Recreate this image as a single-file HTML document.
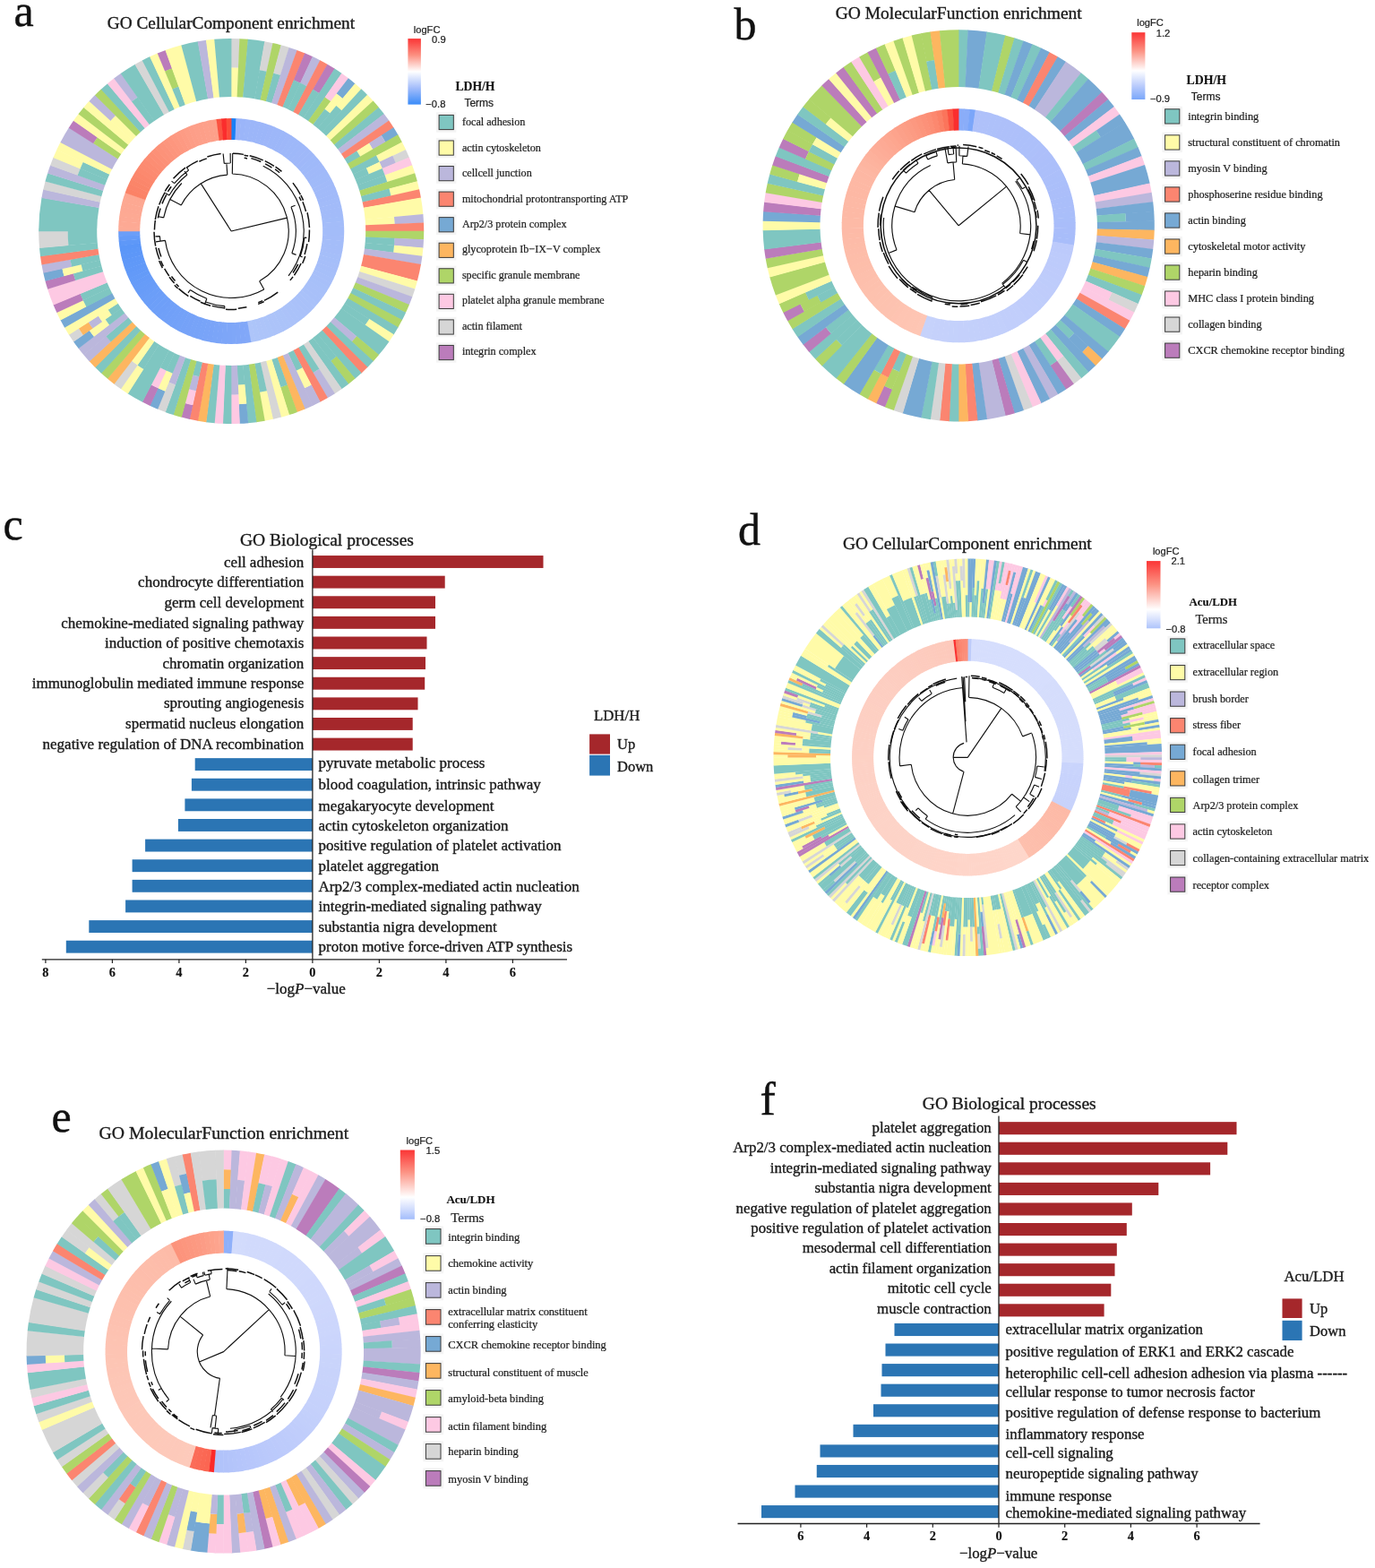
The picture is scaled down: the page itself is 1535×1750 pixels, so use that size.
<!DOCTYPE html>
<html><head><meta charset="utf-8"><title>GO enrichment figure</title>
<style>
html,body{margin:0;padding:0;background:#fff}
body{width:1535px;height:1750px;overflow:hidden}
svg{display:block;filter:blur(0.45px)}
text.s{font-family:"Liberation Serif","DejaVu Serif",serif}
text.n{font-family:"Liberation Sans","DejaVu Sans",sans-serif}
</style></head><body>
<svg width="1535" height="1750" viewBox="0 0 1535 1750">
<rect width="1535" height="1750" fill="#ffffff"/>
<g><path d="M257.97 43.00A215.00 215.00 0 0 1 267.80 43.21L266.34 75.83A182.35 182.35 0 0 0 258.01 75.65Z" fill="#d6d6d6"/><path d="M258.01 75.50A182.50 182.50 0 0 1 266.35 75.68L264.90 108.15A150.00 150.00 0 0 0 258.04 108.00Z" fill="#fffba8"/><path d="M267.35 43.19A215.00 215.00 0 0 1 277.16 43.84L271.43 108.58A150.00 150.00 0 0 0 264.59 108.14Z" fill="#afd568"/><path d="M276.71 43.80A215.00 215.00 0 0 1 295.76 46.31L284.40 110.31A150.00 150.00 0 0 0 271.12 108.56Z" fill="#7fc6c1"/><path d="M295.31 46.23A215.00 215.00 0 0 1 304.95 48.15L297.85 80.01A182.35 182.35 0 0 0 289.68 78.39Z" fill="#d6d6d6"/><path d="M289.70 78.24A182.50 182.50 0 0 1 297.89 79.87L290.82 111.59A150.00 150.00 0 0 0 284.09 110.25Z" fill="#7fc6c1"/><path d="M304.51 48.05A215.00 215.00 0 0 1 314.06 50.38L297.17 113.15A150.00 150.00 0 0 0 290.51 111.52Z" fill="#afd568"/><path d="M313.63 50.27A215.00 215.00 0 0 1 323.07 53.02L313.22 84.15A182.35 182.35 0 0 0 305.21 81.81Z" fill="#d6d6d6"/><path d="M305.25 81.67A182.50 182.50 0 0 1 313.26 84.00L303.46 114.99A150.00 150.00 0 0 0 296.87 113.07Z" fill="#7fc6c1"/><path d="M322.64 52.88A215.00 215.00 0 0 1 331.95 56.04L309.65 117.10A150.00 150.00 0 0 0 303.16 114.90Z" fill="#bbb7dc"/><path d="M331.52 55.89A215.00 215.00 0 0 1 340.68 59.45L315.75 119.48A150.00 150.00 0 0 0 309.36 116.99Z" fill="#fb8570"/><path d="M340.27 59.28A215.00 215.00 0 0 1 349.27 63.24L335.44 92.82A182.35 182.35 0 0 0 327.81 89.46Z" fill="#bb7cbb"/><path d="M327.86 89.32A182.50 182.50 0 0 1 335.50 92.68L321.74 122.12A150.00 150.00 0 0 0 315.46 119.36Z" fill="#7fc6c1"/><path d="M348.86 63.05A215.00 215.00 0 0 1 357.68 67.40L342.57 96.34A182.35 182.35 0 0 0 335.09 92.65Z" fill="#bbb7dc"/><path d="M335.15 92.52A182.50 182.50 0 0 1 342.64 96.21L327.60 125.02A150.00 150.00 0 0 0 321.45 121.99Z" fill="#7fc6c1"/><path d="M357.28 67.19A215.00 215.00 0 0 1 365.89 71.92L333.34 128.17A150.00 150.00 0 0 0 327.32 124.88Z" fill="#fb8570"/><path d="M365.50 71.69A215.00 215.00 0 0 1 373.91 76.79L356.34 104.31A182.35 182.35 0 0 0 349.21 99.98Z" fill="#bb7cbb"/><path d="M349.28 99.85A182.50 182.50 0 0 1 356.42 104.18L338.93 131.58A150.00 150.00 0 0 0 333.06 128.02Z" fill="#7fc6c1"/><path d="M373.53 76.55A215.00 215.00 0 0 1 381.70 82.01L344.37 135.22A150.00 150.00 0 0 0 338.66 131.41Z" fill="#7fc6c1"/><path d="M381.33 81.75A215.00 215.00 0 0 1 389.26 87.57L369.36 113.45A182.35 182.35 0 0 0 362.64 108.52Z" fill="#fdc9e3"/><path d="M362.72 108.40A182.50 182.50 0 0 1 369.45 113.33L349.64 139.09A150.00 150.00 0 0 0 344.11 135.04Z" fill="#afd568"/><path d="M388.91 87.29A215.00 215.00 0 0 1 396.57 93.45L382.53 110.14A193.18 193.18 0 0 0 375.64 104.61Z" fill="#76a9d4"/><path d="M375.73 104.50A193.33 193.33 0 0 1 382.63 110.03L368.59 126.73A171.52 171.52 0 0 0 362.47 121.82Z" fill="#fffba8"/><path d="M362.56 121.70A171.67 171.67 0 0 1 368.68 126.61L354.74 143.19A150.00 150.00 0 0 0 349.39 138.90Z" fill="#7fc6c1"/><path d="M396.23 93.16A215.00 215.00 0 0 1 403.62 99.64L381.53 123.69A182.35 182.35 0 0 0 375.27 118.19Z" fill="#fffba8"/><path d="M375.36 118.07A182.50 182.50 0 0 1 381.64 123.58L359.65 147.51A150.00 150.00 0 0 0 354.50 142.99Z" fill="#7fc6c1"/><path d="M403.29 99.33A215.00 215.00 0 0 1 410.39 106.13L364.38 152.05A150.00 150.00 0 0 0 359.42 147.30Z" fill="#7fc6c1"/><path d="M410.07 105.81A215.00 215.00 0 0 1 416.87 112.91L368.90 156.78A150.00 150.00 0 0 0 364.15 151.82Z" fill="#fffba8"/><path d="M416.56 112.58A215.00 215.00 0 0 1 423.04 119.97L373.21 161.70A150.00 150.00 0 0 0 368.69 156.55Z" fill="#afd568"/><path d="M422.75 119.63A215.00 215.00 0 0 1 428.91 127.29L377.30 166.81A150.00 150.00 0 0 0 373.01 161.46Z" fill="#7fc6c1"/><path d="M428.63 126.94A215.00 215.00 0 0 1 434.45 134.87L381.16 172.09A150.00 150.00 0 0 0 377.11 166.56Z" fill="#bbb7dc"/><path d="M434.19 134.50A215.00 215.00 0 0 1 439.65 142.67L384.79 177.54A150.00 150.00 0 0 0 380.98 171.83Z" fill="#fb8570"/><path d="M439.41 142.29A215.00 215.00 0 0 1 444.51 150.70L430.30 158.88A198.60 198.60 0 0 0 425.59 151.12Z" fill="#76a9d4"/><path d="M425.71 151.04A198.75 198.75 0 0 1 430.43 158.81L416.22 166.99A182.35 182.35 0 0 0 411.89 159.86Z" fill="#bbb7dc"/><path d="M412.02 159.78A182.50 182.50 0 0 1 416.35 166.92L402.13 175.10A166.10 166.10 0 0 0 398.19 168.61Z" fill="#fffba8"/><path d="M398.32 168.53A166.25 166.25 0 0 1 402.26 175.03L388.18 183.14A150.00 150.00 0 0 0 384.62 177.27Z" fill="#7fc6c1"/><path d="M444.28 150.31A215.00 215.00 0 0 1 449.01 158.92L391.32 188.88A150.00 150.00 0 0 0 388.03 182.86Z" fill="#afd568"/><path d="M448.80 158.52A215.00 215.00 0 0 1 453.15 167.34L423.55 181.11A182.35 182.35 0 0 0 419.86 173.63Z" fill="#fffba8"/><path d="M419.99 173.56A182.50 182.50 0 0 1 423.68 181.05L394.21 194.75A150.00 150.00 0 0 0 391.18 188.60Z" fill="#7fc6c1"/><path d="M452.96 166.93A215.00 215.00 0 0 1 456.92 175.93L441.76 182.19A198.60 198.60 0 0 0 438.10 173.88Z" fill="#d6d6d6"/><path d="M438.24 173.82A198.75 198.75 0 0 1 441.90 182.13L426.74 188.39A182.35 182.35 0 0 0 423.38 180.76Z" fill="#bbb7dc"/><path d="M423.52 180.70A182.50 182.50 0 0 1 426.88 188.34L411.72 194.60A166.10 166.10 0 0 0 408.66 187.65Z" fill="#fffba8"/><path d="M408.80 187.58A166.25 166.25 0 0 1 411.86 194.54L396.84 200.74A150.00 150.00 0 0 0 394.08 194.46Z" fill="#7fc6c1"/><path d="M456.75 175.52A215.00 215.00 0 0 1 460.31 184.68L429.62 195.81A182.35 182.35 0 0 0 426.60 188.04Z" fill="#fdc9e3"/><path d="M426.73 187.98A182.50 182.50 0 0 1 429.76 195.76L399.21 206.84A150.00 150.00 0 0 0 396.72 200.45Z" fill="#7fc6c1"/><path d="M460.16 184.25A215.00 215.00 0 0 1 463.32 193.56L432.17 203.35A182.35 182.35 0 0 0 429.49 195.45Z" fill="#fffba8"/><path d="M429.63 195.40A182.50 182.50 0 0 1 432.31 203.30L401.30 213.04A150.00 150.00 0 0 0 399.10 206.55Z" fill="#7fc6c1"/><path d="M463.18 193.13A215.00 215.00 0 0 1 465.93 202.57L403.13 219.33A150.00 150.00 0 0 0 401.21 212.74Z" fill="#afd568"/><path d="M465.82 202.14A215.00 215.00 0 0 1 468.15 211.69L436.27 218.72A182.35 182.35 0 0 0 434.29 210.62Z" fill="#fffba8"/><path d="M434.43 210.58A182.50 182.50 0 0 1 436.42 218.69L404.68 225.69A150.00 150.00 0 0 0 403.05 219.03Z" fill="#7fc6c1"/><path d="M468.05 211.25A215.00 215.00 0 0 1 469.97 220.89L405.95 232.11A150.00 150.00 0 0 0 404.61 225.38Z" fill="#fb8570"/><path d="M469.89 220.44A215.00 215.00 0 0 1 472.40 239.49L407.64 245.08A150.00 150.00 0 0 0 405.89 231.80Z" fill="#fffba8"/><path d="M472.36 239.04A215.00 215.00 0 0 1 473.01 248.85L440.38 250.24A182.35 182.35 0 0 0 439.84 241.92Z" fill="#bbb7dc"/><path d="M439.99 241.90A182.50 182.50 0 0 1 440.53 250.23L408.06 251.61A150.00 150.00 0 0 0 407.62 244.77Z" fill="#fffba8"/><path d="M472.99 248.40A215.00 215.00 0 0 1 473.20 258.23L408.20 258.16A150.00 150.00 0 0 0 408.05 251.30Z" fill="#fb8570"/><path d="M473.20 257.77A215.00 215.00 0 0 1 472.99 267.60L408.05 264.70A150.00 150.00 0 0 0 408.20 257.84Z" fill="#afd568"/><path d="M473.01 267.15A215.00 215.00 0 0 1 472.36 276.96L439.84 274.08A182.35 182.35 0 0 0 440.38 265.76Z" fill="#bbb7dc"/><path d="M440.53 265.77A182.50 182.50 0 0 1 439.99 274.10L407.62 271.23A150.00 150.00 0 0 0 408.06 264.39Z" fill="#7fc6c1"/><path d="M472.40 276.51A215.00 215.00 0 0 1 471.33 286.29L438.96 281.99A182.35 182.35 0 0 0 439.87 273.70Z" fill="#fffba8"/><path d="M440.02 273.72A182.50 182.50 0 0 1 439.11 282.01L406.90 277.73A150.00 150.00 0 0 0 407.64 270.92Z" fill="#7fc6c1"/><path d="M471.39 285.84A215.00 215.00 0 0 1 469.89 295.56L405.89 284.20A150.00 150.00 0 0 0 406.94 277.42Z" fill="#bbb7dc"/><path d="M469.97 295.11A215.00 215.00 0 0 1 465.82 313.86L403.05 296.97A150.00 150.00 0 0 0 405.95 283.89Z" fill="#fb8570"/><path d="M465.93 313.43A215.00 215.00 0 0 1 463.18 322.87L401.21 303.26A150.00 150.00 0 0 0 403.13 296.67Z" fill="#fffba8"/><path d="M463.32 322.44A215.00 215.00 0 0 1 460.16 331.75L399.10 309.45A150.00 150.00 0 0 0 401.30 302.96Z" fill="#d6d6d6"/><path d="M460.31 331.32A215.00 215.00 0 0 1 456.75 340.48L396.72 315.55A150.00 150.00 0 0 0 399.21 309.16Z" fill="#bbb7dc"/><path d="M456.92 340.07A215.00 215.00 0 0 1 452.96 349.07L394.08 321.54A150.00 150.00 0 0 0 396.84 315.26Z" fill="#afd568"/><path d="M453.15 348.66A215.00 215.00 0 0 1 448.80 357.48L391.18 327.40A150.00 150.00 0 0 0 394.21 321.25Z" fill="#7fc6c1"/><path d="M449.01 357.08A215.00 215.00 0 0 1 444.28 365.69L388.03 333.14A150.00 150.00 0 0 0 391.32 327.12Z" fill="#afd568"/><path d="M444.51 365.30A215.00 215.00 0 0 1 439.41 373.71L384.62 338.73A150.00 150.00 0 0 0 388.18 332.86Z" fill="#7fc6c1"/><path d="M439.65 373.33A215.00 215.00 0 0 1 434.19 381.50L407.46 362.75A182.35 182.35 0 0 0 412.09 355.82Z" fill="#fffba8"/><path d="M412.22 355.90A182.50 182.50 0 0 1 407.59 362.83L380.98 344.17A150.00 150.00 0 0 0 384.79 338.46Z" fill="#7fc6c1"/><path d="M434.45 381.13A215.00 215.00 0 0 1 422.75 396.37L373.01 354.54A150.00 150.00 0 0 0 381.16 343.91Z" fill="#7fc6c1"/><path d="M423.04 396.03A215.00 215.00 0 0 1 416.56 403.42L392.51 381.33A182.35 182.35 0 0 0 398.01 375.07Z" fill="#afd568"/><path d="M398.13 375.16A182.50 182.50 0 0 1 392.62 381.44L368.69 359.45A150.00 150.00 0 0 0 373.21 354.30Z" fill="#bbb7dc"/><path d="M416.87 403.09A215.00 215.00 0 0 1 410.07 410.19L364.15 364.18A150.00 150.00 0 0 0 368.90 359.22Z" fill="#7fc6c1"/><path d="M410.39 409.87A215.00 215.00 0 0 1 403.29 416.67L359.42 368.70A150.00 150.00 0 0 0 364.38 363.95Z" fill="#fb8570"/><path d="M403.62 416.36A215.00 215.00 0 0 1 396.23 422.84L354.50 373.01A150.00 150.00 0 0 0 359.65 368.49Z" fill="#7fc6c1"/><path d="M396.57 422.55A215.00 215.00 0 0 1 388.91 428.71L369.06 402.78A182.35 182.35 0 0 0 375.56 397.57Z" fill="#afd568"/><path d="M375.66 397.68A182.50 182.50 0 0 1 369.15 402.90L349.39 377.10A150.00 150.00 0 0 0 354.74 372.81Z" fill="#7fc6c1"/><path d="M389.26 428.43A215.00 215.00 0 0 1 381.33 434.25L344.11 380.96A150.00 150.00 0 0 0 349.64 376.91Z" fill="#7fc6c1"/><path d="M381.70 433.99A215.00 215.00 0 0 1 373.53 439.45L338.66 384.59A150.00 150.00 0 0 0 344.37 380.78Z" fill="#d6d6d6"/><path d="M373.91 439.21A215.00 215.00 0 0 1 365.50 444.31L349.21 416.02A182.35 182.35 0 0 0 356.34 411.69Z" fill="#bbb7dc"/><path d="M356.42 411.82A182.50 182.50 0 0 1 349.28 416.15L333.06 387.98A150.00 150.00 0 0 0 338.93 384.42Z" fill="#7fc6c1"/><path d="M365.89 444.08A215.00 215.00 0 0 1 357.28 448.81L327.32 391.12A150.00 150.00 0 0 0 333.34 387.83Z" fill="#fb8570"/><path d="M357.68 448.60A215.00 215.00 0 0 1 348.86 452.95L339.66 433.17A193.18 193.18 0 0 0 347.58 429.26Z" fill="#bbb7dc"/><path d="M347.65 429.40A193.33 193.33 0 0 1 339.72 433.30L330.52 413.52A171.52 171.52 0 0 0 337.56 410.05Z" fill="#fffba8"/><path d="M337.63 410.19A171.67 171.67 0 0 1 330.59 413.66L321.45 394.01A150.00 150.00 0 0 0 327.60 390.98Z" fill="#7fc6c1"/><path d="M349.27 452.76A215.00 215.00 0 0 1 340.27 456.72L315.46 396.64A150.00 150.00 0 0 0 321.74 393.88Z" fill="#bbb7dc"/><path d="M340.68 456.55A215.00 215.00 0 0 1 331.52 460.11L309.36 399.01A150.00 150.00 0 0 0 315.75 396.52Z" fill="#fdb660"/><path d="M331.95 459.96A215.00 215.00 0 0 1 322.64 463.12L312.85 431.97A182.35 182.35 0 0 0 320.75 429.29Z" fill="#afd568"/><path d="M320.80 429.43A182.50 182.50 0 0 1 312.90 432.11L303.16 401.10A150.00 150.00 0 0 0 309.65 398.90Z" fill="#7fc6c1"/><path d="M323.07 462.98A215.00 215.00 0 0 1 313.63 465.73L296.87 402.93A150.00 150.00 0 0 0 303.46 401.01Z" fill="#fffba8"/><path d="M314.06 465.62A215.00 215.00 0 0 1 304.51 467.95L290.51 404.48A150.00 150.00 0 0 0 297.17 402.85Z" fill="#d6d6d6"/><path d="M304.95 467.85A215.00 215.00 0 0 1 295.31 469.77L289.68 437.61A182.35 182.35 0 0 0 297.85 435.99Z" fill="#fffba8"/><path d="M297.89 436.13A182.50 182.50 0 0 1 289.70 437.76L284.09 405.75A150.00 150.00 0 0 0 290.82 404.41Z" fill="#7fc6c1"/><path d="M295.76 469.69A215.00 215.00 0 0 1 286.04 471.19L277.62 406.74A150.00 150.00 0 0 0 284.40 405.69Z" fill="#afd568"/><path d="M286.49 471.13A215.00 215.00 0 0 1 276.71 472.20L271.12 407.44A150.00 150.00 0 0 0 277.93 406.70Z" fill="#7fc6c1"/><path d="M277.16 472.16A215.00 215.00 0 0 1 267.35 472.81L266.42 451.01A193.18 193.18 0 0 0 275.24 450.43Z" fill="#76a9d4"/><path d="M275.25 450.58A193.33 193.33 0 0 1 266.43 451.16L265.50 429.36A171.52 171.52 0 0 0 273.33 428.85Z" fill="#fffba8"/><path d="M273.34 429.00A171.67 171.67 0 0 1 265.51 429.51L264.59 407.86A150.00 150.00 0 0 0 271.43 407.42Z" fill="#7fc6c1"/><path d="M267.80 472.79A215.00 215.00 0 0 1 257.97 473.00L258.01 440.35A182.35 182.35 0 0 0 266.34 440.17Z" fill="#fdc9e3"/><path d="M266.35 440.32A182.50 182.50 0 0 1 258.01 440.50L258.04 408.00A150.00 150.00 0 0 0 264.90 407.85Z" fill="#bbb7dc"/><path d="M258.43 473.00A215.00 215.00 0 0 1 248.60 472.79L251.50 407.85A150.00 150.00 0 0 0 258.36 408.00Z" fill="#7fc6c1"/><path d="M249.05 472.81A215.00 215.00 0 0 1 239.24 472.16L244.97 407.42A150.00 150.00 0 0 0 251.81 407.86Z" fill="#fdc9e3"/><path d="M239.69 472.20A215.00 215.00 0 0 1 229.91 471.13L238.47 406.70A150.00 150.00 0 0 0 245.28 407.44Z" fill="#7fc6c1"/><path d="M230.36 471.19A215.00 215.00 0 0 1 220.64 469.69L232.00 405.69A150.00 150.00 0 0 0 238.78 406.74Z" fill="#fdb660"/><path d="M221.09 469.77A215.00 215.00 0 0 1 211.45 467.85L225.58 404.41A150.00 150.00 0 0 0 232.31 405.75Z" fill="#fb8570"/><path d="M211.89 467.95A215.00 215.00 0 0 1 202.34 465.62L206.60 449.78A198.60 198.60 0 0 0 215.42 451.94Z" fill="#bb7cbb"/><path d="M215.39 452.08A198.75 198.75 0 0 1 206.56 449.92L210.82 434.09A182.35 182.35 0 0 0 218.92 436.07Z" fill="#fdc9e3"/><path d="M218.89 436.22A182.50 182.50 0 0 1 210.78 434.23L215.04 418.40A166.10 166.10 0 0 0 222.42 420.20Z" fill="#bbb7dc"/><path d="M222.39 420.35A166.25 166.25 0 0 1 215.00 418.54L219.23 402.85A150.00 150.00 0 0 0 225.89 404.48Z" fill="#7fc6c1"/><path d="M202.77 465.73A215.00 215.00 0 0 1 193.33 462.98L212.94 401.01A150.00 150.00 0 0 0 219.53 402.93Z" fill="#afd568"/><path d="M193.76 463.12A215.00 215.00 0 0 1 184.45 459.96L206.75 398.90A150.00 150.00 0 0 0 213.24 401.10Z" fill="#7fc6c1"/><path d="M184.88 460.11A215.00 215.00 0 0 1 175.72 456.55L188.24 426.40A182.35 182.35 0 0 0 196.01 429.42Z" fill="#d6d6d6"/><path d="M195.96 429.56A182.50 182.50 0 0 1 188.18 426.53L200.65 396.52A150.00 150.00 0 0 0 207.04 399.01Z" fill="#bbb7dc"/><path d="M176.13 456.72A215.00 215.00 0 0 1 167.13 452.76L176.37 433.00A193.18 193.18 0 0 0 184.46 436.56Z" fill="#76a9d4"/><path d="M184.40 436.69A193.33 193.33 0 0 1 176.31 433.13L185.55 413.37A171.52 171.52 0 0 0 192.73 416.53Z" fill="#fffba8"/><path d="M192.67 416.67A171.67 171.67 0 0 1 185.49 413.51L194.66 393.88A150.00 150.00 0 0 0 200.94 396.64Z" fill="#7fc6c1"/><path d="M167.54 452.95A215.00 215.00 0 0 1 158.72 448.60L168.82 429.26A193.18 193.18 0 0 0 176.74 433.17Z" fill="#bb7cbb"/><path d="M176.68 433.30A193.33 193.33 0 0 1 168.75 429.40L178.84 410.05A171.52 171.52 0 0 0 185.88 413.52Z" fill="#fdc9e3"/><path d="M185.81 413.66A171.67 171.67 0 0 1 178.77 410.19L188.80 390.98A150.00 150.00 0 0 0 194.95 394.01Z" fill="#7fc6c1"/><path d="M159.12 448.81A215.00 215.00 0 0 1 142.49 439.21L177.47 384.42A150.00 150.00 0 0 0 189.08 391.12Z" fill="#7fc6c1"/><path d="M142.87 439.45A215.00 215.00 0 0 1 134.70 433.99L153.45 407.26A182.35 182.35 0 0 0 160.38 411.89Z" fill="#fffba8"/><path d="M160.30 412.02A182.50 182.50 0 0 1 153.37 407.39L172.03 380.78A150.00 150.00 0 0 0 177.74 384.59Z" fill="#7fc6c1"/><path d="M135.07 434.25A215.00 215.00 0 0 1 127.14 428.43L147.04 402.55A182.35 182.35 0 0 0 153.76 407.48Z" fill="#d6d6d6"/><path d="M153.68 407.60A182.50 182.50 0 0 1 146.95 402.67L166.76 376.91A150.00 150.00 0 0 0 172.29 380.96Z" fill="#fffba8"/><path d="M127.49 428.71A215.00 215.00 0 0 1 119.83 422.55L161.66 372.81A150.00 150.00 0 0 0 167.01 377.10Z" fill="#fdb660"/><path d="M120.17 422.84A215.00 215.00 0 0 1 112.78 416.36L156.75 368.49A150.00 150.00 0 0 0 161.90 373.01Z" fill="#afd568"/><path d="M113.11 416.67A215.00 215.00 0 0 1 106.01 409.87L152.02 363.95A150.00 150.00 0 0 0 156.98 368.70Z" fill="#7fc6c1"/><path d="M106.33 410.19A215.00 215.00 0 0 1 99.53 403.09L147.50 359.22A150.00 150.00 0 0 0 152.25 364.18Z" fill="#fdb660"/><path d="M99.84 403.42A215.00 215.00 0 0 1 93.36 396.03L118.39 375.07A182.35 182.35 0 0 0 123.89 381.33Z" fill="#bbb7dc"/><path d="M123.78 381.44A182.50 182.50 0 0 1 118.27 375.16L143.19 354.30A150.00 150.00 0 0 0 147.71 359.45Z" fill="#7fc6c1"/><path d="M93.65 396.37A215.00 215.00 0 0 1 87.49 388.71L139.10 349.19A150.00 150.00 0 0 0 143.39 354.54Z" fill="#bbb7dc"/><path d="M87.77 389.06A215.00 215.00 0 0 1 81.95 381.13L99.84 368.64A193.18 193.18 0 0 0 105.06 375.76Z" fill="#76a9d4"/><path d="M104.94 375.85A193.33 193.33 0 0 1 99.71 368.73L117.60 356.23A171.52 171.52 0 0 0 122.24 362.56Z" fill="#fffba8"/><path d="M122.12 362.65A171.67 171.67 0 0 1 117.48 356.32L135.24 343.91A150.00 150.00 0 0 0 139.29 349.44Z" fill="#7fc6c1"/><path d="M82.21 381.50A215.00 215.00 0 0 1 76.75 373.33L87.85 366.28A201.85 201.85 0 0 0 92.98 373.95Z" fill="#d6d6d6"/><path d="M92.85 374.04A202.00 202.00 0 0 1 87.72 366.36L98.82 359.30A188.85 188.85 0 0 0 103.62 366.48Z" fill="#fdb660"/><path d="M103.49 366.57A189.00 189.00 0 0 1 98.69 359.38L109.79 352.33A175.85 175.85 0 0 0 114.26 359.01Z" fill="#bbb7dc"/><path d="M114.14 359.10A176.00 176.00 0 0 1 109.66 352.41L120.76 345.36A162.85 162.85 0 0 0 124.90 351.55Z" fill="#fffba8"/><path d="M124.78 351.63A163.00 163.00 0 0 1 120.64 345.44L131.61 338.46A150.00 150.00 0 0 0 135.42 344.17Z" fill="#7fc6c1"/><path d="M76.99 373.71A215.00 215.00 0 0 1 71.89 365.30L128.22 332.86A150.00 150.00 0 0 0 131.78 338.73Z" fill="#fffba8"/><path d="M72.12 365.69A215.00 215.00 0 0 1 67.39 357.08L125.08 327.12A150.00 150.00 0 0 0 128.37 333.14Z" fill="#76a9d4"/><path d="M67.60 357.48A215.00 215.00 0 0 1 63.25 348.66L92.85 334.89A182.35 182.35 0 0 0 96.54 342.37Z" fill="#fffba8"/><path d="M96.41 342.44A182.50 182.50 0 0 1 92.72 334.95L122.19 321.25A150.00 150.00 0 0 0 125.22 327.40Z" fill="#7fc6c1"/><path d="M63.44 349.07A215.00 215.00 0 0 1 59.48 340.07L89.66 327.61A182.35 182.35 0 0 0 93.02 335.24Z" fill="#bb7cbb"/><path d="M92.88 335.30A182.50 182.50 0 0 1 89.52 327.66L119.56 315.26A150.00 150.00 0 0 0 122.32 321.54Z" fill="#7fc6c1"/><path d="M59.65 340.48A215.00 215.00 0 0 1 53.08 322.44L115.10 302.96A150.00 150.00 0 0 0 119.68 315.55Z" fill="#fdc9e3"/><path d="M53.22 322.87A215.00 215.00 0 0 1 50.47 313.43L82.01 305.01A182.35 182.35 0 0 0 84.35 313.02Z" fill="#bb7cbb"/><path d="M84.20 313.06A182.50 182.50 0 0 1 81.87 305.05L113.27 296.67A150.00 150.00 0 0 0 115.19 303.26Z" fill="#7fc6c1"/><path d="M50.58 313.86A215.00 215.00 0 0 1 48.25 304.31L69.55 299.61A193.18 193.18 0 0 0 71.65 308.19Z" fill="#76a9d4"/><path d="M71.51 308.23A193.33 193.33 0 0 1 69.41 299.65L90.71 294.95A171.52 171.52 0 0 0 92.57 302.57Z" fill="#fffba8"/><path d="M92.43 302.60A171.67 171.67 0 0 1 90.56 294.98L111.72 290.31A150.00 150.00 0 0 0 113.35 296.97Z" fill="#7fc6c1"/><path d="M48.35 304.75A215.00 215.00 0 0 1 46.43 295.11L78.59 289.48A182.35 182.35 0 0 0 80.21 297.65Z" fill="#bbb7dc"/><path d="M80.07 297.69A182.50 182.50 0 0 1 78.44 289.50L110.45 283.89A150.00 150.00 0 0 0 111.79 290.62Z" fill="#7fc6c1"/><path d="M46.51 295.56A215.00 215.00 0 0 1 45.01 285.84L109.46 277.42A150.00 150.00 0 0 0 110.51 284.20Z" fill="#fb8570"/><path d="M45.07 286.29A215.00 215.00 0 0 1 44.00 276.51L108.76 270.92A150.00 150.00 0 0 0 109.50 277.73Z" fill="#7fc6c1"/><path d="M44.04 276.96A215.00 215.00 0 0 1 43.20 257.77L75.85 257.81A182.35 182.35 0 0 0 76.56 274.08Z" fill="#d6d6d6"/><path d="M76.41 274.10A182.50 182.50 0 0 1 75.70 257.81L108.20 257.84A150.00 150.00 0 0 0 108.78 271.23Z" fill="#7fc6c1"/><path d="M43.20 258.23A215.00 215.00 0 0 1 46.51 220.44L110.51 231.80A150.00 150.00 0 0 0 108.20 258.16Z" fill="#7fc6c1"/><path d="M46.43 220.89A215.00 215.00 0 0 1 48.35 211.25L111.79 225.38A150.00 150.00 0 0 0 110.45 232.11Z" fill="#bbb7dc"/><path d="M48.25 211.69A215.00 215.00 0 0 1 50.58 202.14L113.35 219.03A150.00 150.00 0 0 0 111.72 225.69Z" fill="#d6d6d6"/><path d="M50.47 202.57A215.00 215.00 0 0 1 53.22 193.13L115.19 212.74A150.00 150.00 0 0 0 113.27 219.33Z" fill="#7fc6c1"/><path d="M53.08 193.56A215.00 215.00 0 0 1 56.24 184.25L117.30 206.55A150.00 150.00 0 0 0 115.10 213.04Z" fill="#bbb7dc"/><path d="M56.09 184.68A215.00 215.00 0 0 1 59.65 175.52L89.80 188.04A182.35 182.35 0 0 0 86.78 195.81Z" fill="#d6d6d6"/><path d="M86.64 195.76A182.50 182.50 0 0 1 89.67 187.98L119.68 200.45A150.00 150.00 0 0 0 117.19 206.84Z" fill="#7fc6c1"/><path d="M59.48 175.93A215.00 215.00 0 0 1 63.44 166.93L93.02 180.76A182.35 182.35 0 0 0 89.66 188.39Z" fill="#fffba8"/><path d="M89.52 188.34A182.50 182.50 0 0 1 92.88 180.70L122.32 194.46A150.00 150.00 0 0 0 119.56 200.74Z" fill="#7fc6c1"/><path d="M63.25 167.34A215.00 215.00 0 0 1 67.60 158.52L125.22 188.60A150.00 150.00 0 0 0 122.19 194.75Z" fill="#fffba8"/><path d="M67.39 158.92A215.00 215.00 0 0 1 76.99 142.29L131.78 177.27A150.00 150.00 0 0 0 125.08 188.88Z" fill="#bbb7dc"/><path d="M76.75 142.67A215.00 215.00 0 0 1 82.21 134.50L108.94 153.25A182.35 182.35 0 0 0 104.31 160.18Z" fill="#bb7cbb"/><path d="M104.18 160.10A182.50 182.50 0 0 1 108.81 153.17L135.42 171.83A150.00 150.00 0 0 0 131.61 177.54Z" fill="#afd568"/><path d="M81.95 134.87A215.00 215.00 0 0 1 87.77 126.94L139.29 166.56A150.00 150.00 0 0 0 135.24 172.09Z" fill="#fffba8"/><path d="M87.49 127.29A215.00 215.00 0 0 1 93.65 119.63L143.39 161.46A150.00 150.00 0 0 0 139.10 166.81Z" fill="#afd568"/><path d="M93.36 119.97A215.00 215.00 0 0 1 99.84 112.58L147.71 156.55A150.00 150.00 0 0 0 143.19 161.70Z" fill="#fffba8"/><path d="M99.53 112.91A215.00 215.00 0 0 1 106.33 105.81L129.39 128.92A182.35 182.35 0 0 0 123.63 134.95Z" fill="#bbb7dc"/><path d="M123.52 134.85A182.50 182.50 0 0 1 129.29 128.82L152.25 151.82A150.00 150.00 0 0 0 147.50 156.78Z" fill="#fffba8"/><path d="M106.01 106.13A215.00 215.00 0 0 1 113.11 99.33L156.98 147.30A150.00 150.00 0 0 0 152.02 152.05Z" fill="#afd568"/><path d="M112.78 99.64A215.00 215.00 0 0 1 120.17 93.16L161.90 142.99A150.00 150.00 0 0 0 156.75 147.51Z" fill="#7fc6c1"/><path d="M119.83 93.45A215.00 215.00 0 0 1 127.49 87.29L167.01 138.90A150.00 150.00 0 0 0 161.66 143.19Z" fill="#fdc9e3"/><path d="M127.14 87.57A215.00 215.00 0 0 1 135.07 81.75L153.76 108.52A182.35 182.35 0 0 0 147.04 113.45Z" fill="#bbb7dc"/><path d="M146.95 113.33A182.50 182.50 0 0 1 153.68 108.40L172.29 135.04A150.00 150.00 0 0 0 166.76 139.09Z" fill="#7fc6c1"/><path d="M134.70 82.01A215.00 215.00 0 0 1 150.90 71.69L183.34 128.02A150.00 150.00 0 0 0 172.03 135.22Z" fill="#7fc6c1"/><path d="M150.51 71.92A215.00 215.00 0 0 1 159.12 67.19L189.08 124.88A150.00 150.00 0 0 0 183.06 128.17Z" fill="#d6d6d6"/><path d="M158.72 67.40A215.00 215.00 0 0 1 167.54 63.05L194.95 121.99A150.00 150.00 0 0 0 188.80 125.02Z" fill="#7fc6c1"/><path d="M167.13 63.24A215.00 215.00 0 0 1 176.13 59.28L200.94 119.36A150.00 150.00 0 0 0 194.66 122.12Z" fill="#fffba8"/><path d="M175.72 59.45A215.00 215.00 0 0 1 184.88 55.89L192.32 76.40A193.18 193.18 0 0 0 184.09 79.60Z" fill="#bb7cbb"/><path d="M184.03 79.46A193.33 193.33 0 0 1 192.27 76.26L199.71 96.77A171.52 171.52 0 0 0 192.40 99.61Z" fill="#afd568"/><path d="M192.34 99.47A171.67 171.67 0 0 1 199.66 96.62L207.04 116.99A150.00 150.00 0 0 0 200.65 119.48Z" fill="#7fc6c1"/><path d="M184.45 56.04A215.00 215.00 0 0 1 202.77 50.27L219.53 113.07A150.00 150.00 0 0 0 206.75 117.10Z" fill="#fffba8"/><path d="M202.34 50.38A215.00 215.00 0 0 1 221.09 46.23L232.31 110.25A150.00 150.00 0 0 0 219.23 113.15Z" fill="#7fc6c1"/><path d="M220.64 46.31A215.00 215.00 0 0 1 230.36 44.81L238.78 109.26A150.00 150.00 0 0 0 232.00 110.31Z" fill="#bbb7dc"/><path d="M229.91 44.87A215.00 215.00 0 0 1 239.69 43.80L245.28 108.56A150.00 150.00 0 0 0 238.47 109.30Z" fill="#fffba8"/><path d="M239.24 43.84A215.00 215.00 0 0 1 258.43 43.00L258.36 108.00A150.00 150.00 0 0 0 244.97 108.58Z" fill="#7fc6c1"/></g>
<g><path d="M257.94 132.00A126.00 126.00 0 0 1 263.96 132.13L262.86 156.11A102.00 102.00 0 0 0 257.99 156.00Z" fill="#1a80f6"/><path d="M263.43 132.11A126.00 126.00 0 0 1 269.44 132.50L267.30 156.41A102.00 102.00 0 0 0 262.44 156.09Z" fill="#9bb5f9"/><path d="M268.92 132.46A126.00 126.00 0 0 1 274.91 133.11L271.73 156.90A102.00 102.00 0 0 0 266.88 156.37Z" fill="#9bb5f9"/><path d="M274.38 133.04A126.00 126.00 0 0 1 280.34 133.96L276.12 157.59A102.00 102.00 0 0 0 271.30 156.84Z" fill="#9cb6f9"/><path d="M279.82 133.87A126.00 126.00 0 0 1 285.73 135.04L280.49 158.46A102.00 102.00 0 0 0 275.70 157.51Z" fill="#9cb6f9"/><path d="M285.21 134.93A126.00 126.00 0 0 1 291.07 136.36L284.81 159.53A102.00 102.00 0 0 0 280.07 158.37Z" fill="#9cb6f9"/><path d="M290.56 136.23A126.00 126.00 0 0 1 296.34 137.91L289.08 160.79A102.00 102.00 0 0 0 284.39 159.42Z" fill="#9cb6f9"/><path d="M295.84 137.75A126.00 126.00 0 0 1 301.54 139.69L293.29 162.22A102.00 102.00 0 0 0 288.67 160.66Z" fill="#9cb6f9"/><path d="M301.05 139.51A126.00 126.00 0 0 1 306.66 141.69L297.43 163.85A102.00 102.00 0 0 0 292.89 162.08Z" fill="#9db6f9"/><path d="M306.17 141.49A126.00 126.00 0 0 1 311.69 143.92L301.50 165.65A102.00 102.00 0 0 0 297.04 163.68Z" fill="#9db7f9"/><path d="M311.21 143.69A126.00 126.00 0 0 1 316.61 146.36L305.49 167.62A102.00 102.00 0 0 0 301.11 165.47Z" fill="#9db7f9"/><path d="M316.15 146.12A126.00 126.00 0 0 1 321.43 149.01L309.38 169.77A102.00 102.00 0 0 0 305.11 167.43Z" fill="#9db7f9"/><path d="M320.97 148.75A126.00 126.00 0 0 1 326.12 151.87L313.18 172.09A102.00 102.00 0 0 0 309.01 169.56Z" fill="#9eb7f9"/><path d="M325.68 151.59A126.00 126.00 0 0 1 330.69 154.94L316.88 174.57A102.00 102.00 0 0 0 312.82 171.86Z" fill="#9eb8f9"/><path d="M330.25 154.64A126.00 126.00 0 0 1 335.11 158.20L320.46 177.21A102.00 102.00 0 0 0 316.53 174.32Z" fill="#9eb8f9"/><path d="M334.69 157.88A126.00 126.00 0 0 1 339.39 161.65L323.93 180.00A102.00 102.00 0 0 0 320.12 176.95Z" fill="#9eb8f9"/><path d="M338.99 161.31A126.00 126.00 0 0 1 343.52 165.28L327.27 182.94A102.00 102.00 0 0 0 323.60 179.73Z" fill="#9fb8f9"/><path d="M343.13 164.92A126.00 126.00 0 0 1 347.48 169.09L330.48 186.03A102.00 102.00 0 0 0 326.95 182.65Z" fill="#9fb8f9"/><path d="M347.11 168.72A126.00 126.00 0 0 1 351.28 173.07L333.55 189.25A102.00 102.00 0 0 0 330.17 185.72Z" fill="#9fb8f9"/><path d="M350.92 172.68A126.00 126.00 0 0 1 354.89 177.21L336.47 192.60A102.00 102.00 0 0 0 333.26 188.93Z" fill="#9fb9f9"/><path d="M354.55 176.81A126.00 126.00 0 0 1 358.32 181.51L339.25 196.08A102.00 102.00 0 0 0 336.20 192.27Z" fill="#9fb9f9"/><path d="M358.00 181.09A126.00 126.00 0 0 1 361.56 185.95L341.88 199.67A102.00 102.00 0 0 0 338.99 195.74Z" fill="#a0b9f9"/><path d="M361.26 185.51A126.00 126.00 0 0 1 364.61 190.52L344.34 203.38A102.00 102.00 0 0 0 341.63 199.32Z" fill="#a0b9f9"/><path d="M364.33 190.08A126.00 126.00 0 0 1 367.45 195.23L346.64 207.19A102.00 102.00 0 0 0 344.11 203.02Z" fill="#a0baf9"/><path d="M367.19 194.77A126.00 126.00 0 0 1 370.08 200.05L348.77 211.09A102.00 102.00 0 0 0 346.43 206.82Z" fill="#a0baf9"/><path d="M369.84 199.59A126.00 126.00 0 0 1 372.51 204.99L350.73 215.09A102.00 102.00 0 0 0 348.58 210.71Z" fill="#a1baf9"/><path d="M372.28 204.51A126.00 126.00 0 0 1 374.71 210.03L352.52 219.16A102.00 102.00 0 0 0 350.55 214.70Z" fill="#a1baf9"/><path d="M374.51 209.54A126.00 126.00 0 0 1 376.69 215.15L354.12 223.31A102.00 102.00 0 0 0 352.35 218.77Z" fill="#a1baf9"/><path d="M376.51 214.66A126.00 126.00 0 0 1 378.45 220.36L355.54 227.53A102.00 102.00 0 0 0 353.98 222.91Z" fill="#a1baf9"/><path d="M378.29 219.86A126.00 126.00 0 0 1 379.97 225.64L356.78 231.81A102.00 102.00 0 0 0 355.41 227.12Z" fill="#a2bbf9"/><path d="M379.84 225.13A126.00 126.00 0 0 1 381.27 230.99L357.83 236.13A102.00 102.00 0 0 0 356.67 231.39Z" fill="#a2bbf9"/><path d="M381.16 230.47A126.00 126.00 0 0 1 382.33 236.38L358.69 240.50A102.00 102.00 0 0 0 357.74 235.71Z" fill="#a2bbf9"/><path d="M382.24 235.86A126.00 126.00 0 0 1 383.16 241.82L359.36 244.90A102.00 102.00 0 0 0 358.61 240.08Z" fill="#a2bbf9"/><path d="M383.09 241.29A126.00 126.00 0 0 1 383.74 247.28L359.83 249.32A102.00 102.00 0 0 0 359.30 244.47Z" fill="#a2bcf9"/><path d="M383.70 246.76A126.00 126.00 0 0 1 384.09 252.77L360.11 253.76A102.00 102.00 0 0 0 359.79 248.90Z" fill="#a3bcf9"/><path d="M384.07 252.24A126.00 126.00 0 0 1 384.20 258.26L360.20 258.21A102.00 102.00 0 0 0 360.09 253.34Z" fill="#a3bcf9"/><path d="M384.20 257.74A126.00 126.00 0 0 1 384.07 263.76L360.09 262.66A102.00 102.00 0 0 0 360.20 257.79Z" fill="#a3bcf9"/><path d="M384.09 263.23A126.00 126.00 0 0 1 383.70 269.24L359.79 267.10A102.00 102.00 0 0 0 360.11 262.24Z" fill="#a4bcf9"/><path d="M383.74 268.72A126.00 126.00 0 0 1 383.09 274.71L359.30 271.53A102.00 102.00 0 0 0 359.83 266.68Z" fill="#a4bdf9"/><path d="M383.16 274.18A126.00 126.00 0 0 1 382.24 280.14L358.61 275.92A102.00 102.00 0 0 0 359.36 271.10Z" fill="#a4bdf9"/><path d="M382.33 279.62A126.00 126.00 0 0 1 381.16 285.53L357.74 280.29A102.00 102.00 0 0 0 358.69 275.50Z" fill="#a5bdf9"/><path d="M381.27 285.01A126.00 126.00 0 0 1 379.84 290.87L356.67 284.61A102.00 102.00 0 0 0 357.83 279.87Z" fill="#a5bef9"/><path d="M379.97 290.36A126.00 126.00 0 0 1 378.29 296.14L355.41 288.88A102.00 102.00 0 0 0 356.78 284.19Z" fill="#a5bef9"/><path d="M378.45 295.64A126.00 126.00 0 0 1 376.51 301.34L353.98 293.09A102.00 102.00 0 0 0 355.54 288.47Z" fill="#a6bef9"/><path d="M376.69 300.85A126.00 126.00 0 0 1 374.51 306.46L352.35 297.23A102.00 102.00 0 0 0 354.12 292.69Z" fill="#a6bef9"/><path d="M374.71 305.97A126.00 126.00 0 0 1 372.28 311.49L350.55 301.30A102.00 102.00 0 0 0 352.52 296.84Z" fill="#a6bff9"/><path d="M372.51 311.01A126.00 126.00 0 0 1 369.84 316.41L348.58 305.29A102.00 102.00 0 0 0 350.73 300.91Z" fill="#a7bff9"/><path d="M370.08 315.95A126.00 126.00 0 0 1 367.19 321.23L346.43 309.18A102.00 102.00 0 0 0 348.77 304.91Z" fill="#a7bff9"/><path d="M367.45 320.77A126.00 126.00 0 0 1 364.33 325.92L344.11 312.98A102.00 102.00 0 0 0 346.64 308.81Z" fill="#a7c0f9"/><path d="M364.61 325.48A126.00 126.00 0 0 1 361.26 330.49L341.63 316.68A102.00 102.00 0 0 0 344.34 312.62Z" fill="#a8c0f9"/><path d="M361.56 330.05A126.00 126.00 0 0 1 358.00 334.91L338.99 320.26A102.00 102.00 0 0 0 341.88 316.33Z" fill="#a8c0f9"/><path d="M358.32 334.49A126.00 126.00 0 0 1 354.55 339.19L336.20 323.73A102.00 102.00 0 0 0 339.25 319.92Z" fill="#a8c0f9"/><path d="M354.89 338.79A126.00 126.00 0 0 1 350.92 343.32L333.26 327.07A102.00 102.00 0 0 0 336.47 323.40Z" fill="#a9c1f9"/><path d="M351.28 342.93A126.00 126.00 0 0 1 347.11 347.28L330.17 330.28A102.00 102.00 0 0 0 333.55 326.75Z" fill="#a9c1f9"/><path d="M347.48 346.91A126.00 126.00 0 0 1 343.13 351.08L326.95 333.35A102.00 102.00 0 0 0 330.48 329.97Z" fill="#a9c1f9"/><path d="M343.52 350.72A126.00 126.00 0 0 1 338.99 354.69L323.60 336.27A102.00 102.00 0 0 0 327.27 333.06Z" fill="#aac1f9"/><path d="M339.39 354.35A126.00 126.00 0 0 1 334.69 358.12L320.12 339.05A102.00 102.00 0 0 0 323.93 336.00Z" fill="#aac2f9"/><path d="M335.11 357.80A126.00 126.00 0 0 1 330.25 361.36L316.53 341.68A102.00 102.00 0 0 0 320.46 338.79Z" fill="#aac2f9"/><path d="M330.69 361.06A126.00 126.00 0 0 1 325.68 364.41L312.82 344.14A102.00 102.00 0 0 0 316.88 341.43Z" fill="#abc2f9"/><path d="M326.12 364.13A126.00 126.00 0 0 1 320.97 367.25L309.01 346.44A102.00 102.00 0 0 0 313.18 343.91Z" fill="#abc3f9"/><path d="M321.43 366.99A126.00 126.00 0 0 1 316.15 369.88L305.11 348.57A102.00 102.00 0 0 0 309.38 346.23Z" fill="#abc3f9"/><path d="M316.61 369.64A126.00 126.00 0 0 1 311.21 372.31L301.11 350.53A102.00 102.00 0 0 0 305.49 348.38Z" fill="#acc3f9"/><path d="M311.69 372.08A126.00 126.00 0 0 1 306.17 374.51L297.04 352.32A102.00 102.00 0 0 0 301.50 350.35Z" fill="#acc3f9"/><path d="M306.66 374.31A126.00 126.00 0 0 1 301.05 376.49L292.89 353.92A102.00 102.00 0 0 0 297.43 352.15Z" fill="#acc4f9"/><path d="M301.54 376.31A126.00 126.00 0 0 1 295.84 378.25L288.67 355.34A102.00 102.00 0 0 0 293.29 353.78Z" fill="#adc4f9"/><path d="M296.34 378.09A126.00 126.00 0 0 1 290.56 379.77L284.39 356.58A102.00 102.00 0 0 0 289.08 355.21Z" fill="#adc4f9"/><path d="M291.07 379.64A126.00 126.00 0 0 1 285.21 381.07L280.07 357.63A102.00 102.00 0 0 0 284.81 356.47Z" fill="#adc5f9"/><path d="M285.73 380.96A126.00 126.00 0 0 1 279.82 382.13L275.70 358.49A102.00 102.00 0 0 0 280.49 357.54Z" fill="#aec5f9"/><path d="M280.34 382.04A126.00 126.00 0 0 1 274.38 382.96L271.30 359.16A102.00 102.00 0 0 0 276.12 358.41Z" fill="#82a8f8"/><path d="M274.91 382.89A126.00 126.00 0 0 1 268.92 383.54L266.88 359.63A102.00 102.00 0 0 0 271.73 359.10Z" fill="#81a7f8"/><path d="M269.44 383.50A126.00 126.00 0 0 1 263.43 383.89L262.44 359.91A102.00 102.00 0 0 0 267.30 359.59Z" fill="#80a7f8"/><path d="M263.96 383.87A126.00 126.00 0 0 1 257.94 384.00L257.99 360.00A102.00 102.00 0 0 0 262.86 359.89Z" fill="#7fa7f8"/><path d="M258.46 384.00A126.00 126.00 0 0 1 252.44 383.87L253.54 359.89A102.00 102.00 0 0 0 258.41 360.00Z" fill="#7ea6f8"/><path d="M252.97 383.89A126.00 126.00 0 0 1 246.96 383.50L249.10 359.59A102.00 102.00 0 0 0 253.96 359.91Z" fill="#7da6f8"/><path d="M247.48 383.54A126.00 126.00 0 0 1 241.49 382.89L244.67 359.10A102.00 102.00 0 0 0 249.52 359.63Z" fill="#7ca5f8"/><path d="M242.02 382.96A126.00 126.00 0 0 1 236.06 382.04L240.28 358.41A102.00 102.00 0 0 0 245.10 359.16Z" fill="#7ba5f8"/><path d="M236.58 382.13A126.00 126.00 0 0 1 230.67 380.96L235.91 357.54A102.00 102.00 0 0 0 240.70 358.49Z" fill="#7aa4f8"/><path d="M231.19 381.07A126.00 126.00 0 0 1 225.33 379.64L231.59 356.47A102.00 102.00 0 0 0 236.33 357.63Z" fill="#79a4f8"/><path d="M225.84 379.77A126.00 126.00 0 0 1 220.06 378.09L227.32 355.21A102.00 102.00 0 0 0 232.01 356.58Z" fill="#78a4f8"/><path d="M220.56 378.25A126.00 126.00 0 0 1 214.86 376.31L223.11 353.78A102.00 102.00 0 0 0 227.73 355.34Z" fill="#77a3f8"/><path d="M215.35 376.49A126.00 126.00 0 0 1 209.74 374.31L218.97 352.15A102.00 102.00 0 0 0 223.51 353.92Z" fill="#77a3f8"/><path d="M210.23 374.51A126.00 126.00 0 0 1 204.71 372.08L214.90 350.35A102.00 102.00 0 0 0 219.36 352.32Z" fill="#76a2f8"/><path d="M205.19 372.31A126.00 126.00 0 0 1 199.79 369.64L210.91 348.38A102.00 102.00 0 0 0 215.29 350.53Z" fill="#75a2f8"/><path d="M200.25 369.88A126.00 126.00 0 0 1 194.97 366.99L207.02 346.23A102.00 102.00 0 0 0 211.29 348.57Z" fill="#74a2f8"/><path d="M195.43 367.25A126.00 126.00 0 0 1 190.28 364.13L203.22 343.91A102.00 102.00 0 0 0 207.39 346.44Z" fill="#73a1f8"/><path d="M190.72 364.41A126.00 126.00 0 0 1 185.71 361.06L199.52 341.43A102.00 102.00 0 0 0 203.58 344.14Z" fill="#72a1f8"/><path d="M186.15 361.36A126.00 126.00 0 0 1 181.29 357.80L195.94 338.79A102.00 102.00 0 0 0 199.87 341.68Z" fill="#71a0f8"/><path d="M181.71 358.12A126.00 126.00 0 0 1 177.01 354.35L192.47 336.00A102.00 102.00 0 0 0 196.28 339.05Z" fill="#70a0f8"/><path d="M177.41 354.69A126.00 126.00 0 0 1 172.88 350.72L189.13 333.06A102.00 102.00 0 0 0 192.80 336.27Z" fill="#6f9ff8"/><path d="M173.27 351.08A126.00 126.00 0 0 1 168.92 346.91L185.92 329.97A102.00 102.00 0 0 0 189.45 333.35Z" fill="#6e9ff8"/><path d="M169.29 347.28A126.00 126.00 0 0 1 165.12 342.93L182.85 326.75A102.00 102.00 0 0 0 186.23 330.28Z" fill="#6d9ff8"/><path d="M165.48 343.32A126.00 126.00 0 0 1 161.51 338.79L179.93 323.40A102.00 102.00 0 0 0 183.14 327.07Z" fill="#6c9ef8"/><path d="M161.85 339.19A126.00 126.00 0 0 1 158.08 334.49L177.15 319.92A102.00 102.00 0 0 0 180.20 323.73Z" fill="#6b9ef8"/><path d="M158.40 334.91A126.00 126.00 0 0 1 154.84 330.05L174.52 316.33A102.00 102.00 0 0 0 177.41 320.26Z" fill="#6a9df8"/><path d="M155.14 330.49A126.00 126.00 0 0 1 151.79 325.48L172.06 312.62A102.00 102.00 0 0 0 174.77 316.68Z" fill="#689cf8"/><path d="M152.07 325.92A126.00 126.00 0 0 1 148.95 320.77L169.76 308.81A102.00 102.00 0 0 0 172.29 312.98Z" fill="#679cf8"/><path d="M149.21 321.23A126.00 126.00 0 0 1 146.32 315.95L167.63 304.91A102.00 102.00 0 0 0 169.97 309.18Z" fill="#669bf8"/><path d="M146.56 316.41A126.00 126.00 0 0 1 143.89 311.01L165.67 300.91A102.00 102.00 0 0 0 167.82 305.29Z" fill="#649bf8"/><path d="M144.12 311.49A126.00 126.00 0 0 1 141.69 305.97L163.88 296.84A102.00 102.00 0 0 0 165.85 301.30Z" fill="#639af8"/><path d="M141.89 306.46A126.00 126.00 0 0 1 139.71 300.85L162.28 292.69A102.00 102.00 0 0 0 164.05 297.23Z" fill="#6199f8"/><path d="M139.89 301.34A126.00 126.00 0 0 1 137.95 295.64L160.86 288.47A102.00 102.00 0 0 0 162.42 293.09Z" fill="#6099f8"/><path d="M138.11 296.14A126.00 126.00 0 0 1 136.43 290.36L159.62 284.19A102.00 102.00 0 0 0 160.99 288.88Z" fill="#5f98f8"/><path d="M136.56 290.87A126.00 126.00 0 0 1 135.13 285.01L158.57 279.87A102.00 102.00 0 0 0 159.73 284.61Z" fill="#5d97f8"/><path d="M135.24 285.53A126.00 126.00 0 0 1 134.07 279.62L157.71 275.50A102.00 102.00 0 0 0 158.66 280.29Z" fill="#5c97f8"/><path d="M134.16 280.14A126.00 126.00 0 0 1 133.24 274.18L157.04 271.10A102.00 102.00 0 0 0 157.79 275.92Z" fill="#5a96f8"/><path d="M133.31 274.71A126.00 126.00 0 0 1 132.66 268.72L156.57 266.68A102.00 102.00 0 0 0 157.10 271.53Z" fill="#5e98f8"/><path d="M132.70 269.24A126.00 126.00 0 0 1 132.31 263.23L156.29 262.24A102.00 102.00 0 0 0 156.61 267.10Z" fill="#659bf8"/><path d="M132.33 263.76A126.00 126.00 0 0 1 132.20 257.74L156.20 257.79A102.00 102.00 0 0 0 156.31 262.66Z" fill="#6b9ef8"/><path d="M132.20 258.26A126.00 126.00 0 0 1 132.33 252.24L156.31 253.34A102.00 102.00 0 0 0 156.20 258.21Z" fill="#fdaa95"/><path d="M132.31 252.77A126.00 126.00 0 0 1 132.70 246.76L156.61 248.90A102.00 102.00 0 0 0 156.29 253.76Z" fill="#fda994"/><path d="M132.66 247.28A126.00 126.00 0 0 1 133.31 241.29L157.10 244.47A102.00 102.00 0 0 0 156.57 249.32Z" fill="#fda994"/><path d="M133.24 241.82A126.00 126.00 0 0 1 134.16 235.86L157.79 240.08A102.00 102.00 0 0 0 157.04 244.90Z" fill="#fda993"/><path d="M134.07 236.38A126.00 126.00 0 0 1 135.24 230.47L158.66 235.71A102.00 102.00 0 0 0 157.71 240.50Z" fill="#fda893"/><path d="M135.13 230.99A126.00 126.00 0 0 1 136.56 225.13L159.73 231.39A102.00 102.00 0 0 0 158.57 236.13Z" fill="#fda892"/><path d="M136.43 225.64A126.00 126.00 0 0 1 138.11 219.86L160.99 227.12A102.00 102.00 0 0 0 159.62 231.81Z" fill="#fda892"/><path d="M137.95 220.36A126.00 126.00 0 0 1 139.89 214.66L162.42 222.91A102.00 102.00 0 0 0 160.86 227.53Z" fill="#fda791"/><path d="M139.71 215.15A126.00 126.00 0 0 1 141.89 209.54L164.05 218.77A102.00 102.00 0 0 0 162.28 223.31Z" fill="#fb8266"/><path d="M141.69 210.03A126.00 126.00 0 0 1 144.12 204.51L165.85 214.70A102.00 102.00 0 0 0 163.88 219.16Z" fill="#fb8368"/><path d="M143.89 204.99A126.00 126.00 0 0 1 146.56 199.59L167.82 210.71A102.00 102.00 0 0 0 165.67 215.09Z" fill="#fb8569"/><path d="M146.32 200.05A126.00 126.00 0 0 1 149.21 194.77L169.97 206.82A102.00 102.00 0 0 0 167.63 211.09Z" fill="#fb866b"/><path d="M148.95 195.23A126.00 126.00 0 0 1 152.07 190.08L172.29 203.02A102.00 102.00 0 0 0 169.76 207.19Z" fill="#fc876c"/><path d="M151.79 190.52A126.00 126.00 0 0 1 155.14 185.51L174.77 199.32A102.00 102.00 0 0 0 172.06 203.38Z" fill="#fc896e"/><path d="M154.84 185.95A126.00 126.00 0 0 1 158.40 181.09L177.41 195.74A102.00 102.00 0 0 0 174.52 199.67Z" fill="#fc8a70"/><path d="M158.08 181.51A126.00 126.00 0 0 1 161.85 176.81L180.20 192.27A102.00 102.00 0 0 0 177.15 196.08Z" fill="#fc8b71"/><path d="M161.51 177.21A126.00 126.00 0 0 1 165.48 172.68L183.14 188.93A102.00 102.00 0 0 0 179.93 192.60Z" fill="#fc8d73"/><path d="M165.12 173.07A126.00 126.00 0 0 1 169.29 168.72L186.23 185.72A102.00 102.00 0 0 0 182.85 189.25Z" fill="#fc8e75"/><path d="M168.92 169.09A126.00 126.00 0 0 1 173.27 164.92L189.45 182.65A102.00 102.00 0 0 0 185.92 186.03Z" fill="#fc9077"/><path d="M172.88 165.28A126.00 126.00 0 0 1 177.41 161.31L192.80 179.73A102.00 102.00 0 0 0 189.13 182.94Z" fill="#fc9279"/><path d="M177.01 161.65A126.00 126.00 0 0 1 181.71 157.88L196.28 176.95A102.00 102.00 0 0 0 192.47 180.00Z" fill="#fc937b"/><path d="M181.29 158.20A126.00 126.00 0 0 1 186.15 154.64L199.87 174.32A102.00 102.00 0 0 0 195.94 177.21Z" fill="#fc957d"/><path d="M185.71 154.94A126.00 126.00 0 0 1 190.72 151.59L203.58 171.86A102.00 102.00 0 0 0 199.52 174.57Z" fill="#fd967e"/><path d="M190.28 151.87A126.00 126.00 0 0 1 195.43 148.75L207.39 169.56A102.00 102.00 0 0 0 203.22 172.09Z" fill="#fd9880"/><path d="M194.97 149.01A126.00 126.00 0 0 1 200.25 146.12L211.29 167.43A102.00 102.00 0 0 0 207.02 169.77Z" fill="#fd9982"/><path d="M199.79 146.36A126.00 126.00 0 0 1 205.19 143.69L215.29 165.47A102.00 102.00 0 0 0 210.91 167.62Z" fill="#fd9b84"/><path d="M204.71 143.92A126.00 126.00 0 0 1 210.23 141.49L219.36 163.68A102.00 102.00 0 0 0 214.90 165.65Z" fill="#fd9d86"/><path d="M209.74 141.69A126.00 126.00 0 0 1 215.35 139.51L223.51 162.08A102.00 102.00 0 0 0 218.97 163.85Z" fill="#fd9e88"/><path d="M214.86 139.69A126.00 126.00 0 0 1 220.56 137.75L227.73 160.66A102.00 102.00 0 0 0 223.11 162.22Z" fill="#fd9f89"/><path d="M220.06 137.91A126.00 126.00 0 0 1 225.84 136.23L232.01 159.42A102.00 102.00 0 0 0 227.32 160.79Z" fill="#fd9f89"/><path d="M225.33 136.36A126.00 126.00 0 0 1 231.19 134.93L236.33 158.37A102.00 102.00 0 0 0 231.59 159.53Z" fill="#fda08a"/><path d="M230.67 135.04A126.00 126.00 0 0 1 236.58 133.87L240.70 157.51A102.00 102.00 0 0 0 235.91 158.46Z" fill="#fda08a"/><path d="M236.06 133.96A126.00 126.00 0 0 1 242.02 133.04L245.10 156.84A102.00 102.00 0 0 0 240.28 157.59Z" fill="#fda08a"/><path d="M241.49 133.11A126.00 126.00 0 0 1 247.48 132.46L249.52 156.37A102.00 102.00 0 0 0 244.67 156.90Z" fill="#fb5341"/><path d="M246.96 132.50A126.00 126.00 0 0 1 252.97 132.11L253.96 156.09A102.00 102.00 0 0 0 249.10 156.41Z" fill="#fb2d2d"/><path d="M252.44 132.13A126.00 126.00 0 0 1 258.46 132.00L258.41 156.00A102.00 102.00 0 0 0 253.54 156.11Z" fill="#fb4c3b"/></g>
<g><path d="M1069.97 33.20A218.60 218.60 0 0 1 1080.99 33.47L1077.84 97.29A154.70 154.70 0 0 0 1070.04 97.10Z" fill="#7fc6c1"/><path d="M1080.53 33.44A218.60 218.60 0 0 1 1102.01 35.53L1092.71 98.75A154.70 154.70 0 0 0 1077.51 97.27Z" fill="#76a9d4"/><path d="M1101.56 35.46A218.60 218.60 0 0 1 1122.74 39.61L1107.38 101.63A154.70 154.70 0 0 0 1092.39 98.70Z" fill="#7fc6c1"/><path d="M1122.29 39.50A218.60 218.60 0 0 1 1132.93 42.39L1114.59 103.61A154.70 154.70 0 0 0 1107.06 101.56Z" fill="#afd568"/><path d="M1132.49 42.26A218.60 218.60 0 0 1 1142.97 45.67L1121.70 105.92A154.70 154.70 0 0 0 1114.28 103.51Z" fill="#7fc6c1"/><path d="M1142.54 45.52A218.60 218.60 0 0 1 1152.84 49.42L1128.69 108.58A154.70 154.70 0 0 0 1121.39 105.82Z" fill="#76a9d4"/><path d="M1152.42 49.25A218.60 218.60 0 0 1 1162.53 53.65L1135.54 111.57A154.70 154.70 0 0 0 1128.39 108.46Z" fill="#7fc6c1"/><path d="M1162.11 53.46A218.60 218.60 0 0 1 1171.99 58.35L1142.24 114.90A154.70 154.70 0 0 0 1135.24 111.44Z" fill="#76a9d4"/><path d="M1171.59 58.13A218.60 218.60 0 0 1 1181.22 63.49L1148.77 118.54A154.70 154.70 0 0 0 1141.95 114.74Z" fill="#fb8570"/><path d="M1180.82 63.26A218.60 218.60 0 0 1 1190.19 69.07L1155.11 122.49A154.70 154.70 0 0 0 1148.49 118.37Z" fill="#76a9d4"/><path d="M1189.80 68.82A218.60 218.60 0 0 1 1207.26 81.51L1167.20 131.29A154.70 154.70 0 0 0 1154.84 122.31Z" fill="#bbb7dc"/><path d="M1206.91 81.22A218.60 218.60 0 0 1 1215.33 88.33L1172.91 136.11A154.70 154.70 0 0 0 1166.94 131.08Z" fill="#7fc6c1"/><path d="M1214.99 88.02A218.60 218.60 0 0 1 1230.43 103.10L1183.59 146.57A154.70 154.70 0 0 0 1172.66 135.90Z" fill="#76a9d4"/><path d="M1230.12 102.76A218.60 218.60 0 0 1 1237.43 111.01L1188.54 152.17A154.70 154.70 0 0 0 1183.37 146.33Z" fill="#bb7cbb"/><path d="M1237.13 110.66A218.60 218.60 0 0 1 1244.03 119.26L1193.22 158.00A154.70 154.70 0 0 0 1188.34 151.92Z" fill="#76a9d4"/><path d="M1243.76 118.89A218.60 218.60 0 0 1 1250.23 127.81L1197.61 164.05A154.70 154.70 0 0 0 1193.02 157.74Z" fill="#fdc9e3"/><path d="M1249.97 127.43A218.60 218.60 0 0 1 1256.01 136.65L1228.73 153.56A186.50 186.50 0 0 0 1223.58 145.70Z" fill="#76a9d4"/><path d="M1223.70 145.61A186.65 186.65 0 0 1 1228.86 153.48L1201.70 170.31A154.70 154.70 0 0 0 1197.42 163.79Z" fill="#7fc6c1"/><path d="M1255.77 136.26A218.60 218.60 0 0 1 1266.26 155.12L1208.95 183.38A154.70 154.70 0 0 0 1201.53 170.04Z" fill="#76a9d4"/><path d="M1266.06 154.71A218.60 218.60 0 0 1 1270.70 164.71L1212.09 190.17A154.70 154.70 0 0 0 1208.81 183.09Z" fill="#7fc6c1"/><path d="M1270.52 164.29A218.60 218.60 0 0 1 1274.68 174.50L1214.90 197.09A154.70 154.70 0 0 0 1211.96 189.87Z" fill="#76a9d4"/><path d="M1274.51 174.07A218.60 218.60 0 0 1 1278.17 184.47L1217.38 204.15A154.70 154.70 0 0 0 1214.79 196.79Z" fill="#fdc9e3"/><path d="M1278.03 184.03A218.60 218.60 0 0 1 1283.70 204.85L1221.29 218.58A154.70 154.70 0 0 0 1217.28 203.84Z" fill="#76a9d4"/><path d="M1283.60 204.41A218.60 218.60 0 0 1 1285.72 215.22L1222.72 225.91A154.70 154.70 0 0 0 1221.22 218.26Z" fill="#fdc9e3"/><path d="M1285.64 214.77A218.60 218.60 0 0 1 1287.23 225.68L1223.79 233.31A154.70 154.70 0 0 0 1222.66 225.60Z" fill="#bbb7dc"/><path d="M1287.18 225.22A218.60 218.60 0 0 1 1288.24 236.19L1224.51 240.76A154.70 154.70 0 0 0 1223.75 232.99Z" fill="#76a9d4"/><path d="M1288.21 235.74A218.60 218.60 0 0 1 1288.74 246.75L1256.65 247.49A186.50 186.50 0 0 0 1256.20 238.10Z" fill="#76a9d4"/><path d="M1256.35 238.09A186.65 186.65 0 0 1 1256.80 247.49L1224.86 248.22A154.70 154.70 0 0 0 1224.48 240.43Z" fill="#7fc6c1"/><path d="M1288.73 246.29A218.60 218.60 0 0 1 1288.73 257.31L1224.85 255.70A154.70 154.70 0 0 0 1224.85 247.90Z" fill="#76a9d4"/><path d="M1288.74 256.85A218.60 218.60 0 0 1 1288.21 267.86L1224.48 263.17A154.70 154.70 0 0 0 1224.86 255.38Z" fill="#fdb660"/><path d="M1288.24 267.41A218.60 218.60 0 0 1 1287.18 278.38L1223.75 270.61A154.70 154.70 0 0 0 1224.51 262.84Z" fill="#bbb7dc"/><path d="M1287.23 277.92A218.60 218.60 0 0 1 1285.64 288.83L1222.66 278.00A154.70 154.70 0 0 0 1223.79 270.29Z" fill="#76a9d4"/><path d="M1285.72 288.38A218.60 218.60 0 0 1 1283.60 299.19L1221.22 285.34A154.70 154.70 0 0 0 1222.72 277.69Z" fill="#7fc6c1"/><path d="M1283.70 298.75A218.60 218.60 0 0 1 1281.06 309.45L1219.42 292.60A154.70 154.70 0 0 0 1221.29 285.02Z" fill="#76a9d4"/><path d="M1281.18 309.01A218.60 218.60 0 0 1 1278.03 319.57L1217.28 299.76A154.70 154.70 0 0 0 1219.51 292.28Z" fill="#fdb660"/><path d="M1278.17 319.13A218.60 218.60 0 0 1 1274.51 329.53L1214.79 306.81A154.70 154.70 0 0 0 1217.38 299.45Z" fill="#afd568"/><path d="M1274.68 329.10A218.60 218.60 0 0 1 1270.52 339.31L1211.96 313.73A154.70 154.70 0 0 0 1214.90 306.51Z" fill="#7fc6c1"/><path d="M1270.70 338.89A218.60 218.60 0 0 1 1266.06 348.89L1237.30 334.63A186.50 186.50 0 0 0 1241.26 326.10Z" fill="#d6d6d6"/><path d="M1241.40 326.16A186.65 186.65 0 0 1 1237.43 334.70L1208.81 320.51A154.70 154.70 0 0 0 1212.09 313.43Z" fill="#fdc9e3"/><path d="M1266.26 348.48A218.60 218.60 0 0 1 1261.14 358.24L1205.32 327.12A154.70 154.70 0 0 0 1208.95 320.22Z" fill="#fdc9e3"/><path d="M1261.36 357.84A218.60 218.60 0 0 1 1255.77 367.34L1201.53 333.56A154.70 154.70 0 0 0 1205.48 326.84Z" fill="#fb8570"/><path d="M1256.01 366.95A218.60 218.60 0 0 1 1249.97 376.17L1197.42 339.81A154.70 154.70 0 0 0 1201.70 333.29Z" fill="#76a9d4"/><path d="M1250.23 375.79A218.60 218.60 0 0 1 1237.13 392.94L1188.34 351.68A154.70 154.70 0 0 0 1197.61 339.55Z" fill="#7fc6c1"/><path d="M1237.43 392.59A218.60 218.60 0 0 1 1230.12 400.84L1183.37 357.27A154.70 154.70 0 0 0 1188.54 351.43Z" fill="#76a9d4"/><path d="M1230.43 400.50A218.60 218.60 0 0 1 1222.73 408.39L1207.76 393.02A197.15 197.15 0 0 0 1214.71 385.91Z" fill="#fdb660"/><path d="M1214.82 386.01A197.30 197.30 0 0 1 1207.87 393.13L1192.90 377.77A175.85 175.85 0 0 0 1199.09 371.42Z" fill="#76a9d4"/><path d="M1199.20 371.52A176.00 176.00 0 0 1 1193.01 377.87L1178.14 362.62A154.70 154.70 0 0 0 1183.59 357.03Z" fill="#7fc6c1"/><path d="M1223.06 408.07A218.60 218.60 0 0 1 1214.99 415.58L1172.66 367.70A154.70 154.70 0 0 0 1178.38 362.39Z" fill="#76a9d4"/><path d="M1215.33 415.27A218.60 218.60 0 0 1 1206.91 422.38L1166.94 372.52A154.70 154.70 0 0 0 1172.91 367.49Z" fill="#7fc6c1"/><path d="M1207.26 422.09A218.60 218.60 0 0 1 1198.50 428.79L1179.66 402.80A186.50 186.50 0 0 0 1187.14 397.09Z" fill="#d6d6d6"/><path d="M1187.23 397.20A186.65 186.65 0 0 1 1179.75 402.92L1161.00 377.05A154.70 154.70 0 0 0 1167.20 372.31Z" fill="#fdc9e3"/><path d="M1198.87 428.52A218.60 218.60 0 0 1 1189.80 434.78L1172.24 407.91A186.50 186.50 0 0 0 1179.98 402.57Z" fill="#bb7cbb"/><path d="M1180.07 402.69A186.65 186.65 0 0 1 1172.32 408.03L1154.84 381.29A154.70 154.70 0 0 0 1161.26 376.86Z" fill="#7fc6c1"/><path d="M1190.19 434.53A218.60 218.60 0 0 1 1180.82 440.34L1148.49 385.23A154.70 154.70 0 0 0 1155.11 381.11Z" fill="#76a9d4"/><path d="M1181.22 440.11A218.60 218.60 0 0 1 1171.59 445.47L1141.95 388.86A154.70 154.70 0 0 0 1148.77 385.06Z" fill="#bbb7dc"/><path d="M1171.99 445.25A218.60 218.60 0 0 1 1162.11 450.14L1135.24 392.16A154.70 154.70 0 0 0 1142.24 388.70Z" fill="#76a9d4"/><path d="M1162.53 449.95A218.60 218.60 0 0 1 1152.42 454.35L1128.39 395.14A154.70 154.70 0 0 0 1135.54 392.03Z" fill="#fdc9e3"/><path d="M1152.84 454.18A218.60 218.60 0 0 1 1142.54 458.08L1121.39 397.78A154.70 154.70 0 0 0 1128.69 395.02Z" fill="#d6d6d6"/><path d="M1142.97 457.93A218.60 218.60 0 0 1 1132.49 461.34L1114.28 400.09A154.70 154.70 0 0 0 1121.70 397.68Z" fill="#76a9d4"/><path d="M1132.93 461.21A218.60 218.60 0 0 1 1122.29 464.10L1107.06 402.04A154.70 154.70 0 0 0 1114.59 399.99Z" fill="#bb7cbb"/><path d="M1122.74 463.99A218.60 218.60 0 0 1 1101.56 468.14L1092.39 404.90A154.70 154.70 0 0 0 1107.38 401.97Z" fill="#bbb7dc"/><path d="M1102.01 468.07A218.60 218.60 0 0 1 1091.07 469.40L1084.97 405.79A154.70 154.70 0 0 0 1092.71 404.85Z" fill="#76a9d4"/><path d="M1091.53 469.36A218.60 218.60 0 0 1 1080.53 470.16L1077.51 406.33A154.70 154.70 0 0 0 1085.29 405.76Z" fill="#fb8570"/><path d="M1080.99 470.13A218.60 218.60 0 0 1 1069.97 470.40L1070.04 406.50A154.70 154.70 0 0 0 1077.84 406.31Z" fill="#fdb660"/><path d="M1070.43 470.40A218.60 218.60 0 0 1 1059.41 470.13L1062.56 406.31A154.70 154.70 0 0 0 1070.36 406.50Z" fill="#7fc6c1"/><path d="M1059.87 470.16A218.60 218.60 0 0 1 1048.87 469.36L1055.11 405.76A154.70 154.70 0 0 0 1062.89 406.33Z" fill="#fb8570"/><path d="M1049.33 469.40A218.60 218.60 0 0 1 1038.39 468.07L1047.69 404.85A154.70 154.70 0 0 0 1055.43 405.79Z" fill="#d6d6d6"/><path d="M1038.84 468.14A218.60 218.60 0 0 1 1027.98 466.28L1040.32 403.59A154.70 154.70 0 0 0 1048.01 404.90Z" fill="#7fc6c1"/><path d="M1028.43 466.37A218.60 218.60 0 0 1 1007.47 461.21L1025.81 399.99A154.70 154.70 0 0 0 1040.64 403.65Z" fill="#76a9d4"/><path d="M1007.91 461.34A218.60 218.60 0 0 1 997.43 457.93L1018.70 397.68A154.70 154.70 0 0 0 1026.12 400.09Z" fill="#d6d6d6"/><path d="M997.86 458.08A218.60 218.60 0 0 1 987.56 454.18L1011.71 395.02A154.70 154.70 0 0 0 1019.01 397.78Z" fill="#afd568"/><path d="M987.98 454.35A218.60 218.60 0 0 1 977.87 449.95L986.93 430.50A197.15 197.15 0 0 0 996.05 434.47Z" fill="#bb7cbb"/><path d="M995.99 434.61A197.30 197.30 0 0 1 986.87 430.64L995.93 411.20A175.85 175.85 0 0 0 1004.06 414.74Z" fill="#afd568"/><path d="M1004.00 414.88A176.00 176.00 0 0 1 995.87 411.33L1004.86 392.03A154.70 154.70 0 0 0 1012.01 395.14Z" fill="#7fc6c1"/><path d="M978.29 450.14A218.60 218.60 0 0 1 968.41 445.25L983.36 416.85A186.50 186.50 0 0 0 991.79 421.01Z" fill="#fdb660"/><path d="M991.72 421.15A186.65 186.65 0 0 1 983.29 416.98L998.16 388.70A154.70 154.70 0 0 0 1005.16 392.16Z" fill="#fb8570"/><path d="M968.81 445.47A218.60 218.60 0 0 1 959.18 440.11L975.48 412.46A186.50 186.50 0 0 0 983.70 417.03Z" fill="#afd568"/><path d="M983.63 417.16A186.65 186.65 0 0 1 975.41 412.59L991.63 385.06A154.70 154.70 0 0 0 998.45 388.86Z" fill="#7fc6c1"/><path d="M959.58 440.34A218.60 218.60 0 0 1 941.53 428.52L979.14 376.86A154.70 154.70 0 0 0 991.91 385.23Z" fill="#76a9d4"/><path d="M941.90 428.79A218.60 218.60 0 0 1 933.14 422.09L973.20 372.31A154.70 154.70 0 0 0 979.40 377.05Z" fill="#afd568"/><path d="M933.49 422.38A218.60 218.60 0 0 1 917.34 408.07L962.02 362.39A154.70 154.70 0 0 0 973.46 372.52Z" fill="#7fc6c1"/><path d="M917.67 408.39A218.60 218.60 0 0 1 909.97 400.50L933.50 378.67A186.50 186.50 0 0 0 940.07 385.40Z" fill="#afd568"/><path d="M939.96 385.50A186.65 186.65 0 0 1 933.39 378.77L956.81 357.03A154.70 154.70 0 0 0 962.26 362.62Z" fill="#7fc6c1"/><path d="M910.28 400.84A218.60 218.60 0 0 1 902.97 392.59L951.86 351.43A154.70 154.70 0 0 0 957.03 357.27Z" fill="#7fc6c1"/><path d="M903.27 392.94A218.60 218.60 0 0 1 896.37 384.34L921.89 364.88A186.50 186.50 0 0 0 927.78 372.21Z" fill="#bb7cbb"/><path d="M927.67 372.31A186.65 186.65 0 0 1 921.77 364.97L947.18 345.60A154.70 154.70 0 0 0 952.06 351.68Z" fill="#7fc6c1"/><path d="M896.64 384.71A218.60 218.60 0 0 1 890.17 375.79L942.79 339.55A154.70 154.70 0 0 0 947.38 345.86Z" fill="#76a9d4"/><path d="M890.43 376.17A218.60 218.60 0 0 1 884.39 366.95L938.70 333.29A154.70 154.70 0 0 0 942.98 339.81Z" fill="#7fc6c1"/><path d="M884.63 367.34A218.60 218.60 0 0 1 879.04 357.84L934.92 326.84A154.70 154.70 0 0 0 938.87 333.56Z" fill="#afd568"/><path d="M879.26 358.24A218.60 218.60 0 0 1 874.14 348.48L893.38 338.99A197.15 197.15 0 0 0 898.00 347.79Z" fill="#bb7cbb"/><path d="M897.87 347.87A197.30 197.30 0 0 1 893.24 339.06L912.48 329.57A175.85 175.85 0 0 0 916.60 337.42Z" fill="#afd568"/><path d="M916.47 337.49A176.00 176.00 0 0 1 912.35 329.64L931.45 320.22A154.70 154.70 0 0 0 935.08 327.12Z" fill="#7fc6c1"/><path d="M874.34 348.89A218.60 218.60 0 0 1 869.70 338.89L899.14 326.10A186.50 186.50 0 0 0 903.10 334.63Z" fill="#afd568"/><path d="M902.97 334.70A186.65 186.65 0 0 1 899.00 326.16L928.31 313.43A154.70 154.70 0 0 0 931.59 320.51Z" fill="#7fc6c1"/><path d="M869.88 339.31A218.60 218.60 0 0 1 865.72 329.10L925.50 306.51A154.70 154.70 0 0 0 928.44 313.73Z" fill="#fffba8"/><path d="M865.89 329.53A218.60 218.60 0 0 1 859.22 309.01L920.89 292.28A154.70 154.70 0 0 0 925.61 306.81Z" fill="#afd568"/><path d="M859.34 309.45A218.60 218.60 0 0 1 856.70 298.75L919.11 285.02A154.70 154.70 0 0 0 920.98 292.60Z" fill="#fffba8"/><path d="M856.80 299.19A218.60 218.60 0 0 1 854.68 288.38L917.68 277.69A154.70 154.70 0 0 0 919.18 285.34Z" fill="#afd568"/><path d="M854.76 288.83A218.60 218.60 0 0 1 853.17 277.92L916.61 270.29A154.70 154.70 0 0 0 917.74 278.00Z" fill="#bb7cbb"/><path d="M853.22 278.38A218.60 218.60 0 0 1 851.66 256.85L915.54 255.38A154.70 154.70 0 0 0 916.65 270.61Z" fill="#7fc6c1"/><path d="M851.67 257.31A218.60 218.60 0 0 1 851.67 246.29L915.55 247.90A154.70 154.70 0 0 0 915.55 255.70Z" fill="#fffba8"/><path d="M851.66 246.75A218.60 218.60 0 0 1 852.19 235.74L915.92 240.43A154.70 154.70 0 0 0 915.54 248.22Z" fill="#76a9d4"/><path d="M852.16 236.19A218.60 218.60 0 0 1 853.22 225.22L916.65 232.99A154.70 154.70 0 0 0 915.89 240.76Z" fill="#bb7cbb"/><path d="M853.17 225.68A218.60 218.60 0 0 1 854.76 214.77L917.74 225.60A154.70 154.70 0 0 0 916.61 233.31Z" fill="#fdc9e3"/><path d="M854.68 215.22A218.60 218.60 0 0 1 856.80 204.41L919.18 218.26A154.70 154.70 0 0 0 917.68 225.91Z" fill="#afd568"/><path d="M856.70 204.85A218.60 218.60 0 0 1 859.34 194.15L920.98 211.00A154.70 154.70 0 0 0 919.11 218.58Z" fill="#7fc6c1"/><path d="M859.22 194.59A218.60 218.60 0 0 1 862.37 184.03L892.89 193.98A186.50 186.50 0 0 0 890.20 202.99Z" fill="#afd568"/><path d="M890.05 202.95A186.65 186.65 0 0 1 892.75 193.94L923.12 203.84A154.70 154.70 0 0 0 920.89 211.32Z" fill="#fffba8"/><path d="M862.23 184.47A218.60 218.60 0 0 1 865.89 174.07L925.61 196.79A154.70 154.70 0 0 0 923.02 204.15Z" fill="#bb7cbb"/><path d="M865.72 174.50A218.60 218.60 0 0 1 869.88 164.29L928.44 189.87A154.70 154.70 0 0 0 925.50 197.09Z" fill="#7fc6c1"/><path d="M869.70 164.71A218.60 218.60 0 0 1 874.34 154.71L903.10 168.97A186.50 186.50 0 0 0 899.14 177.50Z" fill="#bb7cbb"/><path d="M899.00 177.44A186.65 186.65 0 0 1 902.97 168.90L931.59 183.09A154.70 154.70 0 0 0 928.31 190.17Z" fill="#afd568"/><path d="M874.14 155.12A218.60 218.60 0 0 1 879.26 145.36L907.30 160.99A186.50 186.50 0 0 0 902.93 169.32Z" fill="#afd568"/><path d="M902.80 169.25A186.65 186.65 0 0 1 907.17 160.92L935.08 176.48A154.70 154.70 0 0 0 931.45 183.38Z" fill="#7fc6c1"/><path d="M879.04 145.76A218.60 218.60 0 0 1 884.63 136.26L911.88 153.23A186.50 186.50 0 0 0 907.11 161.33Z" fill="#afd568"/><path d="M906.98 161.26A186.65 186.65 0 0 1 911.75 153.15L938.87 170.04A154.70 154.70 0 0 0 934.92 176.76Z" fill="#fffba8"/><path d="M884.39 136.65A218.60 218.60 0 0 1 890.43 127.43L942.98 163.79A154.70 154.70 0 0 0 938.70 170.31Z" fill="#76a9d4"/><path d="M890.17 127.81A218.60 218.60 0 0 1 896.64 118.89L947.38 157.74A154.70 154.70 0 0 0 942.79 164.05Z" fill="#7fc6c1"/><path d="M896.37 119.26A218.60 218.60 0 0 1 903.27 110.66L927.78 131.39A186.50 186.50 0 0 0 921.89 138.72Z" fill="#afd568"/><path d="M921.77 138.63A186.65 186.65 0 0 1 927.67 131.29L952.06 151.92A154.70 154.70 0 0 0 947.18 158.00Z" fill="#fffba8"/><path d="M902.97 111.01A218.60 218.60 0 0 1 917.67 95.21L962.26 140.98A154.70 154.70 0 0 0 951.86 152.17Z" fill="#afd568"/><path d="M917.34 95.53A218.60 218.60 0 0 1 925.41 88.02L967.74 135.90A154.70 154.70 0 0 0 962.02 141.21Z" fill="#bb7cbb"/><path d="M925.07 88.33A218.60 218.60 0 0 1 933.49 81.22L973.46 131.08A154.70 154.70 0 0 0 967.49 136.11Z" fill="#fffba8"/><path d="M933.14 81.51A218.60 218.60 0 0 1 941.90 74.81L979.40 126.55A154.70 154.70 0 0 0 973.20 131.29Z" fill="#bb7cbb"/><path d="M941.53 75.08A218.60 218.60 0 0 1 950.60 68.82L985.56 122.31A154.70 154.70 0 0 0 979.14 126.74Z" fill="#afd568"/><path d="M950.21 69.07A218.60 218.60 0 0 1 959.58 63.26L991.91 118.37A154.70 154.70 0 0 0 985.29 122.49Z" fill="#fdc9e3"/><path d="M959.18 63.49A218.60 218.60 0 0 1 968.81 58.13L983.70 86.57A186.50 186.50 0 0 0 975.48 91.14Z" fill="#afd568"/><path d="M975.41 91.01A186.65 186.65 0 0 1 983.63 86.44L998.45 114.74A154.70 154.70 0 0 0 991.63 118.54Z" fill="#fffba8"/><path d="M968.41 58.35A218.60 218.60 0 0 1 978.29 53.46L1005.16 111.44A154.70 154.70 0 0 0 998.16 114.90Z" fill="#bb7cbb"/><path d="M977.87 53.65A218.60 218.60 0 0 1 987.98 49.25L1000.05 78.99A186.50 186.50 0 0 0 991.43 82.75Z" fill="#afd568"/><path d="M991.37 82.61A186.65 186.65 0 0 1 1000.00 78.86L1012.01 108.46A154.70 154.70 0 0 0 1004.86 111.57Z" fill="#7fc6c1"/><path d="M987.56 49.42A218.60 218.60 0 0 1 997.86 45.52L1019.01 105.82A154.70 154.70 0 0 0 1011.71 108.58Z" fill="#fffba8"/><path d="M997.43 45.67A218.60 218.60 0 0 1 1007.91 42.26L1026.12 103.51A154.70 154.70 0 0 0 1018.70 105.92Z" fill="#afd568"/><path d="M1007.47 42.39A218.60 218.60 0 0 1 1018.11 39.50L1033.34 101.56A154.70 154.70 0 0 0 1025.81 103.61Z" fill="#fffba8"/><path d="M1017.66 39.61A218.60 218.60 0 0 1 1028.43 37.23L1040.64 99.95A154.70 154.70 0 0 0 1033.02 101.63Z" fill="#afd568"/><path d="M1027.98 37.32A218.60 218.60 0 0 1 1038.84 35.46L1043.45 67.23A186.50 186.50 0 0 0 1034.18 68.81Z" fill="#afd568"/><path d="M1034.15 68.66A186.65 186.65 0 0 1 1043.42 67.08L1048.01 98.70A154.70 154.70 0 0 0 1040.32 100.01Z" fill="#7fc6c1"/><path d="M1038.39 35.53A218.60 218.60 0 0 1 1049.33 34.20L1055.43 97.81A154.70 154.70 0 0 0 1047.69 98.75Z" fill="#fdb660"/><path d="M1048.87 34.24A218.60 218.60 0 0 1 1070.43 33.20L1070.36 97.10A154.70 154.70 0 0 0 1055.11 97.84Z" fill="#afd568"/></g>
<g><path d="M1069.93 121.30A130.50 130.50 0 0 1 1076.78 121.47L1075.56 145.64A106.30 106.30 0 0 0 1069.98 145.50Z" fill="#8aadf9"/><path d="M1076.23 121.44A130.50 130.50 0 0 1 1083.07 121.94L1080.68 146.02A106.30 106.30 0 0 0 1075.11 145.61Z" fill="#8aadf9"/><path d="M1082.52 121.88A130.50 130.50 0 0 1 1089.33 122.71L1085.78 146.65A106.30 106.30 0 0 0 1080.24 145.97Z" fill="#7ba6fa"/><path d="M1088.79 122.63A130.50 130.50 0 0 1 1095.54 123.78L1090.84 147.52A106.30 106.30 0 0 0 1085.34 146.58Z" fill="#afc1fa"/><path d="M1095.00 123.68A130.50 130.50 0 0 1 1101.70 125.16L1095.86 148.64A106.30 106.30 0 0 0 1090.40 147.44Z" fill="#afc1fa"/><path d="M1101.17 125.03A130.50 130.50 0 0 1 1107.78 126.83L1100.81 150.00A106.30 106.30 0 0 0 1095.42 148.54Z" fill="#afc1fa"/><path d="M1107.25 126.67A130.50 130.50 0 0 1 1113.77 128.79L1105.69 151.60A106.30 106.30 0 0 0 1100.38 149.88Z" fill="#aec1fa"/><path d="M1113.26 128.61A130.50 130.50 0 0 1 1119.66 131.04L1110.49 153.43A106.30 106.30 0 0 0 1105.27 151.45Z" fill="#aec1fa"/><path d="M1119.16 130.83A130.50 130.50 0 0 1 1125.44 133.57L1115.20 155.49A106.30 106.30 0 0 0 1110.08 153.26Z" fill="#aec0fa"/><path d="M1124.94 133.34A130.50 130.50 0 0 1 1131.09 136.38L1119.80 157.78A106.30 106.30 0 0 0 1114.79 155.31Z" fill="#aec0fa"/><path d="M1130.60 136.12A130.50 130.50 0 0 1 1136.59 139.45L1124.28 160.29A106.30 106.30 0 0 0 1119.40 157.57Z" fill="#aec0fa"/><path d="M1136.12 139.17A130.50 130.50 0 0 1 1141.94 142.79L1128.64 163.01A106.30 106.30 0 0 0 1123.90 160.06Z" fill="#aec0fa"/><path d="M1141.49 142.49A130.50 130.50 0 0 1 1147.13 146.38L1132.86 165.93A106.30 106.30 0 0 0 1128.27 162.76Z" fill="#adc0fa"/><path d="M1146.68 146.06A130.50 130.50 0 0 1 1152.13 150.22L1136.94 169.06A106.30 106.30 0 0 0 1132.50 165.67Z" fill="#adc0fa"/><path d="M1151.70 149.88A130.50 130.50 0 0 1 1156.94 154.30L1140.86 172.38A106.30 106.30 0 0 0 1136.59 168.78Z" fill="#adc0fa"/><path d="M1156.53 153.94A130.50 130.50 0 0 1 1161.55 158.61L1144.61 175.89A106.30 106.30 0 0 0 1140.52 172.09Z" fill="#adc0fa"/><path d="M1161.16 158.22A130.50 130.50 0 0 1 1165.95 163.13L1148.19 179.57A106.30 106.30 0 0 0 1144.29 175.58Z" fill="#adc0fa"/><path d="M1165.57 162.73A130.50 130.50 0 0 1 1170.12 167.86L1151.59 183.42A106.30 106.30 0 0 0 1147.89 179.25Z" fill="#adbffa"/><path d="M1169.77 167.44A130.50 130.50 0 0 1 1174.06 172.78L1154.80 187.44A106.30 106.30 0 0 0 1151.30 183.08Z" fill="#adbffa"/><path d="M1173.73 172.35A130.50 130.50 0 0 1 1177.75 177.89L1157.81 191.60A106.30 106.30 0 0 0 1154.53 187.08Z" fill="#acbffa"/><path d="M1177.44 177.44A130.50 130.50 0 0 1 1181.20 183.18L1160.62 195.90A106.30 106.30 0 0 0 1157.56 191.23Z" fill="#acbffa"/><path d="M1180.91 182.71A130.50 130.50 0 0 1 1184.39 188.62L1163.21 200.33A106.30 106.30 0 0 0 1160.38 195.52Z" fill="#acbffa"/><path d="M1184.12 188.14A130.50 130.50 0 0 1 1187.30 194.21L1165.59 204.89A106.30 106.30 0 0 0 1162.99 199.95Z" fill="#acbffa"/><path d="M1187.06 193.72A130.50 130.50 0 0 1 1189.95 199.93L1167.74 209.55A106.30 106.30 0 0 0 1165.39 204.49Z" fill="#abbffa"/><path d="M1189.73 199.43A130.50 130.50 0 0 1 1192.32 205.78L1169.67 214.31A106.30 106.30 0 0 0 1167.57 209.14Z" fill="#abbffa"/><path d="M1192.12 205.27A130.50 130.50 0 0 1 1194.40 211.73L1171.37 219.16A106.30 106.30 0 0 0 1169.51 213.90Z" fill="#abbefa"/><path d="M1194.23 211.21A130.50 130.50 0 0 1 1196.19 217.78L1172.82 224.09A106.30 106.30 0 0 0 1171.23 218.74Z" fill="#abbefa"/><path d="M1196.04 217.25A130.50 130.50 0 0 1 1197.68 223.91L1174.04 229.08A106.30 106.30 0 0 0 1172.71 223.66Z" fill="#aabefa"/><path d="M1197.57 223.37A130.50 130.50 0 0 1 1198.88 230.10L1175.02 234.12A106.30 106.30 0 0 0 1173.95 228.64Z" fill="#aabefa"/><path d="M1198.79 229.56A130.50 130.50 0 0 1 1199.78 236.34L1175.75 239.21A106.30 106.30 0 0 0 1174.94 233.68Z" fill="#aabefa"/><path d="M1199.72 235.80A130.50 130.50 0 0 1 1200.38 242.62L1176.24 244.32A106.30 106.30 0 0 0 1175.70 238.77Z" fill="#a9befa"/><path d="M1200.34 242.07A130.50 130.50 0 0 1 1200.67 248.92L1176.47 249.45A106.30 106.30 0 0 0 1176.20 243.88Z" fill="#a9befa"/><path d="M1200.66 248.37A130.50 130.50 0 0 1 1200.66 255.23L1176.46 254.59A106.30 106.30 0 0 0 1176.46 249.01Z" fill="#a9bdfa"/><path d="M1200.67 254.68A130.50 130.50 0 0 1 1200.34 261.53L1176.20 259.72A106.30 106.30 0 0 0 1176.47 254.15Z" fill="#a9bdfa"/><path d="M1200.38 260.98A130.50 130.50 0 0 1 1199.72 267.80L1175.70 264.83A106.30 106.30 0 0 0 1176.24 259.28Z" fill="#a8bdfa"/><path d="M1199.78 267.26A130.50 130.50 0 0 1 1198.79 274.04L1174.94 269.92A106.30 106.30 0 0 0 1175.75 264.39Z" fill="#a8bdfa"/><path d="M1198.88 273.50A130.50 130.50 0 0 1 1197.57 280.23L1173.95 274.96A106.30 106.30 0 0 0 1175.02 269.48Z" fill="#bccafb"/><path d="M1197.68 279.69A130.50 130.50 0 0 1 1196.04 286.35L1172.71 279.94A106.30 106.30 0 0 0 1174.04 274.52Z" fill="#bccafb"/><path d="M1196.19 285.82A130.50 130.50 0 0 1 1194.23 292.39L1171.23 284.86A106.30 106.30 0 0 0 1172.82 279.51Z" fill="#bdcbfb"/><path d="M1194.40 291.87A130.50 130.50 0 0 1 1192.12 298.33L1169.51 289.70A106.30 106.30 0 0 0 1171.37 284.44Z" fill="#bdcbfb"/><path d="M1192.32 297.82A130.50 130.50 0 0 1 1189.73 304.17L1167.57 294.46A106.30 106.30 0 0 0 1169.67 289.29Z" fill="#bdcbfb"/><path d="M1189.95 303.67A130.50 130.50 0 0 1 1187.06 309.88L1165.39 299.11A106.30 106.30 0 0 0 1167.74 294.05Z" fill="#becbfb"/><path d="M1187.30 309.39A130.50 130.50 0 0 1 1184.12 315.46L1162.99 303.65A106.30 106.30 0 0 0 1165.59 298.71Z" fill="#becbfb"/><path d="M1184.39 314.98A130.50 130.50 0 0 1 1180.91 320.89L1160.38 308.08A106.30 106.30 0 0 0 1163.21 303.27Z" fill="#beccfb"/><path d="M1181.20 320.42A130.50 130.50 0 0 1 1177.44 326.16L1157.56 312.37A106.30 106.30 0 0 0 1160.62 307.70Z" fill="#beccfb"/><path d="M1177.75 325.71A130.50 130.50 0 0 1 1173.73 331.25L1154.53 316.52A106.30 106.30 0 0 0 1157.81 312.00Z" fill="#bfccfb"/><path d="M1174.06 330.82A130.50 130.50 0 0 1 1169.77 336.16L1151.30 320.52A106.30 106.30 0 0 0 1154.80 316.16Z" fill="#bfccfb"/><path d="M1170.12 335.74A130.50 130.50 0 0 1 1165.57 340.87L1147.89 324.35A106.30 106.30 0 0 0 1151.59 320.18Z" fill="#bfcdfb"/><path d="M1165.95 340.47A130.50 130.50 0 0 1 1161.16 345.38L1144.29 328.02A106.30 106.30 0 0 0 1148.19 324.03Z" fill="#bfcdfb"/><path d="M1161.55 344.99A130.50 130.50 0 0 1 1156.53 349.66L1140.52 331.51A106.30 106.30 0 0 0 1144.61 327.71Z" fill="#c0cdfb"/><path d="M1156.94 349.30A130.50 130.50 0 0 1 1151.70 353.72L1136.59 334.82A106.30 106.30 0 0 0 1140.86 331.22Z" fill="#c0cdfb"/><path d="M1152.13 353.38A130.50 130.50 0 0 1 1146.68 357.54L1132.50 337.93A106.30 106.30 0 0 0 1136.94 334.54Z" fill="#c0cdfb"/><path d="M1147.13 357.22A130.50 130.50 0 0 1 1141.49 361.11L1128.27 340.84A106.30 106.30 0 0 0 1132.86 337.67Z" fill="#c1cefb"/><path d="M1141.94 360.81A130.50 130.50 0 0 1 1136.12 364.43L1123.90 343.54A106.30 106.30 0 0 0 1128.64 340.59Z" fill="#c1cefb"/><path d="M1136.59 364.15A130.50 130.50 0 0 1 1130.60 367.48L1119.40 346.03A106.30 106.30 0 0 0 1124.28 343.31Z" fill="#c1cefb"/><path d="M1131.09 367.22A130.50 130.50 0 0 1 1124.94 370.26L1114.79 348.29A106.30 106.30 0 0 0 1119.80 345.82Z" fill="#c1cefb"/><path d="M1125.44 370.03A130.50 130.50 0 0 1 1119.16 372.77L1110.08 350.34A106.30 106.30 0 0 0 1115.20 348.11Z" fill="#c2cffb"/><path d="M1119.66 372.56A130.50 130.50 0 0 1 1113.26 374.99L1105.27 352.15A106.30 106.30 0 0 0 1110.49 350.17Z" fill="#c2cffb"/><path d="M1113.77 374.81A130.50 130.50 0 0 1 1107.25 376.93L1100.38 353.72A106.30 106.30 0 0 0 1105.69 352.00Z" fill="#c2cffb"/><path d="M1107.78 376.77A130.50 130.50 0 0 1 1101.17 378.57L1095.42 355.06A106.30 106.30 0 0 0 1100.81 353.60Z" fill="#c3cffb"/><path d="M1101.70 378.44A130.50 130.50 0 0 1 1095.00 379.92L1090.40 356.16A106.30 106.30 0 0 0 1095.86 354.96Z" fill="#c3cffb"/><path d="M1095.54 379.82A130.50 130.50 0 0 1 1088.79 380.97L1085.34 357.02A106.30 106.30 0 0 0 1090.84 356.08Z" fill="#c3d0fb"/><path d="M1089.33 380.89A130.50 130.50 0 0 1 1082.52 381.72L1080.24 357.63A106.30 106.30 0 0 0 1085.78 356.95Z" fill="#c3d0fb"/><path d="M1083.07 381.66A130.50 130.50 0 0 1 1076.23 382.16L1075.11 357.99A106.30 106.30 0 0 0 1080.68 357.58Z" fill="#c4d0fb"/><path d="M1076.78 382.13A130.50 130.50 0 0 1 1069.93 382.30L1069.98 358.10A106.30 106.30 0 0 0 1075.56 357.96Z" fill="#c4d0fb"/><path d="M1070.47 382.30A130.50 130.50 0 0 1 1063.62 382.13L1064.84 357.96A106.30 106.30 0 0 0 1070.42 358.10Z" fill="#c4d1fb"/><path d="M1064.17 382.16A130.50 130.50 0 0 1 1057.33 381.66L1059.72 357.58A106.30 106.30 0 0 0 1065.29 357.99Z" fill="#c4d1fb"/><path d="M1057.88 381.72A130.50 130.50 0 0 1 1051.07 380.89L1054.62 356.95A106.30 106.30 0 0 0 1060.16 357.63Z" fill="#c5d1fb"/><path d="M1051.61 380.97A130.50 130.50 0 0 1 1044.86 379.82L1049.56 356.08A106.30 106.30 0 0 0 1055.06 357.02Z" fill="#c5d1fb"/><path d="M1045.40 379.92A130.50 130.50 0 0 1 1038.70 378.44L1044.54 354.96A106.30 106.30 0 0 0 1050.00 356.16Z" fill="#c5d1fb"/><path d="M1039.23 378.57A130.50 130.50 0 0 1 1032.62 376.77L1039.59 353.60A106.30 106.30 0 0 0 1044.98 355.06Z" fill="#c6d2fb"/><path d="M1033.15 376.93A130.50 130.50 0 0 1 1026.63 374.81L1034.71 352.00A106.30 106.30 0 0 0 1040.02 353.72Z" fill="#c6d2fb"/><path d="M1027.14 374.99A130.50 130.50 0 0 1 1020.74 372.56L1029.91 350.17A106.30 106.30 0 0 0 1035.13 352.15Z" fill="#fec6b4"/><path d="M1021.24 372.77A130.50 130.50 0 0 1 1014.96 370.03L1025.20 348.11A106.30 106.30 0 0 0 1030.32 350.34Z" fill="#fec5b3"/><path d="M1015.46 370.26A130.50 130.50 0 0 1 1009.31 367.22L1020.60 345.82A106.30 106.30 0 0 0 1025.61 348.29Z" fill="#fec5b3"/><path d="M1009.80 367.48A130.50 130.50 0 0 1 1003.81 364.15L1016.12 343.31A106.30 106.30 0 0 0 1021.00 346.03Z" fill="#fec4b2"/><path d="M1004.28 364.43A130.50 130.50 0 0 1 998.46 360.81L1011.76 340.59A106.30 106.30 0 0 0 1016.50 343.54Z" fill="#fec4b2"/><path d="M998.91 361.11A130.50 130.50 0 0 1 993.27 357.22L1007.54 337.67A106.30 106.30 0 0 0 1012.13 340.84Z" fill="#fec3b1"/><path d="M993.72 357.54A130.50 130.50 0 0 1 988.27 353.38L1003.46 334.54A106.30 106.30 0 0 0 1007.90 337.93Z" fill="#fdc3b0"/><path d="M988.70 353.72A130.50 130.50 0 0 1 983.46 349.30L999.54 331.22A106.30 106.30 0 0 0 1003.81 334.82Z" fill="#fdc2b0"/><path d="M983.87 349.66A130.50 130.50 0 0 1 978.85 344.99L995.79 327.71A106.30 106.30 0 0 0 999.88 331.51Z" fill="#fdc2af"/><path d="M979.24 345.38A130.50 130.50 0 0 1 974.45 340.47L992.21 324.03A106.30 106.30 0 0 0 996.11 328.02Z" fill="#fdc2af"/><path d="M974.83 340.87A130.50 130.50 0 0 1 970.28 335.74L988.81 320.18A106.30 106.30 0 0 0 992.51 324.35Z" fill="#fdc1ae"/><path d="M970.63 336.16A130.50 130.50 0 0 1 966.34 330.82L985.60 316.16A106.30 106.30 0 0 0 989.10 320.52Z" fill="#fdc1ae"/><path d="M966.67 331.25A130.50 130.50 0 0 1 962.65 325.71L982.59 312.00A106.30 106.30 0 0 0 985.87 316.52Z" fill="#fdc0ad"/><path d="M962.96 326.16A130.50 130.50 0 0 1 959.20 320.42L979.78 307.70A106.30 106.30 0 0 0 982.84 312.37Z" fill="#fdc0ad"/><path d="M959.49 320.89A130.50 130.50 0 0 1 956.01 314.98L977.19 303.27A106.30 106.30 0 0 0 980.02 308.08Z" fill="#fdbfac"/><path d="M956.28 315.46A130.50 130.50 0 0 1 953.10 309.39L974.81 298.71A106.30 106.30 0 0 0 977.41 303.65Z" fill="#fdbfac"/><path d="M953.34 309.88A130.50 130.50 0 0 1 950.45 303.67L972.66 294.05A106.30 106.30 0 0 0 975.01 299.11Z" fill="#fdbeab"/><path d="M950.67 304.17A130.50 130.50 0 0 1 948.08 297.82L970.73 289.29A106.30 106.30 0 0 0 972.83 294.46Z" fill="#fdbeaa"/><path d="M948.28 298.33A130.50 130.50 0 0 1 946.00 291.87L969.03 284.44A106.30 106.30 0 0 0 970.89 289.70Z" fill="#fdbdaa"/><path d="M946.17 292.39A130.50 130.50 0 0 1 944.21 285.82L967.58 279.51A106.30 106.30 0 0 0 969.17 284.86Z" fill="#fdbda9"/><path d="M944.36 286.35A130.50 130.50 0 0 1 942.72 279.69L966.36 274.52A106.30 106.30 0 0 0 967.69 279.94Z" fill="#fdbca9"/><path d="M942.83 280.23A130.50 130.50 0 0 1 941.52 273.50L965.38 269.48A106.30 106.30 0 0 0 966.45 274.96Z" fill="#fdbca8"/><path d="M941.61 274.04A130.50 130.50 0 0 1 940.62 267.26L964.65 264.39A106.30 106.30 0 0 0 965.46 269.92Z" fill="#fdbba8"/><path d="M940.68 267.80A130.50 130.50 0 0 1 940.02 260.98L964.16 259.28A106.30 106.30 0 0 0 964.70 264.83Z" fill="#fdbba7"/><path d="M940.06 261.53A130.50 130.50 0 0 1 939.73 254.68L963.93 254.15A106.30 106.30 0 0 0 964.20 259.72Z" fill="#fdbaa7"/><path d="M939.74 255.23A130.50 130.50 0 0 1 939.74 248.37L963.94 249.01A106.30 106.30 0 0 0 963.94 254.59Z" fill="#fdbaa6"/><path d="M939.73 248.92A130.50 130.50 0 0 1 940.06 242.07L964.20 243.88A106.30 106.30 0 0 0 963.93 249.45Z" fill="#fdbaa6"/><path d="M940.02 242.62A130.50 130.50 0 0 1 940.68 235.80L964.70 238.77A106.30 106.30 0 0 0 964.16 244.32Z" fill="#fdb9a5"/><path d="M940.62 236.34A130.50 130.50 0 0 1 941.61 229.56L965.46 233.68A106.30 106.30 0 0 0 964.65 239.21Z" fill="#fdb9a5"/><path d="M941.52 230.10A130.50 130.50 0 0 1 942.83 223.37L966.45 228.64A106.30 106.30 0 0 0 965.38 234.12Z" fill="#fdb9a5"/><path d="M942.72 223.91A130.50 130.50 0 0 1 944.36 217.25L967.69 223.66A106.30 106.30 0 0 0 966.36 229.08Z" fill="#fdb9a5"/><path d="M944.21 217.78A130.50 130.50 0 0 1 946.17 211.21L969.17 218.74A106.30 106.30 0 0 0 967.58 224.09Z" fill="#fdb8a4"/><path d="M946.00 211.73A130.50 130.50 0 0 1 948.28 205.27L970.89 213.90A106.30 106.30 0 0 0 969.03 219.16Z" fill="#fdb8a4"/><path d="M948.08 205.78A130.50 130.50 0 0 1 950.67 199.43L972.83 209.14A106.30 106.30 0 0 0 970.73 214.31Z" fill="#fdb8a4"/><path d="M950.45 199.93A130.50 130.50 0 0 1 953.34 193.72L975.01 204.49A106.30 106.30 0 0 0 972.66 209.55Z" fill="#fdb8a4"/><path d="M953.10 194.21A130.50 130.50 0 0 1 956.28 188.14L977.41 199.95A106.30 106.30 0 0 0 974.81 204.89Z" fill="#fdb7a3"/><path d="M956.01 188.62A130.50 130.50 0 0 1 959.49 182.71L980.02 195.52A106.30 106.30 0 0 0 977.19 200.33Z" fill="#fdb7a3"/><path d="M959.20 183.18A130.50 130.50 0 0 1 962.96 177.44L982.84 191.23A106.30 106.30 0 0 0 979.78 195.90Z" fill="#fdb5a0"/><path d="M962.65 177.89A130.50 130.50 0 0 1 966.67 172.35L985.87 187.08A106.30 106.30 0 0 0 982.59 191.60Z" fill="#fdb39e"/><path d="M966.34 172.78A130.50 130.50 0 0 1 970.63 167.44L989.10 183.08A106.30 106.30 0 0 0 985.60 187.44Z" fill="#fdb19c"/><path d="M970.28 167.86A130.50 130.50 0 0 1 974.83 162.73L992.51 179.25A106.30 106.30 0 0 0 988.81 183.42Z" fill="#fdae99"/><path d="M974.45 163.13A130.50 130.50 0 0 1 979.24 158.22L996.11 175.58A106.30 106.30 0 0 0 992.21 179.57Z" fill="#fdac97"/><path d="M978.85 158.61A130.50 130.50 0 0 1 983.87 153.94L999.88 172.09A106.30 106.30 0 0 0 995.79 175.89Z" fill="#fdaa95"/><path d="M983.46 154.30A130.50 130.50 0 0 1 988.70 149.88L1003.81 168.78A106.30 106.30 0 0 0 999.54 172.38Z" fill="#fda892"/><path d="M988.27 150.22A130.50 130.50 0 0 1 993.72 146.06L1007.90 165.67A106.30 106.30 0 0 0 1003.46 169.06Z" fill="#fda68f"/><path d="M993.27 146.38A130.50 130.50 0 0 1 998.91 142.49L1012.13 162.76A106.30 106.30 0 0 0 1007.54 165.93Z" fill="#fda38c"/><path d="M998.46 142.79A130.50 130.50 0 0 1 1004.28 139.17L1016.50 160.06A106.30 106.30 0 0 0 1011.76 163.01Z" fill="#fca089"/><path d="M1003.81 139.45A130.50 130.50 0 0 1 1009.80 136.12L1021.00 157.57A106.30 106.30 0 0 0 1016.12 160.29Z" fill="#fc9e86"/><path d="M1009.31 136.38A130.50 130.50 0 0 1 1015.46 133.34L1025.61 155.31A106.30 106.30 0 0 0 1020.60 157.78Z" fill="#fc9b83"/><path d="M1014.96 133.57A130.50 130.50 0 0 1 1021.24 130.83L1030.32 153.26A106.30 106.30 0 0 0 1025.20 155.49Z" fill="#fc9880"/><path d="M1020.74 131.04A130.50 130.50 0 0 1 1027.14 128.61L1035.13 151.45A106.30 106.30 0 0 0 1029.91 153.43Z" fill="#fc957c"/><path d="M1026.63 128.79A130.50 130.50 0 0 1 1033.15 126.67L1040.02 149.88A106.30 106.30 0 0 0 1034.71 151.60Z" fill="#fc9179"/><path d="M1032.62 126.83A130.50 130.50 0 0 1 1039.23 125.03L1044.98 148.54A106.30 106.30 0 0 0 1039.59 150.00Z" fill="#fc8e75"/><path d="M1038.70 125.16A130.50 130.50 0 0 1 1045.40 123.68L1050.00 147.44A106.30 106.30 0 0 0 1044.54 148.64Z" fill="#fc886f"/><path d="M1044.86 123.78A130.50 130.50 0 0 1 1051.61 122.63L1055.06 146.58A106.30 106.30 0 0 0 1049.56 147.52Z" fill="#fb8167"/><path d="M1051.07 122.71A130.50 130.50 0 0 1 1057.88 121.88L1060.16 145.97A106.30 106.30 0 0 0 1054.62 146.65Z" fill="#fb745b"/><path d="M1057.33 121.94A130.50 130.50 0 0 1 1064.17 121.44L1065.29 145.61A106.30 106.30 0 0 0 1059.72 146.02Z" fill="#fb5241"/><path d="M1063.62 121.47A130.50 130.50 0 0 1 1070.47 121.30L1070.42 145.50A106.30 106.30 0 0 0 1064.84 145.64Z" fill="#fb2e2e"/></g>
<g transform="translate(249.60 0) scale(0.9780 1) translate(-249.60 0)"><path d="M249.36 1283.60A225.00 225.00 0 0 1 259.26 1283.81L258.32 1305.60A203.18 203.18 0 0 0 249.39 1305.42Z" fill="#fdc9e3"/><path d="M249.39 1305.27A203.33 203.33 0 0 1 258.33 1305.45L257.39 1327.25A181.52 181.52 0 0 0 249.41 1327.08Z" fill="#fdb660"/><path d="M249.41 1326.93A181.67 181.67 0 0 1 257.40 1327.10L256.47 1348.75A160.00 160.00 0 0 0 249.43 1348.60Z" fill="#7fc6c1"/><path d="M258.79 1283.79A225.00 225.00 0 0 1 268.66 1284.41L263.16 1349.18A160.00 160.00 0 0 0 256.13 1348.73Z" fill="#bbb7dc"/><path d="M268.19 1284.37A225.00 225.00 0 0 1 278.03 1285.40L273.91 1317.79A192.35 192.35 0 0 0 265.49 1316.91Z" fill="#fdc9e3"/><path d="M265.51 1316.76A192.50 192.50 0 0 1 273.93 1317.64L269.82 1349.88A160.00 160.00 0 0 0 262.82 1349.15Z" fill="#bbb7dc"/><path d="M277.57 1285.34A225.00 225.00 0 0 1 287.36 1286.79L276.45 1350.87A160.00 160.00 0 0 0 269.49 1349.84Z" fill="#fdc9e3"/><path d="M286.89 1286.71A225.00 225.00 0 0 1 296.61 1288.57L283.03 1352.13A160.00 160.00 0 0 0 276.12 1350.81Z" fill="#fdb660"/><path d="M296.15 1288.47A225.00 225.00 0 0 1 305.78 1290.73L297.63 1322.34A192.35 192.35 0 0 0 289.39 1320.41Z" fill="#fdc9e3"/><path d="M289.43 1320.26A192.50 192.50 0 0 1 297.67 1322.20L289.55 1353.67A160.00 160.00 0 0 0 282.70 1352.06Z" fill="#7fc6c1"/><path d="M305.33 1290.61A225.00 225.00 0 0 1 314.86 1293.27L305.39 1324.52A192.35 192.35 0 0 0 297.24 1322.24Z" fill="#fdc9e3"/><path d="M297.28 1322.10A192.50 192.50 0 0 1 305.43 1324.37L296.01 1355.48A160.00 160.00 0 0 0 289.23 1353.59Z" fill="#bbb7dc"/><path d="M314.41 1293.14A225.00 225.00 0 0 1 323.82 1296.19L302.38 1357.55A160.00 160.00 0 0 0 295.68 1355.38Z" fill="#fdc9e3"/><path d="M323.37 1296.04A225.00 225.00 0 0 1 332.65 1299.49L308.66 1359.90A160.00 160.00 0 0 0 302.06 1357.44Z" fill="#7fc6c1"/><path d="M332.21 1299.31A225.00 225.00 0 0 1 341.33 1303.15L314.83 1362.50A160.00 160.00 0 0 0 308.34 1359.77Z" fill="#bbb7dc"/><path d="M340.90 1302.96A225.00 225.00 0 0 1 349.85 1307.17L335.31 1336.40A192.35 192.35 0 0 0 327.65 1332.80Z" fill="#fdc9e3"/><path d="M327.71 1332.66A192.50 192.50 0 0 1 335.37 1336.27L320.89 1365.36A160.00 160.00 0 0 0 314.52 1362.36Z" fill="#fdb660"/><path d="M349.43 1306.96A225.00 225.00 0 0 1 358.20 1311.54L326.83 1368.47A160.00 160.00 0 0 0 320.59 1365.21Z" fill="#fdc9e3"/><path d="M357.79 1311.32A225.00 225.00 0 0 1 366.36 1316.27L332.63 1371.83A160.00 160.00 0 0 0 326.53 1368.31Z" fill="#bbb7dc"/><path d="M365.95 1316.02A225.00 225.00 0 0 1 382.04 1326.71L343.78 1379.26A160.00 160.00 0 0 0 332.34 1371.65Z" fill="#bb7cbb"/><path d="M381.66 1326.43A225.00 225.00 0 0 1 389.54 1332.42L349.11 1383.31A160.00 160.00 0 0 0 343.51 1379.06Z" fill="#7fc6c1"/><path d="M389.17 1332.12A225.00 225.00 0 0 1 403.79 1344.74L359.25 1392.08A160.00 160.00 0 0 0 348.85 1383.11Z" fill="#bbb7dc"/><path d="M403.45 1344.42A225.00 225.00 0 0 1 410.52 1351.34L364.03 1396.77A160.00 160.00 0 0 0 359.01 1391.85Z" fill="#7fc6c1"/><path d="M410.19 1351.01A225.00 225.00 0 0 1 416.97 1358.22L392.68 1380.04A192.35 192.35 0 0 0 386.89 1373.88Z" fill="#fdc9e3"/><path d="M386.99 1373.77A192.50 192.50 0 0 1 392.79 1379.94L368.62 1401.66A160.00 160.00 0 0 0 363.80 1396.53Z" fill="#bbb7dc"/><path d="M416.65 1357.87A225.00 225.00 0 0 1 428.96 1372.75L377.15 1412.00A160.00 160.00 0 0 0 368.39 1401.41Z" fill="#bbb7dc"/><path d="M428.68 1372.38A225.00 225.00 0 0 1 434.49 1380.38L407.66 1398.99A192.35 192.35 0 0 0 402.69 1392.14Z" fill="#fdc9e3"/><path d="M402.81 1392.05A192.50 192.50 0 0 1 407.79 1398.90L381.08 1417.42A160.00 160.00 0 0 0 376.94 1411.73Z" fill="#bbb7dc"/><path d="M434.22 1380.00A225.00 225.00 0 0 1 444.57 1396.30L388.25 1428.75A160.00 160.00 0 0 0 380.89 1417.15Z" fill="#7fc6c1"/><path d="M444.34 1395.90A225.00 225.00 0 0 1 449.10 1404.57L420.15 1419.66A192.35 192.35 0 0 0 416.08 1412.25Z" fill="#fdc9e3"/><path d="M416.21 1412.18A192.50 192.50 0 0 1 420.29 1419.59L391.47 1434.62A160.00 160.00 0 0 0 388.08 1428.45Z" fill="#bbb7dc"/><path d="M448.89 1404.15A225.00 225.00 0 0 1 453.29 1413.01L394.44 1440.63A160.00 160.00 0 0 0 391.31 1434.32Z" fill="#bbb7dc"/><path d="M453.09 1412.59A225.00 225.00 0 0 1 457.11 1421.63L397.16 1446.75A160.00 160.00 0 0 0 394.30 1440.32Z" fill="#bb7cbb"/><path d="M456.93 1421.19A225.00 225.00 0 0 1 460.57 1430.39L399.62 1452.99A160.00 160.00 0 0 0 397.03 1446.44Z" fill="#7fc6c1"/><path d="M460.41 1429.95A225.00 225.00 0 0 1 463.66 1439.30L401.82 1459.32A160.00 160.00 0 0 0 399.51 1452.67Z" fill="#fdc9e3"/><path d="M463.51 1438.85A225.00 225.00 0 0 1 466.37 1448.32L434.92 1457.07A192.35 192.35 0 0 0 432.47 1448.97Z" fill="#afd568"/><path d="M432.62 1448.92A192.50 192.50 0 0 1 435.06 1457.03L403.75 1465.73A160.00 160.00 0 0 0 401.72 1459.00Z" fill="#7fc6c1"/><path d="M466.25 1447.87A225.00 225.00 0 0 1 468.71 1457.45L405.41 1472.23A160.00 160.00 0 0 0 403.66 1465.41Z" fill="#afd568"/><path d="M468.60 1456.99A225.00 225.00 0 0 1 470.66 1466.67L406.80 1478.78A160.00 160.00 0 0 0 405.33 1471.90Z" fill="#7fc6c1"/><path d="M470.57 1466.21A225.00 225.00 0 0 1 472.22 1475.96L450.63 1479.13A203.18 203.18 0 0 0 449.14 1470.32Z" fill="#fdc9e3"/><path d="M449.29 1470.29A203.33 203.33 0 0 1 450.78 1479.11L429.20 1482.27A181.52 181.52 0 0 0 427.87 1474.40Z" fill="#bbb7dc"/><path d="M428.01 1474.37A181.67 181.67 0 0 1 429.35 1482.25L407.91 1485.39A160.00 160.00 0 0 0 406.73 1478.45Z" fill="#7fc6c1"/><path d="M472.15 1475.50A225.00 225.00 0 0 1 473.39 1485.32L408.74 1492.04A160.00 160.00 0 0 0 407.86 1485.06Z" fill="#fdc9e3"/><path d="M473.34 1484.85A225.00 225.00 0 0 1 474.17 1494.71L409.29 1498.72A160.00 160.00 0 0 0 408.71 1491.71Z" fill="#bbb7dc"/><path d="M474.14 1494.24A225.00 225.00 0 0 1 474.56 1504.12L441.91 1504.77A192.35 192.35 0 0 0 441.56 1496.32Z" fill="#bbb7dc"/><path d="M441.71 1496.31A192.50 192.50 0 0 1 442.06 1504.77L409.57 1505.42A160.00 160.00 0 0 0 409.27 1498.39Z" fill="#7fc6c1"/><path d="M474.55 1503.65A225.00 225.00 0 0 1 474.14 1522.96L409.27 1518.81A160.00 160.00 0 0 0 409.56 1505.08Z" fill="#bbb7dc"/><path d="M474.17 1522.49A225.00 225.00 0 0 1 473.34 1532.35L408.71 1525.49A160.00 160.00 0 0 0 409.29 1518.48Z" fill="#7fc6c1"/><path d="M473.39 1531.88A225.00 225.00 0 0 1 472.15 1541.70L407.86 1532.14A160.00 160.00 0 0 0 408.74 1525.16Z" fill="#bb7cbb"/><path d="M472.22 1541.24A225.00 225.00 0 0 1 470.57 1550.99L406.73 1538.75A160.00 160.00 0 0 0 407.91 1531.81Z" fill="#bbb7dc"/><path d="M470.66 1550.53A225.00 225.00 0 0 1 468.60 1560.21L405.33 1545.30A160.00 160.00 0 0 0 406.80 1538.42Z" fill="#fdc9e3"/><path d="M468.71 1559.75A225.00 225.00 0 0 1 466.25 1569.33L403.66 1551.79A160.00 160.00 0 0 0 405.41 1544.97Z" fill="#fdb660"/><path d="M466.37 1568.88A225.00 225.00 0 0 1 460.41 1587.25L399.51 1564.53A160.00 160.00 0 0 0 403.75 1551.47Z" fill="#bbb7dc"/><path d="M460.57 1586.81A225.00 225.00 0 0 1 456.93 1596.01L426.84 1583.32A192.35 192.35 0 0 0 429.96 1575.46Z" fill="#fdc9e3"/><path d="M430.10 1575.51A192.50 192.50 0 0 1 426.98 1583.38L397.03 1570.76A160.00 160.00 0 0 0 399.62 1564.21Z" fill="#bbb7dc"/><path d="M457.11 1595.57A225.00 225.00 0 0 1 448.89 1613.05L391.31 1582.88A160.00 160.00 0 0 0 397.16 1570.45Z" fill="#bbb7dc"/><path d="M449.10 1612.63A225.00 225.00 0 0 1 444.34 1621.30L388.08 1588.75A160.00 160.00 0 0 0 391.47 1582.58Z" fill="#7fc6c1"/><path d="M444.57 1620.90A225.00 225.00 0 0 1 439.45 1629.36L384.60 1594.47A160.00 160.00 0 0 0 388.25 1588.45Z" fill="#bbb7dc"/><path d="M439.70 1628.96A225.00 225.00 0 0 1 434.22 1637.20L380.89 1600.05A160.00 160.00 0 0 0 384.78 1594.19Z" fill="#afd568"/><path d="M434.49 1636.82A225.00 225.00 0 0 1 422.82 1652.20L372.78 1610.72A160.00 160.00 0 0 0 381.08 1599.78Z" fill="#7fc6c1"/><path d="M423.12 1651.84A225.00 225.00 0 0 1 416.65 1659.33L368.39 1615.79A160.00 160.00 0 0 0 372.99 1610.46Z" fill="#fdc9e3"/><path d="M416.97 1658.98A225.00 225.00 0 0 1 410.19 1666.19L363.80 1620.67A160.00 160.00 0 0 0 368.62 1615.54Z" fill="#bb7cbb"/><path d="M410.52 1665.86A225.00 225.00 0 0 1 403.45 1672.78L359.01 1625.35A160.00 160.00 0 0 0 364.03 1620.43Z" fill="#bbb7dc"/><path d="M403.79 1672.46A225.00 225.00 0 0 1 396.44 1679.08L354.02 1629.83A160.00 160.00 0 0 0 359.25 1625.12Z" fill="#d6d6d6"/><path d="M396.80 1678.77A225.00 225.00 0 0 1 389.17 1685.08L348.85 1634.09A160.00 160.00 0 0 0 354.27 1629.61Z" fill="#7fc6c1"/><path d="M389.54 1684.78A225.00 225.00 0 0 1 381.66 1690.77L343.51 1638.14A160.00 160.00 0 0 0 349.11 1633.89Z" fill="#bbb7dc"/><path d="M382.04 1690.49A225.00 225.00 0 0 1 373.92 1696.14L338.00 1641.96A160.00 160.00 0 0 0 343.78 1637.94Z" fill="#d6d6d6"/><path d="M374.31 1695.88A225.00 225.00 0 0 1 365.95 1701.18L332.34 1645.55A160.00 160.00 0 0 0 338.28 1641.77Z" fill="#bbb7dc"/><path d="M366.36 1700.93A225.00 225.00 0 0 1 357.79 1705.88L326.53 1648.89A160.00 160.00 0 0 0 332.63 1645.37Z" fill="#fdb660"/><path d="M358.20 1705.66A225.00 225.00 0 0 1 349.43 1710.24L334.95 1680.98A192.35 192.35 0 0 0 342.44 1677.06Z" fill="#fdc9e3"/><path d="M342.51 1677.19A192.50 192.50 0 0 1 335.01 1681.11L320.59 1651.99A160.00 160.00 0 0 0 326.83 1648.73Z" fill="#fdb660"/><path d="M349.85 1710.03A225.00 225.00 0 0 1 340.90 1714.24L314.52 1654.84A160.00 160.00 0 0 0 320.89 1651.84Z" fill="#fdc9e3"/><path d="M341.33 1714.05A225.00 225.00 0 0 1 332.21 1717.89L320.22 1687.52A192.35 192.35 0 0 0 328.02 1684.24Z" fill="#fdc9e3"/><path d="M328.08 1684.38A192.50 192.50 0 0 1 320.28 1687.66L308.34 1657.43A160.00 160.00 0 0 0 314.83 1654.70Z" fill="#7fc6c1"/><path d="M332.65 1717.71A225.00 225.00 0 0 1 323.37 1721.16L302.06 1659.76A160.00 160.00 0 0 0 308.66 1657.30Z" fill="#bbb7dc"/><path d="M323.82 1721.01A225.00 225.00 0 0 1 314.41 1724.06L295.68 1661.82A160.00 160.00 0 0 0 302.38 1659.65Z" fill="#fdb660"/><path d="M314.86 1723.93A225.00 225.00 0 0 1 305.33 1726.59L297.24 1694.96A192.35 192.35 0 0 0 305.39 1692.68Z" fill="#fdc9e3"/><path d="M305.43 1692.83A192.50 192.50 0 0 1 297.28 1695.10L289.23 1663.61A160.00 160.00 0 0 0 296.01 1661.72Z" fill="#fdb660"/><path d="M305.78 1726.47A225.00 225.00 0 0 1 296.15 1728.73L282.70 1665.14A160.00 160.00 0 0 0 289.55 1663.53Z" fill="#bb7cbb"/><path d="M296.61 1728.63A225.00 225.00 0 0 1 286.89 1730.49L276.12 1666.39A160.00 160.00 0 0 0 283.03 1665.07Z" fill="#bbb7dc"/><path d="M287.36 1730.41A225.00 225.00 0 0 1 277.57 1731.86L274.85 1710.21A203.18 203.18 0 0 0 283.69 1708.90Z" fill="#fdc9e3"/><path d="M283.72 1709.05A203.33 203.33 0 0 1 274.87 1710.36L272.16 1688.71A181.52 181.52 0 0 0 280.06 1687.54Z" fill="#bbb7dc"/><path d="M280.08 1687.69A181.67 181.67 0 0 1 272.18 1688.86L269.49 1667.36A160.00 160.00 0 0 0 276.45 1666.33Z" fill="#7fc6c1"/><path d="M278.03 1731.80A225.00 225.00 0 0 1 268.19 1732.83L266.39 1711.09A203.18 203.18 0 0 0 275.28 1710.15Z" fill="#fdc9e3"/><path d="M275.30 1710.30A203.33 203.33 0 0 1 266.40 1711.24L264.60 1689.50A181.52 181.52 0 0 0 272.54 1688.66Z" fill="#fdb660"/><path d="M272.56 1688.81A181.67 181.67 0 0 1 264.61 1689.65L262.82 1668.05A160.00 160.00 0 0 0 269.82 1667.32Z" fill="#bbb7dc"/><path d="M268.66 1732.79A225.00 225.00 0 0 1 258.79 1733.41L256.13 1668.47A160.00 160.00 0 0 0 263.16 1668.02Z" fill="#bbb7dc"/><path d="M259.26 1733.39A225.00 225.00 0 0 1 249.36 1733.60L249.43 1668.60A160.00 160.00 0 0 0 256.47 1668.45Z" fill="#fdc9e3"/><path d="M249.84 1733.60A225.00 225.00 0 0 1 239.94 1733.39L241.34 1700.77A192.35 192.35 0 0 0 249.80 1700.95Z" fill="#fdc9e3"/><path d="M249.80 1701.10A192.50 192.50 0 0 1 241.34 1700.92L242.73 1668.45A160.00 160.00 0 0 0 249.77 1668.60Z" fill="#7fc6c1"/><path d="M240.41 1733.41A225.00 225.00 0 0 1 230.54 1732.79L232.39 1711.05A203.18 203.18 0 0 0 241.30 1711.61Z" fill="#fdc9e3"/><path d="M241.30 1711.76A203.33 203.33 0 0 1 232.37 1711.20L234.22 1689.46A181.52 181.52 0 0 0 242.19 1689.97Z" fill="#fdb660"/><path d="M242.18 1690.12A181.67 181.67 0 0 1 234.21 1689.61L236.04 1668.02A160.00 160.00 0 0 0 243.07 1668.47Z" fill="#bbb7dc"/><path d="M231.01 1732.83A225.00 225.00 0 0 1 211.84 1730.41L217.32 1698.22A192.35 192.35 0 0 0 233.71 1700.29Z" fill="#76a9d4"/><path d="M233.69 1700.44A192.50 192.50 0 0 1 217.30 1698.37L222.75 1666.33A160.00 160.00 0 0 0 236.38 1668.05Z" fill="#fffba8"/><path d="M212.31 1730.49A225.00 225.00 0 0 1 202.59 1728.63L207.15 1707.30A203.18 203.18 0 0 0 215.93 1708.97Z" fill="#d6d6d6"/><path d="M215.90 1709.12A203.33 203.33 0 0 1 207.12 1707.45L211.67 1686.11A181.52 181.52 0 0 0 219.52 1687.61Z" fill="#76a9d4"/><path d="M219.49 1687.75A181.67 181.67 0 0 1 211.64 1686.26L216.17 1665.07A160.00 160.00 0 0 0 223.08 1666.39Z" fill="#fffba8"/><path d="M203.05 1728.73A225.00 225.00 0 0 1 193.42 1726.47L209.65 1663.53A160.00 160.00 0 0 0 216.50 1665.14Z" fill="#fffba8"/><path d="M193.87 1726.59A225.00 225.00 0 0 1 184.34 1723.93L203.19 1661.72A160.00 160.00 0 0 0 209.97 1663.61Z" fill="#bbb7dc"/><path d="M184.79 1724.06A225.00 225.00 0 0 1 175.38 1721.01L186.15 1690.18A192.35 192.35 0 0 0 194.20 1692.80Z" fill="#fdc9e3"/><path d="M194.15 1692.94A192.50 192.50 0 0 1 186.10 1690.33L196.82 1659.65A160.00 160.00 0 0 0 203.52 1661.82Z" fill="#bbb7dc"/><path d="M175.83 1721.16A225.00 225.00 0 0 1 166.55 1717.71L190.54 1657.30A160.00 160.00 0 0 0 197.14 1659.76Z" fill="#afd568"/><path d="M166.99 1717.89A225.00 225.00 0 0 1 157.87 1714.05L184.37 1654.70A160.00 160.00 0 0 0 190.86 1657.43Z" fill="#bbb7dc"/><path d="M158.30 1714.24A225.00 225.00 0 0 1 149.35 1710.03L178.31 1651.84A160.00 160.00 0 0 0 184.68 1654.84Z" fill="#fb8570"/><path d="M149.77 1710.24A225.00 225.00 0 0 1 141.00 1705.66L156.76 1677.06A192.35 192.35 0 0 0 164.25 1680.98Z" fill="#fdc9e3"/><path d="M164.19 1681.11A192.50 192.50 0 0 1 156.69 1677.19L172.37 1648.73A160.00 160.00 0 0 0 178.61 1651.99Z" fill="#bbb7dc"/><path d="M141.41 1705.88A225.00 225.00 0 0 1 132.84 1700.93L166.57 1645.37A160.00 160.00 0 0 0 172.67 1648.89Z" fill="#bbb7dc"/><path d="M133.25 1701.18A225.00 225.00 0 0 1 124.89 1695.88L160.92 1641.77A160.00 160.00 0 0 0 166.86 1645.55Z" fill="#afd568"/><path d="M125.28 1696.14A225.00 225.00 0 0 1 117.16 1690.49L130.00 1672.85A203.18 203.18 0 0 0 137.34 1677.95Z" fill="#d6d6d6"/><path d="M137.25 1678.08A203.33 203.33 0 0 1 129.91 1672.97L142.75 1655.34A181.52 181.52 0 0 0 149.31 1659.89Z" fill="#fb8570"/><path d="M149.23 1660.02A181.67 181.67 0 0 1 142.67 1655.46L155.42 1637.94A160.00 160.00 0 0 0 161.20 1641.96Z" fill="#7fc6c1"/><path d="M117.54 1690.77A225.00 225.00 0 0 1 109.66 1684.78L150.09 1633.89A160.00 160.00 0 0 0 155.69 1638.14Z" fill="#bbb7dc"/><path d="M110.03 1685.08A225.00 225.00 0 0 1 102.40 1678.77L144.93 1629.61A160.00 160.00 0 0 0 150.35 1634.09Z" fill="#7fc6c1"/><path d="M102.76 1679.08A225.00 225.00 0 0 1 95.41 1672.46L139.95 1625.12A160.00 160.00 0 0 0 145.18 1629.83Z" fill="#afd568"/><path d="M95.75 1672.78A225.00 225.00 0 0 1 88.68 1665.86L112.03 1643.04A192.35 192.35 0 0 0 118.07 1648.95Z" fill="#d6d6d6"/><path d="M117.97 1649.06A192.50 192.50 0 0 1 111.92 1643.14L135.17 1620.43A160.00 160.00 0 0 0 140.19 1625.35Z" fill="#7fc6c1"/><path d="M89.01 1666.19A225.00 225.00 0 0 1 82.23 1658.98L130.58 1615.54A160.00 160.00 0 0 0 135.40 1620.67Z" fill="#bbb7dc"/><path d="M82.55 1659.33A225.00 225.00 0 0 1 76.08 1651.84L126.21 1610.46A160.00 160.00 0 0 0 130.81 1615.79Z" fill="#d6d6d6"/><path d="M76.38 1652.20A225.00 225.00 0 0 1 70.24 1644.45L122.05 1605.20A160.00 160.00 0 0 0 126.42 1610.72Z" fill="#fb8570"/><path d="M70.52 1644.82A225.00 225.00 0 0 1 64.71 1636.82L118.12 1599.78A160.00 160.00 0 0 0 122.26 1605.47Z" fill="#afd568"/><path d="M64.98 1637.20A225.00 225.00 0 0 1 59.50 1628.96L114.42 1594.19A160.00 160.00 0 0 0 118.31 1600.05Z" fill="#d6d6d6"/><path d="M59.75 1629.36A225.00 225.00 0 0 1 54.63 1620.90L110.95 1588.45A160.00 160.00 0 0 0 114.60 1594.47Z" fill="#7fc6c1"/><path d="M54.86 1621.30A225.00 225.00 0 0 1 42.09 1595.57L102.04 1570.45A160.00 160.00 0 0 0 111.12 1588.75Z" fill="#d6d6d6"/><path d="M42.27 1596.01A225.00 225.00 0 0 1 38.63 1586.81L99.58 1564.21A160.00 160.00 0 0 0 102.17 1570.76Z" fill="#fffba8"/><path d="M38.79 1587.25A225.00 225.00 0 0 1 35.54 1577.90L97.38 1557.88A160.00 160.00 0 0 0 99.69 1564.53Z" fill="#d6d6d6"/><path d="M35.69 1578.35A225.00 225.00 0 0 1 32.83 1568.88L95.45 1551.47A160.00 160.00 0 0 0 97.48 1558.20Z" fill="#7fc6c1"/><path d="M32.95 1569.33A225.00 225.00 0 0 1 30.49 1559.75L93.79 1544.97A160.00 160.00 0 0 0 95.54 1551.79Z" fill="#fdc9e3"/><path d="M30.60 1560.21A225.00 225.00 0 0 1 28.54 1550.53L92.40 1538.42A160.00 160.00 0 0 0 93.87 1545.30Z" fill="#d6d6d6"/><path d="M28.63 1550.99A225.00 225.00 0 0 1 25.81 1531.88L90.46 1525.16A160.00 160.00 0 0 0 92.47 1538.75Z" fill="#7fc6c1"/><path d="M25.86 1532.35A225.00 225.00 0 0 1 25.03 1522.49L89.91 1518.48A160.00 160.00 0 0 0 90.49 1525.49Z" fill="#fdc9e3"/><path d="M25.06 1522.96A225.00 225.00 0 0 1 24.64 1513.08L46.46 1512.64A203.18 203.18 0 0 0 46.83 1521.57Z" fill="#76a9d4"/><path d="M46.68 1521.58A203.33 203.33 0 0 1 46.31 1512.65L68.12 1512.21A181.52 181.52 0 0 0 68.45 1520.19Z" fill="#fffba8"/><path d="M68.30 1520.20A181.67 181.67 0 0 1 67.97 1512.21L89.63 1511.78A160.00 160.00 0 0 0 89.93 1518.81Z" fill="#7fc6c1"/><path d="M24.65 1513.55A225.00 225.00 0 0 1 25.86 1484.85L90.49 1491.71A160.00 160.00 0 0 0 89.64 1512.12Z" fill="#d6d6d6"/><path d="M25.81 1485.32A225.00 225.00 0 0 1 27.05 1475.50L91.34 1485.06A160.00 160.00 0 0 0 90.46 1492.04Z" fill="#7fc6c1"/><path d="M26.98 1475.96A225.00 225.00 0 0 1 32.95 1447.87L95.54 1465.41A160.00 160.00 0 0 0 91.29 1485.39Z" fill="#d6d6d6"/><path d="M32.83 1448.32A225.00 225.00 0 0 1 35.69 1438.85L97.48 1459.00A160.00 160.00 0 0 0 95.45 1465.73Z" fill="#7fc6c1"/><path d="M35.54 1439.30A225.00 225.00 0 0 1 38.79 1429.95L99.69 1452.67A160.00 160.00 0 0 0 97.38 1459.32Z" fill="#d6d6d6"/><path d="M38.63 1430.39A225.00 225.00 0 0 1 42.27 1421.19L102.17 1446.44A160.00 160.00 0 0 0 99.58 1452.99Z" fill="#7fc6c1"/><path d="M42.09 1421.63A225.00 225.00 0 0 1 46.11 1412.59L104.90 1440.32A160.00 160.00 0 0 0 102.04 1446.75Z" fill="#d6d6d6"/><path d="M45.91 1413.01A225.00 225.00 0 0 1 50.31 1404.15L107.89 1434.32A160.00 160.00 0 0 0 104.76 1440.63Z" fill="#fdc9e3"/><path d="M50.10 1404.57A225.00 225.00 0 0 1 54.86 1395.90L111.12 1428.45A160.00 160.00 0 0 0 107.73 1434.62Z" fill="#bbb7dc"/><path d="M54.63 1396.30A225.00 225.00 0 0 1 59.75 1387.84L114.60 1422.73A160.00 160.00 0 0 0 110.95 1428.75Z" fill="#fb8570"/><path d="M59.50 1388.24A225.00 225.00 0 0 1 64.98 1380.00L118.31 1417.15A160.00 160.00 0 0 0 114.42 1423.01Z" fill="#7fc6c1"/><path d="M64.71 1380.38A225.00 225.00 0 0 1 70.52 1372.38L96.51 1392.14A192.35 192.35 0 0 0 91.54 1398.99Z" fill="#d6d6d6"/><path d="M91.41 1398.90A192.50 192.50 0 0 1 96.39 1392.05L122.26 1411.73A160.00 160.00 0 0 0 118.12 1417.42Z" fill="#fffba8"/><path d="M70.24 1372.75A225.00 225.00 0 0 1 76.38 1365.00L126.42 1406.48A160.00 160.00 0 0 0 122.05 1412.00Z" fill="#d6d6d6"/><path d="M76.08 1365.36A225.00 225.00 0 0 1 82.55 1357.87L106.79 1379.74A192.35 192.35 0 0 0 101.26 1386.15Z" fill="#afd568"/><path d="M101.15 1386.05A192.50 192.50 0 0 1 106.68 1379.64L130.81 1401.41A160.00 160.00 0 0 0 126.21 1406.74Z" fill="#7fc6c1"/><path d="M82.23 1358.22A225.00 225.00 0 0 1 89.01 1351.01L135.40 1396.53A160.00 160.00 0 0 0 130.58 1401.66Z" fill="#afd568"/><path d="M88.68 1351.34A225.00 225.00 0 0 1 95.75 1344.42L140.19 1391.85A160.00 160.00 0 0 0 135.17 1396.77Z" fill="#fffba8"/><path d="M95.41 1344.74A225.00 225.00 0 0 1 102.76 1338.12L145.18 1387.37A160.00 160.00 0 0 0 139.95 1392.08Z" fill="#bbb7dc"/><path d="M102.40 1338.43A225.00 225.00 0 0 1 110.03 1332.12L130.28 1357.73A192.35 192.35 0 0 0 123.76 1363.12Z" fill="#d6d6d6"/><path d="M123.66 1363.01A192.50 192.50 0 0 1 130.19 1357.61L150.35 1383.11A160.00 160.00 0 0 0 144.93 1387.59Z" fill="#7fc6c1"/><path d="M109.66 1332.42A225.00 225.00 0 0 1 117.54 1326.43L136.70 1352.87A192.35 192.35 0 0 0 129.96 1357.98Z" fill="#afd568"/><path d="M129.87 1357.86A192.50 192.50 0 0 1 136.61 1352.75L155.69 1379.06A160.00 160.00 0 0 0 150.09 1383.31Z" fill="#7fc6c1"/><path d="M117.16 1326.71A225.00 225.00 0 0 1 133.25 1316.02L166.86 1371.65A160.00 160.00 0 0 0 155.42 1379.26Z" fill="#d6d6d6"/><path d="M132.84 1316.27A225.00 225.00 0 0 1 149.77 1306.96L178.61 1365.21A160.00 160.00 0 0 0 166.57 1371.83Z" fill="#afd568"/><path d="M149.35 1307.17A225.00 225.00 0 0 1 158.30 1302.96L184.68 1362.36A160.00 160.00 0 0 0 178.31 1365.36Z" fill="#fffba8"/><path d="M157.87 1303.15A225.00 225.00 0 0 1 166.99 1299.31L190.86 1359.77A160.00 160.00 0 0 0 184.37 1362.50Z" fill="#afd568"/><path d="M166.55 1299.49A225.00 225.00 0 0 1 175.83 1296.04L186.53 1326.88A192.35 192.35 0 0 0 178.60 1329.83Z" fill="#76a9d4"/><path d="M178.55 1329.69A192.50 192.50 0 0 1 186.48 1326.74L197.14 1357.44A160.00 160.00 0 0 0 190.54 1359.90Z" fill="#fffba8"/><path d="M175.38 1296.19A225.00 225.00 0 0 1 184.79 1293.14L203.52 1355.38A160.00 160.00 0 0 0 196.82 1357.55Z" fill="#fffba8"/><path d="M184.34 1293.27A225.00 225.00 0 0 1 193.87 1290.61L201.96 1322.24A192.35 192.35 0 0 0 193.81 1324.52Z" fill="#d6d6d6"/><path d="M193.77 1324.37A192.50 192.50 0 0 1 201.92 1322.10L209.97 1353.59A160.00 160.00 0 0 0 203.19 1355.48Z" fill="#7fc6c1"/><path d="M193.42 1290.73A225.00 225.00 0 0 1 203.05 1288.47L207.56 1309.81A203.18 203.18 0 0 0 198.86 1311.85Z" fill="#d6d6d6"/><path d="M198.83 1311.71A203.33 203.33 0 0 1 207.53 1309.67L212.05 1331.01A181.52 181.52 0 0 0 204.27 1332.83Z" fill="#76a9d4"/><path d="M204.24 1332.69A181.67 181.67 0 0 1 212.02 1330.86L216.50 1352.06A160.00 160.00 0 0 0 209.65 1353.67Z" fill="#fffba8"/><path d="M202.59 1288.57A225.00 225.00 0 0 1 212.31 1286.71L223.08 1350.81A160.00 160.00 0 0 0 216.17 1352.13Z" fill="#fb8570"/><path d="M211.84 1286.79A225.00 225.00 0 0 1 221.63 1285.34L229.71 1349.84A160.00 160.00 0 0 0 222.75 1350.87Z" fill="#d6d6d6"/><path d="M221.17 1285.40A225.00 225.00 0 0 1 240.41 1283.79L241.75 1316.41A192.35 192.35 0 0 0 225.29 1317.79Z" fill="#d6d6d6"/><path d="M225.27 1317.64A192.50 192.50 0 0 1 241.74 1316.26L243.07 1348.73A160.00 160.00 0 0 0 229.38 1349.88Z" fill="#7fc6c1"/><path d="M239.94 1283.81A225.00 225.00 0 0 1 249.84 1283.60L249.77 1348.60A160.00 160.00 0 0 0 242.73 1348.75Z" fill="#d6d6d6"/></g>
<g transform="translate(249.60 0) scale(0.9780 1) translate(-249.60 0)"><path d="M249.32 1373.60A135.00 135.00 0 0 1 255.54 1373.73L254.44 1398.71A110.00 110.00 0 0 0 249.37 1398.60Z" fill="#8fb0fa"/><path d="M254.97 1373.71A135.00 135.00 0 0 1 261.18 1374.10L259.03 1399.01A110.00 110.00 0 0 0 253.98 1398.69Z" fill="#8fb0fa"/><path d="M260.61 1374.05A135.00 135.00 0 0 1 266.80 1374.70L263.62 1399.50A110.00 110.00 0 0 0 258.57 1398.97Z" fill="#d2dbfc"/><path d="M266.24 1374.63A135.00 135.00 0 0 1 272.39 1375.54L268.17 1400.18A110.00 110.00 0 0 0 263.16 1399.44Z" fill="#d2dbfc"/><path d="M271.83 1375.44A135.00 135.00 0 0 1 277.94 1376.61L272.70 1401.05A110.00 110.00 0 0 0 267.72 1400.10Z" fill="#d2dbfc"/><path d="M277.39 1376.49A135.00 135.00 0 0 1 283.45 1377.91L277.18 1402.11A110.00 110.00 0 0 0 272.24 1400.96Z" fill="#d1dafc"/><path d="M282.90 1377.77A135.00 135.00 0 0 1 288.89 1379.44L281.61 1403.36A110.00 110.00 0 0 0 276.73 1402.00Z" fill="#d1dafc"/><path d="M288.35 1379.28A135.00 135.00 0 0 1 294.26 1381.20L285.99 1404.79A110.00 110.00 0 0 0 281.17 1403.23Z" fill="#d1dafc"/><path d="M293.73 1381.02A135.00 135.00 0 0 1 299.56 1383.18L290.31 1406.41A110.00 110.00 0 0 0 285.56 1404.64Z" fill="#d1dafc"/><path d="M299.03 1382.98A135.00 135.00 0 0 1 304.77 1385.39L294.55 1408.20A110.00 110.00 0 0 0 289.88 1406.24Z" fill="#d1dafc"/><path d="M304.25 1385.16A135.00 135.00 0 0 1 309.88 1387.80L298.72 1410.17A110.00 110.00 0 0 0 294.13 1408.02Z" fill="#d1dafc"/><path d="M309.37 1387.55A135.00 135.00 0 0 1 314.88 1390.44L302.79 1412.32A110.00 110.00 0 0 0 298.30 1409.97Z" fill="#d1dafc"/><path d="M314.39 1390.16A135.00 135.00 0 0 1 319.78 1393.27L306.78 1414.63A110.00 110.00 0 0 0 302.39 1412.10Z" fill="#d1dafc"/><path d="M319.29 1392.98A135.00 135.00 0 0 1 324.54 1396.31L310.66 1417.11A110.00 110.00 0 0 0 306.39 1414.39Z" fill="#d0d9fc"/><path d="M324.07 1396.00A135.00 135.00 0 0 1 329.18 1399.55L314.44 1419.74A110.00 110.00 0 0 0 310.28 1416.85Z" fill="#d0d9fc"/><path d="M328.72 1399.22A135.00 135.00 0 0 1 333.68 1402.98L318.11 1422.54A110.00 110.00 0 0 0 314.07 1419.47Z" fill="#d0d9fc"/><path d="M333.23 1402.63A135.00 135.00 0 0 1 338.03 1406.59L321.65 1425.48A110.00 110.00 0 0 0 317.75 1422.25Z" fill="#d0d9fc"/><path d="M337.60 1406.22A135.00 135.00 0 0 1 342.22 1410.38L325.07 1428.57A110.00 110.00 0 0 0 321.30 1425.18Z" fill="#d0d9fc"/><path d="M341.81 1410.00A135.00 135.00 0 0 1 346.25 1414.35L328.35 1431.80A110.00 110.00 0 0 0 324.73 1428.26Z" fill="#d0d9fc"/><path d="M345.86 1413.94A135.00 135.00 0 0 1 350.11 1418.48L331.50 1435.17A110.00 110.00 0 0 0 328.03 1431.47Z" fill="#d0d9fc"/><path d="M349.74 1418.06A135.00 135.00 0 0 1 353.80 1422.77L334.50 1438.66A110.00 110.00 0 0 0 331.19 1434.82Z" fill="#d0d9fc"/><path d="M353.44 1422.33A135.00 135.00 0 0 1 357.30 1427.20L337.36 1442.28A110.00 110.00 0 0 0 334.21 1438.31Z" fill="#cfd8fc"/><path d="M356.96 1426.75A135.00 135.00 0 0 1 360.62 1431.79L340.06 1446.01A110.00 110.00 0 0 0 337.08 1441.91Z" fill="#cfd8fc"/><path d="M360.29 1431.32A135.00 135.00 0 0 1 363.74 1436.50L342.60 1449.85A110.00 110.00 0 0 0 339.79 1445.63Z" fill="#cfd8fc"/><path d="M363.43 1436.02A135.00 135.00 0 0 1 366.65 1441.35L344.98 1453.80A110.00 110.00 0 0 0 342.35 1449.46Z" fill="#cfd8fc"/><path d="M366.37 1440.86A135.00 135.00 0 0 1 369.37 1446.31L347.19 1457.84A110.00 110.00 0 0 0 344.75 1453.40Z" fill="#cfd8fc"/><path d="M369.11 1445.80A135.00 135.00 0 0 1 371.87 1451.38L349.23 1461.97A110.00 110.00 0 0 0 346.98 1457.43Z" fill="#ced8fc"/><path d="M371.63 1450.86A135.00 135.00 0 0 1 374.16 1456.55L351.09 1466.19A110.00 110.00 0 0 0 349.03 1461.56Z" fill="#ced7fc"/><path d="M373.94 1456.02A135.00 135.00 0 0 1 376.23 1461.81L352.78 1470.47A110.00 110.00 0 0 0 350.92 1465.76Z" fill="#ced7fc"/><path d="M376.03 1461.28A135.00 135.00 0 0 1 378.08 1467.15L354.29 1474.83A110.00 110.00 0 0 0 352.62 1470.04Z" fill="#cdd7fc"/><path d="M377.90 1466.61A135.00 135.00 0 0 1 379.70 1472.57L355.61 1479.24A110.00 110.00 0 0 0 354.14 1474.39Z" fill="#cdd6fc"/><path d="M379.55 1472.02A135.00 135.00 0 0 1 381.10 1478.05L356.75 1483.71A110.00 110.00 0 0 0 355.49 1478.80Z" fill="#ccd6fc"/><path d="M380.97 1477.50A135.00 135.00 0 0 1 382.26 1483.58L357.69 1488.21A110.00 110.00 0 0 0 356.64 1483.26Z" fill="#ccd6fc"/><path d="M382.16 1483.03A135.00 135.00 0 0 1 383.19 1489.16L358.45 1492.76A110.00 110.00 0 0 0 357.61 1487.76Z" fill="#ccd6fc"/><path d="M383.11 1488.60A135.00 135.00 0 0 1 383.89 1494.77L359.02 1497.33A110.00 110.00 0 0 0 358.39 1492.30Z" fill="#cbd5fc"/><path d="M383.83 1494.21A135.00 135.00 0 0 1 384.35 1500.41L359.40 1501.92A110.00 110.00 0 0 0 358.97 1496.87Z" fill="#cbd5fc"/><path d="M384.32 1499.84A135.00 135.00 0 0 1 384.58 1506.06L359.58 1506.53A110.00 110.00 0 0 0 359.37 1501.46Z" fill="#cad5fc"/><path d="M384.56 1505.49A135.00 135.00 0 0 1 384.56 1511.71L359.57 1511.13A110.00 110.00 0 0 0 359.57 1506.07Z" fill="#cad4fc"/><path d="M384.58 1511.14A135.00 135.00 0 0 1 384.32 1517.36L359.37 1515.74A110.00 110.00 0 0 0 359.58 1510.67Z" fill="#cad4fb"/><path d="M384.35 1516.79A135.00 135.00 0 0 1 383.83 1522.99L358.97 1520.33A110.00 110.00 0 0 0 359.40 1515.28Z" fill="#c9d4fb"/><path d="M383.89 1522.43A135.00 135.00 0 0 1 383.11 1528.60L358.39 1524.90A110.00 110.00 0 0 0 359.02 1519.87Z" fill="#c9d4fb"/><path d="M383.19 1528.04A135.00 135.00 0 0 1 382.16 1534.17L357.61 1529.44A110.00 110.00 0 0 0 358.45 1524.44Z" fill="#c8d3fb"/><path d="M382.26 1533.62A135.00 135.00 0 0 1 380.97 1539.70L356.64 1533.94A110.00 110.00 0 0 0 357.69 1528.99Z" fill="#c8d3fb"/><path d="M381.10 1539.15A135.00 135.00 0 0 1 379.55 1545.18L355.49 1538.40A110.00 110.00 0 0 0 356.75 1533.49Z" fill="#c8d3fb"/><path d="M379.70 1544.63A135.00 135.00 0 0 1 377.90 1550.59L354.14 1542.81A110.00 110.00 0 0 0 355.61 1537.96Z" fill="#c7d3fb"/><path d="M378.08 1550.05A135.00 135.00 0 0 1 376.03 1555.92L352.62 1547.16A110.00 110.00 0 0 0 354.29 1542.37Z" fill="#c7d2fb"/><path d="M376.23 1555.39A135.00 135.00 0 0 1 373.94 1561.18L350.92 1551.44A110.00 110.00 0 0 0 352.78 1546.73Z" fill="#c6d2fb"/><path d="M374.16 1560.65A135.00 135.00 0 0 1 371.63 1566.34L349.03 1555.64A110.00 110.00 0 0 0 351.09 1551.01Z" fill="#c6d2fb"/><path d="M371.87 1565.82A135.00 135.00 0 0 1 369.11 1571.40L346.98 1559.77A110.00 110.00 0 0 0 349.23 1555.23Z" fill="#c6d1fb"/><path d="M369.37 1570.89A135.00 135.00 0 0 1 366.37 1576.34L344.75 1563.80A110.00 110.00 0 0 0 347.19 1559.36Z" fill="#c5d1fb"/><path d="M366.65 1575.85A135.00 135.00 0 0 1 363.43 1581.18L342.35 1567.74A110.00 110.00 0 0 0 344.98 1563.40Z" fill="#c5d1fb"/><path d="M363.74 1580.70A135.00 135.00 0 0 1 360.29 1585.88L339.79 1571.57A110.00 110.00 0 0 0 342.60 1567.35Z" fill="#c4d0fb"/><path d="M360.62 1585.41A135.00 135.00 0 0 1 356.96 1590.45L337.08 1575.29A110.00 110.00 0 0 0 340.06 1571.19Z" fill="#c3d0fb"/><path d="M357.30 1590.00A135.00 135.00 0 0 1 353.44 1594.87L334.21 1578.89A110.00 110.00 0 0 0 337.36 1574.92Z" fill="#c2cffb"/><path d="M353.80 1594.43A135.00 135.00 0 0 1 349.74 1599.14L331.19 1582.38A110.00 110.00 0 0 0 334.50 1578.54Z" fill="#c2cffb"/><path d="M350.11 1598.72A135.00 135.00 0 0 1 345.86 1603.26L328.03 1585.73A110.00 110.00 0 0 0 331.50 1582.03Z" fill="#c1cefb"/><path d="M346.25 1602.85A135.00 135.00 0 0 1 341.81 1607.20L324.73 1588.94A110.00 110.00 0 0 0 328.35 1585.40Z" fill="#c0cdfb"/><path d="M342.22 1606.82A135.00 135.00 0 0 1 337.60 1610.98L321.30 1592.02A110.00 110.00 0 0 0 325.07 1588.63Z" fill="#c0cdfb"/><path d="M338.03 1610.61A135.00 135.00 0 0 1 333.23 1614.57L317.75 1594.95A110.00 110.00 0 0 0 321.65 1591.72Z" fill="#bfccfb"/><path d="M333.68 1614.22A135.00 135.00 0 0 1 328.72 1617.98L314.07 1597.73A110.00 110.00 0 0 0 318.11 1594.66Z" fill="#beccfb"/><path d="M329.18 1617.65A135.00 135.00 0 0 1 324.07 1621.20L310.28 1600.35A110.00 110.00 0 0 0 314.44 1597.46Z" fill="#bdcbfb"/><path d="M324.54 1620.89A135.00 135.00 0 0 1 319.29 1624.22L306.39 1602.81A110.00 110.00 0 0 0 310.66 1600.09Z" fill="#bdcbfb"/><path d="M319.78 1623.93A135.00 135.00 0 0 1 314.39 1627.04L302.39 1605.10A110.00 110.00 0 0 0 306.78 1602.57Z" fill="#bccafb"/><path d="M314.88 1626.76A135.00 135.00 0 0 1 309.37 1629.65L298.30 1607.23A110.00 110.00 0 0 0 302.79 1604.88Z" fill="#bbcafb"/><path d="M309.88 1629.40A135.00 135.00 0 0 1 304.25 1632.04L294.13 1609.18A110.00 110.00 0 0 0 298.72 1607.03Z" fill="#bbc9fb"/><path d="M304.77 1631.81A135.00 135.00 0 0 1 299.03 1634.22L289.88 1610.96A110.00 110.00 0 0 0 294.55 1609.00Z" fill="#bac9fb"/><path d="M299.56 1634.02A135.00 135.00 0 0 1 293.73 1636.18L285.56 1612.56A110.00 110.00 0 0 0 290.31 1610.79Z" fill="#b9c8fb"/><path d="M294.26 1636.00A135.00 135.00 0 0 1 288.35 1637.92L281.17 1613.97A110.00 110.00 0 0 0 285.99 1612.41Z" fill="#b8c8fb"/><path d="M288.89 1637.76A135.00 135.00 0 0 1 282.90 1639.43L276.73 1615.20A110.00 110.00 0 0 0 281.61 1613.84Z" fill="#b7c7fb"/><path d="M283.45 1639.29A135.00 135.00 0 0 1 277.39 1640.71L272.24 1616.24A110.00 110.00 0 0 0 277.18 1615.09Z" fill="#b7c6fb"/><path d="M277.94 1640.59A135.00 135.00 0 0 1 271.83 1641.76L267.72 1617.10A110.00 110.00 0 0 0 272.70 1616.15Z" fill="#b6c6fb"/><path d="M272.39 1641.66A135.00 135.00 0 0 1 266.24 1642.57L263.16 1617.76A110.00 110.00 0 0 0 268.17 1617.02Z" fill="#b5c5fb"/><path d="M266.80 1642.50A135.00 135.00 0 0 1 260.61 1643.15L258.57 1618.23A110.00 110.00 0 0 0 263.62 1617.70Z" fill="#b4c5fa"/><path d="M261.18 1643.10A135.00 135.00 0 0 1 254.97 1643.49L253.98 1618.51A110.00 110.00 0 0 0 259.03 1618.19Z" fill="#b3c4fa"/><path d="M255.54 1643.47A135.00 135.00 0 0 1 249.32 1643.60L249.37 1618.60A110.00 110.00 0 0 0 254.44 1618.49Z" fill="#b2c3fa"/><path d="M249.88 1643.60A135.00 135.00 0 0 1 243.66 1643.47L244.76 1618.49A110.00 110.00 0 0 0 249.83 1618.60Z" fill="#b1c3fa"/><path d="M244.23 1643.49A135.00 135.00 0 0 1 238.02 1643.10L240.17 1618.19A110.00 110.00 0 0 0 245.22 1618.51Z" fill="#b0c2fa"/><path d="M238.59 1643.15A135.00 135.00 0 0 1 232.40 1642.50L235.58 1617.70A110.00 110.00 0 0 0 240.63 1618.23Z" fill="#fb2a2a"/><path d="M232.96 1642.57A135.00 135.00 0 0 1 226.81 1641.66L231.03 1617.02A110.00 110.00 0 0 0 236.04 1617.76Z" fill="#fb6652"/><path d="M227.37 1641.76A135.00 135.00 0 0 1 221.26 1640.59L226.50 1616.15A110.00 110.00 0 0 0 231.48 1617.10Z" fill="#fb6854"/><path d="M221.81 1640.71A135.00 135.00 0 0 1 215.75 1639.29L222.02 1615.09A110.00 110.00 0 0 0 226.96 1616.24Z" fill="#fb6a56"/><path d="M216.30 1639.43A135.00 135.00 0 0 1 210.31 1637.76L217.59 1613.84A110.00 110.00 0 0 0 222.47 1615.20Z" fill="#fb6c58"/><path d="M210.85 1637.92A135.00 135.00 0 0 1 204.94 1636.00L213.21 1612.41A110.00 110.00 0 0 0 218.03 1613.97Z" fill="#fdcabb"/><path d="M205.47 1636.18A135.00 135.00 0 0 1 199.64 1634.02L208.89 1610.79A110.00 110.00 0 0 0 213.64 1612.56Z" fill="#fdcabb"/><path d="M200.17 1634.22A135.00 135.00 0 0 1 194.43 1631.81L204.65 1609.00A110.00 110.00 0 0 0 209.32 1610.96Z" fill="#fdcaba"/><path d="M194.95 1632.04A135.00 135.00 0 0 1 189.32 1629.40L200.48 1607.03A110.00 110.00 0 0 0 205.07 1609.18Z" fill="#fdc9ba"/><path d="M189.83 1629.65A135.00 135.00 0 0 1 184.32 1626.76L196.41 1604.88A110.00 110.00 0 0 0 200.90 1607.23Z" fill="#fdc9ba"/><path d="M184.81 1627.04A135.00 135.00 0 0 1 179.42 1623.93L192.42 1602.57A110.00 110.00 0 0 0 196.81 1605.10Z" fill="#fdc9ba"/><path d="M179.91 1624.22A135.00 135.00 0 0 1 174.66 1620.89L188.54 1600.09A110.00 110.00 0 0 0 192.81 1602.81Z" fill="#fdc9ba"/><path d="M175.13 1621.20A135.00 135.00 0 0 1 170.02 1617.65L184.76 1597.46A110.00 110.00 0 0 0 188.92 1600.35Z" fill="#fdc9ba"/><path d="M170.48 1617.98A135.00 135.00 0 0 1 165.52 1614.22L181.09 1594.66A110.00 110.00 0 0 0 185.13 1597.73Z" fill="#fdc9b9"/><path d="M165.97 1614.57A135.00 135.00 0 0 1 161.17 1610.61L177.55 1591.72A110.00 110.00 0 0 0 181.45 1594.95Z" fill="#fdc9b9"/><path d="M161.60 1610.98A135.00 135.00 0 0 1 156.98 1606.82L174.13 1588.63A110.00 110.00 0 0 0 177.90 1592.02Z" fill="#fdc9b9"/><path d="M157.39 1607.20A135.00 135.00 0 0 1 152.95 1602.85L170.85 1585.40A110.00 110.00 0 0 0 174.47 1588.94Z" fill="#fdc8b9"/><path d="M153.34 1603.26A135.00 135.00 0 0 1 149.09 1598.72L167.70 1582.03A110.00 110.00 0 0 0 171.17 1585.73Z" fill="#fdc8b9"/><path d="M149.46 1599.14A135.00 135.00 0 0 1 145.40 1594.43L164.70 1578.54A110.00 110.00 0 0 0 168.01 1582.38Z" fill="#fdc8b9"/><path d="M145.76 1594.87A135.00 135.00 0 0 1 141.90 1590.00L161.84 1574.92A110.00 110.00 0 0 0 164.99 1578.89Z" fill="#fdc8b8"/><path d="M142.24 1590.45A135.00 135.00 0 0 1 138.58 1585.41L159.14 1571.19A110.00 110.00 0 0 0 162.12 1575.29Z" fill="#fdc8b8"/><path d="M138.91 1585.88A135.00 135.00 0 0 1 135.46 1580.70L156.60 1567.35A110.00 110.00 0 0 0 159.41 1571.57Z" fill="#fdc8b8"/><path d="M135.77 1581.18A135.00 135.00 0 0 1 132.55 1575.85L154.22 1563.40A110.00 110.00 0 0 0 156.85 1567.74Z" fill="#fdc8b8"/><path d="M132.83 1576.34A135.00 135.00 0 0 1 129.83 1570.89L152.01 1559.36A110.00 110.00 0 0 0 154.45 1563.80Z" fill="#fdc7b8"/><path d="M130.09 1571.40A135.00 135.00 0 0 1 127.33 1565.82L149.97 1555.23A110.00 110.00 0 0 0 152.22 1559.77Z" fill="#fdc7b7"/><path d="M127.57 1566.34A135.00 135.00 0 0 1 125.04 1560.65L148.11 1551.01A110.00 110.00 0 0 0 150.17 1555.64Z" fill="#fdc7b7"/><path d="M125.26 1561.18A135.00 135.00 0 0 1 122.97 1555.39L146.42 1546.73A110.00 110.00 0 0 0 148.28 1551.44Z" fill="#fdc7b7"/><path d="M123.17 1555.92A135.00 135.00 0 0 1 121.12 1550.05L144.91 1542.37A110.00 110.00 0 0 0 146.58 1547.16Z" fill="#fdc7b7"/><path d="M121.30 1550.59A135.00 135.00 0 0 1 119.50 1544.63L143.59 1537.96A110.00 110.00 0 0 0 145.06 1542.81Z" fill="#fdc6b6"/><path d="M119.65 1545.18A135.00 135.00 0 0 1 118.10 1539.15L142.45 1533.49A110.00 110.00 0 0 0 143.71 1538.40Z" fill="#fdc6b6"/><path d="M118.23 1539.70A135.00 135.00 0 0 1 116.94 1533.62L141.51 1528.99A110.00 110.00 0 0 0 142.56 1533.94Z" fill="#fdc6b5"/><path d="M117.04 1534.17A135.00 135.00 0 0 1 116.01 1528.04L140.75 1524.44A110.00 110.00 0 0 0 141.59 1529.44Z" fill="#fdc5b5"/><path d="M116.09 1528.60A135.00 135.00 0 0 1 115.31 1522.43L140.18 1519.87A110.00 110.00 0 0 0 140.81 1524.90Z" fill="#fdc5b4"/><path d="M115.37 1522.99A135.00 135.00 0 0 1 114.85 1516.79L139.80 1515.28A110.00 110.00 0 0 0 140.23 1520.33Z" fill="#fdc5b4"/><path d="M114.88 1517.36A135.00 135.00 0 0 1 114.62 1511.14L139.62 1510.67A110.00 110.00 0 0 0 139.83 1515.74Z" fill="#fdc4b3"/><path d="M114.64 1511.71A135.00 135.00 0 0 1 114.64 1505.49L139.63 1506.07A110.00 110.00 0 0 0 139.63 1511.13Z" fill="#fdc4b3"/><path d="M114.62 1506.06A135.00 135.00 0 0 1 114.88 1499.84L139.83 1501.46A110.00 110.00 0 0 0 139.62 1506.53Z" fill="#fdc3b3"/><path d="M114.85 1500.41A135.00 135.00 0 0 1 115.37 1494.21L140.23 1496.87A110.00 110.00 0 0 0 139.80 1501.92Z" fill="#fdc3b2"/><path d="M115.31 1494.77A135.00 135.00 0 0 1 116.09 1488.60L140.81 1492.30A110.00 110.00 0 0 0 140.18 1497.33Z" fill="#fdc3b2"/><path d="M116.01 1489.16A135.00 135.00 0 0 1 117.04 1483.03L141.59 1487.76A110.00 110.00 0 0 0 140.75 1492.76Z" fill="#fdc2b1"/><path d="M116.94 1483.58A135.00 135.00 0 0 1 118.23 1477.50L142.56 1483.26A110.00 110.00 0 0 0 141.51 1488.21Z" fill="#fdc2b1"/><path d="M118.10 1478.05A135.00 135.00 0 0 1 119.65 1472.02L143.71 1478.80A110.00 110.00 0 0 0 142.45 1483.71Z" fill="#fdc1b0"/><path d="M119.50 1472.57A135.00 135.00 0 0 1 121.30 1466.61L145.06 1474.39A110.00 110.00 0 0 0 143.59 1479.24Z" fill="#fdc1b0"/><path d="M121.12 1467.15A135.00 135.00 0 0 1 123.17 1461.28L146.58 1470.04A110.00 110.00 0 0 0 144.91 1474.83Z" fill="#fdc1af"/><path d="M122.97 1461.81A135.00 135.00 0 0 1 125.26 1456.02L148.28 1465.76A110.00 110.00 0 0 0 146.42 1470.47Z" fill="#fdc0af"/><path d="M125.04 1456.55A135.00 135.00 0 0 1 127.57 1450.86L150.17 1461.56A110.00 110.00 0 0 0 148.11 1466.19Z" fill="#fdc0ae"/><path d="M127.33 1451.38A135.00 135.00 0 0 1 130.09 1445.80L152.22 1457.43A110.00 110.00 0 0 0 149.97 1461.97Z" fill="#fdc0ae"/><path d="M129.83 1446.31A135.00 135.00 0 0 1 132.83 1440.86L154.45 1453.40A110.00 110.00 0 0 0 152.01 1457.84Z" fill="#fdbfad"/><path d="M132.55 1441.35A135.00 135.00 0 0 1 135.77 1436.02L156.85 1449.46A110.00 110.00 0 0 0 154.22 1453.80Z" fill="#fdbfad"/><path d="M135.46 1436.50A135.00 135.00 0 0 1 138.91 1431.32L159.41 1445.63A110.00 110.00 0 0 0 156.60 1449.85Z" fill="#fdbfac"/><path d="M138.58 1431.79A135.00 135.00 0 0 1 142.24 1426.75L162.12 1441.91A110.00 110.00 0 0 0 159.14 1446.01Z" fill="#fdbeac"/><path d="M141.90 1427.20A135.00 135.00 0 0 1 145.76 1422.33L164.99 1438.31A110.00 110.00 0 0 0 161.84 1442.28Z" fill="#fdbeac"/><path d="M145.40 1422.77A135.00 135.00 0 0 1 149.46 1418.06L168.01 1434.82A110.00 110.00 0 0 0 164.70 1438.66Z" fill="#fdbeab"/><path d="M149.09 1418.48A135.00 135.00 0 0 1 153.34 1413.94L171.17 1431.47A110.00 110.00 0 0 0 167.70 1435.17Z" fill="#fdbdab"/><path d="M152.95 1414.35A135.00 135.00 0 0 1 157.39 1410.00L174.47 1428.26A110.00 110.00 0 0 0 170.85 1431.80Z" fill="#fdbdab"/><path d="M156.98 1410.38A135.00 135.00 0 0 1 161.60 1406.22L177.90 1425.18A110.00 110.00 0 0 0 174.13 1428.57Z" fill="#fdbdaa"/><path d="M161.17 1406.59A135.00 135.00 0 0 1 165.97 1402.63L181.45 1422.25A110.00 110.00 0 0 0 177.55 1425.48Z" fill="#fdbdaa"/><path d="M165.52 1402.98A135.00 135.00 0 0 1 170.48 1399.22L185.13 1419.47A110.00 110.00 0 0 0 181.09 1422.54Z" fill="#fdbcaa"/><path d="M170.02 1399.55A135.00 135.00 0 0 1 175.13 1396.00L188.92 1416.85A110.00 110.00 0 0 0 184.76 1419.74Z" fill="#fdbca9"/><path d="M174.66 1396.31A135.00 135.00 0 0 1 179.91 1392.98L192.81 1414.39A110.00 110.00 0 0 0 188.54 1417.11Z" fill="#fdbca9"/><path d="M179.42 1393.27A135.00 135.00 0 0 1 184.81 1390.16L196.81 1412.10A110.00 110.00 0 0 0 192.42 1414.63Z" fill="#fdbba8"/><path d="M184.32 1390.44A135.00 135.00 0 0 1 189.83 1387.55L200.90 1409.97A110.00 110.00 0 0 0 196.41 1412.32Z" fill="#fdbba8"/><path d="M189.32 1387.80A135.00 135.00 0 0 1 194.95 1385.16L205.07 1408.02A110.00 110.00 0 0 0 200.48 1410.17Z" fill="#fc937b"/><path d="M194.43 1385.39A135.00 135.00 0 0 1 200.17 1382.98L209.32 1406.24A110.00 110.00 0 0 0 204.65 1408.20Z" fill="#fc947d"/><path d="M199.64 1383.18A135.00 135.00 0 0 1 205.47 1381.02L213.64 1404.64A110.00 110.00 0 0 0 208.89 1406.41Z" fill="#fc967e"/><path d="M204.94 1381.20A135.00 135.00 0 0 1 210.85 1379.28L218.03 1403.23A110.00 110.00 0 0 0 213.21 1404.79Z" fill="#fc9780"/><path d="M210.31 1379.44A135.00 135.00 0 0 1 216.30 1377.77L222.47 1402.00A110.00 110.00 0 0 0 217.59 1403.36Z" fill="#fc9981"/><path d="M215.75 1377.91A135.00 135.00 0 0 1 221.81 1376.49L226.96 1400.96A110.00 110.00 0 0 0 222.02 1402.11Z" fill="#fc9a83"/><path d="M221.26 1376.61A135.00 135.00 0 0 1 227.37 1375.44L231.48 1400.10A110.00 110.00 0 0 0 226.50 1401.05Z" fill="#fc9c86"/><path d="M226.81 1375.54A135.00 135.00 0 0 1 232.96 1374.63L236.04 1399.44A110.00 110.00 0 0 0 231.03 1400.18Z" fill="#fc9f88"/><path d="M232.40 1374.70A135.00 135.00 0 0 1 238.59 1374.05L240.63 1398.97A110.00 110.00 0 0 0 235.58 1399.50Z" fill="#fda28b"/><path d="M238.02 1374.10A135.00 135.00 0 0 1 244.23 1373.71L245.22 1398.69A110.00 110.00 0 0 0 240.17 1399.01Z" fill="#fda48e"/><path d="M243.66 1373.73A135.00 135.00 0 0 1 249.88 1373.60L249.83 1398.60A110.00 110.00 0 0 0 244.76 1398.71Z" fill="#fda791"/></g>
<text class="s" x="15.5" y="28.6" font-size="50.00" fill="#111" stroke="#111" stroke-width="0.42">a</text>
<text class="s" x="819.5" y="43.8" font-size="50.00" fill="#111" stroke="#111" stroke-width="0.42">b</text>
<text class="s" x="3.5" y="602.0" font-size="50.00" fill="#111" stroke="#111" stroke-width="0.42">c</text>
<text class="s" x="824.0" y="607.9" font-size="50.00" fill="#111" stroke="#111" stroke-width="0.42">d</text>
<text class="s" x="57.5" y="1263.0" font-size="50.00" fill="#111" stroke="#111" stroke-width="0.42">e</text>
<text class="s" x="848.5" y="1243.7" font-size="52.00" fill="#111" stroke="#111" stroke-width="0.42">f</text>
<text class="s" x="119.8" y="31.5" font-size="19.30" fill="#1a1a1a" stroke="#1a1a1a" stroke-width="0.36">GO CellularComponent enrichment</text>
<text class="s" x="932.7" y="20.5" font-size="19.50" fill="#1a1a1a" stroke="#1a1a1a" stroke-width="0.36">GO MolecularFunction enrichment</text>
<text class="s" x="940.9" y="612.5" font-size="19.40" fill="#1a1a1a" stroke="#1a1a1a" stroke-width="0.36">GO CellularComponent enrichment</text>
<text class="s" x="110.6" y="1271.4" font-size="19.75" fill="#1a1a1a" stroke="#1a1a1a" stroke-width="0.36">GO MolecularFunction enrichment</text>
<text class="n" x="461.8" y="36.7" font-size="11.10" fill="#222" stroke="#222" stroke-width="0.24">logFC</text>
<defs><linearGradient id="cba" x1="0" y1="0" x2="0" y2="1"><stop offset="0.000" stop-color="#fb3535"/><stop offset="0.250" stop-color="#fc8f80"/><stop offset="0.500" stop-color="#ffffff"/><stop offset="0.750" stop-color="#a3bdfb"/><stop offset="1.000" stop-color="#3a8bf8"/></linearGradient></defs>
<rect x="455.40" y="43.10" width="14.50" height="73.50" fill="url(#cba)"/>
<text class="n" x="482.1" y="47.8" font-size="11.20" fill="#222" stroke="#222" stroke-width="0.24">0.9</text>
<text class="n" x="475.3" y="120.0" font-size="11.20" fill="#222" stroke="#222" stroke-width="0.24">−0.8</text>
<text class="s" x="508.4" y="100.8" font-size="13.70" fill="#111" font-weight="bold" stroke="#111" stroke-width="0.14">LDH/H</text>
<text class="n" x="518.4" y="118.9" font-size="12.00" fill="#222" stroke="#222" stroke-width="0.24">Terms</text>
<rect x="487.00" y="125.30" width="22.40" height="22.40" fill="#f4f4f4"/>
<rect x="490.10" y="128.40" width="16.20" height="16.20" fill="#7fc6c1" stroke="#3a3a3a" stroke-width="1"/>
<rect x="487.00" y="153.86" width="22.40" height="22.40" fill="#f4f4f4"/>
<rect x="490.10" y="156.96" width="16.20" height="16.20" fill="#fffba8" stroke="#3a3a3a" stroke-width="1"/>
<rect x="487.00" y="182.42" width="22.40" height="22.40" fill="#f4f4f4"/>
<rect x="490.10" y="185.52" width="16.20" height="16.20" fill="#bbb7dc" stroke="#3a3a3a" stroke-width="1"/>
<rect x="487.00" y="210.98" width="22.40" height="22.40" fill="#f4f4f4"/>
<rect x="490.10" y="214.08" width="16.20" height="16.20" fill="#fb8570" stroke="#3a3a3a" stroke-width="1"/>
<rect x="487.00" y="239.54" width="22.40" height="22.40" fill="#f4f4f4"/>
<rect x="490.10" y="242.64" width="16.20" height="16.20" fill="#76a9d4" stroke="#3a3a3a" stroke-width="1"/>
<rect x="487.00" y="268.10" width="22.40" height="22.40" fill="#f4f4f4"/>
<rect x="490.10" y="271.20" width="16.20" height="16.20" fill="#fdb660" stroke="#3a3a3a" stroke-width="1"/>
<rect x="487.00" y="296.66" width="22.40" height="22.40" fill="#f4f4f4"/>
<rect x="490.10" y="299.76" width="16.20" height="16.20" fill="#afd568" stroke="#3a3a3a" stroke-width="1"/>
<rect x="487.00" y="325.22" width="22.40" height="22.40" fill="#f4f4f4"/>
<rect x="490.10" y="328.32" width="16.20" height="16.20" fill="#fdc9e3" stroke="#3a3a3a" stroke-width="1"/>
<rect x="487.00" y="353.78" width="22.40" height="22.40" fill="#f4f4f4"/>
<rect x="490.10" y="356.88" width="16.20" height="16.20" fill="#d6d6d6" stroke="#3a3a3a" stroke-width="1"/>
<rect x="487.00" y="382.34" width="22.40" height="22.40" fill="#f4f4f4"/>
<rect x="490.10" y="385.44" width="16.20" height="16.20" fill="#bb7cbb" stroke="#3a3a3a" stroke-width="1"/>
<text class="s" x="515.9" y="140.3" font-size="12.15" fill="#222" stroke="#222" stroke-width="0.24">focal adhesion</text>
<text class="s" x="515.9" y="168.7" font-size="12.15" fill="#222" stroke="#222" stroke-width="0.24">actin cytoskeleton</text>
<text class="s" x="515.9" y="197.1" font-size="12.15" fill="#222" stroke="#222" stroke-width="0.24">cellcell junction</text>
<text class="s" x="515.9" y="225.6" font-size="12.15" fill="#222" stroke="#222" stroke-width="0.24">mitochondrial protontransporting ATP</text>
<text class="s" x="515.9" y="254.0" font-size="12.15" fill="#222" stroke="#222" stroke-width="0.24">Arp2/3 protein complex</text>
<text class="s" x="515.9" y="282.4" font-size="12.15" fill="#222" stroke="#222" stroke-width="0.24">glycoprotein Ib−IX−V complex</text>
<text class="s" x="515.9" y="310.8" font-size="12.15" fill="#222" stroke="#222" stroke-width="0.24">specific granule membrane</text>
<text class="s" x="515.9" y="339.2" font-size="12.15" fill="#222" stroke="#222" stroke-width="0.24">platelet alpha granule membrane</text>
<text class="s" x="515.9" y="367.7" font-size="12.15" fill="#222" stroke="#222" stroke-width="0.24">actin filament</text>
<text class="s" x="515.9" y="396.1" font-size="12.15" fill="#222" stroke="#222" stroke-width="0.24">integrin complex</text>
<text class="n" x="1269.2" y="29.3" font-size="11.10" fill="#222" stroke="#222" stroke-width="0.24">logFC</text>
<defs><linearGradient id="cbb" x1="0" y1="0" x2="0" y2="1"><stop offset="0.000" stop-color="#fb3535"/><stop offset="0.280" stop-color="#fc9384"/><stop offset="0.570" stop-color="#ffffff"/><stop offset="0.800" stop-color="#b9cbfc"/><stop offset="1.000" stop-color="#7aa7fa"/></linearGradient></defs>
<rect x="1263.30" y="36.20" width="15.10" height="74.80" fill="url(#cbb)"/>
<text class="n" x="1290.7" y="40.5" font-size="11.20" fill="#222" stroke="#222" stroke-width="0.24">1.2</text>
<text class="n" x="1283.9" y="114.3" font-size="11.20" fill="#222" stroke="#222" stroke-width="0.24">−0.9</text>
<text class="s" x="1324.5" y="94.2" font-size="13.80" fill="#111" font-weight="bold" stroke="#111" stroke-width="0.14">LDH/H</text>
<text class="n" x="1329.8" y="111.8" font-size="12.00" fill="#222" stroke="#222" stroke-width="0.24">Terms</text>
<rect x="1297.50" y="118.70" width="22.40" height="22.40" fill="#f4f4f4"/>
<rect x="1300.60" y="121.80" width="16.20" height="16.20" fill="#7fc6c1" stroke="#3a3a3a" stroke-width="1"/>
<rect x="1297.50" y="147.73" width="22.40" height="22.40" fill="#f4f4f4"/>
<rect x="1300.60" y="150.83" width="16.20" height="16.20" fill="#fffba8" stroke="#3a3a3a" stroke-width="1"/>
<rect x="1297.50" y="176.76" width="22.40" height="22.40" fill="#f4f4f4"/>
<rect x="1300.60" y="179.86" width="16.20" height="16.20" fill="#bbb7dc" stroke="#3a3a3a" stroke-width="1"/>
<rect x="1297.50" y="205.79" width="22.40" height="22.40" fill="#f4f4f4"/>
<rect x="1300.60" y="208.89" width="16.20" height="16.20" fill="#fb8570" stroke="#3a3a3a" stroke-width="1"/>
<rect x="1297.50" y="234.82" width="22.40" height="22.40" fill="#f4f4f4"/>
<rect x="1300.60" y="237.92" width="16.20" height="16.20" fill="#76a9d4" stroke="#3a3a3a" stroke-width="1"/>
<rect x="1297.50" y="263.85" width="22.40" height="22.40" fill="#f4f4f4"/>
<rect x="1300.60" y="266.95" width="16.20" height="16.20" fill="#fdb660" stroke="#3a3a3a" stroke-width="1"/>
<rect x="1297.50" y="292.88" width="22.40" height="22.40" fill="#f4f4f4"/>
<rect x="1300.60" y="295.98" width="16.20" height="16.20" fill="#afd568" stroke="#3a3a3a" stroke-width="1"/>
<rect x="1297.50" y="321.91" width="22.40" height="22.40" fill="#f4f4f4"/>
<rect x="1300.60" y="325.01" width="16.20" height="16.20" fill="#fdc9e3" stroke="#3a3a3a" stroke-width="1"/>
<rect x="1297.50" y="350.94" width="22.40" height="22.40" fill="#f4f4f4"/>
<rect x="1300.60" y="354.04" width="16.20" height="16.20" fill="#d6d6d6" stroke="#3a3a3a" stroke-width="1"/>
<rect x="1297.50" y="379.97" width="22.40" height="22.40" fill="#f4f4f4"/>
<rect x="1300.60" y="383.07" width="16.20" height="16.20" fill="#bb7cbb" stroke="#3a3a3a" stroke-width="1"/>
<text class="s" x="1326.3" y="134.3" font-size="12.30" fill="#222" stroke="#222" stroke-width="0.24">integrin binding</text>
<text class="s" x="1326.3" y="163.2" font-size="12.30" fill="#222" stroke="#222" stroke-width="0.24">structural constituent of chromatin</text>
<text class="s" x="1326.3" y="192.1" font-size="12.30" fill="#222" stroke="#222" stroke-width="0.24">myosin V binding</text>
<text class="s" x="1326.3" y="221.1" font-size="12.30" fill="#222" stroke="#222" stroke-width="0.24">phosphoserine residue binding</text>
<text class="s" x="1326.3" y="250.0" font-size="12.30" fill="#222" stroke="#222" stroke-width="0.24">actin binding</text>
<text class="s" x="1326.3" y="278.9" font-size="12.30" fill="#222" stroke="#222" stroke-width="0.24">cytoskeletal motor activity</text>
<text class="s" x="1326.3" y="307.8" font-size="12.30" fill="#222" stroke="#222" stroke-width="0.24">heparin binding</text>
<text class="s" x="1326.3" y="336.7" font-size="12.30" fill="#222" stroke="#222" stroke-width="0.24">MHC class I protein binding</text>
<text class="s" x="1326.3" y="365.7" font-size="12.30" fill="#222" stroke="#222" stroke-width="0.24">collagen binding</text>
<text class="s" x="1326.3" y="394.6" font-size="12.30" fill="#222" stroke="#222" stroke-width="0.24">CXCR chemokine receptor binding</text>
<text class="n" x="1286.9" y="618.8" font-size="11.10" fill="#222" stroke="#222" stroke-width="0.24">logFC</text>
<defs><linearGradient id="cbd" x1="0" y1="0" x2="0" y2="1"><stop offset="0.000" stop-color="#fb3535"/><stop offset="0.350" stop-color="#fc9384"/><stop offset="0.720" stop-color="#ffffff"/><stop offset="0.880" stop-color="#d3defd"/><stop offset="1.000" stop-color="#aec4fb"/></linearGradient></defs>
<rect x="1280.00" y="626.10" width="15.50" height="75.20" fill="url(#cbd)"/>
<text class="n" x="1307.5" y="630.1" font-size="11.20" fill="#222" stroke="#222" stroke-width="0.24">2.1</text>
<text class="n" x="1301.5" y="706.2" font-size="11.20" fill="#222" stroke="#222" stroke-width="0.24">−0.8</text>
<text class="s" x="1327.6" y="675.7" font-size="12.80" fill="#111" font-weight="bold" stroke="#111" stroke-width="0.14">Acu/LDH</text>
<text class="s" x="1334.4" y="696.3" font-size="14.50" fill="#222" stroke="#222" stroke-width="0.24">Terms</text>
<rect x="1303.50" y="709.80" width="22.40" height="22.40" fill="#f4f4f4"/>
<rect x="1306.60" y="712.90" width="16.20" height="16.20" fill="#7fc6c1" stroke="#3a3a3a" stroke-width="1"/>
<rect x="1303.50" y="739.37" width="22.40" height="22.40" fill="#f4f4f4"/>
<rect x="1306.60" y="742.47" width="16.20" height="16.20" fill="#fffba8" stroke="#3a3a3a" stroke-width="1"/>
<rect x="1303.50" y="768.94" width="22.40" height="22.40" fill="#f4f4f4"/>
<rect x="1306.60" y="772.04" width="16.20" height="16.20" fill="#bbb7dc" stroke="#3a3a3a" stroke-width="1"/>
<rect x="1303.50" y="798.51" width="22.40" height="22.40" fill="#f4f4f4"/>
<rect x="1306.60" y="801.61" width="16.20" height="16.20" fill="#fb8570" stroke="#3a3a3a" stroke-width="1"/>
<rect x="1303.50" y="828.08" width="22.40" height="22.40" fill="#f4f4f4"/>
<rect x="1306.60" y="831.18" width="16.20" height="16.20" fill="#76a9d4" stroke="#3a3a3a" stroke-width="1"/>
<rect x="1303.50" y="857.65" width="22.40" height="22.40" fill="#f4f4f4"/>
<rect x="1306.60" y="860.75" width="16.20" height="16.20" fill="#fdb660" stroke="#3a3a3a" stroke-width="1"/>
<rect x="1303.50" y="887.22" width="22.40" height="22.40" fill="#f4f4f4"/>
<rect x="1306.60" y="890.32" width="16.20" height="16.20" fill="#afd568" stroke="#3a3a3a" stroke-width="1"/>
<rect x="1303.50" y="916.79" width="22.40" height="22.40" fill="#f4f4f4"/>
<rect x="1306.60" y="919.89" width="16.20" height="16.20" fill="#fdc9e3" stroke="#3a3a3a" stroke-width="1"/>
<rect x="1303.50" y="946.36" width="22.40" height="22.40" fill="#f4f4f4"/>
<rect x="1306.60" y="949.46" width="16.20" height="16.20" fill="#d6d6d6" stroke="#3a3a3a" stroke-width="1"/>
<rect x="1303.50" y="975.93" width="22.40" height="22.40" fill="#f4f4f4"/>
<rect x="1306.60" y="979.03" width="16.20" height="16.20" fill="#bb7cbb" stroke="#3a3a3a" stroke-width="1"/>
<text class="s" x="1331.6" y="723.8" font-size="12.25" fill="#222" stroke="#222" stroke-width="0.24">extracellular space</text>
<text class="s" x="1331.6" y="754.0" font-size="12.25" fill="#222" stroke="#222" stroke-width="0.24">extracellular region</text>
<text class="s" x="1331.6" y="783.6" font-size="12.25" fill="#222" stroke="#222" stroke-width="0.24">brush border</text>
<text class="s" x="1331.6" y="812.9" font-size="12.25" fill="#222" stroke="#222" stroke-width="0.24">stress fiber</text>
<text class="s" x="1331.6" y="842.7" font-size="12.25" fill="#222" stroke="#222" stroke-width="0.24">focal adhesion</text>
<text class="s" x="1331.6" y="873.8" font-size="12.25" fill="#222" stroke="#222" stroke-width="0.24">collagen trimer</text>
<text class="s" x="1331.6" y="903.1" font-size="12.25" fill="#222" stroke="#222" stroke-width="0.24">Arp2/3 protein complex</text>
<text class="s" x="1331.6" y="932.3" font-size="12.25" fill="#222" stroke="#222" stroke-width="0.24">actin cytoskeleton</text>
<text class="s" x="1331.6" y="961.6" font-size="12.25" fill="#222" stroke="#222" stroke-width="0.24">collagen-containing extracellular matrix</text>
<text class="s" x="1331.6" y="991.8" font-size="12.25" fill="#222" stroke="#222" stroke-width="0.24">receptor complex</text>
<text class="n" x="453.5" y="1276.8" font-size="11.10" fill="#222" stroke="#222" stroke-width="0.24">logFC</text>
<defs><linearGradient id="cbe" x1="0" y1="0" x2="0" y2="1"><stop offset="0.000" stop-color="#fb3535"/><stop offset="0.320" stop-color="#fc9384"/><stop offset="0.680" stop-color="#ffffff"/><stop offset="0.860" stop-color="#cfdbfd"/><stop offset="1.000" stop-color="#a3bdfb"/></linearGradient></defs>
<rect x="446.80" y="1283.50" width="16.10" height="77.30" fill="url(#cbe)"/>
<text class="n" x="475.6" y="1288.3" font-size="11.20" fill="#222" stroke="#222" stroke-width="0.24">1.5</text>
<text class="n" x="469.1" y="1364.4" font-size="11.20" fill="#222" stroke="#222" stroke-width="0.24">−0.8</text>
<text class="s" x="498.4" y="1342.8" font-size="13.00" fill="#111" font-weight="bold" stroke="#111" stroke-width="0.14">Acu/LDH</text>
<text class="s" x="503.2" y="1363.9" font-size="15.00" fill="#222" stroke="#222" stroke-width="0.24">Terms</text>
<rect x="472.30" y="1368.50" width="22.80" height="22.80" fill="#f4f4f4"/>
<rect x="475.40" y="1371.60" width="16.60" height="16.60" fill="#7fc6c1" stroke="#3a3a3a" stroke-width="1"/>
<rect x="472.30" y="1398.50" width="22.80" height="22.80" fill="#f4f4f4"/>
<rect x="475.40" y="1401.60" width="16.60" height="16.60" fill="#fffba8" stroke="#3a3a3a" stroke-width="1"/>
<rect x="472.30" y="1428.50" width="22.80" height="22.80" fill="#f4f4f4"/>
<rect x="475.40" y="1431.60" width="16.60" height="16.60" fill="#bbb7dc" stroke="#3a3a3a" stroke-width="1"/>
<rect x="472.30" y="1458.50" width="22.80" height="22.80" fill="#f4f4f4"/>
<rect x="475.40" y="1461.60" width="16.60" height="16.60" fill="#fb8570" stroke="#3a3a3a" stroke-width="1"/>
<rect x="472.30" y="1488.50" width="22.80" height="22.80" fill="#f4f4f4"/>
<rect x="475.40" y="1491.60" width="16.60" height="16.60" fill="#76a9d4" stroke="#3a3a3a" stroke-width="1"/>
<rect x="472.30" y="1518.50" width="22.80" height="22.80" fill="#f4f4f4"/>
<rect x="475.40" y="1521.60" width="16.60" height="16.60" fill="#fdb660" stroke="#3a3a3a" stroke-width="1"/>
<rect x="472.30" y="1548.50" width="22.80" height="22.80" fill="#f4f4f4"/>
<rect x="475.40" y="1551.60" width="16.60" height="16.60" fill="#afd568" stroke="#3a3a3a" stroke-width="1"/>
<rect x="472.30" y="1578.50" width="22.80" height="22.80" fill="#f4f4f4"/>
<rect x="475.40" y="1581.60" width="16.60" height="16.60" fill="#fdc9e3" stroke="#3a3a3a" stroke-width="1"/>
<rect x="472.30" y="1608.50" width="22.80" height="22.80" fill="#f4f4f4"/>
<rect x="475.40" y="1611.60" width="16.60" height="16.60" fill="#d6d6d6" stroke="#3a3a3a" stroke-width="1"/>
<rect x="472.30" y="1638.50" width="22.80" height="22.80" fill="#f4f4f4"/>
<rect x="475.40" y="1641.60" width="16.60" height="16.60" fill="#bb7cbb" stroke="#3a3a3a" stroke-width="1"/>
<text class="s" x="500.3" y="1384.8" font-size="12.45" fill="#222" stroke="#222" stroke-width="0.24">integrin binding</text>
<text class="s" x="500.3" y="1414.3" font-size="12.45" fill="#222" stroke="#222" stroke-width="0.24">chemokine activity</text>
<text class="s" x="500.3" y="1444.3" font-size="12.45" fill="#222" stroke="#222" stroke-width="0.24">actin binding</text>
<text class="s" x="500.3" y="1468.3" font-size="12.45" fill="#222" stroke="#222" stroke-width="0.24">extracellular matrix constituent</text>
<text class="s" x="500.3" y="1482.0" font-size="12.45" fill="#222" stroke="#222" stroke-width="0.24">conferring elasticity</text>
<text class="s" x="500.3" y="1504.8" font-size="12.45" fill="#222" stroke="#222" stroke-width="0.24">CXCR chemokine receptor binding</text>
<text class="s" x="500.3" y="1535.5" font-size="12.45" fill="#222" stroke="#222" stroke-width="0.24">structural constituent of muscle</text>
<text class="s" x="500.3" y="1564.8" font-size="12.45" fill="#222" stroke="#222" stroke-width="0.24">amyloid-beta binding</text>
<text class="s" x="500.3" y="1596.0" font-size="12.45" fill="#222" stroke="#222" stroke-width="0.24">actin filament binding</text>
<text class="s" x="500.3" y="1624.3" font-size="12.45" fill="#222" stroke="#222" stroke-width="0.24">heparin binding</text>
<text class="s" x="500.3" y="1654.8" font-size="12.45" fill="#222" stroke="#222" stroke-width="0.24">myosin V binding</text>
<rect x="348.90" y="620.05" width="257.60" height="13.90" fill="#a5272b"/>
<rect x="348.90" y="642.67" width="147.80" height="13.90" fill="#a5272b"/>
<rect x="348.90" y="665.29" width="137.10" height="13.90" fill="#a5272b"/>
<rect x="348.90" y="687.91" width="137.10" height="13.90" fill="#a5272b"/>
<rect x="348.90" y="710.53" width="127.60" height="13.90" fill="#a5272b"/>
<rect x="348.90" y="733.15" width="126.10" height="13.90" fill="#a5272b"/>
<rect x="348.90" y="755.77" width="125.30" height="13.90" fill="#a5272b"/>
<rect x="348.90" y="778.39" width="117.60" height="13.90" fill="#a5272b"/>
<rect x="348.90" y="801.01" width="111.80" height="13.90" fill="#a5272b"/>
<rect x="348.90" y="823.63" width="111.80" height="13.90" fill="#a5272b"/>
<rect x="217.70" y="846.15" width="131.20" height="13.90" fill="#2b75b4"/>
<rect x="213.90" y="868.77" width="135.00" height="13.90" fill="#2b75b4"/>
<rect x="206.40" y="891.39" width="142.50" height="13.90" fill="#2b75b4"/>
<rect x="198.90" y="914.01" width="150.00" height="13.90" fill="#2b75b4"/>
<rect x="162.10" y="936.63" width="186.80" height="13.90" fill="#2b75b4"/>
<rect x="147.60" y="959.25" width="201.30" height="13.90" fill="#2b75b4"/>
<rect x="147.60" y="981.87" width="201.30" height="13.90" fill="#2b75b4"/>
<rect x="140.10" y="1004.49" width="208.80" height="13.90" fill="#2b75b4"/>
<rect x="99.30" y="1027.11" width="249.60" height="13.90" fill="#2b75b4"/>
<rect x="73.80" y="1049.73" width="275.10" height="13.90" fill="#2b75b4"/>
<line x1="348.90" y1="613.50" x2="348.90" y2="1070.80" stroke="#222" stroke-width="1.30"/>
<line x1="46.80" y1="1070.80" x2="633.00" y2="1070.80" stroke="#222" stroke-width="1.30"/>
<line x1="50.90" y1="1070.80" x2="50.90" y2="1075.00" stroke="#222" stroke-width="1.20"/>
<text class="s" x="50.9" y="1089.5" font-size="14.40" fill="#111" text-anchor="middle" font-weight="bold" stroke="#111" stroke-width="0.14">8</text>
<line x1="125.40" y1="1070.80" x2="125.40" y2="1075.00" stroke="#222" stroke-width="1.20"/>
<text class="s" x="125.4" y="1089.5" font-size="14.40" fill="#111" text-anchor="middle" font-weight="bold" stroke="#111" stroke-width="0.14">6</text>
<line x1="199.90" y1="1070.80" x2="199.90" y2="1075.00" stroke="#222" stroke-width="1.20"/>
<text class="s" x="199.9" y="1089.5" font-size="14.40" fill="#111" text-anchor="middle" font-weight="bold" stroke="#111" stroke-width="0.14">4</text>
<line x1="274.40" y1="1070.80" x2="274.40" y2="1075.00" stroke="#222" stroke-width="1.20"/>
<text class="s" x="274.4" y="1089.5" font-size="14.40" fill="#111" text-anchor="middle" font-weight="bold" stroke="#111" stroke-width="0.14">2</text>
<line x1="348.90" y1="1070.80" x2="348.90" y2="1075.00" stroke="#222" stroke-width="1.20"/>
<text class="s" x="348.9" y="1089.5" font-size="14.40" fill="#111" text-anchor="middle" font-weight="bold" stroke="#111" stroke-width="0.14">0</text>
<line x1="423.40" y1="1070.80" x2="423.40" y2="1075.00" stroke="#222" stroke-width="1.20"/>
<text class="s" x="423.4" y="1089.5" font-size="14.40" fill="#111" text-anchor="middle" font-weight="bold" stroke="#111" stroke-width="0.14">2</text>
<line x1="497.90" y1="1070.80" x2="497.90" y2="1075.00" stroke="#222" stroke-width="1.20"/>
<text class="s" x="497.9" y="1089.5" font-size="14.40" fill="#111" text-anchor="middle" font-weight="bold" stroke="#111" stroke-width="0.14">4</text>
<line x1="572.40" y1="1070.80" x2="572.40" y2="1075.00" stroke="#222" stroke-width="1.20"/>
<text class="s" x="572.4" y="1089.5" font-size="14.40" fill="#111" text-anchor="middle" font-weight="bold" stroke="#111" stroke-width="0.14">6</text>
<text class="s" x="339.3" y="632.5" font-size="17.00" fill="#1a1a1a" text-anchor="end" stroke="#1a1a1a" stroke-width="0.36">cell adhesion</text>
<text class="s" x="339.3" y="655.1" font-size="17.00" fill="#1a1a1a" text-anchor="end" stroke="#1a1a1a" stroke-width="0.36">chondrocyte differentiation</text>
<text class="s" x="339.3" y="677.7" font-size="17.00" fill="#1a1a1a" text-anchor="end" stroke="#1a1a1a" stroke-width="0.36">germ cell development</text>
<text class="s" x="339.3" y="700.5" font-size="17.00" fill="#1a1a1a" text-anchor="end" stroke="#1a1a1a" stroke-width="0.36">chemokine-mediated signaling pathway</text>
<text class="s" x="339.3" y="722.7" font-size="17.00" fill="#1a1a1a" text-anchor="end" stroke="#1a1a1a" stroke-width="0.36">induction of positive chemotaxis</text>
<text class="s" x="339.3" y="745.7" font-size="17.00" fill="#1a1a1a" text-anchor="end" stroke="#1a1a1a" stroke-width="0.36">chromatin organization</text>
<text class="s" x="339.3" y="768.0" font-size="17.00" fill="#1a1a1a" text-anchor="end" stroke="#1a1a1a" stroke-width="0.36">immunoglobulin mediated immune response</text>
<text class="s" x="339.3" y="790.2" font-size="17.00" fill="#1a1a1a" text-anchor="end" stroke="#1a1a1a" stroke-width="0.36">sprouting angiogenesis</text>
<text class="s" x="339.3" y="813.2" font-size="17.00" fill="#1a1a1a" text-anchor="end" stroke="#1a1a1a" stroke-width="0.36">spermatid nucleus elongation</text>
<text class="s" x="339.3" y="835.7" font-size="17.00" fill="#1a1a1a" text-anchor="end" stroke="#1a1a1a" stroke-width="0.36">negative regulation of DNA recombination</text>
<text class="s" x="355.5" y="856.5" font-size="17.00" fill="#1a1a1a" stroke="#1a1a1a" stroke-width="0.36">pyruvate metabolic process</text>
<text class="s" x="355.5" y="880.5" font-size="17.00" fill="#1a1a1a" stroke="#1a1a1a" stroke-width="0.36">blood coagulation, intrinsic pathway</text>
<text class="s" x="355.5" y="904.7" font-size="17.00" fill="#1a1a1a" stroke="#1a1a1a" stroke-width="0.36">megakaryocyte development</text>
<text class="s" x="355.5" y="927.0" font-size="17.00" fill="#1a1a1a" stroke="#1a1a1a" stroke-width="0.36">actin cytoskeleton organization</text>
<text class="s" x="355.5" y="949.2" font-size="17.00" fill="#1a1a1a" stroke="#1a1a1a" stroke-width="0.36">positive regulation of platelet activation</text>
<text class="s" x="355.5" y="972.0" font-size="17.00" fill="#1a1a1a" stroke="#1a1a1a" stroke-width="0.36">platelet aggregation</text>
<text class="s" x="355.5" y="994.9" font-size="17.00" fill="#1a1a1a" stroke="#1a1a1a" stroke-width="0.36">Arp2/3 complex-mediated actin nucleation</text>
<text class="s" x="355.5" y="1016.8" font-size="17.00" fill="#1a1a1a" stroke="#1a1a1a" stroke-width="0.36">integrin-mediated signaling pathway</text>
<text class="s" x="355.5" y="1039.7" font-size="17.00" fill="#1a1a1a" stroke="#1a1a1a" stroke-width="0.36">substantia nigra development</text>
<text class="s" x="355.5" y="1061.9" font-size="17.00" fill="#1a1a1a" stroke="#1a1a1a" stroke-width="0.36">proton motive force-driven ATP synthesis</text>
<text class="s" x="297.7" y="1109.0" font-size="17.00" fill="#1a1a1a" stroke="#1a1a1a" stroke-width="0.36">−log<tspan font-style="italic">P</tspan>−value</text>
<text class="s" x="268.0" y="608.5" font-size="19.50" fill="#1a1a1a" stroke="#1a1a1a" stroke-width="0.36">GO Biological processes</text>
<text class="s" x="663.0" y="803.7" font-size="16.80" fill="#1a1a1a" stroke="#1a1a1a" stroke-width="0.36">LDH/H</text>
<rect x="658.10" y="819.40" width="22.90" height="22.20" fill="#a5272b"/>
<rect x="658.10" y="842.80" width="22.90" height="22.80" fill="#2b75b4"/>
<text class="s" x="689.0" y="835.7" font-size="16.50" fill="#1a1a1a" stroke="#1a1a1a" stroke-width="0.36">Up</text>
<text class="s" x="689.0" y="860.5" font-size="16.50" fill="#1a1a1a" stroke="#1a1a1a" stroke-width="0.36">Down</text>
<rect x="1115.00" y="1252.15" width="265.50" height="14.10" fill="#a5272b"/>
<rect x="1115.00" y="1274.72" width="255.30" height="14.10" fill="#a5272b"/>
<rect x="1115.00" y="1297.29" width="236.10" height="14.10" fill="#a5272b"/>
<rect x="1115.00" y="1319.86" width="178.30" height="14.10" fill="#a5272b"/>
<rect x="1115.00" y="1342.43" width="148.80" height="14.10" fill="#a5272b"/>
<rect x="1115.00" y="1365.00" width="142.80" height="14.10" fill="#a5272b"/>
<rect x="1115.00" y="1387.57" width="131.80" height="14.10" fill="#a5272b"/>
<rect x="1115.00" y="1410.14" width="129.50" height="14.10" fill="#a5272b"/>
<rect x="1115.00" y="1432.71" width="125.30" height="14.10" fill="#a5272b"/>
<rect x="1115.00" y="1455.28" width="117.60" height="14.10" fill="#a5272b"/>
<rect x="998.50" y="1476.95" width="116.50" height="14.10" fill="#2b75b4"/>
<rect x="988.50" y="1499.52" width="126.50" height="14.10" fill="#2b75b4"/>
<rect x="984.50" y="1522.09" width="130.50" height="14.10" fill="#2b75b4"/>
<rect x="983.50" y="1544.66" width="131.50" height="14.10" fill="#2b75b4"/>
<rect x="975.00" y="1567.23" width="140.00" height="14.10" fill="#2b75b4"/>
<rect x="952.50" y="1589.80" width="162.50" height="14.10" fill="#2b75b4"/>
<rect x="915.50" y="1612.37" width="199.50" height="14.10" fill="#2b75b4"/>
<rect x="911.75" y="1634.94" width="203.25" height="14.10" fill="#2b75b4"/>
<rect x="887.50" y="1657.51" width="227.50" height="14.10" fill="#2b75b4"/>
<rect x="850.00" y="1680.08" width="265.00" height="14.10" fill="#2b75b4"/>
<line x1="1115.00" y1="1245.50" x2="1115.00" y2="1700.50" stroke="#222" stroke-width="1.30"/>
<line x1="823.50" y1="1700.50" x2="1406.60" y2="1700.50" stroke="#222" stroke-width="1.30"/>
<line x1="893.90" y1="1700.50" x2="893.90" y2="1704.70" stroke="#222" stroke-width="1.20"/>
<text class="s" x="893.9" y="1719.2" font-size="14.40" fill="#111" text-anchor="middle" font-weight="bold" stroke="#111" stroke-width="0.14">6</text>
<line x1="967.60" y1="1700.50" x2="967.60" y2="1704.70" stroke="#222" stroke-width="1.20"/>
<text class="s" x="967.6" y="1719.2" font-size="14.40" fill="#111" text-anchor="middle" font-weight="bold" stroke="#111" stroke-width="0.14">4</text>
<line x1="1041.30" y1="1700.50" x2="1041.30" y2="1704.70" stroke="#222" stroke-width="1.20"/>
<text class="s" x="1041.3" y="1719.2" font-size="14.40" fill="#111" text-anchor="middle" font-weight="bold" stroke="#111" stroke-width="0.14">2</text>
<line x1="1115.00" y1="1700.50" x2="1115.00" y2="1704.70" stroke="#222" stroke-width="1.20"/>
<text class="s" x="1115.0" y="1719.2" font-size="14.40" fill="#111" text-anchor="middle" font-weight="bold" stroke="#111" stroke-width="0.14">0</text>
<line x1="1188.70" y1="1700.50" x2="1188.70" y2="1704.70" stroke="#222" stroke-width="1.20"/>
<text class="s" x="1188.7" y="1719.2" font-size="14.40" fill="#111" text-anchor="middle" font-weight="bold" stroke="#111" stroke-width="0.14">2</text>
<line x1="1262.40" y1="1700.50" x2="1262.40" y2="1704.70" stroke="#222" stroke-width="1.20"/>
<text class="s" x="1262.4" y="1719.2" font-size="14.40" fill="#111" text-anchor="middle" font-weight="bold" stroke="#111" stroke-width="0.14">4</text>
<line x1="1336.10" y1="1700.50" x2="1336.10" y2="1704.70" stroke="#222" stroke-width="1.20"/>
<text class="s" x="1336.1" y="1719.2" font-size="14.40" fill="#111" text-anchor="middle" font-weight="bold" stroke="#111" stroke-width="0.14">6</text>
<text class="s" x="1106.8" y="1263.8" font-size="16.85" fill="#1a1a1a" text-anchor="end" stroke="#1a1a1a" stroke-width="0.36">platelet aggregation</text>
<text class="s" x="1106.8" y="1286.2" font-size="16.85" fill="#1a1a1a" text-anchor="end" stroke="#1a1a1a" stroke-width="0.36">Arp2/3 complex-mediated actin nucleation</text>
<text class="s" x="1106.8" y="1308.6" font-size="16.85" fill="#1a1a1a" text-anchor="end" stroke="#1a1a1a" stroke-width="0.36">integrin-mediated signaling pathway</text>
<text class="s" x="1106.8" y="1331.1" font-size="16.85" fill="#1a1a1a" text-anchor="end" stroke="#1a1a1a" stroke-width="0.36">substantia nigra development</text>
<text class="s" x="1106.8" y="1353.5" font-size="16.85" fill="#1a1a1a" text-anchor="end" stroke="#1a1a1a" stroke-width="0.36">negative regulation of platelet aggregation</text>
<text class="s" x="1106.8" y="1376.0" font-size="16.85" fill="#1a1a1a" text-anchor="end" stroke="#1a1a1a" stroke-width="0.36">positive regulation of platelet activation</text>
<text class="s" x="1106.8" y="1398.4" font-size="16.85" fill="#1a1a1a" text-anchor="end" stroke="#1a1a1a" stroke-width="0.36">mesodermal cell differentiation</text>
<text class="s" x="1106.8" y="1420.8" font-size="16.85" fill="#1a1a1a" text-anchor="end" stroke="#1a1a1a" stroke-width="0.36">actin filament organization</text>
<text class="s" x="1106.8" y="1443.3" font-size="16.85" fill="#1a1a1a" text-anchor="end" stroke="#1a1a1a" stroke-width="0.36">mitotic cell cycle</text>
<text class="s" x="1106.8" y="1465.7" font-size="16.85" fill="#1a1a1a" text-anchor="end" stroke="#1a1a1a" stroke-width="0.36">muscle contraction</text>
<text class="s" x="1122.6" y="1488.9" font-size="16.85" fill="#1a1a1a" stroke="#1a1a1a" stroke-width="0.36">extracellular matrix organization</text>
<text class="s" x="1122.6" y="1513.5" font-size="16.85" fill="#1a1a1a" stroke="#1a1a1a" stroke-width="0.36">positive regulation of ERK1 and ERK2 cascade</text>
<text class="s" x="1122.6" y="1537.6" font-size="16.85" fill="#1a1a1a" stroke="#1a1a1a" stroke-width="0.36">heterophilic cell-cell adhesion adhesion via plasma ------</text>
<text class="s" x="1122.6" y="1559.4" font-size="16.85" fill="#1a1a1a" stroke="#1a1a1a" stroke-width="0.36">cellular response to tumor necrosis factor</text>
<text class="s" x="1122.6" y="1582.1" font-size="16.85" fill="#1a1a1a" stroke="#1a1a1a" stroke-width="0.36">positive regulation of defense response to bacterium</text>
<text class="s" x="1122.6" y="1605.6" font-size="16.85" fill="#1a1a1a" stroke="#1a1a1a" stroke-width="0.36">inflammatory response</text>
<text class="s" x="1122.6" y="1626.9" font-size="16.85" fill="#1a1a1a" stroke="#1a1a1a" stroke-width="0.36">cell-cell signaling</text>
<text class="s" x="1122.6" y="1650.1" font-size="16.85" fill="#1a1a1a" stroke="#1a1a1a" stroke-width="0.36">neuropeptide signaling pathway</text>
<text class="s" x="1122.6" y="1674.5" font-size="16.85" fill="#1a1a1a" stroke="#1a1a1a" stroke-width="0.36">immune response</text>
<text class="s" x="1122.6" y="1694.3" font-size="16.85" fill="#1a1a1a" stroke="#1a1a1a" stroke-width="0.36">chemokine-mediated signaling pathway</text>
<text class="s" x="1071.0" y="1738.8" font-size="16.85" fill="#1a1a1a" stroke="#1a1a1a" stroke-width="0.36">−log<tspan font-style="italic">P</tspan>−value</text>
<text class="s" x="1029.8" y="1237.5" font-size="19.50" fill="#1a1a1a" stroke="#1a1a1a" stroke-width="0.36">GO Biological processes</text>
<text class="s" x="1433.5" y="1429.8" font-size="16.80" fill="#1a1a1a" stroke="#1a1a1a" stroke-width="0.36">Acu/LDH</text>
<rect x="1431.50" y="1449.40" width="22.10" height="21.60" fill="#a5272b"/>
<rect x="1431.50" y="1473.80" width="22.10" height="22.20" fill="#2b75b4"/>
<text class="s" x="1462.1" y="1466.0" font-size="16.50" fill="#1a1a1a" stroke="#1a1a1a" stroke-width="0.36">Up</text>
<text class="s" x="1462.1" y="1490.8" font-size="16.50" fill="#1a1a1a" stroke="#1a1a1a" stroke-width="0.36">Down</text>
<g transform="translate(1080.30 0) scale(0.9775 1) translate(-1080.30 0)"><path d="M1080.18 623.50A221.80 221.80 0 0 1 1083.47 623.52L1082.77 672.42A172.90 172.90 0 0 0 1080.21 672.40Z" fill="#76a9d4"/><path d="M1080.21 672.25A173.05 173.05 0 0 1 1082.77 672.27L1082.54 688.52A156.80 156.80 0 0 0 1080.22 688.50Z" fill="#7fc6c1"/><path d="M1083.24 623.52A221.80 221.80 0 0 1 1086.53 623.59L1085.15 672.47A172.90 172.90 0 0 0 1082.59 672.42Z" fill="#76a9d4"/><path d="M1082.59 672.27A173.05 173.05 0 0 1 1085.16 672.32L1084.70 688.56A156.80 156.80 0 0 0 1082.38 688.51Z" fill="#fffba8"/><path d="M1086.30 623.58A221.80 221.80 0 0 1 1089.58 623.69L1088.22 656.32A189.15 189.15 0 0 0 1085.41 656.22Z" fill="#76a9d4"/><path d="M1085.42 656.07A189.30 189.30 0 0 1 1088.22 656.17L1086.86 688.64A156.80 156.80 0 0 0 1084.54 688.56Z" fill="#7fc6c1"/><path d="M1089.35 623.68A221.80 221.80 0 0 1 1092.63 623.84L1090.37 664.56A181.03 181.03 0 0 0 1087.69 664.43Z" fill="#fffba8"/><path d="M1087.69 664.28A181.18 181.18 0 0 1 1090.38 664.41L1089.02 688.74A156.80 156.80 0 0 0 1086.70 688.63Z" fill="#7fc6c1"/><path d="M1092.40 623.83A221.80 221.80 0 0 1 1095.68 624.03L1093.98 648.50A197.28 197.28 0 0 0 1091.06 648.32Z" fill="#fffba8"/><path d="M1091.07 648.17A197.43 197.43 0 0 1 1093.99 648.35L1091.18 688.88A156.80 156.80 0 0 0 1088.86 688.73Z" fill="#7fc6c1"/><path d="M1095.45 624.02A221.80 221.80 0 0 1 1098.73 624.27L1093.33 689.04A156.80 156.80 0 0 0 1091.01 688.87Z" fill="#fffba8"/><path d="M1098.50 624.25A221.80 221.80 0 0 1 1101.78 624.54L1098.61 657.04A189.15 189.15 0 0 0 1095.82 656.79Z" fill="#fffba8"/><path d="M1095.83 656.64A189.30 189.30 0 0 1 1098.63 656.89L1095.48 689.24A156.80 156.80 0 0 0 1093.17 689.03Z" fill="#7fc6c1"/><path d="M1101.54 624.52A221.80 221.80 0 0 1 1104.82 624.86L1099.41 673.46A172.90 172.90 0 0 0 1096.86 673.19Z" fill="#76a9d4"/><path d="M1096.88 673.05A173.05 173.05 0 0 1 1099.43 673.31L1097.63 689.46A156.80 156.80 0 0 0 1095.32 689.22Z" fill="#7fc6c1"/><path d="M1104.58 624.83A221.80 221.80 0 0 1 1107.85 625.22L1103.79 657.61A189.15 189.15 0 0 0 1101.01 657.29Z" fill="#fdc9e3"/><path d="M1101.03 657.14A189.30 189.30 0 0 1 1103.81 657.47L1099.78 689.71A156.80 156.80 0 0 0 1097.47 689.44Z" fill="#7fc6c1"/><path d="M1107.62 625.19A221.80 221.80 0 0 1 1110.88 625.62L1106.38 657.96A189.15 189.15 0 0 0 1103.60 657.59Z" fill="#fdc9e3"/><path d="M1103.62 657.44A189.30 189.30 0 0 1 1106.40 657.81L1101.92 690.00A156.80 156.80 0 0 0 1099.61 689.69Z" fill="#fffba8"/><path d="M1110.65 625.59A221.80 221.80 0 0 1 1113.90 626.06L1104.06 690.31A156.80 156.80 0 0 0 1101.76 689.97Z" fill="#76a9d4"/><path d="M1113.67 626.03A221.80 221.80 0 0 1 1116.92 626.54L1106.19 690.65A156.80 156.80 0 0 0 1103.89 690.29Z" fill="#7fc6c1"/><path d="M1116.69 626.51A221.80 221.80 0 0 1 1119.93 627.07L1114.10 659.19A189.15 189.15 0 0 0 1111.34 658.71Z" fill="#fdc9e3"/><path d="M1111.36 658.57A189.30 189.30 0 0 1 1114.13 659.05L1108.32 691.02A156.80 156.80 0 0 0 1106.03 690.63Z" fill="#fffba8"/><path d="M1119.70 627.03A221.80 221.80 0 0 1 1122.94 627.64L1118.22 651.70A197.28 197.28 0 0 0 1115.35 651.16Z" fill="#7fc6c1"/><path d="M1115.37 651.02A197.43 197.43 0 0 1 1118.25 651.56L1116.66 659.68A189.15 189.15 0 0 0 1113.90 659.16Z" fill="#fdc9e3"/><path d="M1113.93 659.01A189.30 189.30 0 0 1 1116.69 659.53L1110.44 691.42A156.80 156.80 0 0 0 1108.16 690.99Z" fill="#fffba8"/><path d="M1122.71 627.59A221.80 221.80 0 0 1 1125.93 628.24L1119.21 660.20A189.15 189.15 0 0 0 1116.46 659.64Z" fill="#fdc9e3"/><path d="M1116.49 659.49A189.30 189.30 0 0 1 1119.24 660.05L1112.56 691.85A156.80 156.80 0 0 0 1110.28 691.39Z" fill="#fffba8"/><path d="M1125.70 628.20A221.80 221.80 0 0 1 1128.92 628.89L1119.98 668.68A181.03 181.03 0 0 0 1117.36 668.11Z" fill="#fdc9e3"/><path d="M1117.39 667.96A181.18 181.18 0 0 1 1120.01 668.53L1114.67 692.31A156.80 156.80 0 0 0 1112.40 691.82Z" fill="#fffba8"/><path d="M1128.69 628.84A221.80 221.80 0 0 1 1131.89 629.58L1129.97 637.63A213.53 213.53 0 0 0 1126.88 636.92Z" fill="#fdc9e3"/><path d="M1126.92 636.77A213.68 213.68 0 0 1 1130.00 637.49L1126.19 653.44A197.28 197.28 0 0 0 1123.34 652.78Z" fill="#fb8570"/><path d="M1123.37 652.63A197.43 197.43 0 0 1 1126.22 653.29L1122.41 669.24A181.03 181.03 0 0 0 1119.79 668.64Z" fill="#fdc9e3"/><path d="M1119.83 668.49A181.18 181.18 0 0 1 1122.44 669.09L1116.77 692.80A156.80 156.80 0 0 0 1114.51 692.28Z" fill="#fffba8"/><path d="M1131.67 629.53A221.80 221.80 0 0 1 1134.86 630.32L1124.83 669.84A181.03 181.03 0 0 0 1122.22 669.20Z" fill="#fdc9e3"/><path d="M1122.26 669.05A181.18 181.18 0 0 1 1124.87 669.69L1118.87 693.32A156.80 156.80 0 0 0 1116.61 692.76Z" fill="#fffba8"/><path d="M1134.64 630.26A221.80 221.80 0 0 1 1137.82 631.09L1135.67 639.08A213.53 213.53 0 0 0 1132.61 638.28Z" fill="#fdc9e3"/><path d="M1132.65 638.14A213.68 213.68 0 0 1 1135.71 638.93L1120.96 693.86A156.80 156.80 0 0 0 1118.71 693.28Z" fill="#76a9d4"/><path d="M1137.59 631.03A221.80 221.80 0 0 1 1140.76 631.90L1131.86 663.31A189.15 189.15 0 0 0 1129.16 662.57Z" fill="#fdc9e3"/><path d="M1129.20 662.42A189.30 189.30 0 0 1 1131.90 663.17L1123.04 694.44A156.80 156.80 0 0 0 1120.80 693.82Z" fill="#76a9d4"/><path d="M1140.54 631.84A221.80 221.80 0 0 1 1143.70 632.75L1125.12 695.04A156.80 156.80 0 0 0 1122.89 694.39Z" fill="#fdc9e3"/><path d="M1143.48 632.69A221.80 221.80 0 0 1 1149.53 634.58L1129.24 696.33A156.80 156.80 0 0 0 1124.96 695.00Z" fill="#76a9d4"/><path d="M1149.31 634.51A221.80 221.80 0 0 1 1152.43 635.56L1131.29 697.02A156.80 156.80 0 0 0 1129.09 696.28Z" fill="#fffba8"/><path d="M1152.21 635.48A221.80 221.80 0 0 1 1155.31 636.57L1144.27 667.30A189.15 189.15 0 0 0 1141.62 666.37Z" fill="#7fc6c1"/><path d="M1141.67 666.22A189.30 189.30 0 0 1 1144.32 667.15L1133.33 697.74A156.80 156.80 0 0 0 1131.14 696.97Z" fill="#76a9d4"/><path d="M1155.09 636.49A221.80 221.80 0 0 1 1158.18 637.62L1146.72 668.19A189.15 189.15 0 0 0 1144.08 667.23Z" fill="#fffba8"/><path d="M1144.13 667.09A189.30 189.30 0 0 1 1146.77 668.05L1135.36 698.48A156.80 156.80 0 0 0 1133.17 697.68Z" fill="#76a9d4"/><path d="M1157.96 637.54A221.80 221.80 0 0 1 1163.87 639.85L1139.38 700.06A156.80 156.80 0 0 0 1135.20 698.43Z" fill="#76a9d4"/><path d="M1163.66 639.76A221.80 221.80 0 0 1 1169.50 642.23L1143.36 701.74A156.80 156.80 0 0 0 1139.23 699.99Z" fill="#fffba8"/><path d="M1169.29 642.13A221.80 221.80 0 0 1 1172.29 643.48L1158.75 673.19A189.15 189.15 0 0 0 1156.19 672.04Z" fill="#fdc9e3"/><path d="M1156.25 671.90A189.30 189.30 0 0 1 1158.81 673.05L1145.33 702.62A156.80 156.80 0 0 0 1143.21 701.67Z" fill="#fffba8"/><path d="M1172.08 643.38A221.80 221.80 0 0 1 1175.06 644.76L1147.29 703.53A156.80 156.80 0 0 0 1145.18 702.55Z" fill="#76a9d4"/><path d="M1174.85 644.66A221.80 221.80 0 0 1 1177.82 646.09L1149.24 704.47A156.80 156.80 0 0 0 1147.14 703.46Z" fill="#fffba8"/><path d="M1177.61 645.99A221.80 221.80 0 0 1 1180.55 647.45L1165.80 676.57A189.15 189.15 0 0 0 1163.29 675.33Z" fill="#fffba8"/><path d="M1163.35 675.19A189.30 189.30 0 0 1 1165.86 676.44L1151.17 705.43A156.80 156.80 0 0 0 1149.09 704.40Z" fill="#76a9d4"/><path d="M1180.35 647.35A221.80 221.80 0 0 1 1183.27 648.85L1171.88 670.57A197.28 197.28 0 0 0 1169.28 669.23Z" fill="#7fc6c1"/><path d="M1169.35 669.10A197.43 197.43 0 0 1 1171.95 670.44L1168.11 677.77A189.15 189.15 0 0 0 1165.62 676.49Z" fill="#fdc9e3"/><path d="M1165.69 676.35A189.30 189.30 0 0 1 1168.18 677.64L1153.09 706.42A156.80 156.80 0 0 0 1151.03 705.36Z" fill="#7fc6c1"/><path d="M1183.06 648.74A221.80 221.80 0 0 1 1185.97 650.29L1155.00 707.44A156.80 156.80 0 0 0 1152.95 706.35Z" fill="#afd568"/><path d="M1185.76 650.18A221.80 221.80 0 0 1 1188.64 651.76L1156.89 708.48A156.80 156.80 0 0 0 1154.86 707.36Z" fill="#7fc6c1"/><path d="M1188.44 651.65A221.80 221.80 0 0 1 1191.30 653.27L1174.96 681.54A189.15 189.15 0 0 0 1172.52 680.16Z" fill="#76a9d4"/><path d="M1172.60 680.02A189.30 189.30 0 0 1 1175.04 681.41L1158.77 709.55A156.80 156.80 0 0 0 1156.75 708.40Z" fill="#fffba8"/><path d="M1191.10 653.16A221.80 221.80 0 0 1 1193.94 654.82L1177.21 682.86A189.15 189.15 0 0 0 1174.79 681.44Z" fill="#76a9d4"/><path d="M1174.86 681.31A189.30 189.30 0 0 1 1177.28 682.73L1160.63 710.64A156.80 156.80 0 0 0 1158.63 709.47Z" fill="#7fc6c1"/><path d="M1193.74 654.70A221.80 221.80 0 0 1 1196.55 656.41L1183.70 677.29A197.28 197.28 0 0 0 1181.19 675.78Z" fill="#fdc9e3"/><path d="M1181.27 675.65A197.43 197.43 0 0 1 1183.77 677.16L1162.48 711.76A156.80 156.80 0 0 0 1160.49 710.56Z" fill="#fffba8"/><path d="M1196.35 656.28A221.80 221.80 0 0 1 1199.14 658.02L1164.31 712.91A156.80 156.80 0 0 0 1162.34 711.68Z" fill="#bbb7dc"/><path d="M1198.95 657.90A221.80 221.80 0 0 1 1201.71 659.68L1197.18 666.61A213.53 213.53 0 0 0 1194.52 664.89Z" fill="#7fc6c1"/><path d="M1194.60 664.77A213.68 213.68 0 0 1 1197.26 666.48L1179.39 693.80A181.03 181.03 0 0 0 1177.13 692.35Z" fill="#bb7cbb"/><path d="M1177.21 692.22A181.18 181.18 0 0 1 1179.47 693.68L1166.13 714.08A156.80 156.80 0 0 0 1164.18 712.82Z" fill="#7fc6c1"/><path d="M1201.52 659.55A221.80 221.80 0 0 1 1204.26 661.37L1195.09 674.97A205.40 205.40 0 0 0 1192.55 673.29Z" fill="#bbb7dc"/><path d="M1192.64 673.16A205.55 205.55 0 0 1 1195.17 674.85L1190.55 681.71A197.28 197.28 0 0 0 1188.11 680.09Z" fill="#76a9d4"/><path d="M1188.19 679.97A197.43 197.43 0 0 1 1190.63 681.58L1167.93 715.27A156.80 156.80 0 0 0 1165.99 713.99Z" fill="#7fc6c1"/><path d="M1204.06 661.24A221.80 221.80 0 0 1 1206.78 663.10L1192.79 683.24A197.28 197.28 0 0 0 1190.38 681.59Z" fill="#76a9d4"/><path d="M1190.46 681.47A197.43 197.43 0 0 1 1192.88 683.12L1169.71 716.49A156.80 156.80 0 0 0 1167.79 715.18Z" fill="#7fc6c1"/><path d="M1206.59 662.96A221.80 221.80 0 0 1 1209.28 664.86L1199.74 678.20A205.40 205.40 0 0 0 1197.25 676.45Z" fill="#7fc6c1"/><path d="M1197.34 676.32A205.55 205.55 0 0 1 1199.83 678.08L1190.29 691.42A189.15 189.15 0 0 0 1188.00 689.80Z" fill="#fdc9e3"/><path d="M1188.08 689.68A189.30 189.30 0 0 1 1190.38 691.30L1180.84 704.64A172.90 172.90 0 0 0 1178.75 703.16Z" fill="#7fc6c1"/><path d="M1178.83 703.04A173.05 173.05 0 0 1 1180.93 704.52L1171.48 717.74A156.80 156.80 0 0 0 1169.58 716.40Z" fill="#fffba8"/><path d="M1209.09 664.72A221.80 221.80 0 0 1 1211.75 666.65L1197.22 686.40A197.28 197.28 0 0 0 1194.85 684.69Z" fill="#bb7cbb"/><path d="M1194.93 684.57A197.43 197.43 0 0 1 1197.31 686.28L1187.59 699.49A181.03 181.03 0 0 0 1185.41 697.92Z" fill="#76a9d4"/><path d="M1185.50 697.80A181.18 181.18 0 0 1 1187.67 699.37L1173.23 719.00A156.80 156.80 0 0 0 1171.35 717.64Z" fill="#fffba8"/><path d="M1211.56 666.51A221.80 221.80 0 0 1 1214.20 668.48L1199.39 688.03A197.28 197.28 0 0 0 1197.05 686.28Z" fill="#afd568"/><path d="M1197.14 686.16A197.43 197.43 0 0 1 1199.49 687.91L1189.58 700.98A181.03 181.03 0 0 0 1187.43 699.38Z" fill="#fffba8"/><path d="M1187.52 699.26A181.18 181.18 0 0 1 1189.68 700.87L1174.96 720.30A156.80 156.80 0 0 0 1173.10 718.91Z" fill="#76a9d4"/><path d="M1214.02 668.34A221.80 221.80 0 0 1 1216.62 670.34L1211.54 676.87A213.53 213.53 0 0 0 1209.03 674.94Z" fill="#fdc9e3"/><path d="M1209.12 674.82A213.68 213.68 0 0 1 1211.63 676.75L1196.56 696.09A189.15 189.15 0 0 0 1194.33 694.39Z" fill="#fb8570"/><path d="M1194.42 694.27A189.30 189.30 0 0 1 1196.65 695.98L1186.57 708.91A172.90 172.90 0 0 0 1184.54 707.35Z" fill="#fdc9e3"/><path d="M1184.63 707.23A173.05 173.05 0 0 1 1186.66 708.79L1176.67 721.61A156.80 156.80 0 0 0 1174.83 720.20Z" fill="#7fc6c1"/><path d="M1216.44 670.20A221.80 221.80 0 0 1 1219.02 672.23L1208.76 685.03A205.40 205.40 0 0 0 1206.37 683.14Z" fill="#fdc9e3"/><path d="M1206.47 683.03A205.55 205.55 0 0 1 1208.86 684.91L1193.52 704.05A181.03 181.03 0 0 0 1191.41 702.39Z" fill="#d6d6d6"/><path d="M1191.51 702.27A181.18 181.18 0 0 1 1193.61 703.93L1183.36 716.73A164.78 164.78 0 0 0 1181.44 715.22Z" fill="#bbb7dc"/><path d="M1181.53 715.10A164.93 164.93 0 0 1 1183.45 716.61L1178.37 722.95A156.80 156.80 0 0 0 1176.54 721.51Z" fill="#fffba8"/><path d="M1218.84 672.09A221.80 221.80 0 0 1 1221.39 674.16L1205.79 693.09A197.28 197.28 0 0 0 1203.52 691.24Z" fill="#fdc9e3"/><path d="M1203.62 691.12A197.43 197.43 0 0 1 1205.89 692.97L1180.04 724.32A156.80 156.80 0 0 0 1178.24 722.85Z" fill="#76a9d4"/><path d="M1221.21 674.02A221.80 221.80 0 0 1 1223.74 676.12L1213.13 688.63A205.40 205.40 0 0 0 1210.79 686.68Z" fill="#afd568"/><path d="M1210.89 686.56A205.55 205.55 0 0 1 1213.23 688.52L1197.37 707.22A181.03 181.03 0 0 0 1195.31 705.50Z" fill="#fdc9e3"/><path d="M1195.40 705.39A181.18 181.18 0 0 1 1197.47 707.11L1181.70 725.70A156.80 156.80 0 0 0 1179.92 724.21Z" fill="#76a9d4"/><path d="M1223.56 675.97A221.80 221.80 0 0 1 1226.06 678.12L1183.34 727.11A156.80 156.80 0 0 0 1181.58 725.60Z" fill="#76a9d4"/><path d="M1225.88 677.96A221.80 221.80 0 0 1 1228.34 680.14L1222.82 686.30A213.53 213.53 0 0 0 1220.45 684.21Z" fill="#76a9d4"/><path d="M1220.55 684.09A213.68 213.68 0 0 1 1222.92 686.19L1211.98 698.40A197.28 197.28 0 0 0 1209.78 696.47Z" fill="#afd568"/><path d="M1209.88 696.35A197.43 197.43 0 0 1 1212.08 698.29L1184.96 728.54A156.80 156.80 0 0 0 1183.22 727.00Z" fill="#76a9d4"/><path d="M1228.17 679.98A221.80 221.80 0 0 1 1230.61 682.20L1219.49 694.26A205.40 205.40 0 0 0 1217.24 692.21Z" fill="#76a9d4"/><path d="M1217.34 692.10A205.55 205.55 0 0 1 1219.59 694.14L1197.47 718.15A172.90 172.90 0 0 0 1195.57 716.43Z" fill="#bbb7dc"/><path d="M1195.67 716.32A173.05 173.05 0 0 1 1197.57 718.04L1186.56 729.99A156.80 156.80 0 0 0 1184.84 728.43Z" fill="#76a9d4"/><path d="M1230.44 682.04A221.80 221.80 0 0 1 1232.84 684.28L1188.14 731.47A156.80 156.80 0 0 0 1186.44 729.88Z" fill="#fffba8"/><path d="M1232.67 684.12A221.80 221.80 0 0 1 1235.04 686.40L1212.26 709.79A189.15 189.15 0 0 0 1210.24 707.85Z" fill="#76a9d4"/><path d="M1210.34 707.74A189.30 189.30 0 0 1 1212.37 709.68L1189.69 732.97A156.80 156.80 0 0 0 1188.02 731.36Z" fill="#7fc6c1"/><path d="M1234.88 686.24A221.80 221.80 0 0 1 1237.22 688.55L1225.62 700.14A205.40 205.40 0 0 0 1223.45 698.00Z" fill="#d6d6d6"/><path d="M1223.55 697.89A205.55 205.55 0 0 1 1225.72 700.03L1214.12 711.62A189.15 189.15 0 0 0 1212.12 709.65Z" fill="#fdc9e3"/><path d="M1212.23 709.54A189.30 189.30 0 0 1 1214.23 711.51L1191.23 734.48A156.80 156.80 0 0 0 1189.58 732.85Z" fill="#76a9d4"/><path d="M1237.05 688.38A221.80 221.80 0 0 1 1239.36 690.72L1221.78 707.81A197.28 197.28 0 0 0 1219.72 705.73Z" fill="#afd568"/><path d="M1219.83 705.63A197.43 197.43 0 0 1 1221.88 707.71L1192.75 736.02A156.80 156.80 0 0 0 1191.12 734.37Z" fill="#fffba8"/><path d="M1239.20 690.56A221.80 221.80 0 0 1 1241.48 692.93L1194.24 737.58A156.80 156.80 0 0 0 1192.63 735.91Z" fill="#76a9d4"/><path d="M1241.32 692.76A221.80 221.80 0 0 1 1243.56 695.16L1237.47 700.77A213.53 213.53 0 0 0 1235.31 698.45Z" fill="#76a9d4"/><path d="M1235.42 698.35A213.68 213.68 0 0 1 1237.58 700.66L1213.55 722.76A181.03 181.03 0 0 0 1211.72 720.80Z" fill="#bbb7dc"/><path d="M1211.83 720.70A181.18 181.18 0 0 1 1213.66 722.66L1195.72 739.16A156.80 156.80 0 0 0 1194.13 737.46Z" fill="#76a9d4"/><path d="M1243.40 694.99A221.80 221.80 0 0 1 1245.62 697.43L1221.28 719.20A189.15 189.15 0 0 0 1219.40 717.12Z" fill="#d6d6d6"/><path d="M1219.51 717.02A189.30 189.30 0 0 1 1221.39 719.10L1197.17 740.76A156.80 156.80 0 0 0 1195.61 739.04Z" fill="#7fc6c1"/><path d="M1245.46 697.26A221.80 221.80 0 0 1 1247.64 699.72L1216.87 726.48A181.03 181.03 0 0 0 1215.10 724.47Z" fill="#fffba8"/><path d="M1215.21 724.37A181.18 181.18 0 0 1 1216.99 726.38L1198.60 742.38A156.80 156.80 0 0 0 1197.06 740.64Z" fill="#7fc6c1"/><path d="M1247.48 699.54A221.80 221.80 0 0 1 1249.63 702.04L1224.70 723.13A189.15 189.15 0 0 0 1222.87 721.00Z" fill="#fffba8"/><path d="M1222.99 720.90A189.30 189.30 0 0 1 1224.82 723.03L1200.00 744.02A156.80 156.80 0 0 0 1198.49 742.26Z" fill="#7fc6c1"/><path d="M1249.48 701.86A221.80 221.80 0 0 1 1251.58 704.39L1238.92 714.81A205.40 205.40 0 0 0 1236.97 712.47Z" fill="#fffba8"/><path d="M1237.08 712.37A205.55 205.55 0 0 1 1239.04 714.71L1226.37 725.13A189.15 189.15 0 0 0 1224.57 722.98Z" fill="#d6d6d6"/><path d="M1224.69 722.88A189.30 189.30 0 0 1 1226.49 725.03L1201.39 745.68A156.80 156.80 0 0 0 1199.90 743.90Z" fill="#7fc6c1"/><path d="M1251.44 704.21A221.80 221.80 0 0 1 1253.51 706.76L1240.70 717.00A205.40 205.40 0 0 0 1238.78 714.64Z" fill="#76a9d4"/><path d="M1238.90 714.54A205.55 205.55 0 0 1 1240.82 716.91L1228.01 727.15A189.15 189.15 0 0 0 1226.25 724.98Z" fill="#d6d6d6"/><path d="M1226.36 724.88A189.30 189.30 0 0 1 1228.13 727.06L1202.75 747.36A156.80 156.80 0 0 0 1201.28 745.56Z" fill="#76a9d4"/><path d="M1253.37 706.58A221.80 221.80 0 0 1 1255.40 709.16L1248.87 714.24A213.53 213.53 0 0 0 1246.91 711.75Z" fill="#fdc9e3"/><path d="M1247.03 711.66A213.68 213.68 0 0 1 1248.99 714.15L1229.63 729.20A189.15 189.15 0 0 0 1227.89 727.00Z" fill="#bb7cbb"/><path d="M1228.01 726.90A189.30 189.30 0 0 1 1229.75 729.11L1204.09 749.06A156.80 156.80 0 0 0 1202.65 747.23Z" fill="#76a9d4"/><path d="M1255.26 708.98A221.80 221.80 0 0 1 1257.26 711.58L1237.69 726.37A197.28 197.28 0 0 0 1235.91 724.05Z" fill="#bb7cbb"/><path d="M1236.03 723.96A197.43 197.43 0 0 1 1237.81 726.28L1231.21 731.27A189.15 189.15 0 0 0 1229.51 729.04Z" fill="#fdc9e3"/><path d="M1229.62 728.95A189.30 189.30 0 0 1 1231.33 731.18L1205.40 750.77A156.80 156.80 0 0 0 1203.99 748.93Z" fill="#76a9d4"/><path d="M1257.12 711.40A221.80 221.80 0 0 1 1259.09 714.04L1239.32 728.55A197.28 197.28 0 0 0 1237.57 726.21Z" fill="#76a9d4"/><path d="M1237.69 726.11A197.43 197.43 0 0 1 1239.44 728.46L1206.69 752.50A156.80 156.80 0 0 0 1205.30 750.64Z" fill="#7fc6c1"/><path d="M1258.95 713.85A221.80 221.80 0 0 1 1260.88 716.51L1247.53 726.03A205.40 205.40 0 0 0 1245.74 723.57Z" fill="#76a9d4"/><path d="M1245.86 723.48A205.55 205.55 0 0 1 1247.65 725.95L1221.07 744.91A172.90 172.90 0 0 0 1219.56 742.83Z" fill="#d6d6d6"/><path d="M1219.68 742.74A173.05 173.05 0 0 1 1221.19 744.82L1207.96 754.25A156.80 156.80 0 0 0 1206.60 752.37Z" fill="#bb7cbb"/><path d="M1260.74 716.32A221.80 221.80 0 0 1 1262.64 719.01L1209.20 756.02A156.80 156.80 0 0 0 1207.86 754.12Z" fill="#76a9d4"/><path d="M1262.50 718.82A221.80 221.80 0 0 1 1264.36 721.54L1250.75 730.69A205.40 205.40 0 0 0 1249.03 728.17Z" fill="#fffba8"/><path d="M1249.16 728.09A205.55 205.55 0 0 1 1250.87 730.60L1223.78 748.82A172.90 172.90 0 0 0 1222.33 746.71Z" fill="#fdc9e3"/><path d="M1222.46 746.62A173.05 173.05 0 0 1 1223.90 748.74L1210.42 757.81A156.80 156.80 0 0 0 1209.11 755.89Z" fill="#fffba8"/><path d="M1264.23 721.34A221.80 221.80 0 0 1 1266.05 724.08L1231.90 746.37A181.03 181.03 0 0 0 1230.42 744.13Z" fill="#76a9d4"/><path d="M1230.54 744.05A181.18 181.18 0 0 1 1232.03 746.29L1211.61 759.61A156.80 156.80 0 0 0 1210.33 757.67Z" fill="#7fc6c1"/><path d="M1265.92 723.89A221.80 221.80 0 0 1 1267.70 726.65L1240.11 744.12A189.15 189.15 0 0 0 1238.60 741.76Z" fill="#76a9d4"/><path d="M1238.72 741.68A189.30 189.30 0 0 1 1240.24 744.04L1212.78 761.42A156.80 156.80 0 0 0 1211.52 759.47Z" fill="#fffba8"/><path d="M1267.58 726.46A221.80 221.80 0 0 1 1269.32 729.25L1213.92 763.26A156.80 156.80 0 0 0 1212.69 761.29Z" fill="#7fc6c1"/><path d="M1269.19 729.05A221.80 221.80 0 0 1 1270.90 731.86L1215.04 765.11A156.80 156.80 0 0 0 1213.84 763.12Z" fill="#fffba8"/><path d="M1270.78 731.66A221.80 221.80 0 0 1 1272.44 734.50L1216.13 766.97A156.80 156.80 0 0 0 1214.96 764.97Z" fill="#76a9d4"/><path d="M1272.33 734.30A221.80 221.80 0 0 1 1273.95 737.16L1238.35 757.04A181.03 181.03 0 0 0 1237.02 754.71Z" fill="#76a9d4"/><path d="M1237.15 754.63A181.18 181.18 0 0 1 1238.48 756.97L1217.20 768.85A156.80 156.80 0 0 0 1216.05 766.83Z" fill="#7fc6c1"/><path d="M1273.84 736.96A221.80 221.80 0 0 1 1275.42 739.84L1261.00 747.64A205.40 205.40 0 0 0 1259.53 744.97Z" fill="#afd568"/><path d="M1259.66 744.89A205.55 205.55 0 0 1 1261.13 747.56L1239.55 759.22A181.03 181.03 0 0 0 1238.26 756.87Z" fill="#76a9d4"/><path d="M1238.39 756.80A181.18 181.18 0 0 1 1239.68 759.15L1218.24 770.74A156.80 156.80 0 0 0 1217.12 768.71Z" fill="#7fc6c1"/><path d="M1275.31 739.63A221.80 221.80 0 0 1 1276.86 742.54L1240.72 761.43A181.03 181.03 0 0 0 1239.46 759.06Z" fill="#76a9d4"/><path d="M1239.59 758.99A181.18 181.18 0 0 1 1240.86 761.36L1219.25 772.65A156.80 156.80 0 0 0 1218.16 770.60Z" fill="#7fc6c1"/><path d="M1276.75 742.33A221.80 221.80 0 0 1 1278.25 745.25L1220.24 774.57A156.80 156.80 0 0 0 1219.18 772.51Z" fill="#bb7cbb"/><path d="M1278.15 745.05A221.80 221.80 0 0 1 1280.94 750.75L1251.40 764.66A189.15 189.15 0 0 0 1249.03 759.80Z" fill="#fdc9e3"/><path d="M1249.16 759.74A189.30 189.30 0 0 1 1251.54 764.60L1222.14 778.46A156.80 156.80 0 0 0 1220.17 774.43Z" fill="#fffba8"/><path d="M1280.84 750.54A221.80 221.80 0 0 1 1282.22 753.52L1223.05 780.42A156.80 156.80 0 0 0 1222.07 778.31Z" fill="#fffba8"/><path d="M1282.12 753.31A221.80 221.80 0 0 1 1283.47 756.31L1223.93 782.39A156.80 156.80 0 0 0 1222.98 780.27Z" fill="#7fc6c1"/><path d="M1283.37 756.10A221.80 221.80 0 0 1 1284.67 759.12L1269.56 765.49A205.40 205.40 0 0 0 1268.36 762.69Z" fill="#fdc9e3"/><path d="M1268.49 762.63A205.55 205.55 0 0 1 1269.70 765.43L1247.10 774.96A181.03 181.03 0 0 0 1246.04 772.50Z" fill="#76a9d4"/><path d="M1246.18 772.44A181.18 181.18 0 0 1 1247.24 774.90L1224.78 784.37A156.80 156.80 0 0 0 1223.86 782.24Z" fill="#7fc6c1"/><path d="M1284.58 758.90A221.80 221.80 0 0 1 1285.84 761.94L1248.05 777.27A181.03 181.03 0 0 0 1247.03 774.79Z" fill="#76a9d4"/><path d="M1247.17 774.73A181.18 181.18 0 0 1 1248.19 777.21L1225.61 786.37A156.80 156.80 0 0 0 1224.72 784.22Z" fill="#7fc6c1"/><path d="M1285.75 761.73A221.80 221.80 0 0 1 1288.06 767.64L1249.87 781.91A181.03 181.03 0 0 0 1247.98 777.09Z" fill="#7fc6c1"/><path d="M1248.12 777.03A181.18 181.18 0 0 1 1250.01 781.86L1227.17 790.40A156.80 156.80 0 0 0 1225.54 786.22Z" fill="#fffba8"/><path d="M1287.98 767.42A221.80 221.80 0 0 1 1289.11 770.51L1258.37 781.52A189.15 189.15 0 0 0 1257.41 778.88Z" fill="#fffba8"/><path d="M1257.55 778.83A189.30 189.30 0 0 1 1258.51 781.47L1227.92 792.43A156.80 156.80 0 0 0 1227.12 790.24Z" fill="#76a9d4"/><path d="M1289.03 770.29A221.80 221.80 0 0 1 1290.12 773.39L1228.63 794.46A156.80 156.80 0 0 0 1227.86 792.27Z" fill="#fffba8"/><path d="M1290.04 773.17A221.80 221.80 0 0 1 1291.09 776.29L1275.50 781.39A205.40 205.40 0 0 0 1274.54 778.51Z" fill="#fffba8"/><path d="M1274.68 778.46A205.55 205.55 0 0 1 1275.65 781.35L1229.32 796.51A156.80 156.80 0 0 0 1228.58 794.31Z" fill="#76a9d4"/><path d="M1291.02 776.07A221.80 221.80 0 0 1 1292.02 779.20L1229.98 798.57A156.80 156.80 0 0 0 1229.27 796.36Z" fill="#76a9d4"/><path d="M1291.95 778.98A221.80 221.80 0 0 1 1292.91 782.12L1253.83 793.74A181.03 181.03 0 0 0 1253.04 791.17Z" fill="#fdc9e3"/><path d="M1253.19 791.13A181.18 181.18 0 0 1 1253.97 793.70L1230.60 800.64A156.80 156.80 0 0 0 1229.93 798.41Z" fill="#76a9d4"/><path d="M1292.85 781.90A221.80 221.80 0 0 1 1293.76 785.06L1270.16 791.72A197.28 197.28 0 0 0 1269.34 788.91Z" fill="#afd568"/><path d="M1269.49 788.87A197.43 197.43 0 0 1 1270.30 791.68L1231.21 802.71A156.80 156.80 0 0 0 1230.56 800.48Z" fill="#76a9d4"/><path d="M1293.70 784.84A221.80 221.80 0 0 1 1294.57 788.01L1263.03 796.44A189.15 189.15 0 0 0 1262.29 793.74Z" fill="#fdc9e3"/><path d="M1262.43 793.70A189.30 189.30 0 0 1 1263.18 796.40L1231.78 804.80A156.80 156.80 0 0 0 1231.16 802.56Z" fill="#76a9d4"/><path d="M1294.51 787.78A221.80 221.80 0 0 1 1295.34 790.96L1255.81 800.95A181.03 181.03 0 0 0 1255.13 798.36Z" fill="#fdc9e3"/><path d="M1255.28 798.32A181.18 181.18 0 0 1 1255.95 800.92L1232.32 806.89A156.80 156.80 0 0 0 1231.74 804.64Z" fill="#76a9d4"/><path d="M1295.28 790.74A221.80 221.80 0 0 1 1296.07 793.93L1280.12 797.73A205.40 205.40 0 0 0 1279.39 794.77Z" fill="#fdc9e3"/><path d="M1279.53 794.74A205.55 205.55 0 0 1 1280.26 797.70L1256.40 803.38A181.03 181.03 0 0 0 1255.76 800.77Z" fill="#afd568"/><path d="M1255.91 800.73A181.18 181.18 0 0 1 1256.55 803.34L1232.84 808.99A156.80 156.80 0 0 0 1232.28 806.73Z" fill="#76a9d4"/><path d="M1296.02 793.71A221.80 221.80 0 0 1 1296.76 796.91L1264.89 804.03A189.15 189.15 0 0 0 1264.26 801.30Z" fill="#fffba8"/><path d="M1264.41 801.27A189.30 189.30 0 0 1 1265.04 804.00L1233.32 811.09A156.80 156.80 0 0 0 1232.80 808.83Z" fill="#7fc6c1"/><path d="M1296.71 796.68A221.80 221.80 0 0 1 1297.40 799.90L1281.35 803.25A205.40 205.40 0 0 0 1280.71 800.28Z" fill="#fffba8"/><path d="M1280.85 800.25A205.55 205.55 0 0 1 1281.50 803.22L1257.49 808.24A181.03 181.03 0 0 0 1256.92 805.62Z" fill="#fdc9e3"/><path d="M1257.07 805.59A181.18 181.18 0 0 1 1257.64 808.21L1233.78 813.20A156.80 156.80 0 0 0 1233.29 810.93Z" fill="#7fc6c1"/><path d="M1297.36 799.67A221.80 221.80 0 0 1 1298.01 802.89L1265.96 809.14A189.15 189.15 0 0 0 1265.40 806.39Z" fill="#fffba8"/><path d="M1265.55 806.36A189.30 189.30 0 0 1 1266.11 809.11L1234.21 815.32A156.80 156.80 0 0 0 1233.75 813.04Z" fill="#7fc6c1"/><path d="M1297.96 802.66A221.80 221.80 0 0 1 1298.57 805.90L1282.43 808.81A205.40 205.40 0 0 0 1281.87 805.82Z" fill="#76a9d4"/><path d="M1282.02 805.79A205.55 205.55 0 0 1 1282.58 808.78L1258.45 813.14A181.03 181.03 0 0 0 1257.95 810.50Z" fill="#afd568"/><path d="M1258.10 810.47A181.18 181.18 0 0 1 1258.59 813.11L1234.61 817.44A156.80 156.80 0 0 0 1234.18 815.16Z" fill="#76a9d4"/><path d="M1298.53 805.67A221.80 221.80 0 0 1 1299.09 808.91L1266.89 814.26A189.15 189.15 0 0 0 1266.41 811.50Z" fill="#fffba8"/><path d="M1266.55 811.47A189.30 189.30 0 0 1 1267.03 814.24L1234.97 819.57A156.80 156.80 0 0 0 1234.58 817.28Z" fill="#76a9d4"/><path d="M1299.06 808.68A221.80 221.80 0 0 1 1299.57 811.93L1275.33 815.62A197.28 197.28 0 0 0 1274.87 812.73Z" fill="#76a9d4"/><path d="M1275.02 812.70A197.43 197.43 0 0 1 1275.48 815.59L1235.31 821.71A156.80 156.80 0 0 0 1234.95 819.41Z" fill="#fffba8"/><path d="M1299.54 811.70A221.80 221.80 0 0 1 1300.01 814.95L1235.63 823.84A156.80 156.80 0 0 0 1235.29 821.54Z" fill="#fffba8"/><path d="M1299.98 814.72A221.80 221.80 0 0 1 1300.41 817.98L1235.91 825.99A156.80 156.80 0 0 0 1235.60 823.68Z" fill="#fdc9e3"/><path d="M1300.38 817.75A221.80 221.80 0 0 1 1301.08 824.06L1268.58 827.18A189.15 189.15 0 0 0 1267.99 821.81Z" fill="#fdc9e3"/><path d="M1268.13 821.79A189.30 189.30 0 0 1 1268.73 827.17L1236.38 830.28A156.80 156.80 0 0 0 1235.89 825.82Z" fill="#76a9d4"/><path d="M1301.06 823.82A221.80 221.80 0 0 1 1301.35 827.10L1236.57 832.43A156.80 156.80 0 0 0 1236.36 830.12Z" fill="#fffba8"/><path d="M1301.33 826.87A221.80 221.80 0 0 1 1301.58 830.15L1285.22 831.27A205.40 205.40 0 0 0 1284.99 828.23Z" fill="#fffba8"/><path d="M1285.14 828.22A205.55 205.55 0 0 1 1285.37 831.26L1236.73 834.59A156.80 156.80 0 0 0 1236.56 832.27Z" fill="#76a9d4"/><path d="M1301.57 829.92A221.80 221.80 0 0 1 1302.02 839.30L1237.04 841.06A156.80 156.80 0 0 0 1236.72 834.42Z" fill="#76a9d4"/><path d="M1302.01 839.07A221.80 221.80 0 0 1 1302.08 842.36L1237.09 843.22A156.80 156.80 0 0 0 1237.04 840.90Z" fill="#fdc9e3"/><path d="M1302.08 842.13A221.80 221.80 0 0 1 1302.10 845.42L1237.10 845.38A156.80 156.80 0 0 0 1237.08 843.06Z" fill="#d6d6d6"/><path d="M1302.10 845.18A221.80 221.80 0 0 1 1302.08 848.47L1277.55 848.12A197.28 197.28 0 0 0 1277.57 845.20Z" fill="#bbb7dc"/><path d="M1277.72 845.20A197.43 197.43 0 0 1 1277.70 848.12L1261.31 847.89A181.03 181.03 0 0 0 1261.32 845.21Z" fill="#fdc9e3"/><path d="M1261.47 845.21A181.18 181.18 0 0 1 1261.46 847.89L1237.08 847.54A156.80 156.80 0 0 0 1237.10 845.22Z" fill="#7fc6c1"/><path d="M1302.08 848.24A221.80 221.80 0 0 1 1302.01 851.53L1261.25 850.38A181.03 181.03 0 0 0 1261.31 847.70Z" fill="#fdc9e3"/><path d="M1261.46 847.70A181.18 181.18 0 0 1 1261.40 850.39L1237.04 849.70A156.80 156.80 0 0 0 1237.09 847.38Z" fill="#7fc6c1"/><path d="M1302.02 851.30A221.80 221.80 0 0 1 1301.91 854.58L1277.40 853.56A197.28 197.28 0 0 0 1277.50 850.63Z" fill="#fb8570"/><path d="M1277.65 850.64A197.43 197.43 0 0 1 1277.55 853.56L1269.28 853.22A189.15 189.15 0 0 0 1269.38 850.41Z" fill="#76a9d4"/><path d="M1269.53 850.42A189.30 189.30 0 0 1 1269.43 853.22L1236.96 851.86A156.80 156.80 0 0 0 1237.04 849.54Z" fill="#fffba8"/><path d="M1301.92 854.35A221.80 221.80 0 0 1 1301.76 857.63L1293.49 857.17A213.53 213.53 0 0 0 1293.65 854.01Z" fill="#7fc6c1"/><path d="M1293.80 854.02A213.68 213.68 0 0 1 1293.64 857.18L1277.27 856.27A197.28 197.28 0 0 0 1277.41 853.35Z" fill="#bbb7dc"/><path d="M1277.56 853.36A197.43 197.43 0 0 1 1277.42 856.28L1269.16 855.82A189.15 189.15 0 0 0 1269.29 853.02Z" fill="#7fc6c1"/><path d="M1269.44 853.02A189.30 189.30 0 0 1 1269.31 855.83L1236.86 854.02A156.80 156.80 0 0 0 1236.97 851.70Z" fill="#76a9d4"/><path d="M1301.77 857.40A221.80 221.80 0 0 1 1301.57 860.68L1236.72 856.18A156.80 156.80 0 0 0 1236.87 853.86Z" fill="#76a9d4"/><path d="M1301.58 860.45A221.80 221.80 0 0 1 1301.33 863.73L1236.56 858.33A156.80 156.80 0 0 0 1236.73 856.01Z" fill="#fdc9e3"/><path d="M1301.35 863.50A221.80 221.80 0 0 1 1301.06 866.78L1276.65 864.40A197.28 197.28 0 0 0 1276.91 861.49Z" fill="#d6d6d6"/><path d="M1277.06 861.50A197.43 197.43 0 0 1 1276.80 864.42L1236.36 860.48A156.80 156.80 0 0 0 1236.57 858.17Z" fill="#76a9d4"/><path d="M1301.08 866.54A221.80 221.80 0 0 1 1300.74 869.82L1236.14 862.63A156.80 156.80 0 0 0 1236.38 860.32Z" fill="#76a9d4"/><path d="M1300.77 869.58A221.80 221.80 0 0 1 1300.38 872.85L1292.17 871.82A213.53 213.53 0 0 0 1292.54 868.68Z" fill="#fdc9e3"/><path d="M1292.69 868.69A213.68 213.68 0 0 1 1292.32 871.84L1267.99 868.79A189.15 189.15 0 0 0 1268.31 866.01Z" fill="#fffba8"/><path d="M1268.46 866.03A189.30 189.30 0 0 1 1268.13 868.81L1259.92 867.79A181.03 181.03 0 0 0 1260.24 865.12Z" fill="#fdc9e3"/><path d="M1260.39 865.14A181.18 181.18 0 0 1 1260.07 867.80L1235.89 864.78A156.80 156.80 0 0 0 1236.16 862.47Z" fill="#fffba8"/><path d="M1300.41 872.62A221.80 221.80 0 0 1 1299.98 875.88L1235.60 866.92A156.80 156.80 0 0 0 1235.91 864.61Z" fill="#76a9d4"/><path d="M1300.01 875.65A221.80 221.80 0 0 1 1299.54 878.90L1267.27 873.96A189.15 189.15 0 0 0 1267.67 871.18Z" fill="#7fc6c1"/><path d="M1267.82 871.20A189.30 189.30 0 0 1 1267.41 873.98L1235.29 869.06A156.80 156.80 0 0 0 1235.63 866.76Z" fill="#76a9d4"/><path d="M1299.57 878.67A221.80 221.80 0 0 1 1299.06 881.92L1258.84 875.19A181.03 181.03 0 0 0 1259.26 872.54Z" fill="#fffba8"/><path d="M1259.41 872.56A181.18 181.18 0 0 1 1258.99 875.21L1234.95 871.19A156.80 156.80 0 0 0 1235.31 868.89Z" fill="#76a9d4"/><path d="M1299.09 881.69A221.80 221.80 0 0 1 1298.53 884.93L1234.58 873.32A156.80 156.80 0 0 0 1234.97 871.03Z" fill="#fffba8"/><path d="M1298.57 884.70A221.80 221.80 0 0 1 1297.96 887.94L1289.84 886.34A213.53 213.53 0 0 0 1290.43 883.23Z" fill="#fffba8"/><path d="M1290.58 883.26A213.68 213.68 0 0 1 1289.99 886.37L1257.95 880.10A181.03 181.03 0 0 0 1258.45 877.46Z" fill="#fb8570"/><path d="M1258.59 877.49A181.18 181.18 0 0 1 1258.10 880.13L1234.18 875.44A156.80 156.80 0 0 0 1234.61 873.16Z" fill="#7fc6c1"/><path d="M1298.01 887.71A221.80 221.80 0 0 1 1296.02 896.89L1264.26 889.30A189.15 189.15 0 0 0 1265.96 881.46Z" fill="#76a9d4"/><path d="M1266.11 881.49A189.30 189.30 0 0 1 1264.41 889.33L1232.80 881.77A156.80 156.80 0 0 0 1234.21 875.28Z" fill="#fb8570"/><path d="M1296.07 896.67A221.80 221.80 0 0 1 1295.28 899.86L1255.76 889.83A181.03 181.03 0 0 0 1256.40 887.22Z" fill="#76a9d4"/><path d="M1256.55 887.26A181.18 181.18 0 0 1 1255.91 889.87L1232.28 883.87A156.80 156.80 0 0 0 1232.84 881.61Z" fill="#7fc6c1"/><path d="M1295.34 899.64A221.80 221.80 0 0 1 1294.51 902.82L1278.67 898.57A205.40 205.40 0 0 0 1279.44 895.62Z" fill="#76a9d4"/><path d="M1279.59 895.66A205.55 205.55 0 0 1 1278.82 898.60L1262.98 894.35A189.15 189.15 0 0 0 1263.69 891.64Z" fill="#fb8570"/><path d="M1263.83 891.67A189.30 189.30 0 0 1 1263.12 894.39L1231.74 885.96A156.80 156.80 0 0 0 1232.32 883.71Z" fill="#fffba8"/><path d="M1294.57 902.59A221.80 221.80 0 0 1 1293.70 905.76L1270.10 899.08A197.28 197.28 0 0 0 1270.88 896.26Z" fill="#7fc6c1"/><path d="M1271.02 896.30A197.43 197.43 0 0 1 1270.25 899.12L1231.16 888.04A156.80 156.80 0 0 0 1231.78 885.80Z" fill="#76a9d4"/><path d="M1293.76 905.54A221.80 221.80 0 0 1 1292.85 908.70L1284.92 906.33A213.53 213.53 0 0 0 1285.80 903.29Z" fill="#fffba8"/><path d="M1285.94 903.33A213.68 213.68 0 0 1 1285.06 906.38L1230.56 890.12A156.80 156.80 0 0 0 1231.21 887.89Z" fill="#bbb7dc"/><path d="M1292.91 908.48A221.80 221.80 0 0 1 1291.95 911.62L1229.93 892.19A156.80 156.80 0 0 0 1230.60 889.96Z" fill="#76a9d4"/><path d="M1292.02 911.40A221.80 221.80 0 0 1 1290.04 917.43L1251.49 904.17A181.03 181.03 0 0 0 1253.10 899.25Z" fill="#fdc9e3"/><path d="M1253.24 899.29A181.18 181.18 0 0 1 1251.63 904.22L1228.58 896.29A156.80 156.80 0 0 0 1229.98 892.03Z" fill="#7fc6c1"/><path d="M1290.12 917.21A221.80 221.80 0 0 1 1289.03 920.31L1265.95 912.02A197.28 197.28 0 0 0 1266.92 909.26Z" fill="#fdc9e3"/><path d="M1267.06 909.31A197.43 197.43 0 0 1 1266.09 912.07L1227.86 898.33A156.80 156.80 0 0 0 1228.63 896.14Z" fill="#7fc6c1"/><path d="M1289.11 920.09A221.80 221.80 0 0 1 1287.98 923.18L1227.12 900.36A156.80 156.80 0 0 0 1227.92 898.17Z" fill="#fb8570"/><path d="M1288.06 922.96A221.80 221.80 0 0 1 1286.88 926.03L1241.34 908.23A172.90 172.90 0 0 0 1242.25 905.84Z" fill="#fdc9e3"/><path d="M1242.40 905.89A173.05 173.05 0 0 1 1241.48 908.29L1226.34 902.37A156.80 156.80 0 0 0 1227.17 900.20Z" fill="#7fc6c1"/><path d="M1286.97 925.82A221.80 221.80 0 0 1 1285.75 928.87L1240.46 910.45A172.90 172.90 0 0 0 1241.40 908.07Z" fill="#fdc9e3"/><path d="M1241.54 908.12A173.05 173.05 0 0 1 1240.60 910.50L1225.54 904.38A156.80 156.80 0 0 0 1226.40 902.22Z" fill="#bbb7dc"/><path d="M1285.84 928.66A221.80 221.80 0 0 1 1284.58 931.70L1254.51 918.98A189.15 189.15 0 0 0 1255.58 916.39Z" fill="#fdc9e3"/><path d="M1255.72 916.44A189.30 189.30 0 0 1 1254.65 919.04L1224.72 906.38A156.80 156.80 0 0 0 1225.61 904.23Z" fill="#fb8570"/><path d="M1284.67 931.48A221.80 221.80 0 0 1 1282.12 937.29L1245.02 920.38A181.03 181.03 0 0 0 1247.10 915.64Z" fill="#fdc9e3"/><path d="M1247.24 915.70A181.18 181.18 0 0 1 1245.16 920.44L1222.98 910.33A156.80 156.80 0 0 0 1224.78 906.23Z" fill="#7fc6c1"/><path d="M1282.22 937.08A221.80 221.80 0 0 1 1280.84 940.06L1236.62 919.17A172.90 172.90 0 0 0 1237.70 916.85Z" fill="#fffba8"/><path d="M1237.84 916.91A173.05 173.05 0 0 1 1236.76 919.24L1222.07 912.29A156.80 156.80 0 0 0 1223.05 910.18Z" fill="#fb8570"/><path d="M1280.94 939.85A221.80 221.80 0 0 1 1279.51 942.82L1250.19 928.46A189.15 189.15 0 0 0 1251.40 925.94Z" fill="#fdc9e3"/><path d="M1251.54 926.00A189.30 189.30 0 0 1 1250.32 928.53L1221.13 914.24A156.80 156.80 0 0 0 1222.14 912.14Z" fill="#76a9d4"/><path d="M1279.61 942.61A221.80 221.80 0 0 1 1278.15 945.55L1220.17 916.17A156.80 156.80 0 0 0 1221.20 914.09Z" fill="#fffba8"/><path d="M1278.25 945.35A221.80 221.80 0 0 1 1276.75 948.27L1247.83 933.11A189.15 189.15 0 0 0 1249.11 930.62Z" fill="#fffba8"/><path d="M1249.25 930.69A189.30 189.30 0 0 1 1247.96 933.18L1219.18 918.09A156.80 156.80 0 0 0 1220.24 916.03Z" fill="#76a9d4"/><path d="M1276.86 948.06A221.80 221.80 0 0 1 1275.31 950.97L1260.89 943.15A205.40 205.40 0 0 0 1262.32 940.47Z" fill="#fb8570"/><path d="M1262.46 940.54A205.55 205.55 0 0 1 1261.02 943.23L1246.61 935.41A189.15 189.15 0 0 0 1247.92 932.94Z" fill="#d6d6d6"/><path d="M1248.06 933.01A189.30 189.30 0 0 1 1246.74 935.48L1218.16 920.00A156.80 156.80 0 0 0 1219.25 917.95Z" fill="#76a9d4"/><path d="M1275.42 950.76A221.80 221.80 0 0 1 1273.84 953.64L1217.12 921.89A156.80 156.80 0 0 0 1218.24 919.86Z" fill="#76a9d4"/><path d="M1273.95 953.44A221.80 221.80 0 0 1 1272.33 956.30L1265.16 952.16A213.53 213.53 0 0 0 1266.73 949.41Z" fill="#fffba8"/><path d="M1266.86 949.48A213.68 213.68 0 0 1 1265.29 952.23L1251.09 944.03A197.28 197.28 0 0 0 1252.54 941.48Z" fill="#fb8570"/><path d="M1252.67 941.56A197.43 197.43 0 0 1 1251.22 944.10L1237.02 935.89A181.03 181.03 0 0 0 1238.35 933.56Z" fill="#76a9d4"/><path d="M1238.48 933.63A181.18 181.18 0 0 1 1237.15 935.97L1216.05 923.77A156.80 156.80 0 0 0 1217.20 921.75Z" fill="#7fc6c1"/><path d="M1272.44 956.10A221.80 221.80 0 0 1 1270.78 958.94L1242.74 942.21A189.15 189.15 0 0 0 1244.16 939.79Z" fill="#76a9d4"/><path d="M1244.29 939.86A189.30 189.30 0 0 1 1242.87 942.28L1214.96 925.63A156.80 156.80 0 0 0 1216.13 923.63Z" fill="#fffba8"/><path d="M1270.90 958.74A221.80 221.80 0 0 1 1269.19 961.55L1213.84 927.48A156.80 156.80 0 0 0 1215.04 925.49Z" fill="#fb8570"/><path d="M1269.32 961.35A221.80 221.80 0 0 1 1267.58 964.14L1212.69 929.31A156.80 156.80 0 0 0 1213.92 927.34Z" fill="#fdc9e3"/><path d="M1267.70 963.95A221.80 221.80 0 0 1 1265.92 966.71L1225.00 939.94A172.90 172.90 0 0 0 1226.38 937.79Z" fill="#fffba8"/><path d="M1226.51 937.87A173.05 173.05 0 0 1 1225.12 940.03L1211.52 931.13A156.80 156.80 0 0 0 1212.78 929.18Z" fill="#76a9d4"/><path d="M1266.05 966.52A221.80 221.80 0 0 1 1264.23 969.26L1210.33 932.93A156.80 156.80 0 0 0 1211.61 930.99Z" fill="#76a9d4"/><path d="M1264.36 969.06A221.80 221.80 0 0 1 1262.50 971.78L1249.03 962.43A205.40 205.40 0 0 0 1250.75 959.91Z" fill="#d6d6d6"/><path d="M1250.87 960.00A205.55 205.55 0 0 1 1249.16 962.51L1235.68 953.16A189.15 189.15 0 0 0 1237.26 950.85Z" fill="#fffba8"/><path d="M1237.39 950.93A189.30 189.30 0 0 1 1235.81 953.25L1209.11 934.71A156.80 156.80 0 0 0 1210.42 932.79Z" fill="#7fc6c1"/><path d="M1262.64 971.59A221.80 221.80 0 0 1 1260.74 974.28L1234.18 955.29A189.15 189.15 0 0 0 1235.80 953.00Z" fill="#fffba8"/><path d="M1235.92 953.08A189.30 189.30 0 0 1 1234.30 955.38L1207.86 936.48A156.80 156.80 0 0 0 1209.20 934.58Z" fill="#7fc6c1"/><path d="M1260.88 974.09A221.80 221.80 0 0 1 1258.95 976.75L1232.65 957.40A189.15 189.15 0 0 0 1234.30 955.13Z" fill="#d6d6d6"/><path d="M1234.42 955.22A189.30 189.30 0 0 1 1232.77 957.49L1206.60 938.23A156.80 156.80 0 0 0 1207.96 936.35Z" fill="#7fc6c1"/><path d="M1259.09 976.56A221.80 221.80 0 0 1 1257.12 979.20L1237.57 964.39A197.28 197.28 0 0 0 1239.32 962.05Z" fill="#d6d6d6"/><path d="M1239.44 962.14A197.43 197.43 0 0 1 1237.69 964.49L1205.30 939.96A156.80 156.80 0 0 0 1206.69 938.10Z" fill="#7fc6c1"/><path d="M1257.26 979.02A221.80 221.80 0 0 1 1255.26 981.62L1203.99 941.67A156.80 156.80 0 0 0 1205.40 939.83Z" fill="#7fc6c1"/><path d="M1255.40 981.44A221.80 221.80 0 0 1 1253.37 984.02L1221.55 958.52A181.03 181.03 0 0 0 1223.21 956.41Z" fill="#fffba8"/><path d="M1223.33 956.51A181.18 181.18 0 0 1 1221.67 958.61L1202.65 943.37A156.80 156.80 0 0 0 1204.09 941.54Z" fill="#7fc6c1"/><path d="M1253.51 983.84A221.80 221.80 0 0 1 1251.44 986.39L1226.25 965.62A189.15 189.15 0 0 0 1228.01 963.45Z" fill="#fffba8"/><path d="M1228.13 963.54A189.30 189.30 0 0 1 1226.36 965.72L1201.28 945.04A156.80 156.80 0 0 0 1202.75 943.24Z" fill="#7fc6c1"/><path d="M1251.58 986.21A221.80 221.80 0 0 1 1241.32 997.84L1211.72 969.80A181.03 181.03 0 0 0 1220.10 960.31Z" fill="#fffba8"/><path d="M1220.21 960.40A181.18 181.18 0 0 1 1211.83 969.90L1194.13 953.14A156.80 156.80 0 0 0 1201.39 944.92Z" fill="#7fc6c1"/><path d="M1241.48 997.67A221.80 221.80 0 0 1 1239.20 1000.04L1192.63 954.69A156.80 156.80 0 0 0 1194.24 953.02Z" fill="#fffba8"/><path d="M1239.36 999.88A221.80 221.80 0 0 1 1237.05 1002.22L1219.72 984.87A197.28 197.28 0 0 0 1221.78 982.79Z" fill="#76a9d4"/><path d="M1221.88 982.89A197.43 197.43 0 0 1 1219.83 984.97L1213.98 979.12A189.15 189.15 0 0 0 1215.95 977.12Z" fill="#fffba8"/><path d="M1216.06 977.23A189.30 189.30 0 0 1 1214.09 979.23L1191.12 956.23A156.80 156.80 0 0 0 1192.75 954.58Z" fill="#7fc6c1"/><path d="M1237.22 1002.05A221.80 221.80 0 0 1 1225.88 1012.64L1204.45 988.00A189.15 189.15 0 0 0 1214.12 978.98Z" fill="#fffba8"/><path d="M1214.23 979.09A189.30 189.30 0 0 1 1204.55 988.12L1183.22 963.60A156.80 156.80 0 0 0 1191.23 956.12Z" fill="#7fc6c1"/><path d="M1226.06 1012.48A221.80 221.80 0 0 1 1223.56 1014.63L1218.22 1008.31A213.53 213.53 0 0 0 1220.62 1006.25Z" fill="#fffba8"/><path d="M1220.72 1006.36A213.68 213.68 0 0 1 1218.31 1008.42L1207.72 995.90A197.28 197.28 0 0 0 1209.94 994.00Z" fill="#76a9d4"/><path d="M1210.04 994.11A197.43 197.43 0 0 1 1207.82 996.02L1197.22 983.50A181.03 181.03 0 0 0 1199.26 981.75Z" fill="#d6d6d6"/><path d="M1199.36 981.86A181.18 181.18 0 0 1 1197.32 983.61L1181.58 965.00A156.80 156.80 0 0 0 1183.34 963.49Z" fill="#7fc6c1"/><path d="M1223.74 1014.48A221.80 221.80 0 0 1 1221.21 1016.58L1179.92 966.39A156.80 156.80 0 0 0 1181.70 964.90Z" fill="#7fc6c1"/><path d="M1221.39 1016.44A221.80 221.80 0 0 1 1218.84 1018.51L1208.60 1005.70A205.40 205.40 0 0 0 1210.96 1003.78Z" fill="#d6d6d6"/><path d="M1211.06 1003.90A205.55 205.55 0 0 1 1208.69 1005.82L1178.24 967.75A156.80 156.80 0 0 0 1180.04 966.28Z" fill="#7fc6c1"/><path d="M1219.02 1018.37A221.80 221.80 0 0 1 1214.02 1022.26L1174.83 970.40A156.80 156.80 0 0 0 1178.37 967.65Z" fill="#7fc6c1"/><path d="M1214.20 1022.12A221.80 221.80 0 0 1 1211.56 1024.09L1182.62 984.67A172.90 172.90 0 0 0 1184.68 983.14Z" fill="#fffba8"/><path d="M1184.77 983.26A173.05 173.05 0 0 1 1182.71 984.79L1173.10 971.69A156.80 156.80 0 0 0 1174.96 970.30Z" fill="#7fc6c1"/><path d="M1211.75 1023.95A221.80 221.80 0 0 1 1209.09 1025.88L1185.41 992.68A181.03 181.03 0 0 0 1187.59 991.11Z" fill="#fffba8"/><path d="M1187.67 991.23A181.18 181.18 0 0 1 1185.50 992.80L1171.35 972.96A156.80 156.80 0 0 0 1173.23 971.60Z" fill="#7fc6c1"/><path d="M1209.28 1025.74A221.80 221.80 0 0 1 1206.59 1027.64L1183.37 994.12A181.03 181.03 0 0 0 1185.57 992.57Z" fill="#7fc6c1"/><path d="M1185.65 992.69A181.18 181.18 0 0 1 1183.46 994.24L1169.58 974.20A156.80 156.80 0 0 0 1171.48 972.86Z" fill="#fffba8"/><path d="M1206.78 1027.50A221.80 221.80 0 0 1 1204.06 1029.36L1167.79 975.42A156.80 156.80 0 0 0 1169.71 974.11Z" fill="#fffba8"/><path d="M1204.26 1029.23A221.80 221.80 0 0 1 1201.52 1031.05L1196.99 1024.12A213.53 213.53 0 0 0 1199.63 1022.37Z" fill="#fffba8"/><path d="M1199.72 1022.49A213.68 213.68 0 0 1 1197.08 1024.24L1179.23 996.90A181.03 181.03 0 0 0 1181.47 995.42Z" fill="#d6d6d6"/><path d="M1181.55 995.54A181.18 181.18 0 0 1 1179.31 997.03L1165.99 976.61A156.80 156.80 0 0 0 1167.93 975.33Z" fill="#7fc6c1"/><path d="M1201.71 1030.92A221.80 221.80 0 0 1 1198.95 1032.70L1190.17 1018.84A205.40 205.40 0 0 0 1192.73 1017.20Z" fill="#fffba8"/><path d="M1192.82 1017.32A205.55 205.55 0 0 1 1190.25 1018.97L1164.18 977.78A156.80 156.80 0 0 0 1166.13 976.52Z" fill="#7fc6c1"/><path d="M1199.14 1032.58A221.80 221.80 0 0 1 1196.35 1034.32L1179.27 1006.49A189.15 189.15 0 0 0 1181.65 1005.01Z" fill="#fffba8"/><path d="M1181.73 1005.13A189.30 189.30 0 0 1 1179.35 1006.62L1162.34 978.92A156.80 156.80 0 0 0 1164.31 977.69Z" fill="#7fc6c1"/><path d="M1196.55 1034.19A221.80 221.80 0 0 1 1193.74 1035.90L1172.88 1000.86A181.03 181.03 0 0 0 1175.18 999.47Z" fill="#7fc6c1"/><path d="M1175.26 999.60A181.18 181.18 0 0 1 1172.96 1000.99L1160.49 980.04A156.80 156.80 0 0 0 1162.48 978.84Z" fill="#fffba8"/><path d="M1193.94 1035.78A221.80 221.80 0 0 1 1191.10 1037.44L1170.73 1002.12A181.03 181.03 0 0 0 1173.05 1000.76Z" fill="#fffba8"/><path d="M1173.12 1000.89A181.18 181.18 0 0 1 1170.81 1002.25L1158.63 981.13A156.80 156.80 0 0 0 1160.63 979.96Z" fill="#7fc6c1"/><path d="M1191.30 1037.33A221.80 221.80 0 0 1 1188.44 1038.95L1156.75 982.20A156.80 156.80 0 0 0 1158.77 981.05Z" fill="#fffba8"/><path d="M1188.64 1038.84A221.80 221.80 0 0 1 1185.76 1040.42L1154.86 983.24A156.80 156.80 0 0 0 1156.89 982.12Z" fill="#d6d6d6"/><path d="M1185.97 1040.31A221.80 221.80 0 0 1 1183.06 1041.86L1167.94 1012.92A189.15 189.15 0 0 0 1170.41 1011.61Z" fill="#fffba8"/><path d="M1170.48 1011.74A189.30 189.30 0 0 1 1168.01 1013.06L1152.95 984.25A156.80 156.80 0 0 0 1155.00 983.16Z" fill="#7fc6c1"/><path d="M1183.27 1041.75A221.80 221.80 0 0 1 1180.35 1043.25L1169.28 1021.37A197.28 197.28 0 0 0 1171.88 1020.03Z" fill="#76a9d4"/><path d="M1171.95 1020.16A197.43 197.43 0 0 1 1169.35 1021.50L1151.03 985.24A156.80 156.80 0 0 0 1153.09 984.18Z" fill="#7fc6c1"/><path d="M1180.55 1043.15A221.80 221.80 0 0 1 1174.85 1045.94L1157.47 1009.05A181.03 181.03 0 0 0 1162.12 1006.78Z" fill="#fffba8"/><path d="M1162.19 1006.91A181.18 181.18 0 0 1 1157.54 1009.19L1147.14 987.14A156.80 156.80 0 0 0 1151.17 985.17Z" fill="#7fc6c1"/><path d="M1175.06 1045.84A221.80 221.80 0 0 1 1172.08 1047.22L1165.29 1032.29A205.40 205.40 0 0 0 1168.06 1031.01Z" fill="#7fc6c1"/><path d="M1168.12 1031.14A205.55 205.55 0 0 1 1165.36 1032.43L1158.57 1017.50A189.15 189.15 0 0 0 1161.11 1016.32Z" fill="#fffba8"/><path d="M1161.18 1016.45A189.30 189.30 0 0 1 1158.63 1017.63L1145.18 988.05A156.80 156.80 0 0 0 1147.29 987.07Z" fill="#7fc6c1"/><path d="M1172.29 1047.12A221.80 221.80 0 0 1 1166.48 1049.67L1141.23 989.78A156.80 156.80 0 0 0 1145.33 987.98Z" fill="#7fc6c1"/><path d="M1166.70 1049.58A221.80 221.80 0 0 1 1155.09 1054.11L1144.08 1023.37A189.15 189.15 0 0 0 1153.98 1019.51Z" fill="#fffba8"/><path d="M1154.04 1019.65A189.30 189.30 0 0 1 1144.13 1023.51L1133.17 992.92A156.80 156.80 0 0 0 1141.38 989.72Z" fill="#7fc6c1"/><path d="M1155.31 1054.03A221.80 221.80 0 0 1 1152.21 1055.12L1146.89 1039.61A205.40 205.40 0 0 0 1149.76 1038.60Z" fill="#7fc6c1"/><path d="M1149.82 1038.74A205.55 205.55 0 0 1 1146.94 1039.75L1141.62 1024.23A189.15 189.15 0 0 0 1144.27 1023.30Z" fill="#fdb660"/><path d="M1144.32 1023.45A189.30 189.30 0 0 1 1141.67 1024.38L1131.14 993.63A156.80 156.80 0 0 0 1133.33 992.86Z" fill="#7fc6c1"/><path d="M1152.43 1055.04A221.80 221.80 0 0 1 1146.40 1057.02L1127.03 994.98A156.80 156.80 0 0 0 1131.29 993.58Z" fill="#fffba8"/><path d="M1146.62 1056.95A221.80 221.80 0 0 1 1143.48 1057.91L1134.18 1026.61A189.15 189.15 0 0 0 1136.86 1025.80Z" fill="#bb7cbb"/><path d="M1136.90 1025.94A189.30 189.30 0 0 1 1134.22 1026.76L1124.96 995.60A156.80 156.80 0 0 0 1127.19 994.93Z" fill="#fffba8"/><path d="M1143.70 1057.85A221.80 221.80 0 0 1 1140.54 1058.76L1136.09 1042.98A205.40 205.40 0 0 0 1139.01 1042.13Z" fill="#76a9d4"/><path d="M1139.05 1042.27A205.55 205.55 0 0 1 1136.13 1043.12L1122.89 996.21A156.80 156.80 0 0 0 1125.12 995.56Z" fill="#fffba8"/><path d="M1140.76 1058.70A221.80 221.80 0 0 1 1137.59 1059.57L1120.80 996.78A156.80 156.80 0 0 0 1123.04 996.16Z" fill="#fffba8"/><path d="M1137.82 1059.51A221.80 221.80 0 0 1 1134.64 1060.34L1118.71 997.32A156.80 156.80 0 0 0 1120.96 996.74Z" fill="#d6d6d6"/><path d="M1134.86 1060.28A221.80 221.80 0 0 1 1131.67 1061.07L1116.61 997.84A156.80 156.80 0 0 0 1118.87 997.28Z" fill="#7fc6c1"/><path d="M1131.89 1061.02A221.80 221.80 0 0 1 1128.69 1061.76L1114.51 998.32A156.80 156.80 0 0 0 1116.77 997.80Z" fill="#fffba8"/><path d="M1128.92 1061.71A221.80 221.80 0 0 1 1122.71 1063.01L1113.36 1015.01A172.90 172.90 0 0 0 1118.20 1014.00Z" fill="#fffba8"/><path d="M1118.23 1014.14A173.05 173.05 0 0 1 1113.39 1015.16L1110.28 999.21A156.80 156.80 0 0 0 1114.67 998.29Z" fill="#7fc6c1"/><path d="M1122.94 1062.96A221.80 221.80 0 0 1 1119.70 1063.57L1116.79 1047.43A205.40 205.40 0 0 0 1119.78 1046.87Z" fill="#fffba8"/><path d="M1119.81 1047.02A205.55 205.55 0 0 1 1116.82 1047.58L1113.90 1031.44A189.15 189.15 0 0 0 1116.66 1030.92Z" fill="#d6d6d6"/><path d="M1116.69 1031.07A189.30 189.30 0 0 1 1113.93 1031.59L1111.02 1015.45A172.90 172.90 0 0 0 1113.54 1014.98Z" fill="#fffba8"/><path d="M1113.56 1015.12A173.05 173.05 0 0 1 1111.04 1015.60L1108.16 999.61A156.80 156.80 0 0 0 1110.44 999.18Z" fill="#7fc6c1"/><path d="M1119.93 1063.53A221.80 221.80 0 0 1 1116.69 1064.09L1108.67 1015.86A172.90 172.90 0 0 0 1111.19 1015.42Z" fill="#fffba8"/><path d="M1111.22 1015.56A173.05 173.05 0 0 1 1108.69 1016.00L1106.03 999.97A156.80 156.80 0 0 0 1108.32 999.58Z" fill="#7fc6c1"/><path d="M1116.92 1064.06A221.80 221.80 0 0 1 1104.58 1065.77L1097.47 1001.16A156.80 156.80 0 0 0 1106.19 999.95Z" fill="#fffba8"/><path d="M1104.82 1065.74A221.80 221.80 0 0 1 1101.54 1066.08L1100.75 1057.84A213.53 213.53 0 0 0 1103.90 1057.52Z" fill="#fffba8"/><path d="M1103.92 1057.67A213.68 213.68 0 0 1 1100.77 1057.99L1096.08 1009.32A164.78 164.78 0 0 0 1098.51 1009.07Z" fill="#d6d6d6"/><path d="M1098.53 1009.21A164.93 164.93 0 0 1 1096.10 1009.47L1095.32 1001.38A156.80 156.80 0 0 0 1097.63 1001.14Z" fill="#7fc6c1"/><path d="M1101.78 1066.06A221.80 221.80 0 0 1 1098.50 1066.35L1095.82 1033.81A189.15 189.15 0 0 0 1098.61 1033.56Z" fill="#bb7cbb"/><path d="M1098.63 1033.71A189.30 189.30 0 0 1 1095.83 1033.96L1094.49 1017.62A172.90 172.90 0 0 0 1097.04 1017.39Z" fill="#76a9d4"/><path d="M1097.06 1017.54A173.05 173.05 0 0 1 1094.50 1017.77L1093.17 1001.57A156.80 156.80 0 0 0 1095.48 1001.36Z" fill="#fffba8"/><path d="M1098.73 1066.33A221.80 221.80 0 0 1 1095.45 1066.58L1091.01 1001.73A156.80 156.80 0 0 0 1093.33 1001.56Z" fill="#7fc6c1"/><path d="M1095.68 1066.57A221.80 221.80 0 0 1 1092.40 1066.77L1091.95 1058.51A213.53 213.53 0 0 0 1095.11 1058.31Z" fill="#7fc6c1"/><path d="M1095.12 1058.46A213.68 213.68 0 0 1 1091.96 1058.66L1091.06 1042.28A197.28 197.28 0 0 0 1093.98 1042.10Z" fill="#d6d6d6"/><path d="M1093.99 1042.25A197.43 197.43 0 0 1 1091.07 1042.43L1090.62 1034.17A189.15 189.15 0 0 0 1093.42 1033.99Z" fill="#7fc6c1"/><path d="M1093.43 1034.14A189.30 189.30 0 0 1 1090.63 1034.32L1088.86 1001.87A156.80 156.80 0 0 0 1091.18 1001.72Z" fill="#fffba8"/><path d="M1092.63 1066.76A221.80 221.80 0 0 1 1089.35 1066.92L1086.70 1001.97A156.80 156.80 0 0 0 1089.02 1001.86Z" fill="#fdb660"/><path d="M1089.58 1066.91A221.80 221.80 0 0 1 1086.30 1067.02L1085.41 1034.38A189.15 189.15 0 0 0 1088.22 1034.28Z" fill="#fffba8"/><path d="M1088.22 1034.43A189.30 189.30 0 0 1 1085.42 1034.53L1084.54 1002.04A156.80 156.80 0 0 0 1086.86 1001.96Z" fill="#7fc6c1"/><path d="M1086.53 1067.01A221.80 221.80 0 0 1 1083.24 1067.08L1083.02 1050.68A205.40 205.40 0 0 0 1086.07 1050.62Z" fill="#fffba8"/><path d="M1086.07 1050.77A205.55 205.55 0 0 1 1083.02 1050.83L1082.81 1034.43A189.15 189.15 0 0 0 1085.61 1034.38Z" fill="#d6d6d6"/><path d="M1085.62 1034.53A189.30 189.30 0 0 1 1082.81 1034.58L1082.38 1002.09A156.80 156.80 0 0 0 1084.70 1002.04Z" fill="#7fc6c1"/><path d="M1083.47 1067.08A221.80 221.80 0 0 1 1080.18 1067.10L1080.21 1026.32A181.03 181.03 0 0 0 1082.89 1026.31Z" fill="#fffba8"/><path d="M1082.89 1026.46A181.18 181.18 0 0 1 1080.21 1026.47L1080.22 1002.10A156.80 156.80 0 0 0 1082.54 1002.08Z" fill="#7fc6c1"/><path d="M1080.42 1067.10A221.80 221.80 0 0 1 1077.13 1067.08L1077.59 1034.43A189.15 189.15 0 0 0 1080.40 1034.45Z" fill="#fffba8"/><path d="M1080.40 1034.60A189.30 189.30 0 0 1 1077.59 1034.58L1078.06 1002.08A156.80 156.80 0 0 0 1080.38 1002.10Z" fill="#7fc6c1"/><path d="M1077.36 1067.08A221.80 221.80 0 0 1 1074.07 1067.01L1074.76 1042.50A197.28 197.28 0 0 0 1077.69 1042.56Z" fill="#d6d6d6"/><path d="M1077.68 1042.71A197.43 197.43 0 0 1 1074.76 1042.65L1074.99 1034.38A189.15 189.15 0 0 0 1077.79 1034.43Z" fill="#fffba8"/><path d="M1077.79 1034.58A189.30 189.30 0 0 1 1074.98 1034.53L1075.90 1002.04A156.80 156.80 0 0 0 1078.22 1002.09Z" fill="#7fc6c1"/><path d="M1074.30 1067.02A221.80 221.80 0 0 1 1071.02 1066.91L1073.74 1001.96A156.80 156.80 0 0 0 1076.06 1002.04Z" fill="#fffba8"/><path d="M1071.25 1066.92A221.80 221.80 0 0 1 1067.97 1066.76L1069.33 1042.27A197.28 197.28 0 0 0 1072.25 1042.41Z" fill="#76a9d4"/><path d="M1072.24 1042.56A197.43 197.43 0 0 1 1069.32 1042.42L1071.58 1001.86A156.80 156.80 0 0 0 1073.90 1001.97Z" fill="#7fc6c1"/><path d="M1068.20 1066.77A221.80 221.80 0 0 1 1064.92 1066.57L1069.42 1001.72A156.80 156.80 0 0 0 1071.74 1001.87Z" fill="#7fc6c1"/><path d="M1065.15 1066.58A221.80 221.80 0 0 1 1061.87 1066.33L1065.26 1025.70A181.03 181.03 0 0 0 1067.93 1025.90Z" fill="#fffba8"/><path d="M1067.92 1026.05A181.18 181.18 0 0 1 1065.24 1025.85L1067.27 1001.56A156.80 156.80 0 0 0 1069.59 1001.73Z" fill="#7fc6c1"/><path d="M1062.10 1066.35A221.80 221.80 0 0 1 1055.78 1065.74L1059.39 1033.29A189.15 189.15 0 0 0 1064.78 1033.81Z" fill="#fffba8"/><path d="M1064.77 1033.96A189.30 189.30 0 0 1 1059.38 1033.44L1062.97 1001.14A156.80 156.80 0 0 0 1067.43 1001.57Z" fill="#7fc6c1"/><path d="M1056.02 1065.77A221.80 221.80 0 0 1 1052.75 1065.38L1054.79 1049.11A205.40 205.40 0 0 0 1057.81 1049.47Z" fill="#fffba8"/><path d="M1057.79 1049.61A205.55 205.55 0 0 1 1054.77 1049.26L1057.81 1024.92A181.03 181.03 0 0 0 1060.48 1025.24Z" fill="#fb8570"/><path d="M1060.46 1025.39A181.18 181.18 0 0 1 1057.80 1025.07L1060.82 1000.89A156.80 156.80 0 0 0 1063.13 1001.16Z" fill="#7fc6c1"/><path d="M1052.98 1065.41A221.80 221.80 0 0 1 1049.72 1064.98L1056.46 1016.55A172.90 172.90 0 0 0 1059.00 1016.88Z" fill="#fffba8"/><path d="M1058.98 1017.03A173.05 173.05 0 0 1 1056.44 1016.70L1058.68 1000.60A156.80 156.80 0 0 0 1060.99 1000.91Z" fill="#7fc6c1"/><path d="M1049.95 1065.01A221.80 221.80 0 0 1 1046.70 1064.54L1047.95 1056.36A213.53 213.53 0 0 0 1051.08 1056.82Z" fill="#fffba8"/><path d="M1051.06 1056.97A213.68 213.68 0 0 1 1047.93 1056.51L1051.64 1032.27A189.15 189.15 0 0 0 1054.42 1032.67Z" fill="#d6d6d6"/><path d="M1054.40 1032.82A189.30 189.30 0 0 1 1051.62 1032.41L1054.10 1016.20A172.90 172.90 0 0 0 1056.64 1016.57Z" fill="#fb8570"/><path d="M1056.62 1016.72A173.05 173.05 0 0 1 1054.08 1016.35L1056.54 1000.29A156.80 156.80 0 0 0 1058.84 1000.63Z" fill="#7fc6c1"/><path d="M1046.93 1064.57A221.80 221.80 0 0 1 1043.68 1064.06L1046.39 1047.88A205.40 205.40 0 0 0 1049.39 1048.36Z" fill="#fffba8"/><path d="M1049.37 1048.51A205.55 205.55 0 0 1 1046.36 1048.03L1050.41 1023.84A181.03 181.03 0 0 0 1053.06 1024.26Z" fill="#bb7cbb"/><path d="M1053.04 1024.41A181.18 181.18 0 0 1 1050.39 1023.99L1053.09 1007.81A164.78 164.78 0 0 0 1055.51 1008.20Z" fill="#fdb660"/><path d="M1055.48 1008.35A164.93 164.93 0 0 1 1053.07 1007.96L1054.41 999.95A156.80 156.80 0 0 0 1056.71 1000.31Z" fill="#7fc6c1"/><path d="M1043.91 1064.09A221.80 221.80 0 0 1 1040.67 1063.53L1046.50 1031.41A189.15 189.15 0 0 0 1049.26 1031.89Z" fill="#fffba8"/><path d="M1049.24 1032.03A189.30 189.30 0 0 1 1046.47 1031.55L1052.28 999.58A156.80 156.80 0 0 0 1054.57 999.97Z" fill="#7fc6c1"/><path d="M1040.90 1063.57A221.80 221.80 0 0 1 1037.66 1062.96L1039.26 1054.84A213.53 213.53 0 0 0 1042.37 1055.43Z" fill="#fffba8"/><path d="M1042.34 1055.58A213.68 213.68 0 0 1 1039.23 1054.99L1042.38 1038.90A197.28 197.28 0 0 0 1045.25 1039.44Z" fill="#fdc9e3"/><path d="M1045.23 1039.58A197.43 197.43 0 0 1 1042.35 1039.04L1045.50 1022.95A181.03 181.03 0 0 0 1048.14 1023.45Z" fill="#fb8570"/><path d="M1048.11 1023.59A181.18 181.18 0 0 1 1045.47 1023.10L1050.16 999.18A156.80 156.80 0 0 0 1052.44 999.61Z" fill="#fffba8"/><path d="M1037.89 1063.01A221.80 221.80 0 0 1 1034.67 1062.36L1036.37 1054.26A213.53 213.53 0 0 0 1039.47 1054.89Z" fill="#7fc6c1"/><path d="M1039.45 1055.03A213.68 213.68 0 0 1 1036.34 1054.40L1039.72 1038.36A197.28 197.28 0 0 0 1042.58 1038.94Z" fill="#76a9d4"/><path d="M1042.55 1039.08A197.43 197.43 0 0 1 1039.68 1038.50L1048.04 998.75A156.80 156.80 0 0 0 1050.32 999.21Z" fill="#7fc6c1"/><path d="M1034.90 1062.40A221.80 221.80 0 0 1 1028.71 1061.02L1038.19 1021.36A181.03 181.03 0 0 0 1043.24 1022.49Z" fill="#fffba8"/><path d="M1043.21 1022.64A181.18 181.18 0 0 1 1038.16 1021.51L1043.83 997.80A156.80 156.80 0 0 0 1048.20 998.78Z" fill="#7fc6c1"/><path d="M1028.93 1061.07A221.80 221.80 0 0 1 1025.74 1060.28L1027.77 1052.26A213.53 213.53 0 0 0 1030.85 1053.02Z" fill="#fffba8"/><path d="M1030.81 1053.17A213.68 213.68 0 0 1 1027.74 1052.41L1035.77 1020.76A181.03 181.03 0 0 0 1038.38 1021.40Z" fill="#fb8570"/><path d="M1038.34 1021.55A181.18 181.18 0 0 1 1035.73 1020.91L1041.73 997.28A156.80 156.80 0 0 0 1043.99 997.84Z" fill="#7fc6c1"/><path d="M1025.96 1060.34A221.80 221.80 0 0 1 1022.78 1059.51L1039.64 996.74A156.80 156.80 0 0 0 1041.89 997.32Z" fill="#d6d6d6"/><path d="M1023.01 1059.57A221.80 221.80 0 0 1 1019.84 1058.70L1028.74 1027.29A189.15 189.15 0 0 0 1031.44 1028.03Z" fill="#fffba8"/><path d="M1031.40 1028.18A189.30 189.30 0 0 1 1028.70 1027.43L1037.56 996.16A156.80 156.80 0 0 0 1039.80 996.78Z" fill="#7fc6c1"/><path d="M1020.06 1058.76A221.80 221.80 0 0 1 1016.90 1057.85L1035.48 995.56A156.80 156.80 0 0 0 1037.71 996.21Z" fill="#fffba8"/><path d="M1017.12 1057.91A221.80 221.80 0 0 1 1013.98 1056.95L1026.17 1018.04A181.03 181.03 0 0 0 1028.74 1018.83Z" fill="#fffba8"/><path d="M1028.70 1018.97A181.18 181.18 0 0 1 1026.13 1018.19L1033.41 994.93A156.80 156.80 0 0 0 1035.64 995.60Z" fill="#7fc6c1"/><path d="M1014.20 1057.02A221.80 221.80 0 0 1 1011.07 1056.02L1031.36 994.27A156.80 156.80 0 0 0 1033.57 994.98Z" fill="#bb7cbb"/><path d="M1011.29 1056.09A221.80 221.80 0 0 1 1005.29 1054.03L1027.27 992.86A156.80 156.80 0 0 0 1031.51 994.32Z" fill="#7fc6c1"/><path d="M1005.51 1054.11A221.80 221.80 0 0 1 999.57 1051.88L1011.45 1021.47A189.15 189.15 0 0 0 1016.52 1023.37Z" fill="#fffba8"/><path d="M1016.47 1023.51A189.30 189.30 0 0 1 1011.40 1021.61L1023.23 991.34A156.80 156.80 0 0 0 1027.43 992.92Z" fill="#7fc6c1"/><path d="M999.78 1051.97A221.80 221.80 0 0 1 996.73 1050.75L1005.97 1028.04A197.28 197.28 0 0 0 1008.69 1029.12Z" fill="#7fc6c1"/><path d="M1008.63 1029.26A197.43 197.43 0 0 1 1005.91 1028.17L1021.22 990.54A156.80 156.80 0 0 0 1023.38 991.40Z" fill="#fffba8"/><path d="M996.94 1050.84A221.80 221.80 0 0 1 993.90 1049.58L1009.79 1012.03A181.03 181.03 0 0 0 1012.27 1013.05Z" fill="#fffba8"/><path d="M1012.21 1013.19A181.18 181.18 0 0 1 1009.73 1012.17L1019.22 989.72A156.80 156.80 0 0 0 1021.37 990.61Z" fill="#7fc6c1"/><path d="M994.12 1049.67A221.80 221.80 0 0 1 991.10 1048.37L1017.24 988.86A156.80 156.80 0 0 0 1019.37 989.78Z" fill="#7fc6c1"/><path d="M991.31 1048.47A221.80 221.80 0 0 1 988.31 1047.12L1005.22 1010.02A181.03 181.03 0 0 0 1007.67 1011.12Z" fill="#fffba8"/><path d="M1007.61 1011.25A181.18 181.18 0 0 1 1005.16 1010.16L1015.27 987.98A156.80 156.80 0 0 0 1017.39 988.93Z" fill="#7fc6c1"/><path d="M988.52 1047.22A221.80 221.80 0 0 1 985.54 1045.84L992.54 1031.01A205.40 205.40 0 0 0 995.31 1032.29Z" fill="#fffba8"/><path d="M995.24 1032.43A205.55 205.55 0 0 1 992.48 1031.14L1002.96 1008.97A181.03 181.03 0 0 0 1005.39 1010.10Z" fill="#d6d6d6"/><path d="M1005.33 1010.24A181.18 181.18 0 0 1 1002.89 1009.11L1013.31 987.07A156.80 156.80 0 0 0 1015.42 988.05Z" fill="#7fc6c1"/><path d="M985.75 1045.94A221.80 221.80 0 0 1 980.05 1043.15L998.48 1006.78A181.03 181.03 0 0 0 1003.13 1009.05Z" fill="#fffba8"/><path d="M1003.06 1009.19A181.18 181.18 0 0 1 998.41 1006.91L1009.43 985.17A156.80 156.80 0 0 0 1013.46 987.14Z" fill="#7fc6c1"/><path d="M980.25 1043.25A221.80 221.80 0 0 1 977.33 1041.75L1007.51 984.18A156.80 156.80 0 0 0 1009.57 985.24Z" fill="#fffba8"/><path d="M977.54 1041.86A221.80 221.80 0 0 1 974.63 1040.31L1005.60 983.16A156.80 156.80 0 0 0 1007.65 984.25Z" fill="#7fc6c1"/><path d="M974.84 1040.42A221.80 221.80 0 0 1 971.96 1038.84L991.87 1003.26A181.03 181.03 0 0 0 994.22 1004.55Z" fill="#fffba8"/><path d="M994.15 1004.68A181.18 181.18 0 0 1 991.80 1003.39L1003.71 982.12A156.80 156.80 0 0 0 1005.74 983.24Z" fill="#7fc6c1"/><path d="M972.16 1038.95A221.80 221.80 0 0 1 966.66 1035.78L999.97 979.96A156.80 156.80 0 0 0 1003.85 982.20Z" fill="#fffba8"/><path d="M966.86 1035.90A221.80 221.80 0 0 1 964.05 1034.19L981.16 1006.39A189.15 189.15 0 0 0 983.56 1007.84Z" fill="#fffba8"/><path d="M983.49 1007.97A189.30 189.30 0 0 1 981.08 1006.52L998.12 978.84A156.80 156.80 0 0 0 1000.11 980.04Z" fill="#7fc6c1"/><path d="M964.25 1034.32A221.80 221.80 0 0 1 958.89 1030.92L981.21 996.80A181.03 181.03 0 0 0 985.58 999.57Z" fill="#fffba8"/><path d="M985.50 999.70A181.18 181.18 0 0 1 981.13 996.92L994.47 976.52A156.80 156.80 0 0 0 998.26 978.92Z" fill="#7fc6c1"/><path d="M959.08 1031.05A221.80 221.80 0 0 1 953.82 1027.50L972.44 1000.68A189.15 189.15 0 0 0 976.93 1003.70Z" fill="#fffba8"/><path d="M976.85 1003.83A189.30 189.30 0 0 1 972.35 1000.81L990.89 974.11A156.80 156.80 0 0 0 994.61 976.61Z" fill="#7fc6c1"/><path d="M954.01 1027.64A221.80 221.80 0 0 1 951.32 1025.74L989.12 972.86A156.80 156.80 0 0 0 991.02 974.20Z" fill="#7fc6c1"/><path d="M951.51 1025.88A221.80 221.80 0 0 1 948.85 1023.95L987.37 971.60A156.80 156.80 0 0 0 989.25 972.96Z" fill="#76a9d4"/><path d="M949.04 1024.09A221.80 221.80 0 0 1 946.40 1022.12L985.64 970.30A156.80 156.80 0 0 0 987.50 971.69Z" fill="#fffba8"/><path d="M946.58 1022.26A221.80 221.80 0 0 1 941.58 1018.37L962.00 992.89A189.15 189.15 0 0 0 966.27 996.21Z" fill="#7fc6c1"/><path d="M966.18 996.33A189.30 189.30 0 0 1 961.90 993.01L982.23 967.65A156.80 156.80 0 0 0 985.77 970.40Z" fill="#fffba8"/><path d="M941.76 1018.51A221.80 221.80 0 0 1 936.86 1014.48L963.23 983.38A181.03 181.03 0 0 0 967.23 986.67Z" fill="#fffba8"/><path d="M967.13 986.78A181.18 181.18 0 0 1 963.13 983.49L978.90 964.90A156.80 156.80 0 0 0 982.36 967.75Z" fill="#7fc6c1"/><path d="M937.04 1014.63A221.80 221.80 0 0 1 934.54 1012.48L939.98 1006.25A213.53 213.53 0 0 0 942.38 1008.31Z" fill="#fffba8"/><path d="M942.29 1008.42A213.68 213.68 0 0 1 939.88 1006.36L956.00 987.87A189.15 189.15 0 0 0 958.13 989.70Z" fill="#d6d6d6"/><path d="M958.03 989.82A189.30 189.30 0 0 1 955.90 987.99L961.34 981.75A181.03 181.03 0 0 0 963.38 983.50Z" fill="#fffba8"/><path d="M963.28 983.61A181.18 181.18 0 0 1 961.24 981.86L977.26 963.49A156.80 156.80 0 0 0 979.02 965.00Z" fill="#7fc6c1"/><path d="M934.72 1012.64A221.80 221.80 0 0 1 927.76 1006.32L955.80 976.72A181.03 181.03 0 0 0 961.48 981.87Z" fill="#fffba8"/><path d="M961.38 981.99A181.18 181.18 0 0 1 955.70 976.83L972.46 959.13A156.80 156.80 0 0 0 977.38 963.60Z" fill="#7fc6c1"/><path d="M927.93 1006.48A221.80 221.80 0 0 1 925.56 1004.20L970.91 957.63A156.80 156.80 0 0 0 972.58 959.24Z" fill="#d6d6d6"/><path d="M925.72 1004.36A221.80 221.80 0 0 1 923.38 1002.05L940.73 984.72A197.28 197.28 0 0 0 942.81 986.78Z" fill="#fffba8"/><path d="M942.71 986.88A197.43 197.43 0 0 1 940.63 984.83L969.37 956.12A156.80 156.80 0 0 0 971.02 957.75Z" fill="#7fc6c1"/><path d="M923.55 1002.22A221.80 221.80 0 0 1 921.24 999.88L967.85 954.58A156.80 156.80 0 0 0 969.48 956.23Z" fill="#d6d6d6"/><path d="M921.40 1000.04A221.80 221.80 0 0 1 919.12 997.67L966.36 953.02A156.80 156.80 0 0 0 967.97 954.69Z" fill="#7fc6c1"/><path d="M919.28 997.84A221.80 221.80 0 0 1 917.04 995.44L953.03 962.34A172.90 172.90 0 0 0 954.78 964.21Z" fill="#76a9d4"/><path d="M954.67 964.31A173.05 173.05 0 0 1 952.92 962.44L964.88 951.44A156.80 156.80 0 0 0 966.47 953.14Z" fill="#7fc6c1"/><path d="M917.20 995.61A221.80 221.80 0 0 1 914.98 993.17L927.21 982.24A205.40 205.40 0 0 0 929.26 984.49Z" fill="#7fc6c1"/><path d="M929.14 984.59A205.55 205.55 0 0 1 927.10 982.34L951.43 960.57A172.90 172.90 0 0 0 953.15 962.47Z" fill="#d6d6d6"/><path d="M953.04 962.57A173.05 173.05 0 0 1 951.32 960.67L963.43 949.84A156.80 156.80 0 0 0 964.99 951.56Z" fill="#7fc6c1"/><path d="M915.14 993.34A221.80 221.80 0 0 1 910.97 988.56L960.60 946.58A156.80 156.80 0 0 0 963.54 949.96Z" fill="#7fc6c1"/><path d="M911.12 988.74A221.80 221.80 0 0 1 909.02 986.21L921.68 975.79A205.40 205.40 0 0 0 923.63 978.13Z" fill="#7fc6c1"/><path d="M923.52 978.23A205.55 205.55 0 0 1 921.56 975.89L934.23 965.47A189.15 189.15 0 0 0 936.03 967.62Z" fill="#76a9d4"/><path d="M935.91 967.72A189.30 189.30 0 0 1 934.11 965.57L946.78 955.15A172.90 172.90 0 0 0 948.42 957.11Z" fill="#d6d6d6"/><path d="M948.31 957.21A173.05 173.05 0 0 1 946.66 955.24L959.21 944.92A156.80 156.80 0 0 0 960.70 946.70Z" fill="#7fc6c1"/><path d="M909.16 986.39A221.80 221.80 0 0 1 907.09 983.84L932.59 963.45A189.15 189.15 0 0 0 934.35 965.62Z" fill="#fffba8"/><path d="M934.24 965.72A189.30 189.30 0 0 1 932.47 963.54L957.85 943.24A156.80 156.80 0 0 0 959.32 945.04Z" fill="#7fc6c1"/><path d="M907.23 984.02A221.80 221.80 0 0 1 905.20 981.44L956.51 941.54A156.80 156.80 0 0 0 957.95 943.37Z" fill="#d6d6d6"/><path d="M905.34 981.62A221.80 221.80 0 0 1 903.34 979.02L955.20 939.83A156.80 156.80 0 0 0 956.61 941.67Z" fill="#7fc6c1"/><path d="M903.48 979.20A221.80 221.80 0 0 1 899.72 974.09L952.64 936.35A156.80 156.80 0 0 0 955.30 939.96Z" fill="#fffba8"/><path d="M899.86 974.28A221.80 221.80 0 0 1 897.96 971.59L951.40 934.58A156.80 156.80 0 0 0 952.74 936.48Z" fill="#76a9d4"/><path d="M898.10 971.78A221.80 221.80 0 0 1 896.24 969.06L930.08 946.31A181.03 181.03 0 0 0 931.59 948.53Z" fill="#fffba8"/><path d="M931.47 948.61A181.18 181.18 0 0 1 929.95 946.40L950.18 932.79A156.80 156.80 0 0 0 951.49 934.71Z" fill="#7fc6c1"/><path d="M896.37 969.26A221.80 221.80 0 0 1 894.55 966.52L915.09 953.11A197.28 197.28 0 0 0 916.71 955.55Z" fill="#d6d6d6"/><path d="M916.58 955.63A197.43 197.43 0 0 1 914.97 953.19L928.70 944.23A181.03 181.03 0 0 0 930.18 946.47Z" fill="#fffba8"/><path d="M930.06 946.55A181.18 181.18 0 0 1 928.57 944.31L948.99 930.99A156.80 156.80 0 0 0 950.27 932.93Z" fill="#7fc6c1"/><path d="M894.68 966.71A221.80 221.80 0 0 1 892.90 963.95L927.35 942.13A181.03 181.03 0 0 0 928.80 944.39Z" fill="#fffba8"/><path d="M928.68 944.47A181.18 181.18 0 0 1 927.22 942.21L947.82 929.18A156.80 156.80 0 0 0 949.08 931.13Z" fill="#7fc6c1"/><path d="M893.02 964.14A221.80 221.80 0 0 1 891.28 961.35L946.68 927.34A156.80 156.80 0 0 0 947.91 929.31Z" fill="#d6d6d6"/><path d="M891.41 961.55A221.80 221.80 0 0 1 888.16 956.10L916.44 939.79A189.15 189.15 0 0 0 919.21 944.44Z" fill="#fffba8"/><path d="M919.08 944.52A189.30 189.30 0 0 1 916.31 939.86L944.47 923.63A156.80 156.80 0 0 0 946.76 927.48Z" fill="#7fc6c1"/><path d="M888.27 956.30A221.80 221.80 0 0 1 886.65 953.44L943.40 921.75A156.80 156.80 0 0 0 944.55 923.77Z" fill="#bb7cbb"/><path d="M886.76 953.64A221.80 221.80 0 0 1 885.18 950.76L921.05 931.38A181.03 181.03 0 0 0 922.34 933.73Z" fill="#bb7cbb"/><path d="M922.21 933.80A181.18 181.18 0 0 1 920.92 931.45L942.36 919.86A156.80 156.80 0 0 0 943.48 921.89Z" fill="#fffba8"/><path d="M885.29 950.97A221.80 221.80 0 0 1 883.74 948.06L891.08 944.23A213.53 213.53 0 0 0 892.56 947.02Z" fill="#fffba8"/><path d="M892.43 947.10A213.68 213.68 0 0 1 890.94 944.30L912.68 932.94A189.15 189.15 0 0 0 913.99 935.41Z" fill="#bb7cbb"/><path d="M913.86 935.48A189.30 189.30 0 0 1 912.54 933.01L941.35 917.95A156.80 156.80 0 0 0 942.44 920.00Z" fill="#7fc6c1"/><path d="M883.85 948.27A221.80 221.80 0 0 1 880.99 942.61L903.02 931.85A197.28 197.28 0 0 0 905.57 936.88Z" fill="#fffba8"/><path d="M905.44 936.95A197.43 197.43 0 0 1 902.89 931.92L939.40 914.09A156.80 156.80 0 0 0 941.42 918.09Z" fill="#7fc6c1"/><path d="M881.09 942.82A221.80 221.80 0 0 1 879.66 939.85L894.50 932.86A205.40 205.40 0 0 0 895.82 935.61Z" fill="#fffba8"/><path d="M895.68 935.67A205.55 205.55 0 0 1 894.36 932.93L916.55 922.47A181.03 181.03 0 0 0 917.71 924.89Z" fill="#fdb660"/><path d="M917.58 924.96A181.18 181.18 0 0 1 916.41 922.54L938.46 912.14A156.80 156.80 0 0 0 939.47 914.24Z" fill="#7fc6c1"/><path d="M879.76 940.06A221.80 221.80 0 0 1 878.38 937.08L937.55 910.18A156.80 156.80 0 0 0 938.53 912.29Z" fill="#7fc6c1"/><path d="M878.48 937.29A221.80 221.80 0 0 1 877.13 934.29L907.04 921.19A189.15 189.15 0 0 0 908.19 923.75Z" fill="#fffba8"/><path d="M908.05 923.81A189.30 189.30 0 0 1 906.90 921.25L936.67 908.21A156.80 156.80 0 0 0 937.62 910.33Z" fill="#7fc6c1"/><path d="M877.23 934.50A221.80 221.80 0 0 1 875.93 931.48L898.53 921.95A197.28 197.28 0 0 0 899.68 924.64Z" fill="#d6d6d6"/><path d="M899.54 924.70A197.43 197.43 0 0 1 898.39 922.01L935.82 906.23A156.80 156.80 0 0 0 936.74 908.36Z" fill="#fffba8"/><path d="M876.02 931.70A221.80 221.80 0 0 1 874.76 928.66L889.96 922.49A205.40 205.40 0 0 0 891.12 925.31Z" fill="#d6d6d6"/><path d="M890.98 925.37A205.55 205.55 0 0 1 889.82 922.55L905.02 916.39A189.15 189.15 0 0 0 906.09 918.98Z" fill="#fdb660"/><path d="M905.95 919.04A189.30 189.30 0 0 1 904.88 916.44L912.55 913.33A181.03 181.03 0 0 0 913.57 915.81Z" fill="#fffba8"/><path d="M913.43 915.87A181.18 181.18 0 0 1 912.41 913.39L934.99 904.23A156.80 156.80 0 0 0 935.88 906.38Z" fill="#7fc6c1"/><path d="M874.85 928.87A221.80 221.80 0 0 1 873.63 925.82L919.20 908.07A172.90 172.90 0 0 0 920.14 910.45Z" fill="#fffba8"/><path d="M920.00 910.50A173.05 173.05 0 0 1 919.06 908.12L934.20 902.22A156.80 156.80 0 0 0 935.06 904.38Z" fill="#7fc6c1"/><path d="M873.72 926.03A221.80 221.80 0 0 1 872.54 922.96L933.43 900.20A156.80 156.80 0 0 0 934.26 902.37Z" fill="#fffba8"/><path d="M872.62 923.18A221.80 221.80 0 0 1 871.49 920.09L886.93 914.56A205.40 205.40 0 0 0 887.98 917.42Z" fill="#76a9d4"/><path d="M887.84 917.47A205.55 205.55 0 0 1 886.79 914.61L902.23 909.08A189.15 189.15 0 0 0 903.19 911.72Z" fill="#d6d6d6"/><path d="M903.05 911.77A189.30 189.30 0 0 1 902.09 909.13L932.68 898.17A156.80 156.80 0 0 0 933.48 900.36Z" fill="#fffba8"/><path d="M871.57 920.31A221.80 221.80 0 0 1 870.48 917.21L931.97 896.14A156.80 156.80 0 0 0 932.74 898.33Z" fill="#fffba8"/><path d="M870.56 917.43A221.80 221.80 0 0 1 869.51 914.31L915.98 899.10A172.90 172.90 0 0 0 916.80 901.53Z" fill="#fffba8"/><path d="M916.66 901.57A173.05 173.05 0 0 1 915.84 899.14L931.28 894.09A156.80 156.80 0 0 0 932.02 896.29Z" fill="#7fc6c1"/><path d="M869.58 914.53A221.80 221.80 0 0 1 868.58 911.40L891.99 904.09A197.28 197.28 0 0 0 892.88 906.88Z" fill="#76a9d4"/><path d="M892.74 906.92A197.43 197.43 0 0 1 891.85 904.14L907.50 899.25A181.03 181.03 0 0 0 908.32 901.80Z" fill="#fffba8"/><path d="M908.18 901.85A181.18 181.18 0 0 1 907.36 899.29L930.62 892.03A156.80 156.80 0 0 0 931.33 894.24Z" fill="#7fc6c1"/><path d="M868.65 911.62A221.80 221.80 0 0 1 867.69 908.48L883.41 903.80A205.40 205.40 0 0 0 884.30 906.72Z" fill="#fffba8"/><path d="M884.15 906.76A205.55 205.55 0 0 1 883.26 903.85L898.99 899.18A189.15 189.15 0 0 0 899.80 901.86Z" fill="#bb7cbb"/><path d="M899.66 901.90A189.30 189.30 0 0 1 898.84 899.22L906.77 896.86A181.03 181.03 0 0 0 907.56 899.43Z" fill="#fffba8"/><path d="M907.41 899.47A181.18 181.18 0 0 1 906.63 896.90L930.00 889.96A156.80 156.80 0 0 0 930.67 892.19Z" fill="#7fc6c1"/><path d="M867.75 908.70A221.80 221.80 0 0 1 866.84 905.54L882.62 901.09A205.40 205.40 0 0 0 883.47 904.01Z" fill="#fffba8"/><path d="M883.33 904.05A205.55 205.55 0 0 1 882.48 901.13L913.90 892.26A172.90 172.90 0 0 0 914.61 894.72Z" fill="#76a9d4"/><path d="M914.47 894.76A173.05 173.05 0 0 1 913.75 892.30L929.39 887.89A156.80 156.80 0 0 0 930.04 890.12Z" fill="#7fc6c1"/><path d="M866.90 905.76A221.80 221.80 0 0 1 865.26 899.64L904.79 889.65A181.03 181.03 0 0 0 906.13 894.65Z" fill="#fffba8"/><path d="M905.99 894.69A181.18 181.18 0 0 1 904.65 889.68L928.28 883.71A156.80 156.80 0 0 0 929.44 888.04Z" fill="#7fc6c1"/><path d="M865.32 899.86A221.80 221.80 0 0 1 864.53 896.67L927.76 881.61A156.80 156.80 0 0 0 928.32 883.87Z" fill="#fdb660"/><path d="M864.58 896.89A221.80 221.80 0 0 1 863.20 890.70L895.16 884.02A189.15 189.15 0 0 0 896.34 889.30Z" fill="#fffba8"/><path d="M896.19 889.33A189.30 189.30 0 0 1 895.01 884.05L926.82 877.40A156.80 156.80 0 0 0 927.80 881.77Z" fill="#7fc6c1"/><path d="M863.24 890.93A221.80 221.80 0 0 1 862.59 887.71L870.71 886.13A213.53 213.53 0 0 0 871.34 889.23Z" fill="#fffba8"/><path d="M871.20 889.26A213.68 213.68 0 0 1 870.57 886.15L886.66 883.02A197.28 197.28 0 0 0 887.24 885.88Z" fill="#76a9d4"/><path d="M887.10 885.92A197.43 197.43 0 0 1 886.52 883.05L902.61 879.91A181.03 181.03 0 0 0 903.15 882.54Z" fill="#fdb660"/><path d="M903.00 882.57A181.18 181.18 0 0 1 902.47 879.94L926.39 875.28A156.80 156.80 0 0 0 926.85 877.56Z" fill="#7fc6c1"/><path d="M862.64 887.94A221.80 221.80 0 0 1 862.03 884.70L878.17 881.79A205.40 205.40 0 0 0 878.73 884.78Z" fill="#d6d6d6"/><path d="M878.58 884.81A205.55 205.55 0 0 1 878.02 881.82L894.16 878.90A189.15 189.15 0 0 0 894.68 881.66Z" fill="#fffba8"/><path d="M894.53 881.69A189.30 189.30 0 0 1 894.01 878.93L925.99 873.16A156.80 156.80 0 0 0 926.42 875.44Z" fill="#7fc6c1"/><path d="M862.07 884.93A221.80 221.80 0 0 1 861.51 881.69L893.71 876.34A189.15 189.15 0 0 0 894.19 879.10Z" fill="#fffba8"/><path d="M894.05 879.13A189.30 189.30 0 0 1 893.57 876.36L925.63 871.03A156.80 156.80 0 0 0 926.02 873.32Z" fill="#7fc6c1"/><path d="M861.54 881.92A221.80 221.80 0 0 1 861.03 878.67L925.29 868.89A156.80 156.80 0 0 0 925.65 871.19Z" fill="#bb7cbb"/><path d="M861.06 878.90A221.80 221.80 0 0 1 860.59 875.65L892.93 871.18A189.15 189.15 0 0 0 893.33 873.96Z" fill="#76a9d4"/><path d="M893.19 873.98A189.30 189.30 0 0 1 892.78 871.20L900.98 870.07A181.03 181.03 0 0 0 901.36 872.73Z" fill="#fffba8"/><path d="M901.22 872.75A181.18 181.18 0 0 1 900.83 870.09L924.97 866.76A156.80 156.80 0 0 0 925.31 869.06Z" fill="#7fc6c1"/><path d="M860.62 875.88A221.80 221.80 0 0 1 860.19 872.62L900.65 867.60A181.03 181.03 0 0 0 901.00 870.26Z" fill="#fffba8"/><path d="M900.86 870.28A181.18 181.18 0 0 1 900.50 867.62L924.69 864.61A156.80 156.80 0 0 0 925.00 866.92Z" fill="#7fc6c1"/><path d="M860.22 872.85A221.80 221.80 0 0 1 859.83 869.58L892.29 866.01A189.15 189.15 0 0 0 892.61 868.79Z" fill="#d6d6d6"/><path d="M892.47 868.81A189.30 189.30 0 0 1 892.14 866.03L900.36 865.12A181.03 181.03 0 0 0 900.68 867.79Z" fill="#fffba8"/><path d="M900.53 867.80A181.18 181.18 0 0 1 900.21 865.14L924.44 862.47A156.80 156.80 0 0 0 924.71 864.78Z" fill="#7fc6c1"/><path d="M859.86 869.82A221.80 221.80 0 0 1 859.52 866.54L892.02 863.42A189.15 189.15 0 0 0 892.31 866.21Z" fill="#fffba8"/><path d="M892.16 866.22A189.30 189.30 0 0 1 891.87 863.43L924.22 860.32A156.80 156.80 0 0 0 924.46 862.63Z" fill="#7fc6c1"/><path d="M859.54 866.78A221.80 221.80 0 0 1 859.25 863.50L883.69 861.49A197.28 197.28 0 0 0 883.95 864.40Z" fill="#fffba8"/><path d="M883.80 864.42A197.43 197.43 0 0 1 883.54 861.50L924.03 858.17A156.80 156.80 0 0 0 924.24 860.48Z" fill="#7fc6c1"/><path d="M859.27 863.73A221.80 221.80 0 0 1 858.68 854.35L923.63 851.70A156.80 156.80 0 0 0 924.04 858.33Z" fill="#7fc6c1"/><path d="M858.69 854.58A221.80 221.80 0 0 1 858.50 845.18L923.50 845.22A156.80 156.80 0 0 0 923.64 851.86Z" fill="#fffba8"/><path d="M858.50 845.42A221.80 221.80 0 0 1 858.52 842.13L874.92 842.36A205.40 205.40 0 0 0 874.90 845.41Z" fill="#fffba8"/><path d="M874.75 845.41A205.55 205.55 0 0 1 874.77 842.36L907.42 842.83A172.90 172.90 0 0 0 907.40 845.39Z" fill="#fdb660"/><path d="M907.25 845.39A173.05 173.05 0 0 1 907.27 842.83L923.52 843.06A156.80 156.80 0 0 0 923.50 845.38Z" fill="#fffba8"/><path d="M858.52 842.36A221.80 221.80 0 0 1 858.59 839.07L923.56 840.90A156.80 156.80 0 0 0 923.51 843.22Z" fill="#fdb660"/><path d="M858.58 839.30A221.80 221.80 0 0 1 858.69 836.02L899.43 837.72A181.03 181.03 0 0 0 899.34 840.41Z" fill="#fffba8"/><path d="M899.19 840.40A181.18 181.18 0 0 1 899.28 837.72L923.64 838.74A156.80 156.80 0 0 0 923.56 841.06Z" fill="#7fc6c1"/><path d="M858.68 836.25A221.80 221.80 0 0 1 858.84 832.97L875.22 833.88A205.40 205.40 0 0 0 875.07 836.92Z" fill="#fffba8"/><path d="M874.92 836.91A205.55 205.55 0 0 1 875.07 833.87L891.44 834.78A189.15 189.15 0 0 0 891.31 837.58Z" fill="#d6d6d6"/><path d="M891.16 837.58A189.30 189.30 0 0 1 891.29 834.77L899.56 835.23A181.03 181.03 0 0 0 899.43 837.91Z" fill="#fffba8"/><path d="M899.28 837.91A181.18 181.18 0 0 1 899.41 835.22L923.74 836.58A156.80 156.80 0 0 0 923.63 838.90Z" fill="#7fc6c1"/><path d="M858.83 833.20A221.80 221.80 0 0 1 859.03 829.92L923.88 834.42A156.80 156.80 0 0 0 923.73 836.74Z" fill="#fffba8"/><path d="M859.02 830.15A221.80 221.80 0 0 1 859.27 826.87L867.51 827.56A213.53 213.53 0 0 0 867.27 830.71Z" fill="#fffba8"/><path d="M867.12 830.70A213.68 213.68 0 0 1 867.36 827.54L883.71 828.91A197.28 197.28 0 0 0 883.49 831.82Z" fill="#bb7cbb"/><path d="M883.34 831.81A197.43 197.43 0 0 1 883.56 828.89L891.80 829.58A189.15 189.15 0 0 0 891.59 832.38Z" fill="#fffba8"/><path d="M891.44 832.37A189.30 189.30 0 0 1 891.65 829.57L924.04 832.27A156.80 156.80 0 0 0 923.87 834.59Z" fill="#7fc6c1"/><path d="M859.25 827.10A221.80 221.80 0 0 1 859.86 820.78L892.31 824.39A189.15 189.15 0 0 0 891.79 829.78Z" fill="#fffba8"/><path d="M891.64 829.77A189.30 189.30 0 0 1 892.16 824.38L924.46 827.97A156.80 156.80 0 0 0 924.03 832.43Z" fill="#7fc6c1"/><path d="M859.83 821.02A221.80 221.80 0 0 1 860.22 817.75L892.61 821.81A189.15 189.15 0 0 0 892.29 824.59Z" fill="#fdb660"/><path d="M892.14 824.57A189.30 189.30 0 0 1 892.47 821.79L900.68 822.81A181.03 181.03 0 0 0 900.36 825.48Z" fill="#fffba8"/><path d="M900.21 825.46A181.18 181.18 0 0 1 900.53 822.80L924.71 825.82A156.80 156.80 0 0 0 924.44 828.13Z" fill="#7fc6c1"/><path d="M860.19 817.98A221.80 221.80 0 0 1 860.62 814.72L884.91 818.10A197.28 197.28 0 0 0 884.53 821.00Z" fill="#bb7cbb"/><path d="M884.38 820.98A197.43 197.43 0 0 1 884.76 818.08L901.00 820.34A181.03 181.03 0 0 0 900.65 823.00Z" fill="#fffba8"/><path d="M900.50 822.98A181.18 181.18 0 0 1 900.86 820.32L925.00 823.68A156.80 156.80 0 0 0 924.69 825.99Z" fill="#7fc6c1"/><path d="M860.59 814.95A221.80 221.80 0 0 1 861.06 811.70L901.36 817.87A181.03 181.03 0 0 0 900.98 820.53Z" fill="#fffba8"/><path d="M900.83 820.51A181.18 181.18 0 0 1 901.22 817.85L925.31 821.54A156.80 156.80 0 0 0 924.97 823.84Z" fill="#7fc6c1"/><path d="M861.03 811.93A221.80 221.80 0 0 1 861.54 808.68L909.77 816.75A172.90 172.90 0 0 0 909.37 819.28Z" fill="#d6d6d6"/><path d="M909.22 819.26A173.05 173.05 0 0 1 909.63 816.73L925.65 819.41A156.80 156.80 0 0 0 925.29 821.71Z" fill="#fffba8"/><path d="M861.51 808.91A221.80 221.80 0 0 1 863.24 799.67L903.15 808.06A181.03 181.03 0 0 0 901.73 815.60Z" fill="#fffba8"/><path d="M901.58 815.57A181.18 181.18 0 0 1 903.00 808.03L926.85 813.04A156.80 156.80 0 0 0 925.63 819.57Z" fill="#7fc6c1"/><path d="M863.20 799.90A221.80 221.80 0 0 1 863.89 796.68L895.75 803.84A189.15 189.15 0 0 0 895.16 806.58Z" fill="#fffba8"/><path d="M895.01 806.55A189.30 189.30 0 0 1 895.60 803.81L927.31 810.93A156.80 156.80 0 0 0 926.82 813.20Z" fill="#7fc6c1"/><path d="M863.84 796.91A221.80 221.80 0 0 1 864.58 793.71L880.53 797.52A205.40 205.40 0 0 0 879.85 800.49Z" fill="#fffba8"/><path d="M879.70 800.46A205.55 205.55 0 0 1 880.39 797.49L912.14 805.08A172.90 172.90 0 0 0 911.57 807.58Z" fill="#76a9d4"/><path d="M911.42 807.55A173.05 173.05 0 0 1 912.00 805.05L927.80 808.83A156.80 156.80 0 0 0 927.28 811.09Z" fill="#7fc6c1"/><path d="M864.53 793.93A221.80 221.80 0 0 1 865.32 790.74L881.21 794.77A205.40 205.40 0 0 0 880.48 797.73Z" fill="#fffba8"/><path d="M880.34 797.70A205.55 205.55 0 0 1 881.07 794.74L896.96 798.77A189.15 189.15 0 0 0 896.29 801.49Z" fill="#76a9d4"/><path d="M896.15 801.46A189.30 189.30 0 0 1 896.82 798.73L928.32 806.73A156.80 156.80 0 0 0 927.76 808.99Z" fill="#7fc6c1"/><path d="M865.26 790.96A221.80 221.80 0 0 1 866.09 787.78L897.62 796.25A189.15 189.15 0 0 0 896.91 798.96Z" fill="#fffba8"/><path d="M896.77 798.93A189.30 189.30 0 0 1 897.48 796.21L928.86 804.64A156.80 156.80 0 0 0 928.28 806.89Z" fill="#7fc6c1"/><path d="M866.03 788.01A221.80 221.80 0 0 1 866.90 784.84L898.31 793.74A189.15 189.15 0 0 0 897.57 796.44Z" fill="#fdb660"/><path d="M897.42 796.40A189.30 189.30 0 0 1 898.17 793.70L913.95 798.17A172.90 172.90 0 0 0 913.27 800.64Z" fill="#d6d6d6"/><path d="M913.12 800.60A173.05 173.05 0 0 1 913.80 798.13L929.44 802.56A156.80 156.80 0 0 0 928.82 804.80Z" fill="#7fc6c1"/><path d="M866.84 785.06A221.80 221.80 0 0 1 867.75 781.90L906.83 793.56A181.03 181.03 0 0 0 906.08 796.13Z" fill="#fffba8"/><path d="M905.94 796.09A181.18 181.18 0 0 1 906.68 793.51L930.04 800.48A156.80 156.80 0 0 0 929.39 802.71Z" fill="#7fc6c1"/><path d="M867.69 782.12A221.80 221.80 0 0 1 868.65 778.98L892.05 786.31A197.28 197.28 0 0 0 891.20 789.11Z" fill="#76a9d4"/><path d="M891.05 789.07A197.43 197.43 0 0 1 891.91 786.27L907.56 791.17A181.03 181.03 0 0 0 906.77 793.74Z" fill="#d6d6d6"/><path d="M906.63 793.70A181.18 181.18 0 0 1 907.41 791.13L930.67 798.41A156.80 156.80 0 0 0 930.00 800.64Z" fill="#7fc6c1"/><path d="M868.58 779.20A221.80 221.80 0 0 1 869.58 776.07L892.88 783.72A197.28 197.28 0 0 0 891.99 786.51Z" fill="#d6d6d6"/><path d="M891.85 786.46A197.43 197.43 0 0 1 892.74 783.68L900.60 786.26A189.15 189.15 0 0 0 899.74 788.93Z" fill="#fffba8"/><path d="M899.60 788.89A189.30 189.30 0 0 1 900.46 786.21L931.33 796.36A156.80 156.80 0 0 0 930.62 798.57Z" fill="#7fc6c1"/><path d="M869.51 776.29A221.80 221.80 0 0 1 870.56 773.17L886.06 778.51A205.40 205.40 0 0 0 885.10 781.39Z" fill="#fffba8"/><path d="M884.95 781.35A205.55 205.55 0 0 1 885.92 778.46L901.43 783.79A189.15 189.15 0 0 0 900.54 786.45Z" fill="#d6d6d6"/><path d="M900.40 786.40A189.30 189.30 0 0 1 901.29 783.74L932.02 794.31A156.80 156.80 0 0 0 931.28 796.51Z" fill="#7fc6c1"/><path d="M870.48 773.39A221.80 221.80 0 0 1 871.57 770.29L887.00 775.84A205.40 205.40 0 0 0 885.99 778.71Z" fill="#bb7cbb"/><path d="M885.85 778.66A205.55 205.55 0 0 1 886.86 775.78L917.59 786.83A172.90 172.90 0 0 0 916.74 789.25Z" fill="#fffba8"/><path d="M916.60 789.20A173.05 173.05 0 0 1 917.45 786.78L932.74 792.27A156.80 156.80 0 0 0 931.97 794.46Z" fill="#7fc6c1"/><path d="M871.49 770.51A221.80 221.80 0 0 1 872.62 767.42L933.48 790.24A156.80 156.80 0 0 0 932.68 792.43Z" fill="#7fc6c1"/><path d="M872.54 767.64A221.80 221.80 0 0 1 874.85 761.73L935.06 786.22A156.80 156.80 0 0 0 933.43 790.40Z" fill="#fffba8"/><path d="M874.76 761.94A221.80 221.80 0 0 1 876.02 758.90L935.88 784.22A156.80 156.80 0 0 0 934.99 786.37Z" fill="#7fc6c1"/><path d="M875.93 759.12A221.80 221.80 0 0 1 877.23 756.10L892.24 762.69A205.40 205.40 0 0 0 891.04 765.49Z" fill="#fdb660"/><path d="M890.90 765.43A205.55 205.55 0 0 1 892.11 762.63L936.74 782.24A156.80 156.80 0 0 0 935.82 784.37Z" fill="#7fc6c1"/><path d="M877.13 756.31A221.80 221.80 0 0 1 878.48 753.31L886.01 756.74A213.53 213.53 0 0 0 884.71 759.63Z" fill="#fffba8"/><path d="M884.58 759.57A213.68 213.68 0 0 1 885.87 756.68L908.19 766.85A189.15 189.15 0 0 0 907.04 769.41Z" fill="#bb7cbb"/><path d="M906.90 769.35A189.30 189.30 0 0 1 908.05 766.79L915.58 770.22A181.03 181.03 0 0 0 914.48 772.67Z" fill="#fffba8"/><path d="M914.35 772.61A181.18 181.18 0 0 1 915.44 770.16L937.62 780.27A156.80 156.80 0 0 0 936.67 782.39Z" fill="#7fc6c1"/><path d="M878.38 753.52A221.80 221.80 0 0 1 879.76 750.54L909.28 764.49A189.15 189.15 0 0 0 908.10 767.03Z" fill="#fffba8"/><path d="M907.97 766.97A189.30 189.30 0 0 1 909.15 764.42L938.53 778.31A156.80 156.80 0 0 0 937.55 780.42Z" fill="#7fc6c1"/><path d="M879.66 750.75A221.80 221.80 0 0 1 881.09 747.78L939.47 776.36A156.80 156.80 0 0 0 938.46 778.46Z" fill="#7fc6c1"/><path d="M880.99 747.99A221.80 221.80 0 0 1 882.45 745.05L918.82 763.48A181.03 181.03 0 0 0 917.63 765.88Z" fill="#fffba8"/><path d="M917.49 765.81A181.18 181.18 0 0 1 918.69 763.41L940.43 774.43A156.80 156.80 0 0 0 939.40 776.51Z" fill="#7fc6c1"/><path d="M882.35 745.25A221.80 221.80 0 0 1 883.85 742.33L912.77 757.49A189.15 189.15 0 0 0 911.49 759.98Z" fill="#fffba8"/><path d="M911.35 759.91A189.30 189.30 0 0 1 912.64 757.42L941.42 772.51A156.80 156.80 0 0 0 940.36 774.57Z" fill="#7fc6c1"/><path d="M883.74 742.54A221.80 221.80 0 0 1 889.82 731.66L945.64 764.97A156.80 156.80 0 0 0 941.35 772.65Z" fill="#7fc6c1"/><path d="M889.70 731.86A221.80 221.80 0 0 1 893.02 726.46L947.91 761.29A156.80 156.80 0 0 0 945.56 765.11Z" fill="#fffba8"/><path d="M892.90 726.65A221.80 221.80 0 0 1 894.68 723.89L922.00 741.76A189.15 189.15 0 0 0 920.49 744.12Z" fill="#fffba8"/><path d="M920.36 744.04A189.30 189.30 0 0 1 921.88 741.68L949.08 759.47A156.80 156.80 0 0 0 947.82 761.42Z" fill="#7fc6c1"/><path d="M894.55 724.08A221.80 221.80 0 0 1 907.23 706.58L939.05 732.08A181.03 181.03 0 0 0 928.70 746.37Z" fill="#fffba8"/><path d="M928.57 746.29A181.18 181.18 0 0 1 938.93 731.99L957.95 747.23A156.80 156.80 0 0 0 948.99 759.61Z" fill="#7fc6c1"/><path d="M907.09 706.76A221.80 221.80 0 0 1 911.12 701.86L960.70 743.90A156.80 156.80 0 0 0 957.85 747.36Z" fill="#7fc6c1"/><path d="M910.97 702.04A221.80 221.80 0 0 1 913.12 699.54L937.73 721.00A189.15 189.15 0 0 0 935.90 723.13Z" fill="#fffba8"/><path d="M935.78 723.03A189.30 189.30 0 0 1 937.61 720.90L962.11 742.26A156.80 156.80 0 0 0 960.60 744.02Z" fill="#7fc6c1"/><path d="M912.96 699.72A221.80 221.80 0 0 1 915.14 697.26L939.45 719.05A189.15 189.15 0 0 0 937.60 721.15Z" fill="#d6d6d6"/><path d="M937.48 721.05A189.30 189.30 0 0 1 939.34 718.95L963.54 740.64A156.80 156.80 0 0 0 962.00 742.38Z" fill="#7fc6c1"/><path d="M914.98 697.43A221.80 221.80 0 0 1 917.20 694.99L964.99 739.04A156.80 156.80 0 0 0 963.43 740.76Z" fill="#fffba8"/><path d="M917.04 695.16A221.80 221.80 0 0 1 919.28 692.76L948.88 720.80A181.03 181.03 0 0 0 947.05 722.76Z" fill="#fffba8"/><path d="M946.94 722.66A181.18 181.18 0 0 1 948.77 720.70L966.47 737.46A156.80 156.80 0 0 0 964.88 739.16Z" fill="#7fc6c1"/><path d="M919.12 692.93A221.80 221.80 0 0 1 921.40 690.56L967.97 735.91A156.80 156.80 0 0 0 966.36 737.58Z" fill="#fffba8"/><path d="M921.24 690.72A221.80 221.80 0 0 1 925.72 686.24L954.14 715.48A181.03 181.03 0 0 0 950.48 719.14Z" fill="#fffba8"/><path d="M950.37 719.04A181.18 181.18 0 0 1 954.04 715.37L971.02 732.85A156.80 156.80 0 0 0 967.85 736.02Z" fill="#7fc6c1"/><path d="M925.56 686.40A221.80 221.80 0 0 1 930.16 682.04L974.16 729.88A156.80 156.80 0 0 0 970.91 732.97Z" fill="#fffba8"/><path d="M929.99 682.20A221.80 221.80 0 0 1 934.72 677.96L961.48 708.73A181.03 181.03 0 0 0 957.63 712.18Z" fill="#fffba8"/><path d="M957.52 712.07A181.18 181.18 0 0 1 961.38 708.61L977.38 727.00A156.80 156.80 0 0 0 974.04 729.99Z" fill="#7fc6c1"/><path d="M934.54 678.12A221.80 221.80 0 0 1 937.04 675.97L979.02 725.60A156.80 156.80 0 0 0 977.26 727.11Z" fill="#7fc6c1"/><path d="M936.86 676.12A221.80 221.80 0 0 1 941.76 672.09L982.36 722.85A156.80 156.80 0 0 0 978.90 725.70Z" fill="#fffba8"/><path d="M941.58 672.23A221.80 221.80 0 0 1 944.16 670.20L954.23 683.14A205.40 205.40 0 0 0 951.84 685.03Z" fill="#fffba8"/><path d="M951.74 684.91A205.55 205.55 0 0 1 954.13 683.03L974.17 708.80A172.90 172.90 0 0 0 972.16 710.39Z" fill="#d6d6d6"/><path d="M972.07 710.27A173.05 173.05 0 0 1 974.08 708.68L984.06 721.51A156.80 156.80 0 0 0 982.23 722.95Z" fill="#76a9d4"/><path d="M943.98 670.34A221.80 221.80 0 0 1 946.58 668.34L966.27 694.39A189.15 189.15 0 0 0 964.04 696.09Z" fill="#fffba8"/><path d="M963.95 695.98A189.30 189.30 0 0 1 966.18 694.27L985.77 720.20A156.80 156.80 0 0 0 983.93 721.61Z" fill="#7fc6c1"/><path d="M946.40 668.48A221.80 221.80 0 0 1 949.04 666.51L953.93 673.18A213.53 213.53 0 0 0 951.40 675.08Z" fill="#fffba8"/><path d="M951.30 674.96A213.68 213.68 0 0 1 953.84 673.06L963.55 686.28A197.28 197.28 0 0 0 961.21 688.03Z" fill="#d6d6d6"/><path d="M961.11 687.91A197.43 197.43 0 0 1 963.46 686.16L968.36 692.83A189.15 189.15 0 0 0 966.11 694.51Z" fill="#fffba8"/><path d="M966.02 694.39A189.30 189.30 0 0 1 968.27 692.71L987.50 718.91A156.80 156.80 0 0 0 985.64 720.30Z" fill="#7fc6c1"/><path d="M948.85 666.65A221.80 221.80 0 0 1 951.51 664.72L970.47 691.30A189.15 189.15 0 0 0 968.20 692.95Z" fill="#fffba8"/><path d="M968.11 692.83A189.30 189.30 0 0 1 970.38 691.18L989.25 717.64A156.80 156.80 0 0 0 987.37 719.00Z" fill="#7fc6c1"/><path d="M951.32 664.86A221.80 221.80 0 0 1 954.01 662.96L991.02 716.40A156.80 156.80 0 0 0 989.12 717.74Z" fill="#fffba8"/><path d="M953.82 663.10A221.80 221.80 0 0 1 956.54 661.24L970.22 681.59A197.28 197.28 0 0 0 967.81 683.24Z" fill="#d6d6d6"/><path d="M967.72 683.12A197.43 197.43 0 0 1 970.14 681.47L992.81 715.18A156.80 156.80 0 0 0 990.89 716.49Z" fill="#7fc6c1"/><path d="M956.34 661.37A221.80 221.80 0 0 1 959.08 659.55L972.49 680.09A197.28 197.28 0 0 0 970.05 681.71Z" fill="#fffba8"/><path d="M969.97 681.58A197.43 197.43 0 0 1 972.41 679.97L994.61 713.99A156.80 156.80 0 0 0 992.67 715.27Z" fill="#7fc6c1"/><path d="M958.89 659.68A221.80 221.80 0 0 1 961.65 657.90L996.42 712.82A156.80 156.80 0 0 0 994.47 714.08Z" fill="#d6d6d6"/><path d="M961.46 658.02A221.80 221.80 0 0 1 966.86 654.70L1000.11 710.56A156.80 156.80 0 0 0 996.29 712.91Z" fill="#7fc6c1"/><path d="M966.66 654.82A221.80 221.80 0 0 1 972.16 651.65L992.04 687.25A181.03 181.03 0 0 0 987.55 689.84Z" fill="#fffba8"/><path d="M987.48 689.71A181.18 181.18 0 0 1 991.97 687.12L1003.85 708.40A156.80 156.80 0 0 0 999.97 710.64Z" fill="#7fc6c1"/><path d="M971.96 651.76A221.80 221.80 0 0 1 982.99 645.99L997.31 675.33A189.15 189.15 0 0 0 987.90 680.25Z" fill="#fffba8"/><path d="M987.83 680.12A189.30 189.30 0 0 1 997.25 675.19L1011.51 704.40A156.80 156.80 0 0 0 1003.71 708.48Z" fill="#7fc6c1"/><path d="M982.78 646.09A221.80 221.80 0 0 1 991.31 642.13L1001.15 664.60A197.28 197.28 0 0 0 993.56 668.12Z" fill="#fffba8"/><path d="M993.50 667.98A197.43 197.43 0 0 1 1001.09 664.46L1017.39 701.67A156.80 156.80 0 0 0 1011.36 704.47Z" fill="#7fc6c1"/><path d="M991.10 642.23A221.80 221.80 0 0 1 994.12 640.93L1019.37 700.82A156.80 156.80 0 0 0 1017.24 701.74Z" fill="#7fc6c1"/><path d="M993.90 641.02A221.80 221.80 0 0 1 1005.51 636.49L1016.52 667.23A189.15 189.15 0 0 0 1006.62 671.09Z" fill="#fffba8"/><path d="M1006.56 670.95A189.30 189.30 0 0 1 1016.47 667.09L1027.43 697.68A156.80 156.80 0 0 0 1019.22 700.88Z" fill="#7fc6c1"/><path d="M1005.29 636.57A221.80 221.80 0 0 1 1008.39 635.48L1029.46 696.97A156.80 156.80 0 0 0 1027.27 697.74Z" fill="#fffba8"/><path d="M1008.17 635.56A221.80 221.80 0 0 1 1011.29 634.51L1021.45 665.54A189.15 189.15 0 0 0 1018.79 666.43Z" fill="#fffba8"/><path d="M1018.74 666.29A189.30 189.30 0 0 1 1021.40 665.40L1031.51 696.28A156.80 156.80 0 0 0 1029.31 697.02Z" fill="#7fc6c1"/><path d="M1011.07 634.58A221.80 221.80 0 0 1 1014.20 633.58L1023.93 664.74A189.15 189.15 0 0 0 1021.26 665.60Z" fill="#d6d6d6"/><path d="M1021.21 665.46A189.30 189.30 0 0 1 1023.89 664.60L1033.57 695.62A156.80 156.80 0 0 0 1031.36 696.33Z" fill="#7fc6c1"/><path d="M1013.98 633.65A221.80 221.80 0 0 1 1017.12 632.69L1035.64 695.00A156.80 156.80 0 0 0 1033.41 695.67Z" fill="#7fc6c1"/><path d="M1016.90 632.75A221.80 221.80 0 0 1 1023.01 631.03L1031.44 662.57A189.15 189.15 0 0 0 1026.23 664.04Z" fill="#fffba8"/><path d="M1026.19 663.90A189.30 189.30 0 0 1 1031.40 662.42L1039.80 693.82A156.80 156.80 0 0 0 1035.48 695.04Z" fill="#7fc6c1"/><path d="M1022.78 631.09A221.80 221.80 0 0 1 1025.96 630.26L1029.98 646.16A205.40 205.40 0 0 0 1027.03 646.93Z" fill="#bb7cbb"/><path d="M1027.00 646.78A205.55 205.55 0 0 1 1029.94 646.01L1033.96 661.91A189.15 189.15 0 0 0 1031.25 662.62Z" fill="#fffba8"/><path d="M1031.21 662.48A189.30 189.30 0 0 1 1033.93 661.77L1041.89 693.28A156.80 156.80 0 0 0 1039.64 693.86Z" fill="#7fc6c1"/><path d="M1025.74 630.32A221.80 221.80 0 0 1 1028.93 629.53L1038.38 669.20A181.03 181.03 0 0 0 1035.77 669.84Z" fill="#fffba8"/><path d="M1035.73 669.69A181.18 181.18 0 0 1 1038.34 669.05L1043.99 692.76A156.80 156.80 0 0 0 1041.73 693.32Z" fill="#7fc6c1"/><path d="M1028.71 629.58A221.80 221.80 0 0 1 1031.91 628.84L1035.49 644.85A205.40 205.40 0 0 0 1032.52 645.53Z" fill="#fffba8"/><path d="M1032.49 645.39A205.55 205.55 0 0 1 1035.46 644.70L1040.81 668.64A181.03 181.03 0 0 0 1038.19 669.24Z" fill="#bb7cbb"/><path d="M1038.16 669.09A181.18 181.18 0 0 1 1040.77 668.49L1044.35 684.49A164.78 164.78 0 0 0 1041.97 685.04Z" fill="#76a9d4"/><path d="M1041.94 684.90A164.93 164.93 0 0 1 1044.32 684.35L1046.09 692.28A156.80 156.80 0 0 0 1043.83 692.80Z" fill="#7fc6c1"/><path d="M1031.68 628.89A221.80 221.80 0 0 1 1034.90 628.20L1036.59 636.30A213.53 213.53 0 0 0 1033.50 636.97Z" fill="#fffba8"/><path d="M1033.46 636.82A213.68 213.68 0 0 1 1036.56 636.15L1041.58 660.16A189.15 189.15 0 0 0 1038.84 660.75Z" fill="#76a9d4"/><path d="M1038.81 660.60A189.30 189.30 0 0 1 1041.55 660.01L1044.91 676.06A172.90 172.90 0 0 0 1042.40 676.60Z" fill="#bb7cbb"/><path d="M1042.37 676.46A173.05 173.05 0 0 1 1044.88 675.91L1048.20 691.82A156.80 156.80 0 0 0 1045.93 692.31Z" fill="#7fc6c1"/><path d="M1034.67 628.24A221.80 221.80 0 0 1 1037.89 627.59L1045.69 667.61A181.03 181.03 0 0 0 1043.06 668.15Z" fill="#fffba8"/><path d="M1043.03 668.00A181.18 181.18 0 0 1 1045.66 667.47L1050.32 691.39A156.80 156.80 0 0 0 1048.04 691.85Z" fill="#7fc6c1"/><path d="M1037.66 627.64A221.80 221.80 0 0 1 1040.90 627.03L1052.44 690.99A156.80 156.80 0 0 0 1050.16 691.42Z" fill="#76a9d4"/><path d="M1040.67 627.07A221.80 221.80 0 0 1 1043.91 626.51L1046.60 642.68A205.40 205.40 0 0 0 1043.60 643.21Z" fill="#7fc6c1"/><path d="M1043.57 643.06A205.55 205.55 0 0 1 1046.57 642.54L1050.60 666.73A181.03 181.03 0 0 0 1047.95 667.19Z" fill="#d6d6d6"/><path d="M1047.93 667.04A181.18 181.18 0 0 1 1050.57 666.58L1054.57 690.63A156.80 156.80 0 0 0 1052.28 691.02Z" fill="#fffba8"/><path d="M1043.68 626.54A221.80 221.80 0 0 1 1049.95 625.59L1055.53 665.98A181.03 181.03 0 0 0 1050.41 666.76Z" fill="#fffba8"/><path d="M1050.39 666.61A181.18 181.18 0 0 1 1055.51 665.83L1058.84 689.97A156.80 156.80 0 0 0 1054.41 690.65Z" fill="#7fc6c1"/><path d="M1049.72 625.62A221.80 221.80 0 0 1 1052.98 625.19L1055.00 641.46A205.40 205.40 0 0 0 1051.98 641.86Z" fill="#fffba8"/><path d="M1051.96 641.71A205.55 205.55 0 0 1 1054.98 641.32L1059.00 673.72A172.90 172.90 0 0 0 1056.46 674.05Z" fill="#d6d6d6"/><path d="M1056.44 673.90A173.05 173.05 0 0 1 1058.98 673.57L1060.99 689.69A156.80 156.80 0 0 0 1058.68 690.00Z" fill="#7fc6c1"/><path d="M1052.75 625.22A221.80 221.80 0 0 1 1056.02 624.83L1056.92 633.06A213.53 213.53 0 0 0 1053.78 633.43Z" fill="#fffba8"/><path d="M1053.76 633.28A213.68 213.68 0 0 1 1056.91 632.91L1058.70 649.21A197.28 197.28 0 0 0 1055.80 649.55Z" fill="#fdb660"/><path d="M1055.78 649.40A197.43 197.43 0 0 1 1058.68 649.06L1061.37 673.44A172.90 172.90 0 0 0 1058.82 673.74Z" fill="#fffba8"/><path d="M1058.81 673.59A173.05 173.05 0 0 1 1061.35 673.29L1063.13 689.44A156.80 156.80 0 0 0 1060.82 689.71Z" fill="#7fc6c1"/><path d="M1055.78 624.86A221.80 221.80 0 0 1 1059.06 624.52L1062.18 657.02A189.15 189.15 0 0 0 1059.39 657.31Z" fill="#d6d6d6"/><path d="M1059.38 657.16A189.30 189.30 0 0 1 1062.17 656.87L1062.96 665.11A181.03 181.03 0 0 0 1060.29 665.38Z" fill="#fffba8"/><path d="M1060.27 665.24A181.18 181.18 0 0 1 1062.95 664.96L1065.28 689.22A156.80 156.80 0 0 0 1062.97 689.46Z" fill="#7fc6c1"/><path d="M1058.82 624.54A221.80 221.80 0 0 1 1062.10 624.25L1066.11 672.98A172.90 172.90 0 0 0 1063.56 673.21Z" fill="#fffba8"/><path d="M1063.54 673.06A173.05 173.05 0 0 1 1066.10 672.83L1067.43 689.03A156.80 156.80 0 0 0 1065.12 689.24Z" fill="#7fc6c1"/><path d="M1061.87 624.27A221.80 221.80 0 0 1 1065.15 624.02L1065.71 632.27A213.53 213.53 0 0 0 1062.56 632.51Z" fill="#fffba8"/><path d="M1062.54 632.36A213.68 213.68 0 0 1 1065.70 632.12L1069.04 680.91A164.78 164.78 0 0 0 1066.61 681.09Z" fill="#d6d6d6"/><path d="M1066.59 680.95A164.93 164.93 0 0 1 1069.03 680.76L1069.59 688.87A156.80 156.80 0 0 0 1067.27 689.04Z" fill="#7fc6c1"/><path d="M1064.92 624.03A221.80 221.80 0 0 1 1068.20 623.83L1069.09 640.21A205.40 205.40 0 0 0 1066.05 640.39Z" fill="#d6d6d6"/><path d="M1066.04 640.25A205.55 205.55 0 0 1 1069.08 640.06L1069.54 648.32A197.28 197.28 0 0 0 1066.62 648.50Z" fill="#fffba8"/><path d="M1066.61 648.35A197.43 197.43 0 0 1 1069.53 648.17L1071.74 688.73A156.80 156.80 0 0 0 1069.42 688.88Z" fill="#7fc6c1"/><path d="M1067.97 623.84A221.80 221.80 0 0 1 1071.25 623.68L1072.25 648.19A197.28 197.28 0 0 0 1069.33 648.33Z" fill="#fffba8"/><path d="M1069.32 648.18A197.43 197.43 0 0 1 1072.24 648.04L1073.90 688.63A156.80 156.80 0 0 0 1071.58 688.74Z" fill="#7fc6c1"/><path d="M1071.02 623.69A221.80 221.80 0 0 1 1074.30 623.58L1074.53 631.85A213.53 213.53 0 0 0 1071.36 631.96Z" fill="#fffba8"/><path d="M1071.36 631.81A213.68 213.68 0 0 1 1074.52 631.70L1074.97 648.10A197.28 197.28 0 0 0 1072.04 648.20Z" fill="#d6d6d6"/><path d="M1072.04 648.05A197.43 197.43 0 0 1 1074.96 647.95L1076.06 688.56A156.80 156.80 0 0 0 1073.74 688.64Z" fill="#fffba8"/><path d="M1074.07 623.59A221.80 221.80 0 0 1 1077.36 623.52L1077.79 656.17A189.15 189.15 0 0 0 1074.99 656.22Z" fill="#d6d6d6"/><path d="M1074.98 656.07A189.30 189.30 0 0 1 1077.79 656.02L1078.22 688.51A156.80 156.80 0 0 0 1075.90 688.56Z" fill="#fffba8"/><path d="M1077.13 623.52A221.80 221.80 0 0 1 1080.42 623.50L1080.39 664.28A181.03 181.03 0 0 0 1077.71 664.29Z" fill="#fffba8"/><path d="M1077.71 664.14A181.18 181.18 0 0 1 1080.39 664.13L1080.38 688.50A156.80 156.80 0 0 0 1078.06 688.52Z" fill="#7fc6c1"/></g>
<g transform="translate(1080.30 0) scale(0.9775 1) translate(-1080.30 0)"><path d="M1080.02 713.10A132.20 132.20 0 0 1 1082.88 713.13L1082.40 737.72A107.60 107.60 0 0 0 1080.07 737.70Z" fill="#bccbfb"/><path d="M1082.33 713.12A132.20 132.20 0 0 1 1085.19 713.19L1084.28 737.77A107.60 107.60 0 0 0 1081.95 737.71Z" fill="#bccbfb"/><path d="M1084.64 713.17A132.20 132.20 0 0 1 1087.50 713.30L1086.16 737.86A107.60 107.60 0 0 0 1083.83 737.76Z" fill="#d6defd"/><path d="M1086.94 713.27A132.20 132.20 0 0 1 1089.80 713.44L1088.03 737.98A107.60 107.60 0 0 0 1085.71 737.84Z" fill="#d6defd"/><path d="M1089.25 713.40A132.20 132.20 0 0 1 1092.10 713.63L1089.90 738.13A107.60 107.60 0 0 0 1087.58 737.95Z" fill="#d6defd"/><path d="M1091.55 713.58A132.20 132.20 0 0 1 1094.39 713.85L1091.77 738.31A107.60 107.60 0 0 0 1089.45 738.09Z" fill="#d6defd"/><path d="M1093.84 713.80A132.20 132.20 0 0 1 1096.69 714.12L1093.64 738.53A107.60 107.60 0 0 0 1091.32 738.27Z" fill="#d6defd"/><path d="M1096.14 714.05A132.20 132.20 0 0 1 1098.97 714.43L1095.50 738.78A107.60 107.60 0 0 0 1093.19 738.47Z" fill="#d6defd"/><path d="M1098.42 714.35A132.20 132.20 0 0 1 1101.25 714.77L1097.35 739.06A107.60 107.60 0 0 0 1095.05 738.72Z" fill="#d6defd"/><path d="M1100.71 714.68A132.20 132.20 0 0 1 1103.53 715.16L1099.21 739.37A107.60 107.60 0 0 0 1096.91 738.99Z" fill="#d6defd"/><path d="M1102.98 715.06A132.20 132.20 0 0 1 1105.80 715.58L1101.05 739.72A107.60 107.60 0 0 0 1098.76 739.30Z" fill="#d6defd"/><path d="M1105.25 715.48A132.20 132.20 0 0 1 1108.06 716.05L1102.89 740.10A107.60 107.60 0 0 0 1100.61 739.63Z" fill="#d6defd"/><path d="M1107.52 715.93A132.20 132.20 0 0 1 1110.31 716.55L1104.72 740.51A107.60 107.60 0 0 0 1102.45 740.00Z" fill="#d6defd"/><path d="M1109.77 716.43A132.20 132.20 0 0 1 1112.55 717.09L1106.55 740.95A107.60 107.60 0 0 0 1104.29 740.41Z" fill="#d6defd"/><path d="M1112.01 716.96A132.20 132.20 0 0 1 1114.78 717.68L1108.37 741.42A107.60 107.60 0 0 0 1106.11 740.84Z" fill="#d6defd"/><path d="M1114.25 717.53A132.20 132.20 0 0 1 1117.01 718.30L1110.18 741.93A107.60 107.60 0 0 0 1107.93 741.31Z" fill="#d6defd"/><path d="M1116.47 718.15A132.20 132.20 0 0 1 1119.22 718.96L1111.97 742.47A107.60 107.60 0 0 0 1109.74 741.81Z" fill="#d6defd"/><path d="M1118.69 718.80A132.20 132.20 0 0 1 1121.42 719.66L1113.76 743.04A107.60 107.60 0 0 0 1111.54 742.34Z" fill="#d6defd"/><path d="M1120.89 719.49A132.20 132.20 0 0 1 1123.60 720.39L1115.54 743.64A107.60 107.60 0 0 0 1113.34 742.90Z" fill="#d6defd"/><path d="M1123.08 720.21A132.20 132.20 0 0 1 1125.78 721.17L1117.31 744.27A107.60 107.60 0 0 0 1115.12 743.49Z" fill="#d6defd"/><path d="M1125.25 720.98A132.20 132.20 0 0 1 1127.93 721.98L1119.07 744.93A107.60 107.60 0 0 0 1116.89 744.11Z" fill="#d6defd"/><path d="M1127.42 721.78A132.20 132.20 0 0 1 1130.08 722.83L1120.82 745.62A107.60 107.60 0 0 0 1118.65 744.77Z" fill="#d6defd"/><path d="M1129.57 722.62A132.20 132.20 0 0 1 1132.21 723.72L1122.55 746.34A107.60 107.60 0 0 0 1120.40 745.45Z" fill="#d6defd"/><path d="M1131.70 723.50A132.20 132.20 0 0 1 1134.32 724.64L1124.27 747.09A107.60 107.60 0 0 0 1122.14 746.17Z" fill="#d6defd"/><path d="M1133.82 724.42A132.20 132.20 0 0 1 1136.42 725.60L1125.98 747.88A107.60 107.60 0 0 0 1123.86 746.91Z" fill="#d6defd"/><path d="M1135.92 725.37A132.20 132.20 0 0 1 1138.50 726.60L1127.67 748.69A107.60 107.60 0 0 0 1125.57 747.69Z" fill="#d6defd"/><path d="M1138.00 726.36A132.20 132.20 0 0 1 1140.56 727.63L1129.35 749.53A107.60 107.60 0 0 0 1127.27 748.49Z" fill="#d6defd"/><path d="M1140.07 727.38A132.20 132.20 0 0 1 1142.61 728.70L1131.01 750.40A107.60 107.60 0 0 0 1128.95 749.33Z" fill="#d6defd"/><path d="M1142.12 728.44A132.20 132.20 0 0 1 1144.63 729.81L1132.66 751.30A107.60 107.60 0 0 0 1130.62 750.19Z" fill="#d6defd"/><path d="M1144.15 729.54A132.20 132.20 0 0 1 1146.64 730.95L1134.30 752.23A107.60 107.60 0 0 0 1132.27 751.08Z" fill="#d6defd"/><path d="M1146.16 730.67A132.20 132.20 0 0 1 1148.63 732.13L1135.91 753.19A107.60 107.60 0 0 0 1133.90 752.00Z" fill="#d6defd"/><path d="M1148.15 731.84A132.20 132.20 0 0 1 1150.59 733.34L1137.51 754.17A107.60 107.60 0 0 0 1135.52 752.95Z" fill="#d6defd"/><path d="M1150.12 733.04A132.20 132.20 0 0 1 1152.53 734.58L1139.09 755.18A107.60 107.60 0 0 0 1137.13 753.93Z" fill="#d6defd"/><path d="M1152.07 734.28A132.20 132.20 0 0 1 1154.45 735.86L1140.66 756.22A107.60 107.60 0 0 0 1138.71 754.94Z" fill="#d6defd"/><path d="M1154.00 735.55A132.20 132.20 0 0 1 1156.35 737.17L1142.20 757.29A107.60 107.60 0 0 0 1140.28 755.97Z" fill="#d6defd"/><path d="M1155.90 736.85A132.20 132.20 0 0 1 1158.23 738.51L1143.73 758.38A107.60 107.60 0 0 0 1141.83 757.03Z" fill="#d6defd"/><path d="M1157.78 738.19A132.20 132.20 0 0 1 1160.08 739.89L1145.24 759.50A107.60 107.60 0 0 0 1143.36 758.12Z" fill="#d6defd"/><path d="M1159.64 739.55A132.20 132.20 0 0 1 1161.91 741.30L1146.72 760.65A107.60 107.60 0 0 0 1144.88 759.23Z" fill="#d6defd"/><path d="M1161.47 740.95A132.20 132.20 0 0 1 1163.71 742.74L1148.19 761.82A107.60 107.60 0 0 0 1146.37 760.37Z" fill="#d6defd"/><path d="M1163.28 742.39A132.20 132.20 0 0 1 1165.49 744.21L1149.64 763.02A107.60 107.60 0 0 0 1147.84 761.54Z" fill="#d6defd"/><path d="M1165.06 743.85A132.20 132.20 0 0 1 1167.24 745.71L1151.06 764.24A107.60 107.60 0 0 0 1149.29 762.73Z" fill="#d6defd"/><path d="M1166.82 745.35A132.20 132.20 0 0 1 1168.96 747.24L1152.47 765.49A107.60 107.60 0 0 0 1150.72 763.95Z" fill="#d6defd"/><path d="M1168.55 746.87A132.20 132.20 0 0 1 1170.66 748.80L1153.85 766.76A107.60 107.60 0 0 0 1152.13 765.19Z" fill="#d6defd"/><path d="M1170.26 748.43A132.20 132.20 0 0 1 1172.33 750.40L1155.21 768.06A107.60 107.60 0 0 0 1153.52 766.45Z" fill="#d6defd"/><path d="M1171.93 750.01A132.20 132.20 0 0 1 1173.98 752.02L1156.54 769.37A107.60 107.60 0 0 0 1154.88 767.74Z" fill="#d6defd"/><path d="M1173.58 751.62A132.20 132.20 0 0 1 1175.59 753.67L1157.86 770.72A107.60 107.60 0 0 0 1156.23 769.06Z" fill="#d6defd"/><path d="M1175.20 753.27A132.20 132.20 0 0 1 1177.17 755.34L1159.15 772.08A107.60 107.60 0 0 0 1157.54 770.39Z" fill="#d6defd"/><path d="M1176.80 754.94A132.20 132.20 0 0 1 1178.73 757.05L1160.41 773.47A107.60 107.60 0 0 0 1158.84 771.75Z" fill="#d6defd"/><path d="M1178.36 756.64A132.20 132.20 0 0 1 1180.25 758.78L1161.65 774.88A107.60 107.60 0 0 0 1160.11 773.13Z" fill="#d5ddfc"/><path d="M1179.89 758.36A132.20 132.20 0 0 1 1181.75 760.54L1162.87 776.31A107.60 107.60 0 0 0 1161.36 774.54Z" fill="#d5ddfc"/><path d="M1181.39 760.11A132.20 132.20 0 0 1 1183.21 762.32L1164.06 777.76A107.60 107.60 0 0 0 1162.58 775.96Z" fill="#d5ddfc"/><path d="M1182.86 761.89A132.20 132.20 0 0 1 1184.65 764.13L1165.23 779.23A107.60 107.60 0 0 0 1163.78 777.41Z" fill="#d5ddfc"/><path d="M1184.30 763.69A132.20 132.20 0 0 1 1186.05 765.96L1166.37 780.72A107.60 107.60 0 0 0 1164.95 778.88Z" fill="#d5ddfc"/><path d="M1185.71 765.52A132.20 132.20 0 0 1 1187.41 767.82L1167.48 782.24A107.60 107.60 0 0 0 1166.10 780.36Z" fill="#d5ddfc"/><path d="M1187.09 767.37A132.20 132.20 0 0 1 1188.75 769.70L1168.57 783.77A107.60 107.60 0 0 0 1167.22 781.87Z" fill="#d5ddfc"/><path d="M1188.43 769.25A132.20 132.20 0 0 1 1190.05 771.60L1169.63 785.32A107.60 107.60 0 0 0 1168.31 783.40Z" fill="#d5ddfc"/><path d="M1189.74 771.15A132.20 132.20 0 0 1 1191.32 773.53L1170.66 786.89A107.60 107.60 0 0 0 1169.38 784.94Z" fill="#d5ddfc"/><path d="M1191.02 773.07A132.20 132.20 0 0 1 1192.56 775.48L1171.67 788.47A107.60 107.60 0 0 0 1170.42 786.51Z" fill="#d5ddfc"/><path d="M1192.26 775.01A132.20 132.20 0 0 1 1193.76 777.45L1172.65 790.08A107.60 107.60 0 0 0 1171.43 788.09Z" fill="#d5ddfc"/><path d="M1193.47 776.97A132.20 132.20 0 0 1 1194.93 779.44L1173.60 791.70A107.60 107.60 0 0 0 1172.41 789.69Z" fill="#d5ddfc"/><path d="M1194.65 778.96A132.20 132.20 0 0 1 1196.06 781.45L1174.52 793.33A107.60 107.60 0 0 0 1173.37 791.30Z" fill="#d5ddfc"/><path d="M1195.79 780.97A132.20 132.20 0 0 1 1197.16 783.48L1175.41 794.98A107.60 107.60 0 0 0 1174.30 792.94Z" fill="#d5ddfc"/><path d="M1196.90 782.99A132.20 132.20 0 0 1 1198.22 785.53L1176.27 796.65A107.60 107.60 0 0 0 1175.20 794.59Z" fill="#d5ddfc"/><path d="M1197.97 785.04A132.20 132.20 0 0 1 1199.24 787.60L1177.11 798.33A107.60 107.60 0 0 0 1176.07 796.25Z" fill="#d5ddfc"/><path d="M1199.00 787.10A132.20 132.20 0 0 1 1200.23 789.68L1177.91 800.03A107.60 107.60 0 0 0 1176.91 797.93Z" fill="#d5ddfc"/><path d="M1200.00 789.18A132.20 132.20 0 0 1 1201.18 791.78L1178.69 801.74A107.60 107.60 0 0 0 1177.72 799.62Z" fill="#d5ddfc"/><path d="M1200.96 791.28A132.20 132.20 0 0 1 1202.10 793.90L1179.43 803.46A107.60 107.60 0 0 0 1178.51 801.33Z" fill="#d5ddfc"/><path d="M1201.88 793.39A132.20 132.20 0 0 1 1202.98 796.03L1180.15 805.20A107.60 107.60 0 0 0 1179.26 803.05Z" fill="#d5ddfc"/><path d="M1202.77 795.52A132.20 132.20 0 0 1 1203.82 798.18L1180.83 806.95A107.60 107.60 0 0 0 1179.98 804.78Z" fill="#d5ddfc"/><path d="M1203.62 797.67A132.20 132.20 0 0 1 1204.62 800.35L1181.49 808.71A107.60 107.60 0 0 0 1180.67 806.53Z" fill="#d5ddfc"/><path d="M1204.43 799.82A132.20 132.20 0 0 1 1205.39 802.52L1182.11 810.48A107.60 107.60 0 0 0 1181.33 808.29Z" fill="#d5ddfc"/><path d="M1205.21 802.00A132.20 132.20 0 0 1 1206.11 804.71L1182.70 812.26A107.60 107.60 0 0 0 1181.96 810.06Z" fill="#d5ddfc"/><path d="M1205.94 804.18A132.20 132.20 0 0 1 1206.80 806.91L1183.26 814.06A107.60 107.60 0 0 0 1182.56 811.84Z" fill="#d5ddfc"/><path d="M1206.64 806.38A132.20 132.20 0 0 1 1207.45 809.13L1183.79 815.86A107.60 107.60 0 0 0 1183.13 813.63Z" fill="#d5ddfc"/><path d="M1207.30 808.59A132.20 132.20 0 0 1 1208.07 811.35L1184.29 817.67A107.60 107.60 0 0 0 1183.67 815.42Z" fill="#d5ddfc"/><path d="M1207.92 810.82A132.20 132.20 0 0 1 1208.64 813.59L1184.76 819.49A107.60 107.60 0 0 0 1184.18 817.23Z" fill="#d5ddfc"/><path d="M1208.51 813.05A132.20 132.20 0 0 1 1209.17 815.83L1185.19 821.31A107.60 107.60 0 0 0 1184.65 819.05Z" fill="#d5ddfc"/><path d="M1209.05 815.29A132.20 132.20 0 0 1 1209.67 818.08L1185.60 823.15A107.60 107.60 0 0 0 1185.09 820.88Z" fill="#d5ddfc"/><path d="M1209.55 817.54A132.20 132.20 0 0 1 1210.12 820.35L1185.97 824.99A107.60 107.60 0 0 0 1185.50 822.71Z" fill="#d5ddfc"/><path d="M1210.02 819.80A132.20 132.20 0 0 1 1210.54 822.62L1186.30 826.84A107.60 107.60 0 0 0 1185.88 824.55Z" fill="#d5ddfc"/><path d="M1210.44 822.07A132.20 132.20 0 0 1 1210.92 824.89L1186.61 828.69A107.60 107.60 0 0 0 1186.23 826.39Z" fill="#d5ddfc"/><path d="M1210.83 824.35A132.20 132.20 0 0 1 1211.25 827.18L1186.88 830.55A107.60 107.60 0 0 0 1186.54 828.25Z" fill="#d5ddfc"/><path d="M1211.17 826.63A132.20 132.20 0 0 1 1211.55 829.46L1187.13 832.41A107.60 107.60 0 0 0 1186.82 830.10Z" fill="#d5ddfc"/><path d="M1211.48 828.91A132.20 132.20 0 0 1 1211.80 831.76L1187.33 834.28A107.60 107.60 0 0 0 1187.07 831.96Z" fill="#d5ddfc"/><path d="M1211.75 831.21A132.20 132.20 0 0 1 1212.02 834.05L1187.51 836.15A107.60 107.60 0 0 0 1187.29 833.83Z" fill="#d5ddfc"/><path d="M1211.97 833.50A132.20 132.20 0 0 1 1212.20 836.35L1187.65 838.02A107.60 107.60 0 0 0 1187.47 835.70Z" fill="#d5ddfc"/><path d="M1212.16 835.80A132.20 132.20 0 0 1 1212.33 838.66L1187.76 839.89A107.60 107.60 0 0 0 1187.62 837.57Z" fill="#d5ddfc"/><path d="M1212.30 838.10A132.20 132.20 0 0 1 1212.43 840.96L1187.84 841.77A107.60 107.60 0 0 0 1187.74 839.44Z" fill="#d5ddfc"/><path d="M1212.41 840.41A132.20 132.20 0 0 1 1212.48 843.27L1187.89 843.65A107.60 107.60 0 0 0 1187.83 841.32Z" fill="#d5ddfc"/><path d="M1212.47 842.72A132.20 132.20 0 0 1 1212.50 845.58L1187.90 845.53A107.60 107.60 0 0 0 1187.88 843.20Z" fill="#d5ddfc"/><path d="M1212.50 845.02A132.20 132.20 0 0 1 1212.47 847.88L1187.88 847.40A107.60 107.60 0 0 0 1187.90 845.07Z" fill="#d5ddfc"/><path d="M1212.48 847.33A132.20 132.20 0 0 1 1212.41 850.19L1187.83 849.28A107.60 107.60 0 0 0 1187.89 846.95Z" fill="#d5ddfc"/><path d="M1212.43 849.64A132.20 132.20 0 0 1 1212.30 852.50L1187.74 851.16A107.60 107.60 0 0 0 1187.84 848.83Z" fill="#d5ddfc"/><path d="M1212.33 851.94A132.20 132.20 0 0 1 1212.16 854.80L1187.62 853.03A107.60 107.60 0 0 0 1187.76 850.71Z" fill="#c9d4fc"/><path d="M1212.20 854.25A132.20 132.20 0 0 1 1211.97 857.10L1187.47 854.90A107.60 107.60 0 0 0 1187.65 852.58Z" fill="#c9d4fc"/><path d="M1212.02 856.55A132.20 132.20 0 0 1 1211.75 859.39L1187.29 856.77A107.60 107.60 0 0 0 1187.51 854.45Z" fill="#c9d4fc"/><path d="M1211.80 858.84A132.20 132.20 0 0 1 1211.48 861.69L1187.07 858.64A107.60 107.60 0 0 0 1187.33 856.32Z" fill="#c9d4fc"/><path d="M1211.55 861.14A132.20 132.20 0 0 1 1211.17 863.97L1186.82 860.50A107.60 107.60 0 0 0 1187.13 858.19Z" fill="#c9d4fc"/><path d="M1211.25 863.42A132.20 132.20 0 0 1 1210.83 866.25L1186.54 862.35A107.60 107.60 0 0 0 1186.88 860.05Z" fill="#c9d4fc"/><path d="M1210.92 865.71A132.20 132.20 0 0 1 1210.44 868.53L1186.23 864.21A107.60 107.60 0 0 0 1186.61 861.91Z" fill="#c8d3fc"/><path d="M1210.54 867.98A132.20 132.20 0 0 1 1210.02 870.80L1185.88 866.05A107.60 107.60 0 0 0 1186.30 863.76Z" fill="#c8d3fc"/><path d="M1210.12 870.25A132.20 132.20 0 0 1 1209.55 873.06L1185.50 867.89A107.60 107.60 0 0 0 1185.97 865.61Z" fill="#c8d3fc"/><path d="M1209.67 872.52A132.20 132.20 0 0 1 1209.05 875.31L1185.09 869.72A107.60 107.60 0 0 0 1185.60 867.45Z" fill="#c8d3fc"/><path d="M1209.17 874.77A132.20 132.20 0 0 1 1208.51 877.55L1184.65 871.55A107.60 107.60 0 0 0 1185.19 869.29Z" fill="#c8d3fc"/><path d="M1208.64 877.01A132.20 132.20 0 0 1 1207.92 879.78L1184.18 873.37A107.60 107.60 0 0 0 1184.76 871.11Z" fill="#c8d3fc"/><path d="M1208.07 879.25A132.20 132.20 0 0 1 1207.30 882.01L1183.67 875.18A107.60 107.60 0 0 0 1184.29 872.93Z" fill="#c8d3fb"/><path d="M1207.45 881.47A132.20 132.20 0 0 1 1206.64 884.22L1183.13 876.97A107.60 107.60 0 0 0 1183.79 874.74Z" fill="#c8d3fb"/><path d="M1206.80 883.69A132.20 132.20 0 0 1 1205.94 886.42L1182.56 878.76A107.60 107.60 0 0 0 1183.26 876.54Z" fill="#c8d3fb"/><path d="M1206.11 885.89A132.20 132.20 0 0 1 1205.21 888.60L1181.96 880.54A107.60 107.60 0 0 0 1182.70 878.34Z" fill="#c8d3fb"/><path d="M1205.39 888.08A132.20 132.20 0 0 1 1204.43 890.78L1181.33 882.31A107.60 107.60 0 0 0 1182.11 880.12Z" fill="#c8d3fb"/><path d="M1204.62 890.25A132.20 132.20 0 0 1 1203.62 892.93L1180.67 884.07A107.60 107.60 0 0 0 1181.49 881.89Z" fill="#c8d3fb"/><path d="M1203.82 892.42A132.20 132.20 0 0 1 1202.77 895.08L1179.98 885.82A107.60 107.60 0 0 0 1180.83 883.65Z" fill="#c7d2fb"/><path d="M1202.98 894.57A132.20 132.20 0 0 1 1201.88 897.21L1179.26 887.55A107.60 107.60 0 0 0 1180.15 885.40Z" fill="#c7d2fb"/><path d="M1202.10 896.70A132.20 132.20 0 0 1 1200.96 899.32L1178.51 889.27A107.60 107.60 0 0 0 1179.43 887.14Z" fill="#c7d2fb"/><path d="M1201.18 898.82A132.20 132.20 0 0 1 1200.00 901.42L1177.72 890.98A107.60 107.60 0 0 0 1178.69 888.86Z" fill="#c7d2fb"/><path d="M1200.23 900.92A132.20 132.20 0 0 1 1199.00 903.50L1176.91 892.67A107.60 107.60 0 0 0 1177.91 890.57Z" fill="#c7d2fb"/><path d="M1199.24 903.00A132.20 132.20 0 0 1 1197.97 905.56L1176.07 894.35A107.60 107.60 0 0 0 1177.11 892.27Z" fill="#c7d2fb"/><path d="M1198.22 905.07A132.20 132.20 0 0 1 1196.90 907.61L1175.20 896.01A107.60 107.60 0 0 0 1176.27 893.95Z" fill="#fdb9a6"/><path d="M1197.16 907.12A132.20 132.20 0 0 1 1195.79 909.63L1174.30 897.66A107.60 107.60 0 0 0 1175.41 895.62Z" fill="#fdb9a6"/><path d="M1196.06 909.15A132.20 132.20 0 0 1 1194.65 911.64L1173.37 899.30A107.60 107.60 0 0 0 1174.52 897.27Z" fill="#fdb9a7"/><path d="M1194.93 911.16A132.20 132.20 0 0 1 1193.47 913.63L1172.41 900.91A107.60 107.60 0 0 0 1173.60 898.90Z" fill="#fdbaa7"/><path d="M1193.76 913.15A132.20 132.20 0 0 1 1192.26 915.59L1171.43 902.51A107.60 107.60 0 0 0 1172.65 900.52Z" fill="#fdbaa7"/><path d="M1192.56 915.12A132.20 132.20 0 0 1 1191.02 917.53L1170.42 904.09A107.60 107.60 0 0 0 1171.67 902.13Z" fill="#fdbaa7"/><path d="M1191.32 917.07A132.20 132.20 0 0 1 1189.74 919.45L1169.38 905.66A107.60 107.60 0 0 0 1170.66 903.71Z" fill="#fdbaa7"/><path d="M1190.05 919.00A132.20 132.20 0 0 1 1188.43 921.35L1168.31 907.20A107.60 107.60 0 0 0 1169.63 905.28Z" fill="#fdbaa8"/><path d="M1188.75 920.90A132.20 132.20 0 0 1 1187.09 923.23L1167.22 908.73A107.60 107.60 0 0 0 1168.57 906.83Z" fill="#fdbba8"/><path d="M1187.41 922.78A132.20 132.20 0 0 1 1185.71 925.08L1166.10 910.24A107.60 107.60 0 0 0 1167.48 908.36Z" fill="#fdbba8"/><path d="M1186.05 924.64A132.20 132.20 0 0 1 1184.30 926.91L1164.95 911.72A107.60 107.60 0 0 0 1166.37 909.88Z" fill="#fdbba8"/><path d="M1184.65 926.47A132.20 132.20 0 0 1 1182.86 928.71L1163.78 913.19A107.60 107.60 0 0 0 1165.23 911.37Z" fill="#fdbba9"/><path d="M1183.21 928.28A132.20 132.20 0 0 1 1181.39 930.49L1162.58 914.64A107.60 107.60 0 0 0 1164.06 912.84Z" fill="#fdbba9"/><path d="M1181.75 930.06A132.20 132.20 0 0 1 1179.89 932.24L1161.36 916.06A107.60 107.60 0 0 0 1162.87 914.29Z" fill="#fdbca9"/><path d="M1180.25 931.82A132.20 132.20 0 0 1 1178.36 933.96L1160.11 917.47A107.60 107.60 0 0 0 1161.65 915.72Z" fill="#fdbca9"/><path d="M1178.73 933.55A132.20 132.20 0 0 1 1176.80 935.66L1158.84 918.85A107.60 107.60 0 0 0 1160.41 917.13Z" fill="#fdbcaa"/><path d="M1177.17 935.26A132.20 132.20 0 0 1 1175.20 937.33L1157.54 920.21A107.60 107.60 0 0 0 1159.15 918.52Z" fill="#fdbcaa"/><path d="M1175.59 936.93A132.20 132.20 0 0 1 1173.58 938.98L1156.23 921.54A107.60 107.60 0 0 0 1157.86 919.88Z" fill="#fdbcaa"/><path d="M1173.98 938.58A132.20 132.20 0 0 1 1171.93 940.59L1154.88 922.86A107.60 107.60 0 0 0 1156.54 921.23Z" fill="#fdbdaa"/><path d="M1172.33 940.20A132.20 132.20 0 0 1 1170.26 942.17L1153.52 924.15A107.60 107.60 0 0 0 1155.21 922.54Z" fill="#fdbdaa"/><path d="M1170.66 941.80A132.20 132.20 0 0 1 1168.55 943.73L1152.13 925.41A107.60 107.60 0 0 0 1153.85 923.84Z" fill="#fdbdab"/><path d="M1168.96 943.36A132.20 132.20 0 0 1 1166.82 945.25L1150.72 926.65A107.60 107.60 0 0 0 1152.47 925.11Z" fill="#fdbdab"/><path d="M1167.24 944.89A132.20 132.20 0 0 1 1165.06 946.75L1149.29 927.87A107.60 107.60 0 0 0 1151.06 926.36Z" fill="#fdbdab"/><path d="M1165.49 946.39A132.20 132.20 0 0 1 1163.28 948.21L1147.84 929.06A107.60 107.60 0 0 0 1149.64 927.58Z" fill="#fdbeab"/><path d="M1163.71 947.86A132.20 132.20 0 0 1 1161.47 949.65L1146.37 930.23A107.60 107.60 0 0 0 1148.19 928.78Z" fill="#fdbeac"/><path d="M1161.91 949.30A132.20 132.20 0 0 1 1159.64 951.05L1144.88 931.37A107.60 107.60 0 0 0 1146.72 929.95Z" fill="#fdbeac"/><path d="M1160.08 950.71A132.20 132.20 0 0 1 1157.78 952.41L1143.36 932.48A107.60 107.60 0 0 0 1145.24 931.10Z" fill="#fdbeac"/><path d="M1158.23 952.09A132.20 132.20 0 0 1 1155.90 953.75L1141.83 933.57A107.60 107.60 0 0 0 1143.73 932.22Z" fill="#fdbeac"/><path d="M1156.35 953.43A132.20 132.20 0 0 1 1154.00 955.05L1140.28 934.63A107.60 107.60 0 0 0 1142.20 933.31Z" fill="#fdbfac"/><path d="M1154.45 954.74A132.20 132.20 0 0 1 1152.07 956.32L1138.71 935.66A107.60 107.60 0 0 0 1140.66 934.38Z" fill="#fdbfad"/><path d="M1152.53 956.02A132.20 132.20 0 0 1 1150.12 957.56L1137.13 936.67A107.60 107.60 0 0 0 1139.09 935.42Z" fill="#fdbfad"/><path d="M1150.59 957.26A132.20 132.20 0 0 1 1148.15 958.76L1135.52 937.65A107.60 107.60 0 0 0 1137.51 936.43Z" fill="#fed6ca"/><path d="M1148.63 958.47A132.20 132.20 0 0 1 1146.16 959.93L1133.90 938.60A107.60 107.60 0 0 0 1135.91 937.41Z" fill="#fed6ca"/><path d="M1146.64 959.65A132.20 132.20 0 0 1 1144.15 961.06L1132.27 939.52A107.60 107.60 0 0 0 1134.30 938.37Z" fill="#fed6ca"/><path d="M1144.63 960.79A132.20 132.20 0 0 1 1142.12 962.16L1130.62 940.41A107.60 107.60 0 0 0 1132.66 939.30Z" fill="#fed6ca"/><path d="M1142.61 961.90A132.20 132.20 0 0 1 1140.07 963.22L1128.95 941.27A107.60 107.60 0 0 0 1131.01 940.20Z" fill="#fed6ca"/><path d="M1140.56 962.97A132.20 132.20 0 0 1 1138.00 964.24L1127.27 942.11A107.60 107.60 0 0 0 1129.35 941.07Z" fill="#fed6ca"/><path d="M1138.50 964.00A132.20 132.20 0 0 1 1135.92 965.23L1125.57 942.91A107.60 107.60 0 0 0 1127.67 941.91Z" fill="#fed6ca"/><path d="M1136.42 965.00A132.20 132.20 0 0 1 1133.82 966.18L1123.86 943.69A107.60 107.60 0 0 0 1125.98 942.72Z" fill="#fed6ca"/><path d="M1134.32 965.96A132.20 132.20 0 0 1 1131.70 967.10L1122.14 944.43A107.60 107.60 0 0 0 1124.27 943.51Z" fill="#fed6ca"/><path d="M1132.21 966.88A132.20 132.20 0 0 1 1129.57 967.98L1120.40 945.15A107.60 107.60 0 0 0 1122.55 944.26Z" fill="#fed6ca"/><path d="M1130.08 967.77A132.20 132.20 0 0 1 1127.42 968.82L1118.65 945.83A107.60 107.60 0 0 0 1120.82 944.98Z" fill="#fed6ca"/><path d="M1127.93 968.62A132.20 132.20 0 0 1 1125.25 969.62L1116.89 946.49A107.60 107.60 0 0 0 1119.07 945.67Z" fill="#fed6ca"/><path d="M1125.78 969.43A132.20 132.20 0 0 1 1123.08 970.39L1115.12 947.11A107.60 107.60 0 0 0 1117.31 946.33Z" fill="#fed6ca"/><path d="M1123.60 970.21A132.20 132.20 0 0 1 1120.89 971.11L1113.34 947.70A107.60 107.60 0 0 0 1115.54 946.96Z" fill="#fed5c9"/><path d="M1121.42 970.94A132.20 132.20 0 0 1 1118.69 971.80L1111.54 948.26A107.60 107.60 0 0 0 1113.76 947.56Z" fill="#fed5c9"/><path d="M1119.22 971.64A132.20 132.20 0 0 1 1116.47 972.45L1109.74 948.79A107.60 107.60 0 0 0 1111.97 948.13Z" fill="#fed5c9"/><path d="M1117.01 972.30A132.20 132.20 0 0 1 1114.25 973.07L1107.93 949.29A107.60 107.60 0 0 0 1110.18 948.67Z" fill="#fed5c9"/><path d="M1114.78 972.92A132.20 132.20 0 0 1 1112.01 973.64L1106.11 949.76A107.60 107.60 0 0 0 1108.37 949.18Z" fill="#fed5c9"/><path d="M1112.55 973.51A132.20 132.20 0 0 1 1109.77 974.17L1104.29 950.19A107.60 107.60 0 0 0 1106.55 949.65Z" fill="#fed5c9"/><path d="M1110.31 974.05A132.20 132.20 0 0 1 1107.52 974.67L1102.45 950.60A107.60 107.60 0 0 0 1104.72 950.09Z" fill="#fed5c9"/><path d="M1108.06 974.55A132.20 132.20 0 0 1 1105.25 975.12L1100.61 950.97A107.60 107.60 0 0 0 1102.89 950.50Z" fill="#fed5c9"/><path d="M1105.80 975.02A132.20 132.20 0 0 1 1102.98 975.54L1098.76 951.30A107.60 107.60 0 0 0 1101.05 950.88Z" fill="#fed5c9"/><path d="M1103.53 975.44A132.20 132.20 0 0 1 1100.71 975.92L1096.91 951.61A107.60 107.60 0 0 0 1099.21 951.23Z" fill="#fed5c9"/><path d="M1101.25 975.83A132.20 132.20 0 0 1 1098.42 976.25L1095.05 951.88A107.60 107.60 0 0 0 1097.35 951.54Z" fill="#fed5c9"/><path d="M1098.97 976.17A132.20 132.20 0 0 1 1096.14 976.55L1093.19 952.13A107.60 107.60 0 0 0 1095.50 951.82Z" fill="#fed5c9"/><path d="M1096.69 976.48A132.20 132.20 0 0 1 1093.84 976.80L1091.32 952.33A107.60 107.60 0 0 0 1093.64 952.07Z" fill="#fed5c9"/><path d="M1094.39 976.75A132.20 132.20 0 0 1 1091.55 977.02L1089.45 952.51A107.60 107.60 0 0 0 1091.77 952.29Z" fill="#fed5c9"/><path d="M1092.10 976.97A132.20 132.20 0 0 1 1089.25 977.20L1087.58 952.65A107.60 107.60 0 0 0 1089.90 952.47Z" fill="#fed5c9"/><path d="M1089.80 977.16A132.20 132.20 0 0 1 1086.94 977.33L1085.71 952.76A107.60 107.60 0 0 0 1088.03 952.62Z" fill="#fed5c9"/><path d="M1087.50 977.30A132.20 132.20 0 0 1 1084.64 977.43L1083.83 952.84A107.60 107.60 0 0 0 1086.16 952.74Z" fill="#fed5c9"/><path d="M1085.19 977.41A132.20 132.20 0 0 1 1082.33 977.48L1081.95 952.89A107.60 107.60 0 0 0 1084.28 952.83Z" fill="#fed5c9"/><path d="M1082.88 977.47A132.20 132.20 0 0 1 1080.02 977.50L1080.07 952.90A107.60 107.60 0 0 0 1082.40 952.88Z" fill="#fed5c9"/><path d="M1080.58 977.50A132.20 132.20 0 0 1 1077.72 977.47L1078.20 952.88A107.60 107.60 0 0 0 1080.53 952.90Z" fill="#fed5c9"/><path d="M1078.27 977.48A132.20 132.20 0 0 1 1075.41 977.41L1076.32 952.83A107.60 107.60 0 0 0 1078.65 952.89Z" fill="#fed5c9"/><path d="M1075.96 977.43A132.20 132.20 0 0 1 1073.10 977.30L1074.44 952.74A107.60 107.60 0 0 0 1076.77 952.84Z" fill="#fed5c9"/><path d="M1073.66 977.33A132.20 132.20 0 0 1 1070.80 977.16L1072.57 952.62A107.60 107.60 0 0 0 1074.89 952.76Z" fill="#fed5c9"/><path d="M1071.35 977.20A132.20 132.20 0 0 1 1068.50 976.97L1070.70 952.47A107.60 107.60 0 0 0 1073.02 952.65Z" fill="#fed5c9"/><path d="M1069.05 977.02A132.20 132.20 0 0 1 1066.21 976.75L1068.83 952.29A107.60 107.60 0 0 0 1071.15 952.51Z" fill="#fed5c9"/><path d="M1066.76 976.80A132.20 132.20 0 0 1 1063.91 976.48L1066.96 952.07A107.60 107.60 0 0 0 1069.28 952.33Z" fill="#fed4c8"/><path d="M1064.46 976.55A132.20 132.20 0 0 1 1061.63 976.17L1065.10 951.82A107.60 107.60 0 0 0 1067.41 952.13Z" fill="#fed4c8"/><path d="M1062.18 976.25A132.20 132.20 0 0 1 1059.35 975.83L1063.25 951.54A107.60 107.60 0 0 0 1065.55 951.88Z" fill="#fed4c8"/><path d="M1059.89 975.92A132.20 132.20 0 0 1 1057.07 975.44L1061.39 951.23A107.60 107.60 0 0 0 1063.69 951.61Z" fill="#fed4c8"/><path d="M1057.62 975.54A132.20 132.20 0 0 1 1054.80 975.02L1059.55 950.88A107.60 107.60 0 0 0 1061.84 951.30Z" fill="#fed4c8"/><path d="M1055.35 975.12A132.20 132.20 0 0 1 1052.54 974.55L1057.71 950.50A107.60 107.60 0 0 0 1059.99 950.97Z" fill="#fed4c8"/><path d="M1053.08 974.67A132.20 132.20 0 0 1 1050.29 974.05L1055.88 950.09A107.60 107.60 0 0 0 1058.15 950.60Z" fill="#fed4c8"/><path d="M1050.83 974.17A132.20 132.20 0 0 1 1048.05 973.51L1054.05 949.65A107.60 107.60 0 0 0 1056.31 950.19Z" fill="#fed4c8"/><path d="M1048.59 973.64A132.20 132.20 0 0 1 1045.82 972.92L1052.23 949.18A107.60 107.60 0 0 0 1054.49 949.76Z" fill="#fed4c8"/><path d="M1046.35 973.07A132.20 132.20 0 0 1 1043.59 972.30L1050.42 948.67A107.60 107.60 0 0 0 1052.67 949.29Z" fill="#fed4c8"/><path d="M1044.13 972.45A132.20 132.20 0 0 1 1041.38 971.64L1048.63 948.13A107.60 107.60 0 0 0 1050.86 948.79Z" fill="#fed4c8"/><path d="M1041.91 971.80A132.20 132.20 0 0 1 1039.18 970.94L1046.84 947.56A107.60 107.60 0 0 0 1049.06 948.26Z" fill="#fed4c8"/><path d="M1039.71 971.11A132.20 132.20 0 0 1 1037.00 970.21L1045.06 946.96A107.60 107.60 0 0 0 1047.26 947.70Z" fill="#fed4c8"/><path d="M1037.52 970.39A132.20 132.20 0 0 1 1034.82 969.43L1043.29 946.33A107.60 107.60 0 0 0 1045.48 947.11Z" fill="#fdd4c8"/><path d="M1035.35 969.62A132.20 132.20 0 0 1 1032.67 968.62L1041.53 945.67A107.60 107.60 0 0 0 1043.71 946.49Z" fill="#fdd4c8"/><path d="M1033.18 968.82A132.20 132.20 0 0 1 1030.52 967.77L1039.78 944.98A107.60 107.60 0 0 0 1041.95 945.83Z" fill="#fdd4c8"/><path d="M1031.03 967.98A132.20 132.20 0 0 1 1028.39 966.88L1038.05 944.26A107.60 107.60 0 0 0 1040.20 945.15Z" fill="#fdd4c8"/><path d="M1028.90 967.10A132.20 132.20 0 0 1 1026.28 965.96L1036.33 943.51A107.60 107.60 0 0 0 1038.46 944.43Z" fill="#fdd4c8"/><path d="M1026.78 966.18A132.20 132.20 0 0 1 1024.18 965.00L1034.62 942.72A107.60 107.60 0 0 0 1036.74 943.69Z" fill="#fdd4c8"/><path d="M1024.68 965.23A132.20 132.20 0 0 1 1022.10 964.00L1032.93 941.91A107.60 107.60 0 0 0 1035.03 942.91Z" fill="#fdd4c8"/><path d="M1022.60 964.24A132.20 132.20 0 0 1 1020.04 962.97L1031.25 941.07A107.60 107.60 0 0 0 1033.33 942.11Z" fill="#fdd4c8"/><path d="M1020.53 963.22A132.20 132.20 0 0 1 1017.99 961.90L1029.59 940.20A107.60 107.60 0 0 0 1031.65 941.27Z" fill="#fdd4c8"/><path d="M1018.48 962.16A132.20 132.20 0 0 1 1015.97 960.79L1027.94 939.30A107.60 107.60 0 0 0 1029.98 940.41Z" fill="#fdd4c8"/><path d="M1016.45 961.06A132.20 132.20 0 0 1 1013.96 959.65L1026.30 938.37A107.60 107.60 0 0 0 1028.33 939.52Z" fill="#fdd4c8"/><path d="M1014.44 959.93A132.20 132.20 0 0 1 1011.97 958.47L1024.69 937.41A107.60 107.60 0 0 0 1026.70 938.60Z" fill="#fdd4c8"/><path d="M1012.45 958.76A132.20 132.20 0 0 1 1010.01 957.26L1023.09 936.43A107.60 107.60 0 0 0 1025.08 937.65Z" fill="#fdd4c8"/><path d="M1010.48 957.56A132.20 132.20 0 0 1 1008.07 956.02L1021.51 935.42A107.60 107.60 0 0 0 1023.47 936.67Z" fill="#fdd3c7"/><path d="M1008.53 956.32A132.20 132.20 0 0 1 1006.15 954.74L1019.94 934.38A107.60 107.60 0 0 0 1021.89 935.66Z" fill="#fdd3c7"/><path d="M1006.60 955.05A132.20 132.20 0 0 1 1004.25 953.43L1018.40 933.31A107.60 107.60 0 0 0 1020.32 934.63Z" fill="#fdd3c7"/><path d="M1004.70 953.75A132.20 132.20 0 0 1 1002.37 952.09L1016.87 932.22A107.60 107.60 0 0 0 1018.77 933.57Z" fill="#fdd3c7"/><path d="M1002.82 952.41A132.20 132.20 0 0 1 1000.52 950.71L1015.36 931.10A107.60 107.60 0 0 0 1017.24 932.48Z" fill="#fdd3c7"/><path d="M1000.96 951.05A132.20 132.20 0 0 1 998.69 949.30L1013.88 929.95A107.60 107.60 0 0 0 1015.72 931.37Z" fill="#fdd3c7"/><path d="M999.13 949.65A132.20 132.20 0 0 1 996.89 947.86L1012.41 928.78A107.60 107.60 0 0 0 1014.23 930.23Z" fill="#fdd3c7"/><path d="M997.32 948.21A132.20 132.20 0 0 1 995.11 946.39L1010.96 927.58A107.60 107.60 0 0 0 1012.76 929.06Z" fill="#fdd3c7"/><path d="M995.54 946.75A132.20 132.20 0 0 1 993.36 944.89L1009.54 926.36A107.60 107.60 0 0 0 1011.31 927.87Z" fill="#fdd3c7"/><path d="M993.78 945.25A132.20 132.20 0 0 1 991.64 943.36L1008.13 925.11A107.60 107.60 0 0 0 1009.88 926.65Z" fill="#fdd3c7"/><path d="M992.05 943.73A132.20 132.20 0 0 1 989.94 941.80L1006.75 923.84A107.60 107.60 0 0 0 1008.47 925.41Z" fill="#fdd3c7"/><path d="M990.34 942.17A132.20 132.20 0 0 1 988.27 940.20L1005.39 922.54A107.60 107.60 0 0 0 1007.08 924.15Z" fill="#fdd3c7"/><path d="M988.67 940.59A132.20 132.20 0 0 1 986.62 938.58L1004.06 921.23A107.60 107.60 0 0 0 1005.72 922.86Z" fill="#fdd3c7"/><path d="M987.02 938.98A132.20 132.20 0 0 1 985.01 936.93L1002.74 919.88A107.60 107.60 0 0 0 1004.37 921.54Z" fill="#fdd3c7"/><path d="M985.40 937.33A132.20 132.20 0 0 1 983.43 935.26L1001.45 918.52A107.60 107.60 0 0 0 1003.06 920.21Z" fill="#fdd3c7"/><path d="M983.80 935.66A132.20 132.20 0 0 1 981.87 933.55L1000.19 917.13A107.60 107.60 0 0 0 1001.76 918.85Z" fill="#fdd3c7"/><path d="M982.24 933.96A132.20 132.20 0 0 1 980.35 931.82L998.95 915.72A107.60 107.60 0 0 0 1000.49 917.47Z" fill="#fdd3c7"/><path d="M980.71 932.24A132.20 132.20 0 0 1 978.85 930.06L997.73 914.29A107.60 107.60 0 0 0 999.24 916.06Z" fill="#fdd3c7"/><path d="M979.21 930.49A132.20 132.20 0 0 1 977.39 928.28L996.54 912.84A107.60 107.60 0 0 0 998.02 914.64Z" fill="#fdd3c7"/><path d="M977.74 928.71A132.20 132.20 0 0 1 975.95 926.47L995.37 911.37A107.60 107.60 0 0 0 996.82 913.19Z" fill="#fdd3c7"/><path d="M976.30 926.91A132.20 132.20 0 0 1 974.55 924.64L994.23 909.88A107.60 107.60 0 0 0 995.65 911.72Z" fill="#fdd3c7"/><path d="M974.89 925.08A132.20 132.20 0 0 1 973.19 922.78L993.12 908.36A107.60 107.60 0 0 0 994.50 910.24Z" fill="#fdd3c7"/><path d="M973.51 923.23A132.20 132.20 0 0 1 971.85 920.90L992.03 906.83A107.60 107.60 0 0 0 993.38 908.73Z" fill="#fdd3c7"/><path d="M972.17 921.35A132.20 132.20 0 0 1 970.55 919.00L990.97 905.28A107.60 107.60 0 0 0 992.29 907.20Z" fill="#fdd3c7"/><path d="M970.86 919.45A132.20 132.20 0 0 1 969.28 917.07L989.94 903.71A107.60 107.60 0 0 0 991.22 905.66Z" fill="#fdd3c7"/><path d="M969.58 917.53A132.20 132.20 0 0 1 968.04 915.12L988.93 902.13A107.60 107.60 0 0 0 990.18 904.09Z" fill="#fdd2c6"/><path d="M968.34 915.59A132.20 132.20 0 0 1 966.84 913.15L987.95 900.52A107.60 107.60 0 0 0 989.17 902.51Z" fill="#fdd2c6"/><path d="M967.13 913.63A132.20 132.20 0 0 1 965.67 911.16L987.00 898.90A107.60 107.60 0 0 0 988.19 900.91Z" fill="#fdd2c6"/><path d="M965.95 911.64A132.20 132.20 0 0 1 964.54 909.15L986.08 897.27A107.60 107.60 0 0 0 987.23 899.30Z" fill="#fdd2c6"/><path d="M964.81 909.63A132.20 132.20 0 0 1 963.44 907.12L985.19 895.62A107.60 107.60 0 0 0 986.30 897.66Z" fill="#fdd2c6"/><path d="M963.70 907.61A132.20 132.20 0 0 1 962.38 905.07L984.33 893.95A107.60 107.60 0 0 0 985.40 896.01Z" fill="#fdd2c6"/><path d="M962.63 905.56A132.20 132.20 0 0 1 961.36 903.00L983.49 892.27A107.60 107.60 0 0 0 984.53 894.35Z" fill="#fdd2c6"/><path d="M961.60 903.50A132.20 132.20 0 0 1 960.37 900.92L982.69 890.57A107.60 107.60 0 0 0 983.69 892.67Z" fill="#fdd2c6"/><path d="M960.60 901.42A132.20 132.20 0 0 1 959.42 898.82L981.91 888.86A107.60 107.60 0 0 0 982.88 890.98Z" fill="#fdd2c6"/><path d="M959.64 899.32A132.20 132.20 0 0 1 958.50 896.70L981.17 887.14A107.60 107.60 0 0 0 982.09 889.27Z" fill="#fdd2c6"/><path d="M958.72 897.21A132.20 132.20 0 0 1 957.62 894.57L980.45 885.40A107.60 107.60 0 0 0 981.34 887.55Z" fill="#fdd2c6"/><path d="M957.83 895.08A132.20 132.20 0 0 1 956.78 892.42L979.77 883.65A107.60 107.60 0 0 0 980.62 885.82Z" fill="#fdd2c6"/><path d="M956.98 892.93A132.20 132.20 0 0 1 955.98 890.25L979.11 881.89A107.60 107.60 0 0 0 979.93 884.07Z" fill="#fdd2c6"/><path d="M956.17 890.78A132.20 132.20 0 0 1 955.21 888.08L978.49 880.12A107.60 107.60 0 0 0 979.27 882.31Z" fill="#fdd2c6"/><path d="M955.39 888.60A132.20 132.20 0 0 1 954.49 885.89L977.90 878.34A107.60 107.60 0 0 0 978.64 880.54Z" fill="#fdd2c6"/><path d="M954.66 886.42A132.20 132.20 0 0 1 953.80 883.69L977.34 876.54A107.60 107.60 0 0 0 978.04 878.76Z" fill="#fdd2c6"/><path d="M953.96 884.22A132.20 132.20 0 0 1 953.15 881.47L976.81 874.74A107.60 107.60 0 0 0 977.47 876.97Z" fill="#fdd2c6"/><path d="M953.30 882.01A132.20 132.20 0 0 1 952.53 879.25L976.31 872.93A107.60 107.60 0 0 0 976.93 875.18Z" fill="#fdd2c6"/><path d="M952.68 879.78A132.20 132.20 0 0 1 951.96 877.01L975.84 871.11A107.60 107.60 0 0 0 976.42 873.37Z" fill="#fdd2c6"/><path d="M952.09 877.55A132.20 132.20 0 0 1 951.43 874.77L975.41 869.29A107.60 107.60 0 0 0 975.95 871.55Z" fill="#fdd2c5"/><path d="M951.55 875.31A132.20 132.20 0 0 1 950.93 872.52L975.00 867.45A107.60 107.60 0 0 0 975.51 869.72Z" fill="#fdd1c5"/><path d="M951.05 873.06A132.20 132.20 0 0 1 950.48 870.25L974.63 865.61A107.60 107.60 0 0 0 975.10 867.89Z" fill="#fdd1c5"/><path d="M950.58 870.80A132.20 132.20 0 0 1 950.06 867.98L974.30 863.76A107.60 107.60 0 0 0 974.72 866.05Z" fill="#fdd1c5"/><path d="M950.16 868.53A132.20 132.20 0 0 1 949.68 865.71L973.99 861.91A107.60 107.60 0 0 0 974.37 864.21Z" fill="#fdd1c5"/><path d="M949.77 866.25A132.20 132.20 0 0 1 949.35 863.42L973.72 860.05A107.60 107.60 0 0 0 974.06 862.35Z" fill="#fdd1c5"/><path d="M949.43 863.97A132.20 132.20 0 0 1 949.05 861.14L973.47 858.19A107.60 107.60 0 0 0 973.78 860.50Z" fill="#fdd1c5"/><path d="M949.12 861.69A132.20 132.20 0 0 1 948.80 858.84L973.27 856.32A107.60 107.60 0 0 0 973.53 858.64Z" fill="#fdd1c5"/><path d="M948.85 859.39A132.20 132.20 0 0 1 948.58 856.55L973.09 854.45A107.60 107.60 0 0 0 973.31 856.77Z" fill="#fdd1c5"/><path d="M948.63 857.10A132.20 132.20 0 0 1 948.40 854.25L972.95 852.58A107.60 107.60 0 0 0 973.13 854.90Z" fill="#fdd1c5"/><path d="M948.44 854.80A132.20 132.20 0 0 1 948.27 851.94L972.84 850.71A107.60 107.60 0 0 0 972.98 853.03Z" fill="#fdd1c5"/><path d="M948.30 852.50A132.20 132.20 0 0 1 948.17 849.64L972.76 848.83A107.60 107.60 0 0 0 972.86 851.16Z" fill="#fdd1c4"/><path d="M948.19 850.19A132.20 132.20 0 0 1 948.12 847.33L972.71 846.95A107.60 107.60 0 0 0 972.77 849.28Z" fill="#fdd1c4"/><path d="M948.13 847.88A132.20 132.20 0 0 1 948.10 845.02L972.70 845.07A107.60 107.60 0 0 0 972.72 847.40Z" fill="#fdd1c4"/><path d="M948.10 845.58A132.20 132.20 0 0 1 948.13 842.72L972.72 843.20A107.60 107.60 0 0 0 972.70 845.53Z" fill="#fdd1c4"/><path d="M948.12 843.27A132.20 132.20 0 0 1 948.19 840.41L972.77 841.32A107.60 107.60 0 0 0 972.71 843.65Z" fill="#fdd0c4"/><path d="M948.17 840.96A132.20 132.20 0 0 1 948.30 838.10L972.86 839.44A107.60 107.60 0 0 0 972.76 841.77Z" fill="#fdd0c4"/><path d="M948.27 838.66A132.20 132.20 0 0 1 948.44 835.80L972.98 837.57A107.60 107.60 0 0 0 972.84 839.89Z" fill="#fdd0c4"/><path d="M948.40 836.35A132.20 132.20 0 0 1 948.63 833.50L973.13 835.70A107.60 107.60 0 0 0 972.95 838.02Z" fill="#fdd0c4"/><path d="M948.58 834.05A132.20 132.20 0 0 1 948.85 831.21L973.31 833.83A107.60 107.60 0 0 0 973.09 836.15Z" fill="#fdd0c4"/><path d="M948.80 831.76A132.20 132.20 0 0 1 949.12 828.91L973.53 831.96A107.60 107.60 0 0 0 973.27 834.28Z" fill="#fdd0c4"/><path d="M949.05 829.46A132.20 132.20 0 0 1 949.43 826.63L973.78 830.10A107.60 107.60 0 0 0 973.47 832.41Z" fill="#fdd0c4"/><path d="M949.35 827.18A132.20 132.20 0 0 1 949.77 824.35L974.06 828.25A107.60 107.60 0 0 0 973.72 830.55Z" fill="#fdd0c4"/><path d="M949.68 824.89A132.20 132.20 0 0 1 950.16 822.07L974.37 826.39A107.60 107.60 0 0 0 973.99 828.69Z" fill="#fdd0c3"/><path d="M950.06 822.62A132.20 132.20 0 0 1 950.58 819.80L974.72 824.55A107.60 107.60 0 0 0 974.30 826.84Z" fill="#fdd0c3"/><path d="M950.48 820.35A132.20 132.20 0 0 1 951.05 817.54L975.10 822.71A107.60 107.60 0 0 0 974.63 824.99Z" fill="#fdd0c3"/><path d="M950.93 818.08A132.20 132.20 0 0 1 951.55 815.29L975.51 820.88A107.60 107.60 0 0 0 975.00 823.15Z" fill="#fdd0c3"/><path d="M951.43 815.83A132.20 132.20 0 0 1 952.09 813.05L975.95 819.05A107.60 107.60 0 0 0 975.41 821.31Z" fill="#fdd0c3"/><path d="M951.96 813.59A132.20 132.20 0 0 1 952.68 810.82L976.42 817.23A107.60 107.60 0 0 0 975.84 819.49Z" fill="#fdd0c3"/><path d="M952.53 811.35A132.20 132.20 0 0 1 953.30 808.59L976.93 815.42A107.60 107.60 0 0 0 976.31 817.67Z" fill="#fdcfc3"/><path d="M953.15 809.13A132.20 132.20 0 0 1 953.96 806.38L977.47 813.63A107.60 107.60 0 0 0 976.81 815.86Z" fill="#fdcfc3"/><path d="M953.80 806.91A132.20 132.20 0 0 1 954.66 804.18L978.04 811.84A107.60 107.60 0 0 0 977.34 814.06Z" fill="#fdcfc3"/><path d="M954.49 804.71A132.20 132.20 0 0 1 955.39 802.00L978.64 810.06A107.60 107.60 0 0 0 977.90 812.26Z" fill="#fdcfc3"/><path d="M955.21 802.52A132.20 132.20 0 0 1 956.17 799.82L979.27 808.29A107.60 107.60 0 0 0 978.49 810.48Z" fill="#fdcfc3"/><path d="M955.98 800.35A132.20 132.20 0 0 1 956.98 797.67L979.93 806.53A107.60 107.60 0 0 0 979.11 808.71Z" fill="#fdcfc3"/><path d="M956.78 798.18A132.20 132.20 0 0 1 957.83 795.52L980.62 804.78A107.60 107.60 0 0 0 979.77 806.95Z" fill="#fdcfc2"/><path d="M957.62 796.03A132.20 132.20 0 0 1 958.72 793.39L981.34 803.05A107.60 107.60 0 0 0 980.45 805.20Z" fill="#fdcfc2"/><path d="M958.50 793.90A132.20 132.20 0 0 1 959.64 791.28L982.09 801.33A107.60 107.60 0 0 0 981.17 803.46Z" fill="#fdcfc2"/><path d="M959.42 791.78A132.20 132.20 0 0 1 960.60 789.18L982.88 799.62A107.60 107.60 0 0 0 981.91 801.74Z" fill="#fdcfc2"/><path d="M960.37 789.68A132.20 132.20 0 0 1 961.60 787.10L983.69 797.93A107.60 107.60 0 0 0 982.69 800.03Z" fill="#fdcfc2"/><path d="M961.36 787.60A132.20 132.20 0 0 1 962.63 785.04L984.53 796.25A107.60 107.60 0 0 0 983.49 798.33Z" fill="#fdcfc2"/><path d="M962.38 785.53A132.20 132.20 0 0 1 963.70 782.99L985.40 794.59A107.60 107.60 0 0 0 984.33 796.65Z" fill="#fdcfc2"/><path d="M963.44 783.48A132.20 132.20 0 0 1 964.81 780.97L986.30 792.94A107.60 107.60 0 0 0 985.19 794.98Z" fill="#fdcfc2"/><path d="M964.54 781.45A132.20 132.20 0 0 1 965.95 778.96L987.23 791.30A107.60 107.60 0 0 0 986.08 793.33Z" fill="#fdcec2"/><path d="M965.67 779.44A132.20 132.20 0 0 1 967.13 776.97L988.19 789.69A107.60 107.60 0 0 0 987.00 791.70Z" fill="#fdcec2"/><path d="M966.84 777.45A132.20 132.20 0 0 1 968.34 775.01L989.17 788.09A107.60 107.60 0 0 0 987.95 790.08Z" fill="#fdcec2"/><path d="M968.04 775.48A132.20 132.20 0 0 1 969.58 773.07L990.18 786.51A107.60 107.60 0 0 0 988.93 788.47Z" fill="#fdcec2"/><path d="M969.28 773.53A132.20 132.20 0 0 1 970.86 771.15L991.22 784.94A107.60 107.60 0 0 0 989.94 786.89Z" fill="#fdcec1"/><path d="M970.55 771.60A132.20 132.20 0 0 1 972.17 769.25L992.29 783.40A107.60 107.60 0 0 0 990.97 785.32Z" fill="#fdcec1"/><path d="M971.85 769.70A132.20 132.20 0 0 1 973.51 767.37L993.38 781.87A107.60 107.60 0 0 0 992.03 783.77Z" fill="#fdcec1"/><path d="M973.19 767.82A132.20 132.20 0 0 1 974.89 765.52L994.50 780.36A107.60 107.60 0 0 0 993.12 782.24Z" fill="#fdcec1"/><path d="M974.55 765.96A132.20 132.20 0 0 1 976.30 763.69L995.65 778.88A107.60 107.60 0 0 0 994.23 780.72Z" fill="#fdcec1"/><path d="M975.95 764.13A132.20 132.20 0 0 1 977.74 761.89L996.82 777.41A107.60 107.60 0 0 0 995.37 779.23Z" fill="#fdcec1"/><path d="M977.39 762.32A132.20 132.20 0 0 1 979.21 760.11L998.02 775.96A107.60 107.60 0 0 0 996.54 777.76Z" fill="#fdcec1"/><path d="M978.85 760.54A132.20 132.20 0 0 1 980.71 758.36L999.24 774.54A107.60 107.60 0 0 0 997.73 776.31Z" fill="#fdcec1"/><path d="M980.35 758.78A132.20 132.20 0 0 1 982.24 756.64L1000.49 773.13A107.60 107.60 0 0 0 998.95 774.88Z" fill="#fdcec1"/><path d="M981.87 757.05A132.20 132.20 0 0 1 983.80 754.94L1001.76 771.75A107.60 107.60 0 0 0 1000.19 773.47Z" fill="#fdcec1"/><path d="M983.43 755.34A132.20 132.20 0 0 1 985.40 753.27L1003.06 770.39A107.60 107.60 0 0 0 1001.45 772.08Z" fill="#fdcdc1"/><path d="M985.01 753.67A132.20 132.20 0 0 1 987.02 751.62L1004.37 769.06A107.60 107.60 0 0 0 1002.74 770.72Z" fill="#fdcdc0"/><path d="M986.62 752.02A132.20 132.20 0 0 1 988.67 750.01L1005.72 767.74A107.60 107.60 0 0 0 1004.06 769.37Z" fill="#fdcdc0"/><path d="M988.27 750.40A132.20 132.20 0 0 1 990.34 748.43L1007.08 766.45A107.60 107.60 0 0 0 1005.39 768.06Z" fill="#fdcdc0"/><path d="M989.94 748.80A132.20 132.20 0 0 1 992.05 746.87L1008.47 765.19A107.60 107.60 0 0 0 1006.75 766.76Z" fill="#fdcdc0"/><path d="M991.64 747.24A132.20 132.20 0 0 1 993.78 745.35L1009.88 763.95A107.60 107.60 0 0 0 1008.13 765.49Z" fill="#fdcdc0"/><path d="M993.36 745.71A132.20 132.20 0 0 1 995.54 743.85L1011.31 762.73A107.60 107.60 0 0 0 1009.54 764.24Z" fill="#fdcdc0"/><path d="M995.11 744.21A132.20 132.20 0 0 1 997.32 742.39L1012.76 761.54A107.60 107.60 0 0 0 1010.96 763.02Z" fill="#fdcdc0"/><path d="M996.89 742.74A132.20 132.20 0 0 1 999.13 740.95L1014.23 760.37A107.60 107.60 0 0 0 1012.41 761.82Z" fill="#fdcdc0"/><path d="M998.69 741.30A132.20 132.20 0 0 1 1000.96 739.55L1015.72 759.23A107.60 107.60 0 0 0 1013.88 760.65Z" fill="#fdcdc0"/><path d="M1000.52 739.89A132.20 132.20 0 0 1 1002.82 738.19L1017.24 758.12A107.60 107.60 0 0 0 1015.36 759.50Z" fill="#fdcdbf"/><path d="M1002.37 738.51A132.20 132.20 0 0 1 1004.70 736.85L1018.77 757.03A107.60 107.60 0 0 0 1016.87 758.38Z" fill="#fdccbf"/><path d="M1004.25 737.17A132.20 132.20 0 0 1 1006.60 735.55L1020.32 755.97A107.60 107.60 0 0 0 1018.40 757.29Z" fill="#fdccbf"/><path d="M1006.15 735.86A132.20 132.20 0 0 1 1008.53 734.28L1021.89 754.94A107.60 107.60 0 0 0 1019.94 756.22Z" fill="#fdccbf"/><path d="M1008.07 734.58A132.20 132.20 0 0 1 1010.48 733.04L1023.47 753.93A107.60 107.60 0 0 0 1021.51 755.18Z" fill="#fdccbf"/><path d="M1010.01 733.34A132.20 132.20 0 0 1 1012.45 731.84L1025.08 752.95A107.60 107.60 0 0 0 1023.09 754.17Z" fill="#fdccbf"/><path d="M1011.97 732.13A132.20 132.20 0 0 1 1014.44 730.67L1026.70 752.00A107.60 107.60 0 0 0 1024.69 753.19Z" fill="#fdccbf"/><path d="M1013.96 730.95A132.20 132.20 0 0 1 1016.45 729.54L1028.33 751.08A107.60 107.60 0 0 0 1026.30 752.23Z" fill="#fdccbe"/><path d="M1015.97 729.81A132.20 132.20 0 0 1 1018.48 728.44L1029.98 750.19A107.60 107.60 0 0 0 1027.94 751.30Z" fill="#fdccbe"/><path d="M1017.99 728.70A132.20 132.20 0 0 1 1020.53 727.38L1031.65 749.33A107.60 107.60 0 0 0 1029.59 750.40Z" fill="#fdcbbe"/><path d="M1020.04 727.63A132.20 132.20 0 0 1 1022.60 726.36L1033.33 748.49A107.60 107.60 0 0 0 1031.25 749.53Z" fill="#fdcbbe"/><path d="M1022.10 726.60A132.20 132.20 0 0 1 1024.68 725.37L1035.03 747.69A107.60 107.60 0 0 0 1032.93 748.69Z" fill="#fdcbbe"/><path d="M1024.18 725.60A132.20 132.20 0 0 1 1026.78 724.42L1036.74 746.91A107.60 107.60 0 0 0 1034.62 747.88Z" fill="#fdcbbe"/><path d="M1026.28 724.64A132.20 132.20 0 0 1 1028.90 723.50L1038.46 746.17A107.60 107.60 0 0 0 1036.33 747.09Z" fill="#fdcbbe"/><path d="M1028.39 723.72A132.20 132.20 0 0 1 1031.03 722.62L1040.20 745.45A107.60 107.60 0 0 0 1038.05 746.34Z" fill="#fdcbbd"/><path d="M1030.52 722.83A132.20 132.20 0 0 1 1033.18 721.78L1041.95 744.77A107.60 107.60 0 0 0 1039.78 745.62Z" fill="#fdcbbd"/><path d="M1032.67 721.98A132.20 132.20 0 0 1 1035.35 720.98L1043.71 744.11A107.60 107.60 0 0 0 1041.53 744.93Z" fill="#fdcbbd"/><path d="M1034.82 721.17A132.20 132.20 0 0 1 1037.52 720.21L1045.48 743.49A107.60 107.60 0 0 0 1043.29 744.27Z" fill="#fdcbbd"/><path d="M1037.00 720.39A132.20 132.20 0 0 1 1039.71 719.49L1047.26 742.90A107.60 107.60 0 0 0 1045.06 743.64Z" fill="#fdcabd"/><path d="M1039.18 719.66A132.20 132.20 0 0 1 1041.91 718.80L1049.06 742.34A107.60 107.60 0 0 0 1046.84 743.04Z" fill="#fdcabd"/><path d="M1041.38 718.96A132.20 132.20 0 0 1 1044.13 718.15L1050.86 741.81A107.60 107.60 0 0 0 1048.63 742.47Z" fill="#fdcabc"/><path d="M1043.59 718.30A132.20 132.20 0 0 1 1046.35 717.53L1052.67 741.31A107.60 107.60 0 0 0 1050.42 741.93Z" fill="#fdcabc"/><path d="M1045.82 717.68A132.20 132.20 0 0 1 1048.59 716.96L1054.49 740.84A107.60 107.60 0 0 0 1052.23 741.42Z" fill="#fdcabc"/><path d="M1048.05 717.09A132.20 132.20 0 0 1 1050.83 716.43L1056.31 740.41A107.60 107.60 0 0 0 1054.05 740.95Z" fill="#fdcabc"/><path d="M1050.29 716.55A132.20 132.20 0 0 1 1053.08 715.93L1058.15 740.00A107.60 107.60 0 0 0 1055.88 740.51Z" fill="#fdcabc"/><path d="M1052.54 716.05A132.20 132.20 0 0 1 1055.35 715.48L1059.99 739.63A107.60 107.60 0 0 0 1057.71 740.10Z" fill="#fdcabc"/><path d="M1054.80 715.58A132.20 132.20 0 0 1 1057.62 715.06L1061.84 739.30A107.60 107.60 0 0 0 1059.55 739.72Z" fill="#fdc9bc"/><path d="M1057.07 715.16A132.20 132.20 0 0 1 1059.89 714.68L1063.69 738.99A107.60 107.60 0 0 0 1061.39 739.37Z" fill="#fdc9bb"/><path d="M1059.35 714.77A132.20 132.20 0 0 1 1062.18 714.35L1065.55 738.72A107.60 107.60 0 0 0 1063.25 739.06Z" fill="#fdc9bb"/><path d="M1061.63 714.43A132.20 132.20 0 0 1 1064.46 714.05L1067.41 738.47A107.60 107.60 0 0 0 1065.10 738.78Z" fill="#fdc9bb"/><path d="M1063.91 714.12A132.20 132.20 0 0 1 1066.76 713.80L1069.28 738.27A107.60 107.60 0 0 0 1066.96 738.53Z" fill="#fb3030"/><path d="M1066.21 713.85A132.20 132.20 0 0 1 1069.05 713.58L1071.15 738.09A107.60 107.60 0 0 0 1068.83 738.31Z" fill="#fb7c66"/><path d="M1068.50 713.63A132.20 132.20 0 0 1 1071.35 713.40L1073.02 737.95A107.60 107.60 0 0 0 1070.70 738.13Z" fill="#fb826c"/><path d="M1070.80 713.44A132.20 132.20 0 0 1 1073.66 713.27L1074.89 737.84A107.60 107.60 0 0 0 1072.57 737.98Z" fill="#fb8772"/><path d="M1073.10 713.30A132.20 132.20 0 0 1 1075.96 713.17L1076.77 737.76A107.60 107.60 0 0 0 1074.44 737.86Z" fill="#fb8b76"/><path d="M1075.41 713.19A132.20 132.20 0 0 1 1078.27 713.12L1078.65 737.71A107.60 107.60 0 0 0 1076.32 737.77Z" fill="#fb8c78"/><path d="M1077.72 713.13A132.20 132.20 0 0 1 1080.58 713.10L1080.53 737.70A107.60 107.60 0 0 0 1078.20 737.72Z" fill="#fb8e79"/></g>
<g><path d="M259.32 194.01A64.00 64.00 0 0 1 289.62 313.76M202.27 229.01A63.00 63.00 0 0 1 253.81 195.15M294.77 322.91A74.50 74.50 0 0 1 184.43 268.37M182.69 242.91A77.00 77.00 0 0 1 202.81 204.51M293.71 185.20A81.00 81.00 0 0 1 322.03 307.87M258.20 258.00L224.26 204.93M258.20 258.00L320.46 243.17M259.32 194.01L259.72 171.01M253.81 195.15L252.97 183.18M289.62 313.76L294.77 322.91M202.27 229.01L189.84 222.56M182.69 242.91L176.81 241.74M184.43 268.37L178.98 269.13M250.26 182.42A76.00 76.00 0 0 1 257.27 182.01M250.26 182.42L249.11 171.48M257.27 182.01L257.14 171.01M324.96 231.03A72.00 72.00 0 0 1 325.86 282.63M324.96 231.03L329.59 229.16M325.86 282.63L330.56 284.34M339.89 265.15A82.00 82.00 0 0 1 335.25 286.05M339.89 265.15L342.38 265.36M335.25 286.05L337.60 286.90M188.92 218.00A80.00 80.00 0 0 1 208.95 194.96M188.92 218.00L184.59 215.50M208.95 194.96L205.87 191.02M194.62 204.65A83.00 83.00 0 0 1 210.59 190.01M194.62 204.65L191.55 202.08M210.59 190.01L208.30 186.73M230.84 333.18A80.00 80.00 0 0 1 212.31 323.53M230.84 333.18L229.47 336.93M212.31 323.53L210.02 326.81M250.88 341.68A84.00 84.00 0 0 1 229.47 336.93M250.88 341.68L250.62 344.67M229.47 336.93L228.44 339.75M178.98 269.13A80.00 80.00 0 0 1 178.39 263.58M178.98 269.13L174.03 269.83M178.39 263.58L173.41 263.93" fill="none" stroke="#111" stroke-width="1.15" stroke-linejoin="miter"/><path d="M260.00 171.31A86.71 86.71 0 0 1 271.90 172.38M272.50 173.18A86.02 86.02 0 0 1 277.09 174.08M272.67 176.24A83.03 83.03 0 0 1 275.99 176.90M278.68 173.67A86.78 86.78 0 0 1 293.74 178.83M280.35 176.64A84.33 84.33 0 0 1 291.32 180.45M295.75 179.69A86.84 86.84 0 0 1 305.91 185.44M296.13 182.82A84.21 84.21 0 0 1 303.51 187.03M307.53 186.06A87.23 87.23 0 0 1 314.44 191.32M307.11 188.91A84.65 84.65 0 0 1 312.13 192.75M326.96 204.09A87.37 87.37 0 0 1 335.42 217.13M335.84 217.80A87.43 87.43 0 0 1 338.59 223.63M334.10 219.76A84.99 84.99 0 0 1 336.10 224.02M337.91 225.17A86.20 86.20 0 0 1 341.53 235.95M343.07 237.28A87.36 87.36 0 0 1 345.47 254.07M345.41 256.49A87.22 87.22 0 0 1 344.56 270.21M342.94 272.23A85.92 85.92 0 0 1 340.07 284.06M340.78 286.02A87.21 87.21 0 0 1 337.68 293.90M336.08 294.01A85.80 85.80 0 0 1 328.47 307.24M332.71 294.90A83.15 83.15 0 0 1 327.13 304.50M327.03 308.87A85.59 85.59 0 0 1 323.89 312.86M310.23 326.04A85.65 85.65 0 0 1 294.96 335.36M294.82 336.61A86.72 86.72 0 0 1 288.15 339.39M293.19 335.64A85.16 85.16 0 0 1 288.27 337.67M275.39 342.81A86.54 86.54 0 0 1 265.83 344.20M264.21 345.17A87.38 87.38 0 0 1 251.97 345.16M250.69 343.77A86.10 86.10 0 0 1 236.66 341.36M235.11 341.18A86.33 86.33 0 0 1 223.84 337.20M223.55 336.29A85.62 85.62 0 0 1 212.30 330.28M210.39 330.58A86.91 86.91 0 0 1 199.49 322.09M198.67 322.03A87.43 87.43 0 0 1 194.82 318.22M199.58 319.89A85.24 85.24 0 0 1 196.77 317.10M194.63 316.11A86.13 86.13 0 0 1 189.01 309.29M195.53 313.53A83.73 83.73 0 0 1 191.45 308.55M188.80 308.03A85.55 85.55 0 0 1 183.66 299.99M181.37 299.04A87.11 87.11 0 0 1 177.62 291.08M182.34 297.06A85.33 85.33 0 0 1 179.60 291.20M177.99 289.43A86.14 86.14 0 0 1 173.97 276.08M179.84 286.53A83.39 83.39 0 0 1 176.96 276.82M173.66 274.72A86.17 86.17 0 0 1 172.03 258.74M172.47 256.54A85.74 85.74 0 0 1 173.30 246.02M173.31 245.07A85.87 85.87 0 0 1 176.97 230.15M176.36 243.27A83.16 83.16 0 0 1 179.07 232.45M177.66 228.54A85.76 85.76 0 0 1 184.19 214.67M180.98 227.38A83.07 83.07 0 0 1 185.78 217.32M184.25 213.44A86.34 86.34 0 0 1 189.42 205.81M187.42 213.78A83.46 83.46 0 0 1 191.18 208.26M193.53 199.20A87.40 87.40 0 0 1 207.02 187.15M208.18 187.03A86.83 86.83 0 0 1 220.87 179.61M222.39 180.21A85.64 85.64 0 0 1 230.82 176.86M231.36 174.92A87.31 87.31 0 0 1 246.63 171.46" fill="none" stroke="#111" stroke-width="1.50"/></g>
<g><path d="M1074.41 182.93A69.00 69.00 0 0 1 1138.66 260.45M1020.95 236.74A51.50 51.50 0 0 1 1065.71 200.50M1001.02 278.91A74.30 74.30 0 0 1 1038.80 184.46M1133.63 202.24A80.50 80.50 0 0 1 1118.65 316.09M1120.75 318.89A84.00 84.00 0 0 1 986.66 243.02M1070.20 251.80L1037.17 212.29M1070.20 251.80L1123.59 208.10M1074.41 182.93L1074.96 173.95M1065.71 200.50L1064.01 181.07M1138.66 260.45L1150.07 261.89M1020.95 236.74L999.15 230.08M1001.02 278.91L991.99 282.45M1118.65 316.09L1120.75 318.89M1070.88 173.80A78.00 78.00 0 0 1 1079.71 174.38M1070.88 173.80L1070.98 162.80M1079.71 174.38L1081.05 163.46M1057.87 181.88A71.00 71.00 0 0 1 1067.72 180.84M1057.87 181.88L1054.75 164.15M1067.72 180.84L1067.09 162.85M1059.07 172.58A80.00 80.00 0 0 1 1064.62 171.99M1059.07 172.58L1057.81 163.67M1064.62 171.99L1063.99 163.02M1035.76 177.94A81.50 81.50 0 0 1 1046.37 173.86M1035.76 177.94L1033.43 172.95M1046.37 173.86L1044.76 168.60M1011.51 193.11A83.00 83.00 0 0 1 1024.99 182.19M1011.51 193.11L1007.97 189.57M1024.99 182.19L1022.27 178.00M1134.82 201.32A82.00 82.00 0 0 1 1141.21 210.80M1134.82 201.32L1137.97 198.85M1141.21 210.80L1144.68 208.80M1142.60 290.30A82.00 82.00 0 0 1 1119.55 317.29M1142.60 290.30L1146.13 292.17M1119.55 317.29L1121.96 320.48M1040.96 332.14A85.50 85.50 0 0 1 1021.16 321.84M1040.96 332.14L1039.93 334.96M1021.16 321.84L1019.44 324.29" fill="none" stroke="#111" stroke-width="1.15" stroke-linejoin="miter"/><path d="M1075.11 161.55A90.38 90.38 0 0 1 1090.21 163.66M1092.52 164.21A90.39 90.39 0 0 1 1097.47 165.62M1099.23 167.68A88.99 88.99 0 0 1 1105.06 169.92M1106.63 170.53A89.06 89.06 0 0 1 1111.00 172.64M1112.68 173.84A88.78 88.78 0 0 1 1118.58 177.36M1139.72 194.04A90.38 90.38 0 0 1 1147.98 205.76M1148.19 208.46A89.22 89.22 0 0 1 1155.05 224.20M1147.88 211.52A87.50 87.50 0 0 1 1152.87 223.13M1154.59 225.13A88.51 88.51 0 0 1 1156.83 233.66M1158.01 234.69A89.46 89.46 0 0 1 1159.29 243.64M1156.07 236.42A87.24 87.24 0 0 1 1156.99 242.96M1158.74 251.73A88.54 88.54 0 0 1 1157.47 266.72M1157.30 268.01A88.59 88.59 0 0 1 1154.09 280.27M1154.06 269.27A85.66 85.66 0 0 1 1151.70 278.17M1147.19 297.54A89.55 89.55 0 0 1 1141.89 305.46M1141.93 306.53A90.22 90.22 0 0 1 1131.64 317.87M1138.23 306.51A87.30 87.30 0 0 1 1130.73 314.71M1131.13 318.50A90.34 90.34 0 0 1 1123.74 324.56M1128.15 317.29A87.45 87.45 0 0 1 1122.77 321.69M1121.53 324.33A88.85 88.85 0 0 1 1113.93 329.15M1119.45 323.68A87.13 87.13 0 0 1 1113.84 327.21M1112.14 329.84A88.60 88.60 0 0 1 1095.04 336.84M1093.78 338.33A89.69 89.69 0 0 1 1083.59 340.48M1082.21 341.33A90.33 90.33 0 0 1 1071.53 342.12M1080.36 339.30A88.09 88.09 0 0 1 1072.54 339.86M1069.31 342.20A90.40 90.40 0 0 1 1062.74 341.89M1060.79 340.10A88.80 88.80 0 0 1 1054.72 339.24M1040.63 336.25A89.48 89.48 0 0 1 1024.01 328.43M1023.07 327.06A88.79 88.79 0 0 1 1015.93 322.08M1023.59 323.85A85.81 85.81 0 0 1 1018.42 320.23M1013.81 320.88A89.18 89.18 0 0 1 1004.07 311.62M1013.50 318.14A87.27 87.27 0 0 1 1006.37 311.31M1002.01 310.65A90.07 90.07 0 0 1 992.18 296.82M991.97 294.72A89.23 89.23 0 0 1 986.24 281.99M985.24 281.12A89.88 89.88 0 0 1 982.18 269.98M987.46 278.58A86.96 86.96 0 0 1 985.27 270.48M982.10 268.11A89.59 89.59 0 0 1 980.68 255.34M984.25 265.81A87.09 87.09 0 0 1 983.24 256.49M980.13 253.86A90.10 90.10 0 0 1 981.22 237.64M982.57 251.42A87.63 87.63 0 0 1 983.43 239.59M981.48 235.63A90.19 90.19 0 0 1 985.88 219.80M996.17 200.32A90.17 90.17 0 0 1 1003.80 190.79M1005.00 189.82A89.96 89.96 0 0 1 1015.78 180.17M1008.41 190.15A87.29 87.29 0 0 1 1016.28 183.15M1017.29 179.31A89.75 89.75 0 0 1 1029.26 171.93M1031.30 171.95A88.82 88.82 0 0 1 1044.99 166.63M1034.32 173.26A86.34 86.34 0 0 1 1044.32 169.42M1046.04 166.57A88.58 88.58 0 0 1 1059.94 163.81M1048.55 167.80A86.74 86.74 0 0 1 1058.77 165.81M1060.62 163.45A88.86 88.86 0 0 1 1067.12 162.99M1061.74 164.90A87.31 87.31 0 0 1 1066.53 164.57M1068.59 162.13A89.68 89.68 0 0 1 1070.04 162.12M1070.10 164.97A86.83 86.83 0 1 1 1070.05 164.97" fill="none" stroke="#111" stroke-width="1.50"/></g>
<g transform="translate(1080.30 0) scale(0.9775 1) translate(-1080.30 0)"><path d="M1075.48 861.08A16.50 16.50 0 0 1 1076.03 829.36M1130.81 886.21A65.00 65.00 0 0 1 1015.78 853.22M1081.59 778.31A67.00 67.00 0 0 1 1143.06 821.84M1002.88 854.81A78.00 78.00 0 0 1 1074.86 767.49M1153.60 818.62A78.00 78.00 0 0 1 1140.92 894.39M1134.29 909.65A84.00 84.00 0 0 1 1032.12 914.11M1084.96 756.42A89.00 89.00 0 0 1 1167.95 860.75M1124.80 922.38A89.00 89.00 0 1 1 1067.91 757.17M1080.30 845.30L1118.73 790.42M1080.30 845.30L1063.80 845.30M1079.03 828.35L1073.51 755.05M1077.93 805.37L1074.96 755.46M1077.70 783.35L1076.53 755.38M1075.97 861.22L1063.26 908.03M1015.78 853.22L1002.88 854.81M1130.81 886.21L1140.92 894.39M1143.06 821.84L1153.36 817.98M1081.59 778.31L1082.05 754.32M1159.70 855.05A80.00 80.00 0 0 1 1157.20 867.35M1159.70 855.05L1167.64 856.02M1157.20 867.35L1164.89 869.56M1144.19 890.04A78.00 78.00 0 0 1 1135.45 900.45M1144.19 890.04L1150.75 894.63M1135.45 900.45L1141.11 906.11M1006.13 815.33A80.00 80.00 0 0 1 1012.46 802.91M1006.13 815.33L1001.49 813.46M1012.46 802.91L1008.22 800.26M1027.59 782.48A82.00 82.00 0 0 1 1039.30 774.29M1027.59 782.48L1024.38 778.65M1039.30 774.29L1036.80 769.96M1108.69 767.31A83.00 83.00 0 0 1 1121.80 773.42M1108.69 767.31L1110.40 762.61M1121.80 773.42L1124.30 769.09M1034.41 910.83A80.00 80.00 0 0 1 1023.73 901.87M1034.41 910.83L1032.12 914.11M1023.73 901.87L1020.90 904.70M1156.33 876.02A82.00 82.00 0 0 1 1151.31 886.30M1156.33 876.02L1161.89 878.27M1151.31 886.30L1156.51 889.30" fill="none" stroke="#111" stroke-width="1.15" stroke-linejoin="miter"/><path d="M1083.98 754.34A91.03 91.03 0 0 1 1094.03 755.31M1085.36 756.67A88.78 88.78 0 0 1 1092.72 757.39M1096.26 756.18A90.53 90.53 0 0 1 1102.02 757.41M1096.74 758.38A88.46 88.46 0 0 1 1100.96 759.28M1103.68 758.79A89.61 89.61 0 0 1 1114.15 762.32M1104.81 760.84A87.95 87.95 0 0 1 1112.51 763.46M1116.09 761.80A90.85 90.85 0 0 1 1131.78 770.44M1117.44 765.27A88.23 88.23 0 0 1 1128.85 771.63M1132.40 770.99A90.75 90.75 0 0 1 1139.43 776.45M1132.53 773.09A89.12 89.12 0 0 1 1137.70 777.13M1140.40 777.08A90.92 90.92 0 0 1 1145.99 782.45M1139.37 779.95A88.09 88.09 0 0 1 1143.43 783.86M1147.10 784.56A90.28 90.28 0 0 1 1150.68 788.75M1146.06 786.60A88.15 88.15 0 0 1 1148.67 789.67M1151.53 791.04A89.54 89.54 0 0 1 1155.15 796.15M1156.33 798.13A89.47 89.47 0 0 1 1160.02 804.70M1161.82 804.54A91.14 91.14 0 0 1 1164.32 809.98M1160.33 806.26A89.04 89.04 0 0 1 1162.16 810.25M1163.63 812.25A89.65 89.65 0 0 1 1165.66 817.90M1167.20 819.98A90.51 90.51 0 0 1 1168.58 825.31M1165.59 821.29A88.61 88.61 0 0 1 1166.60 825.21M1169.29 827.74A90.71 90.71 0 0 1 1171.00 846.59M1170.30 847.66A90.03 90.03 0 0 1 1168.96 860.94M1168.61 862.64A89.99 89.99 0 0 1 1164.27 877.67M1164.82 879.76A91.27 91.27 0 0 1 1159.94 889.89M1158.65 889.93A90.17 90.17 0 0 1 1149.51 903.09M1155.58 890.88A88.00 88.00 0 0 1 1148.84 900.49M1148.21 903.61A89.51 89.51 0 0 1 1144.20 907.98M1144.28 909.01A90.29 90.29 0 0 1 1132.21 919.18M1131.01 919.37A89.76 89.76 0 0 1 1117.89 926.81M1116.74 927.63A90.04 90.04 0 0 1 1107.40 931.16M1106.31 930.83A89.40 89.40 0 0 1 1090.15 934.16M1069.48 934.36A89.72 89.72 0 0 1 1064.66 933.64M1069.06 931.87A87.30 87.30 0 0 1 1065.55 931.35M1062.12 933.88A90.42 90.42 0 0 1 1052.68 931.40M1061.04 931.98A88.79 88.79 0 0 1 1054.09 930.14M1051.15 930.66A90.20 90.20 0 0 1 1037.79 924.86M1036.25 923.37A89.64 89.64 0 0 1 1027.76 917.93M1026.18 916.58A89.50 89.50 0 0 1 1013.65 905.03M1025.60 913.22A87.21 87.21 0 0 1 1016.48 904.73M1012.00 905.22A90.86 90.86 0 0 1 1003.75 894.25M1011.82 902.68A89.34 89.34 0 0 1 1005.77 894.56M1003.90 893.01A90.08 90.08 0 0 1 998.58 883.19M1004.93 890.44A87.85 87.85 0 0 1 1001.06 883.24M993.03 868.82A90.39 90.39 0 0 1 990.05 850.26M989.78 848.62A90.59 90.59 0 0 1 990.85 831.00M992.11 830.00A89.51 89.51 0 0 1 995.86 815.61M996.45 814.26A89.41 89.41 0 0 1 1001.16 803.71M1000.43 801.80A90.95 90.95 0 0 1 1010.11 787.47M1011.62 786.37A90.49 90.49 0 0 1 1023.98 774.46M1025.99 773.94A89.68 89.68 0 0 1 1034.63 768.12M1035.19 767.14A90.24 90.24 0 0 1 1040.16 764.48M1040.50 763.62A90.87 90.87 0 0 1 1055.26 757.95M1043.86 765.27A87.93 87.93 0 0 1 1054.59 761.21M1077.63 755.58A89.76 89.76 0 0 1 1080.14 755.54" fill="none" stroke="#111" stroke-width="1.50"/></g>
<g transform="translate(249.60 0) scale(0.9780 1) translate(-249.60 0)"><path d="M245.53 1538.32A30.00 30.00 0 0 1 226.12 1489.92M186.16 1505.83A63.50 63.50 0 0 1 234.35 1446.96M253.02 1438.68A70.00 70.00 0 0 1 319.48 1512.75M187.25 1561.85A82.00 82.00 0 0 1 190.02 1452.26M300.84 1443.95A82.50 82.50 0 0 1 314.61 1559.39M317.37 1561.55A86.00 86.00 0 0 1 257.10 1594.27M249.60 1508.60L301.46 1461.58M249.60 1508.60L221.84 1519.98M226.09 1489.97L199.84 1469.16M234.35 1446.96L229.90 1429.00M186.16 1505.83L167.68 1505.02M245.32 1538.29L239.33 1579.86M319.48 1512.75L331.95 1513.49M253.02 1438.68L254.19 1414.71M241.45 1580.14A72.00 72.00 0 0 1 237.10 1579.51M241.45 1580.14L239.86 1594.05M237.10 1579.51L234.67 1593.29M243.60 1594.39A86.00 86.00 0 0 1 236.89 1593.66M243.60 1594.39L243.18 1600.38M236.89 1593.66L236.00 1599.59M217.56 1433.12A82.00 82.00 0 0 1 233.95 1428.11M217.56 1433.12L215.22 1427.60M233.95 1428.11L232.81 1422.22M219.50 1425.91A88.00 88.00 0 0 1 226.82 1423.60M219.50 1425.91L218.13 1422.15M226.82 1423.60L225.79 1419.73M228.31 1423.21A88.00 88.00 0 0 1 235.83 1421.68M228.31 1423.21L227.34 1419.33M235.83 1421.68L235.21 1417.73M201.51 1437.30A86.00 86.00 0 0 1 211.90 1431.30M201.51 1437.30L198.71 1433.16M211.90 1431.30L209.71 1426.81M176.85 1466.60A84.00 84.00 0 0 1 188.17 1451.31M176.85 1466.60L173.39 1464.60M188.17 1451.31L185.24 1448.58M301.93 1441.62A85.00 85.00 0 0 1 316.58 1456.27M301.93 1441.62L304.39 1438.47M316.58 1456.27L319.73 1453.81M315.79 1560.32A84.00 84.00 0 0 1 303.59 1572.95M315.79 1560.32L318.55 1562.47M303.59 1572.95L305.84 1575.63M279.70 1591.29A88.00 88.00 0 0 1 261.85 1595.74M279.70 1591.29L280.72 1594.11M261.85 1595.74L262.26 1598.71M187.25 1561.85A82.00 82.00 0 0 1 178.59 1549.60M187.25 1561.85L184.21 1564.45M178.59 1549.60L175.12 1551.60" fill="none" stroke="#111" stroke-width="1.15" stroke-linejoin="miter"/><path d="M251.70 1415.63A93.00 93.00 0 0 1 266.49 1417.15M253.85 1417.55A91.15 91.15 0 0 1 264.72 1418.71M267.13 1418.73A91.56 91.56 0 0 1 274.94 1420.62M276.35 1419.56A92.98 92.98 0 0 1 284.99 1422.62M285.64 1422.82A93.04 93.04 0 0 1 293.67 1426.66M295.69 1427.60A93.20 93.20 0 0 1 309.60 1437.29M310.23 1438.33A92.81 92.81 0 0 1 322.17 1450.74M322.39 1452.45A91.93 91.93 0 0 1 328.09 1460.74M321.11 1455.28A89.20 89.20 0 0 1 325.25 1461.33M329.62 1462.38A92.41 92.41 0 0 1 337.41 1479.83M336.97 1480.92A91.65 91.65 0 0 1 340.25 1495.07M335.41 1483.64A89.37 89.37 0 0 1 337.77 1494.01M340.84 1496.13A92.09 92.09 0 0 1 341.69 1507.56M338.84 1498.09A89.86 89.86 0 0 1 339.43 1506.46M341.63 1508.65A92.03 92.03 0 0 1 341.26 1516.87M339.15 1509.85A89.56 89.56 0 0 1 338.86 1515.85M342.13 1519.47A93.17 93.17 0 0 1 340.30 1529.88M340.23 1520.81A91.45 91.45 0 0 1 338.87 1528.48M338.27 1531.65A91.62 91.62 0 0 1 332.56 1547.49M334.91 1533.31A88.82 88.82 0 0 1 330.70 1544.81M332.78 1550.22A93.01 93.01 0 0 1 324.07 1564.32M329.36 1551.21A90.43 90.43 0 0 1 322.96 1561.48M323.31 1564.90A92.75 92.75 0 0 1 310.31 1578.72M319.66 1565.60A90.32 90.32 0 0 1 310.11 1575.66M308.96 1579.87A92.76 92.76 0 0 1 298.02 1587.71M306.18 1579.63A90.81 90.81 0 0 1 298.13 1585.36M296.68 1587.35A91.75 91.75 0 0 1 283.55 1593.84M293.56 1586.31A89.29 89.29 0 0 1 283.95 1591.01M282.10 1594.86A92.18 92.18 0 0 1 269.95 1598.50M279.77 1593.97A90.54 90.54 0 0 1 270.81 1596.62M269.26 1598.38A91.90 91.90 0 0 1 250.20 1600.50M266.00 1596.59A89.51 89.51 0 0 1 252.05 1598.07M249.40 1601.57A92.97 92.97 0 0 1 237.71 1600.81M247.69 1599.55A90.97 90.97 0 0 1 239.10 1598.96M236.21 1599.87A92.25 92.25 0 0 1 217.94 1595.24M216.49 1595.63A93.12 93.12 0 0 1 211.55 1593.59M211.05 1591.93A91.82 91.82 0 0 1 198.28 1584.74M197.25 1583.90A91.71 91.71 0 0 1 190.64 1578.84M197.14 1581.91A90.15 90.15 0 0 1 192.27 1578.18M189.06 1578.53A92.50 92.50 0 0 1 184.58 1574.39M190.13 1575.94A89.84 89.84 0 0 1 186.87 1572.91M184.24 1573.30A91.97 91.97 0 0 1 176.52 1564.43M184.57 1570.55A89.81 89.81 0 0 1 178.93 1564.03M175.19 1564.30A92.95 92.95 0 0 1 166.09 1549.41M175.25 1561.05A90.99 90.99 0 0 1 168.61 1550.08M166.32 1547.75A92.02 92.02 0 0 1 164.20 1542.89M168.54 1545.85A89.21 89.21 0 0 1 167.01 1542.32M163.72 1540.35A91.56 91.56 0 0 1 161.99 1535.21M161.64 1534.00A91.55 91.55 0 0 1 158.41 1516.70M162.76 1530.98A89.68 89.68 0 0 1 160.44 1518.25M157.74 1514.43A92.04 92.04 0 0 1 157.56 1507.45M160.38 1513.24A89.34 89.34 0 0 1 160.26 1508.16M156.46 1506.37A93.17 93.17 0 0 1 158.09 1491.08M159.20 1488.82A92.54 92.54 0 0 1 162.26 1478.00M163.24 1475.82A92.37 92.37 0 0 1 165.77 1469.82M172.39 1459.76A91.36 91.36 0 0 1 175.78 1454.77M187.28 1440.18A92.54 92.54 0 0 1 200.49 1430.16M202.75 1429.98A91.52 91.52 0 0 1 210.67 1425.77M205.41 1431.89A88.52 88.52 0 0 1 211.16 1428.86M211.79 1424.51A92.20 92.20 0 0 1 219.89 1421.32M213.60 1425.40A90.66 90.66 0 0 1 219.58 1423.06M231.38 1418.29A92.13 92.13 0 0 1 248.39 1416.48" fill="none" stroke="#111" stroke-width="1.50"/></g>
</svg>
</body></html>
